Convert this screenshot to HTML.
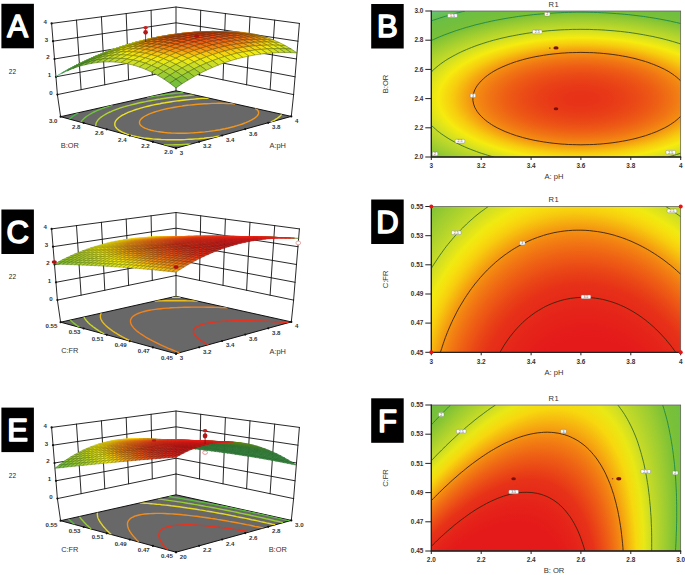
<!DOCTYPE html>
<html><head><meta charset="utf-8"><title>Response surfaces</title>
<style>html,body{margin:0;padding:0;background:#fff;overflow:hidden}svg{display:block}</style></head>
<body>
<svg width="685" height="575" viewBox="0 0 685 575">
<rect width="685" height="575" fill="#fff"/>
<g fill="none" stroke="#111" stroke-width="0.9" stroke-linecap="round">
<path d="M57.4 94.6L176.0 70.0L293.6 94.6M56.0 76.8L176.0 54.2L295.1 76.8M54.5 59.0L176.0 38.5L296.5 59.0M53.0 41.2L176.0 22.8L298.0 41.2M51.6 23.4L176.0 7.0L299.4 23.4M57.4 94.6L51.6 23.4M293.6 94.6L299.4 23.4M81.1 89.7L76.5 20.1M270.1 89.7L274.7 20.1M104.8 84.8L101.4 16.8M246.6 84.8L250.0 16.8M128.6 79.8L126.2 13.6M223.0 79.8L225.4 13.6M152.3 74.9L151.1 10.3M199.5 74.9L200.7 10.3M176.0 70.0L176.0 7.0M57.4 94.6L60.6 116.7M176.0 70.0L176.0 90.8M293.6 94.6L291.3 116.4"/>
</g>
<circle cx="57.4" cy="94.6" r="1.1" fill="#111"/>
<text x="52.6" y="95.0" font-size="6.1" font-weight="bold" fill="#333" text-anchor="end" font-family="Liberation Sans, sans-serif">0</text>
<circle cx="56.0" cy="76.8" r="1.1" fill="#111"/>
<text x="51.2" y="77.2" font-size="6.1" font-weight="bold" fill="#333" text-anchor="end" font-family="Liberation Sans, sans-serif">1</text>
<circle cx="54.5" cy="59.0" r="1.1" fill="#111"/>
<text x="49.7" y="59.4" font-size="6.1" font-weight="bold" fill="#333" text-anchor="end" font-family="Liberation Sans, sans-serif">2</text>
<circle cx="53.0" cy="41.2" r="1.1" fill="#111"/>
<text x="48.2" y="41.6" font-size="6.1" font-weight="bold" fill="#333" text-anchor="end" font-family="Liberation Sans, sans-serif">3</text>
<circle cx="51.6" cy="23.4" r="1.1" fill="#111"/>
<text x="46.8" y="23.8" font-size="6.1" font-weight="bold" fill="#333" text-anchor="end" font-family="Liberation Sans, sans-serif">4</text>
<path d="M60.6 116.7L176.0 90.8L291.3 116.4L176.0 148.2Z" fill="#686868" stroke="#111" stroke-width="1" stroke-linejoin="round"/>
<clipPath id="f1"><path d="M60.6 116.7L176.0 90.8L291.3 116.4L176.0 148.2Z"/></clipPath>
<g clip-path="url(#f1)" fill="none" stroke-width="1.4">
<path d="M78.7 112.6L77.4 113.4L76.5 113.9L74.9 114.9L74.2 115.4L73.3 116.0L72.1 116.9L71.4 117.5L70.8 118.0L69.8 118.9L69.6 119.2" stroke="#46b446"/>
<path d="M183.5 92.5L181.5 92.7L177.5 93.1L175.6 93.3L171.8 93.7L169.9 94.0L166.2 94.4L164.4 94.7L160.8 95.2L157.3 95.7L155.5 95.9L152.1 96.5L148.8 97.0L147.2 97.3" stroke="#6ec33c"/>
<path d="M112.5 105.1L110.1 105.8L107.7 106.6L105.4 107.3L104.2 107.8L102.0 108.6L100.6 109.1L98.8 109.8L96.9 110.6L95.8 111.2L94.0 112.0L92.9 112.5L91.5 113.3L90.3 114.0L89.5 114.5L87.9 115.5L87.1 116.0L86.2 116.6L85.0 117.6L84.4 118.1L83.8 118.7L83.0 119.5L82.2 120.4L81.7 121.0L81.3 121.6L80.9 122.3L80.9 122.3" stroke="#6ec33c"/>
<path d="M163.8 144.9L166.7 144.9L169.6 144.9L172.4 144.9L175.1 144.8L177.8 144.7L180.4 144.7L183.6 144.5L187.1 144.3L190.2 144.2L190.8 144.1" stroke="#afd432"/>
<path d="M194.5 94.9L190.8 95.2L188.2 95.5L186.0 95.7L182.1 96.1L180.2 96.3L176.3 96.7L174.4 97.0L170.7 97.5L168.3 97.8L165.3 98.2L161.8 98.7L160.1 99.0L156.8 99.5L153.5 100.1L150.2 100.7L147.7 101.1L145.6 101.6L142.5 102.2L139.6 102.8L136.7 103.5L133.9 104.2L131.1 104.9L129.3 105.4L127.2 105.9L124.6 106.7L122.1 107.4L119.7 108.2L118.6 108.6L116.3 109.4L114.5 110.1L113.0 110.7L111.0 111.6L110.0 112.0L108.1 112.9L107.1 113.4L105.4 114.3L104.5 114.9L103.5 115.5L102.2 116.4L101.4 116.9L100.5 117.6L99.5 118.5L98.9 119.1L98.3 119.7L97.7 120.4L97.1 121.3L96.6 122.1L96.3 122.8L96.1 123.4L95.9 124.1L95.8 124.8L95.8 125.6L95.9 126.3L95.9 126.3" stroke="#afd432"/>
<path d="M270.6 122.1L272.0 121.4L273.6 120.6L274.8 119.9L275.9 119.2L277.3 118.3L278.0 117.7L279.1 116.9L280.1 116.0L280.7 115.5L281.2 114.9L281.7 114.3" stroke="#ebe128"/>
<path d="M208.6 98.0L206.2 98.2L202.5 98.4L199.4 98.6L197.2 98.8L194.1 99.1L190.8 99.4L188.8 99.6L184.8 100.0L182.8 100.2L179.0 100.7L177.2 100.9L173.5 101.4L171.3 101.7L168.2 102.2L164.9 102.8L161.6 103.3L159.9 103.7L156.8 104.3L153.7 104.9L150.8 105.5L147.9 106.2L145.1 106.9L142.4 107.6L139.8 108.4L138.4 108.8L136.0 109.5L133.6 110.3L131.6 111.1L130.2 111.6L128.1 112.4L127.1 112.9L125.1 113.8L124.2 114.3L122.4 115.2L121.6 115.7L120.4 116.5L119.3 117.3L118.6 117.8L117.8 118.6L116.8 119.5L116.3 120.1L115.9 120.7L115.5 121.3L115.2 122.1L114.9 122.9L114.8 123.6L114.8 124.4L114.9 125.1L115.0 125.8L115.3 126.5L115.8 127.3L116.6 128.2L117.3 129.0L118.0 129.5L119.2 130.4L120.4 131.2L121.7 131.9L123.4 132.7L125.7 133.6L127.0 134.1L129.6 134.9L132.5 135.7L135.6 136.4L137.3 136.8L140.7 137.4L143.8 137.9L146.4 138.2L149.1 138.5L152.6 138.9L154.8 139.1L157.5 139.3L161.2 139.5L164.4 139.6L167.0 139.7L169.7 139.8L172.5 139.8L175.4 139.8L178.4 139.7L181.5 139.7L184.5 139.6L187.0 139.4L189.5 139.3L191.9 139.2L195.6 138.9L198.7 138.7L200.9 138.5L204.0 138.2L207.3 137.8L209.3 137.6L213.3 137.1L215.3 136.8L219.1 136.2L219.7 136.1" stroke="#ebe128"/>
<path d="M235.2 104.0L232.9 103.8L230.7 103.6L226.9 103.5L223.6 103.4L221.0 103.3L218.3 103.3L215.4 103.4L212.3 103.4L209.2 103.6L206.7 103.7L204.3 103.8L201.8 104.0L197.8 104.3L195.4 104.5L193.3 104.7L189.3 105.1L187.3 105.3L183.5 105.8L181.7 106.1L178.2 106.6L174.7 107.2L173.1 107.5L169.9 108.1L166.8 108.7L163.9 109.4L161.1 110.1L158.4 110.9L155.8 111.6L154.6 112.0L152.2 112.8L150.0 113.7L148.9 114.1L146.9 115.1L146.0 115.5L144.3 116.5L143.5 117.0L142.7 117.6L141.5 118.6L140.9 119.3L140.4 119.9L140.0 120.5L139.7 121.2L139.5 122.0L139.5 122.7L139.6 123.4L139.9 124.1L140.4 125.0L141.3 125.9L142.1 126.5L143.0 127.1L144.8 128.1L146.3 128.7L148.2 129.4L150.9 130.2L154.0 130.9L156.6 131.4L159.2 131.8L162.9 132.3L165.1 132.6L167.4 132.8L171.2 133.0L174.5 133.1L177.1 133.2L179.8 133.2L182.7 133.2L185.8 133.2L188.9 133.1L191.4 132.9L193.8 132.8L196.3 132.6L200.3 132.3L202.7 132.1L204.8 131.9L208.8 131.4L210.8 131.1L214.6 130.6L216.4 130.3L219.9 129.7L223.3 129.0L225.0 128.7L228.2 128.0L231.3 127.2L234.2 126.5L237.0 125.7L239.7 124.8L242.3 124.0L243.5 123.5L245.9 122.6L248.1 121.7L249.2 121.2L251.2 120.2L252.1 119.7L253.8 118.7L254.6 118.1L255.4 117.5L256.6 116.5L257.2 115.9L257.7 115.3L258.1 114.7L258.4 113.9L258.6 113.1L258.6 112.4L258.5 111.8L258.2 111.1L257.7 110.3L256.7 109.4L256.0 108.9L255.1 108.4L255.1 108.4" stroke="#f0961e"/>
</g>
<circle cx="60.6" cy="116.7" r="1.1" fill="#111"/>
<text x="57.4" y="122.6" font-size="6.1" font-weight="bold" fill="#333" text-anchor="end" font-family="Liberation Sans, sans-serif">3.0</text>
<circle cx="83.7" cy="123.0" r="1.1" fill="#111"/>
<text x="80.5" y="128.9" font-size="6.1" font-weight="bold" fill="#333" text-anchor="end" font-family="Liberation Sans, sans-serif">2.8</text>
<circle cx="106.8" cy="129.3" r="1.1" fill="#111"/>
<text x="103.6" y="135.2" font-size="6.1" font-weight="bold" fill="#333" text-anchor="end" font-family="Liberation Sans, sans-serif">2.6</text>
<circle cx="129.8" cy="135.6" r="1.1" fill="#111"/>
<text x="126.6" y="141.5" font-size="6.1" font-weight="bold" fill="#333" text-anchor="end" font-family="Liberation Sans, sans-serif">2.4</text>
<circle cx="152.9" cy="141.9" r="1.1" fill="#111"/>
<text x="149.7" y="147.8" font-size="6.1" font-weight="bold" fill="#333" text-anchor="end" font-family="Liberation Sans, sans-serif">2.2</text>
<circle cx="176.0" cy="148.2" r="1.1" fill="#111"/>
<text x="172.8" y="154.1" font-size="6.1" font-weight="bold" fill="#333" text-anchor="end" font-family="Liberation Sans, sans-serif">2.0</text>
<circle cx="176.0" cy="148.2" r="1.1" fill="#111"/>
<text x="179.8" y="154.6" font-size="6.1" font-weight="bold" fill="#333" text-anchor="start" font-family="Liberation Sans, sans-serif">3</text>
<circle cx="199.1" cy="141.8" r="1.1" fill="#111"/>
<text x="202.9" y="148.2" font-size="6.1" font-weight="bold" fill="#333" text-anchor="start" font-family="Liberation Sans, sans-serif">3.2</text>
<circle cx="222.1" cy="135.5" r="1.1" fill="#111"/>
<text x="225.9" y="141.9" font-size="6.1" font-weight="bold" fill="#333" text-anchor="start" font-family="Liberation Sans, sans-serif">3.4</text>
<circle cx="245.2" cy="129.1" r="1.1" fill="#111"/>
<text x="249.0" y="135.5" font-size="6.1" font-weight="bold" fill="#333" text-anchor="start" font-family="Liberation Sans, sans-serif">3.6</text>
<circle cx="268.2" cy="122.8" r="1.1" fill="#111"/>
<text x="272.0" y="129.2" font-size="6.1" font-weight="bold" fill="#333" text-anchor="start" font-family="Liberation Sans, sans-serif">3.8</text>
<circle cx="291.3" cy="116.4" r="1.1" fill="#111"/>
<text x="295.1" y="122.8" font-size="6.1" font-weight="bold" fill="#333" text-anchor="start" font-family="Liberation Sans, sans-serif">4</text>
<text x="69.8" y="147.8" font-size="7.4" fill="#333" text-anchor="middle" font-family="Liberation Sans, sans-serif">B:OR</text>
<text x="277.7" y="148.0" font-size="7.4" fill="#333" text-anchor="middle" font-family="Liberation Sans, sans-serif">A:pH</text>
<text x="12.4" y="73.9" font-size="6.5" fill="#222" text-anchor="middle" font-family="Liberation Sans, sans-serif">22</text>
<g stroke-width="0.6" stroke-linejoin="round">
<path d="M176.0 43.5L182.0 43.8L176.0 46.6L170.0 46.3Z" fill="#398d40" stroke="#2b6a30"/>
<path d="M169.9 43.3L176.0 43.5L170.0 46.3L163.9 46.2Z" fill="#398d40" stroke="#2b6a30"/>
<path d="M182.0 40.9L188.0 41.2L182.0 43.8L176.0 43.5Z" fill="#398d40" stroke="#2b6a30"/>
<path d="M163.8 43.4L169.9 43.3L163.9 46.2L157.8 46.3Z" fill="#398d40" stroke="#2b6a30"/>
<path d="M188.0 38.6L194.1 39.0L188.0 41.2L182.0 40.9Z" fill="#398d40" stroke="#2b6a30"/>
<path d="M175.9 40.8L182.0 40.9L176.0 43.5L169.9 43.3Z" fill="#398d40" stroke="#2b6a30"/>
<path d="M157.7 43.6L163.8 43.4L157.8 46.3L151.8 46.5Z" fill="#398d40" stroke="#2b6a30"/>
<path d="M169.8 40.8L175.9 40.8L169.9 43.3L163.8 43.4Z" fill="#398d40" stroke="#2b6a30"/>
<path d="M182.0 38.5L188.0 38.6L182.0 40.9L175.9 40.8Z" fill="#398d40" stroke="#2b6a30"/>
<path d="M194.1 36.7L200.2 37.0L194.1 39.0L188.0 38.6Z" fill="#398d40" stroke="#2b6a30"/>
<path d="M175.9 38.5L182.0 38.5L175.9 40.8L169.8 40.8Z" fill="#398d40" stroke="#2b6a30"/>
<path d="M151.6 43.9L157.7 43.6L151.8 46.5L145.7 46.9Z" fill="#398d40" stroke="#2b6a30"/>
<path d="M163.7 41.0L169.8 40.8L163.8 43.4L157.7 43.6Z" fill="#398d40" stroke="#2b6a30"/>
<path d="M188.0 36.5L194.1 36.7L188.0 38.6L182.0 38.5Z" fill="#398d40" stroke="#2b6a30"/>
<path d="M200.2 35.0L206.3 35.4L200.2 37.0L194.1 36.7Z" fill="#398d40" stroke="#2b6a30"/>
<path d="M145.6 44.5L151.6 43.9L145.7 46.9L139.6 47.4Z" fill="#398d40" stroke="#2b6a30"/>
<path d="M169.8 38.6L175.9 38.5L169.8 40.8L163.7 41.0Z" fill="#398d40" stroke="#2b6a30"/>
<path d="M181.9 36.5L188.0 36.5L182.0 38.5L175.9 38.5Z" fill="#398d40" stroke="#2b6a30"/>
<path d="M206.4 33.7L212.4 34.1L206.3 35.4L200.2 35.0Z" fill="#398d40" stroke="#2b6a30"/>
<path d="M157.6 41.3L163.7 41.0L157.7 43.6L151.6 43.9Z" fill="#398d40" stroke="#2b6a30"/>
<path d="M194.1 34.8L200.2 35.0L194.1 36.7L188.0 36.5Z" fill="#398d40" stroke="#2b6a30"/>
<path d="M139.5 45.3L145.6 44.5L139.6 47.4L133.6 48.2Z" fill="#398d40" stroke="#2b6a30"/>
<path d="M151.5 41.9L157.6 41.3L151.6 43.9L145.6 44.5Z" fill="#398d40" stroke="#2b6a30"/>
<path d="M163.7 39.0L169.8 38.6L163.7 41.0L157.6 41.3Z" fill="#398d40" stroke="#2b6a30"/>
<path d="M175.8 36.6L181.9 36.5L175.9 38.5L169.8 38.6Z" fill="#398d40" stroke="#2b6a30"/>
<path d="M188.0 34.8L194.1 34.8L188.0 36.5L181.9 36.5Z" fill="#398d40" stroke="#2b6a30"/>
<path d="M200.3 33.5L206.4 33.7L200.2 35.0L194.1 34.8Z" fill="#398d40" stroke="#2b6a30"/>
<path d="M212.5 32.7L218.6 33.1L212.4 34.1L206.4 33.7Z" fill="#398d40" stroke="#2b6a30"/>
<path d="M133.4 46.2L139.5 45.3L133.6 48.2L127.5 49.2Z" fill="#398d40" stroke="#2b6a30"/>
<path d="M157.6 39.5L163.7 39.0L157.6 41.3L151.5 41.9Z" fill="#398d40" stroke="#2b6a30"/>
<path d="M194.2 33.5L200.3 33.5L194.1 34.8L188.0 34.8Z" fill="#398d40" stroke="#2b6a30"/>
<path d="M218.6 32.0L224.7 32.4L218.6 33.1L212.5 32.7Z" fill="#3b8e3d" stroke="#2c6a2e"/>
<path d="M145.4 42.6L151.5 41.9L145.6 44.5L139.5 45.3Z" fill="#398d40" stroke="#2b6a30"/>
<path d="M169.7 37.0L175.8 36.6L169.8 38.6L163.7 39.0Z" fill="#398d40" stroke="#2b6a30"/>
<path d="M181.9 35.0L188.0 34.8L181.9 36.5L175.8 36.6Z" fill="#398d40" stroke="#2b6a30"/>
<path d="M206.4 32.5L212.5 32.7L206.4 33.7L200.3 33.5Z" fill="#3a8e3e" stroke="#2c6a2f"/>
<path d="M127.3 47.3L133.4 46.2L127.5 49.2L121.4 50.3Z" fill="#398d40" stroke="#2b6a30"/>
<path d="M139.3 43.5L145.4 42.6L139.5 45.3L133.4 46.2Z" fill="#398d40" stroke="#2b6a30"/>
<path d="M151.5 40.3L157.6 39.5L151.5 41.9L145.4 42.6Z" fill="#398d40" stroke="#2b6a30"/>
<path d="M163.6 37.5L169.7 37.0L163.7 39.0L157.6 39.5Z" fill="#398d40" stroke="#2b6a30"/>
<path d="M188.0 33.6L194.2 33.5L188.0 34.8L181.9 35.0Z" fill="#3a8e3e" stroke="#2c6a2f"/>
<path d="M200.3 32.4L206.4 32.5L200.3 33.5L194.2 33.5Z" fill="#3b8e3c" stroke="#2c6a2d"/>
<path d="M212.5 31.8L218.6 32.0L212.5 32.7L206.4 32.5Z" fill="#3c8e3b" stroke="#2d6a2c"/>
<path d="M224.8 31.7L230.8 32.1L224.7 32.4L218.6 32.0Z" fill="#3c8e3b" stroke="#2d6a2c"/>
<path d="M175.8 35.3L181.9 35.0L175.8 36.6L169.7 37.0Z" fill="#398d40" stroke="#2b6a30"/>
<path d="M145.3 41.2L151.5 40.3L145.4 42.6L139.3 43.5Z" fill="#398d40" stroke="#2b6a30"/>
<path d="M206.4 31.8L212.5 31.8L206.4 32.5L200.3 32.4Z" fill="#3d8e39" stroke="#2e6b2b"/>
<path d="M121.3 48.6L127.3 47.3L121.4 50.3L115.4 51.6Z" fill="#398d40" stroke="#2b6a30"/>
<path d="M133.3 44.6L139.3 43.5L133.4 46.2L127.3 47.3Z" fill="#398d40" stroke="#2b6a30"/>
<path d="M157.5 38.2L163.6 37.5L157.6 39.5L151.5 40.3Z" fill="#398d40" stroke="#2b6a30"/>
<path d="M169.7 35.8L175.8 35.3L169.7 37.0L163.6 37.5Z" fill="#398d40" stroke="#2b6a30"/>
<path d="M181.9 33.9L188.0 33.6L181.9 35.0L175.8 35.3Z" fill="#3b8e3d" stroke="#2c6a2e"/>
<path d="M194.2 32.6L200.3 32.4L194.2 33.5L188.0 33.6Z" fill="#3c8e3b" stroke="#2d6a2c"/>
<path d="M218.7 31.5L224.8 31.7L218.6 32.0L212.5 31.8Z" fill="#3f8f39" stroke="#2f6b2b"/>
<path d="M230.9 31.8L237.0 32.2L230.8 32.1L224.8 31.7Z" fill="#3d8e39" stroke="#2e6b2b"/>
<path d="M139.2 42.3L145.3 41.2L139.3 43.5L133.3 44.6Z" fill="#398d40" stroke="#2b6a30"/>
<path d="M151.4 39.1L157.5 38.2L151.5 40.3L145.3 41.2Z" fill="#398d40" stroke="#2b6a30"/>
<path d="M175.8 34.4L181.9 33.9L175.8 35.3L169.7 35.8Z" fill="#3b8e3c" stroke="#2d6a2d"/>
<path d="M200.3 31.9L206.4 31.8L200.3 32.4L194.2 32.6Z" fill="#429138" stroke="#316c2a"/>
<path d="M212.6 31.4L218.7 31.5L212.5 31.8L206.4 31.8Z" fill="#449237" stroke="#336d29"/>
<path d="M115.2 50.2L121.3 48.6L115.4 51.6L109.3 53.1Z" fill="#398d40" stroke="#2b6a30"/>
<path d="M237.0 32.1L243.1 32.5L237.0 32.2L230.9 31.8Z" fill="#419038" stroke="#316c2a"/>
<path d="M127.2 46.0L133.3 44.6L127.3 47.3L121.3 48.6Z" fill="#398d40" stroke="#2b6a30"/>
<path d="M163.6 36.5L169.7 35.8L163.6 37.5L157.5 38.2Z" fill="#398d3f" stroke="#2b6a30"/>
<path d="M188.0 32.9L194.2 32.6L188.0 33.6L181.9 33.9Z" fill="#3d8e39" stroke="#2e6b2b"/>
<path d="M224.8 31.5L230.9 31.8L224.8 31.7L218.7 31.5Z" fill="#449237" stroke="#336d29"/>
<path d="M109.1 51.9L115.2 50.2L109.3 53.1L103.3 54.9Z" fill="#398d40" stroke="#2b6a30"/>
<path d="M133.1 43.6L139.2 42.3L133.3 44.6L127.2 46.0Z" fill="#398d40" stroke="#2b6a30"/>
<path d="M145.3 40.2L151.4 39.1L145.3 41.2L139.2 42.3Z" fill="#398d40" stroke="#2b6a30"/>
<path d="M157.4 37.4L163.6 36.5L157.5 38.2L151.4 39.1Z" fill="#398d3f" stroke="#2b6a2f"/>
<path d="M169.7 35.1L175.8 34.4L169.7 35.8L163.6 36.5Z" fill="#3c8e3b" stroke="#2d6a2d"/>
<path d="M181.9 33.4L188.0 32.9L181.9 33.9L175.8 34.4Z" fill="#409039" stroke="#306c2a"/>
<path d="M194.2 32.2L200.3 31.9L194.2 32.6L188.0 32.9Z" fill="#459337" stroke="#346e29"/>
<path d="M206.5 31.6L212.6 31.4L206.4 31.8L200.3 31.9Z" fill="#499436" stroke="#366f28"/>
<path d="M218.7 31.5L224.8 31.5L218.7 31.5L212.6 31.4Z" fill="#499435" stroke="#376f28"/>
<path d="M243.1 32.9L249.2 33.3L243.1 32.5L237.0 32.1Z" fill="#f59c11" stroke="#e99c10"/>
<path d="M121.1 47.5L127.2 46.0L121.3 48.6L115.2 50.2Z" fill="#398d40" stroke="#2b6a30"/>
<path d="M231.0 31.9L237.0 32.1L230.9 31.8L224.8 31.5Z" fill="#f38a12" stroke="#f38a12"/>
<path d="M163.5 36.0L169.7 35.1L163.6 36.5L157.4 37.4Z" fill="#3c8e3b" stroke="#2d6a2c"/>
<path d="M188.0 32.7L194.2 32.2L188.0 32.9L181.9 33.4Z" fill="#489436" stroke="#366f28"/>
<path d="M103.1 53.8L109.1 51.9L103.3 54.9L97.3 56.8Z" fill="#398d40" stroke="#2b6a30"/>
<path d="M127.1 45.1L133.1 43.6L127.2 46.0L121.1 47.5Z" fill="#398d40" stroke="#2b6a30"/>
<path d="M224.9 31.8L231.0 31.9L224.8 31.5L218.7 31.5Z" fill="#f17913" stroke="#e67912"/>
<path d="M249.2 34.0L255.3 34.4L249.2 33.3L243.1 32.9Z" fill="#f59c11" stroke="#b27a0d"/>
<path d="M115.0 49.2L121.1 47.5L115.2 50.2L109.1 51.9Z" fill="#398d40" stroke="#2b6a30"/>
<path d="M139.2 41.5L145.3 40.2L139.2 42.3L133.1 43.6Z" fill="#398d40" stroke="#2b6a30"/>
<path d="M151.3 38.5L157.4 37.4L151.4 39.1L145.3 40.2Z" fill="#398d3f" stroke="#2b6a2f"/>
<path d="M175.8 34.1L181.9 33.4L175.8 34.4L169.7 35.1Z" fill="#429038" stroke="#316c2a"/>
<path d="M200.3 31.9L206.5 31.6L200.3 31.9L194.2 32.2Z" fill="#4c9634" stroke="#397127"/>
<path d="M212.6 31.6L218.7 31.5L212.6 31.4L206.5 31.6Z" fill="#f17513" stroke="#f17513"/>
<path d="M237.1 32.6L243.1 32.9L237.0 32.1L231.0 31.9Z" fill="#f28413" stroke="#cc7610"/>
<path d="M97.1 56.0L103.1 53.8L97.3 56.8L91.3 59.0Z" fill="#398d40" stroke="#2b6a30"/>
<path d="M121.0 46.8L127.1 45.1L121.1 47.5L115.0 49.2Z" fill="#398d40" stroke="#2b6a30"/>
<path d="M157.4 37.1L163.5 36.0L157.4 37.4L151.3 38.5Z" fill="#3c8e3b" stroke="#2d6a2c"/>
<path d="M169.6 35.0L175.8 34.1L169.7 35.1L163.5 36.0Z" fill="#429138" stroke="#326d2a"/>
<path d="M181.9 33.4L188.0 32.7L181.9 33.4L175.8 34.1Z" fill="#f28113" stroke="#f28113"/>
<path d="M194.2 32.4L200.3 31.9L194.2 32.2L188.0 32.7Z" fill="#f07113" stroke="#f07113"/>
<path d="M231.0 32.6L237.1 32.6L231.0 31.9L224.9 31.8Z" fill="#f07313" stroke="#af5a0e"/>
<path d="M255.3 35.5L261.4 35.9L255.3 34.4L249.2 34.0Z" fill="#f5a411" stroke="#7b5a08"/>
<path d="M109.0 51.1L115.0 49.2L109.1 51.9L103.1 53.8Z" fill="#398d40" stroke="#2b6a30"/>
<path d="M133.0 43.0L139.2 41.5L133.1 43.6L127.1 45.1Z" fill="#398d40" stroke="#2b6a30"/>
<path d="M218.7 32.0L224.9 31.8L218.7 31.5L212.6 31.6Z" fill="#ef6a14" stroke="#c95e10"/>
<path d="M243.2 33.8L249.2 34.0L243.1 32.9L237.1 32.6Z" fill="#f28413" stroke="#95580b"/>
<path d="M145.2 39.8L151.3 38.5L145.3 40.2L139.2 41.5Z" fill="#398d3f" stroke="#2b6a30"/>
<path d="M206.5 31.9L212.6 31.6L206.5 31.6L200.3 31.9Z" fill="#ef6914" stroke="#e26913"/>
<path d="M175.8 34.3L181.9 33.4L175.8 34.1L169.6 35.0Z" fill="#f27e13" stroke="#f27e13"/>
<path d="M114.9 48.7L121.0 46.8L115.0 49.2L109.0 51.1Z" fill="#398d40" stroke="#2b6a30"/>
<path d="M237.1 33.7L243.2 33.8L237.1 32.6L231.0 32.6Z" fill="#f07313" stroke="#783f0a"/>
<path d="M91.1 58.3L97.1 56.0L91.3 59.0L85.3 61.3Z" fill="#398d40" stroke="#2b6a30"/>
<path d="M103.0 53.3L109.0 51.1L103.1 53.8L97.1 56.0Z" fill="#398d40" stroke="#2b6a30"/>
<path d="M127.0 44.8L133.0 43.0L127.1 45.1L121.0 46.8Z" fill="#398d40" stroke="#2b6a30"/>
<path d="M151.3 38.4L157.4 37.1L151.3 38.5L145.2 39.8Z" fill="#3c8e3b" stroke="#2d6a2d"/>
<path d="M163.5 36.1L169.6 35.0L163.5 36.0L157.4 37.1Z" fill="#f59c11" stroke="#f59c11"/>
<path d="M188.0 33.1L194.2 32.4L188.0 32.7L181.9 33.4Z" fill="#ef6b14" stroke="#de6912"/>
<path d="M200.3 32.4L206.5 31.9L200.3 31.9L194.2 32.4Z" fill="#ee6114" stroke="#c55510"/>
<path d="M224.9 32.7L231.0 32.6L224.9 31.8L218.7 32.0Z" fill="#ef6514" stroke="#92430c"/>
<path d="M249.3 35.2L255.3 35.5L249.2 34.0L243.2 33.8Z" fill="#f38a12" stroke="#7a4c09"/>
<path d="M261.4 37.3L267.4 37.7L261.4 35.9L255.3 35.5Z" fill="#f6b40f" stroke="#7b6308"/>
<path d="M139.1 41.3L145.2 39.8L139.2 41.5L133.0 43.0Z" fill="#398d40" stroke="#2b6a30"/>
<path d="M212.6 32.3L218.7 32.0L212.6 31.6L206.5 31.9Z" fill="#ee5f14" stroke="#ac490e"/>
<path d="M108.9 50.9L114.9 48.7L109.0 51.1L103.0 53.3Z" fill="#398d40" stroke="#2b6a30"/>
<path d="M169.6 35.4L175.8 34.3L169.6 35.0L163.5 36.1Z" fill="#f27e13" stroke="#da7811"/>
<path d="M181.9 34.0L188.0 33.1L181.9 33.4L175.8 34.3Z" fill="#ef6814" stroke="#c15910"/>
<path d="M243.2 35.2L249.3 35.2L243.2 33.8L237.1 33.7Z" fill="#f17913" stroke="#794209"/>
<path d="M85.2 60.9L91.1 58.3L85.3 61.3L79.4 63.9Z" fill="#398d40" stroke="#2b6a30"/>
<path d="M120.9 46.7L127.0 44.8L121.0 46.8L114.9 48.7Z" fill="#398d40" stroke="#2b6a30"/>
<path d="M145.1 39.9L151.3 38.4L145.2 39.8L139.1 41.3Z" fill="#f7d30e" stroke="#f7d30e"/>
<path d="M206.5 32.8L212.6 32.3L206.5 31.9L200.3 32.4Z" fill="#ed5715" stroke="#8e390c"/>
<path d="M231.0 33.8L237.1 33.7L231.0 32.6L224.9 32.7Z" fill="#ef6514" stroke="#77370a"/>
<path d="M267.4 39.6L273.4 39.9L267.4 37.7L261.4 37.3Z" fill="#f7ca0e" stroke="#7b6f07"/>
<path d="M97.0 55.6L103.0 53.3L97.1 56.0L91.1 58.3Z" fill="#398d40" stroke="#2b6a30"/>
<path d="M133.0 43.0L139.1 41.3L133.0 43.0L127.0 44.8Z" fill="#398d40" stroke="#2b6a30"/>
<path d="M157.4 37.4L163.5 36.1L157.4 37.1L151.3 38.4Z" fill="#f5a011" stroke="#f4a011"/>
<path d="M194.2 33.1L200.3 32.4L194.2 32.4L188.0 33.1Z" fill="#ed5b14" stroke="#a8450e"/>
<path d="M218.8 33.0L224.9 32.7L218.7 32.0L212.6 32.3Z" fill="#ed5a14" stroke="#77310a"/>
<path d="M255.3 37.1L261.4 37.3L255.3 35.5L249.3 35.2Z" fill="#f49612" stroke="#7a5309"/>
<path d="M79.2 63.7L85.2 60.9L79.4 63.9L73.5 66.7Z" fill="#398d40" stroke="#2b6a30"/>
<path d="M102.8 53.2L108.9 50.9L103.0 53.3L97.0 55.6Z" fill="#398d40" stroke="#2b6a30"/>
<path d="M114.8 48.8L120.9 46.7L114.9 48.7L108.9 50.9Z" fill="#b0d32d" stroke="#b0d32d"/>
<path d="M139.0 41.7L145.1 39.9L139.1 41.3L133.0 43.0Z" fill="#f6db0e" stroke="#ebdb0d"/>
<path d="M163.5 36.7L169.6 35.4L163.5 36.1L157.4 37.4Z" fill="#f28113" stroke="#bc6a0e"/>
<path d="M175.8 35.1L181.9 34.0L175.8 34.3L169.6 35.4Z" fill="#ef6814" stroke="#a34c0d"/>
<path d="M188.0 34.0L194.2 33.1L188.0 33.1L181.9 34.0Z" fill="#ed5915" stroke="#8a380c"/>
<path d="M212.6 33.6L218.8 33.0L212.6 32.3L206.5 32.8Z" fill="#ec5215" stroke="#762d0b"/>
<path d="M237.1 35.4L243.2 35.2L237.1 33.7L231.0 33.8Z" fill="#ef6a14" stroke="#783a0a"/>
<path d="M249.3 37.1L255.3 37.1L249.3 35.2L243.2 35.2Z" fill="#f28313" stroke="#794809"/>
<path d="M273.4 42.2L279.4 42.6L273.4 39.9L267.4 39.6Z" fill="#f6df0e" stroke="#7b7b07"/>
<path d="M91.0 58.2L97.0 55.6L91.1 58.3L85.2 60.9Z" fill="#398d40" stroke="#2b6a30"/>
<path d="M126.9 45.0L133.0 43.0L127.0 44.8L120.9 46.7Z" fill="#d9e21e" stroke="#d9e21e"/>
<path d="M151.2 38.9L157.4 37.4L151.3 38.4L145.1 39.9Z" fill="#f5a910" stroke="#d59b0e"/>
<path d="M200.3 33.5L206.5 32.8L200.3 32.4L194.2 33.1Z" fill="#ec5215" stroke="#762d0b"/>
<path d="M224.9 34.2L231.0 33.8L224.9 32.7L218.8 33.0Z" fill="#ed5a14" stroke="#77310a"/>
<path d="M261.4 39.4L267.4 39.6L261.4 37.3L255.3 37.1Z" fill="#f6ae10" stroke="#7b6008"/>
<path d="M96.8 55.8L102.8 53.2L97.0 55.6L91.0 58.2Z" fill="#7ac037" stroke="#7ac037"/>
<path d="M132.9 43.6L139.0 41.7L133.0 43.0L126.9 45.0Z" fill="#f6e60e" stroke="#cbc90c"/>
<path d="M157.3 38.2L163.5 36.7L157.4 37.4L151.2 38.9Z" fill="#f38612" stroke="#9d5e0c"/>
<path d="M194.2 34.4L200.3 33.5L194.2 33.1L188.0 34.0Z" fill="#ec4f15" stroke="#762c0b"/>
<path d="M218.8 34.7L224.9 34.2L218.8 33.0L212.6 33.6Z" fill="#ec5215" stroke="#762d0b"/>
<path d="M255.3 39.4L261.4 39.4L255.3 37.1L249.3 37.1Z" fill="#f49512" stroke="#7a5209"/>
<path d="M73.3 66.7L79.2 63.7L73.5 66.7L67.6 69.7Z" fill="#398d40" stroke="#2b6a30"/>
<path d="M85.0 61.0L91.0 58.2L85.2 60.9L79.2 63.7Z" fill="#70bf40" stroke="#70bf40"/>
<path d="M108.8 51.2L114.8 48.8L108.9 50.9L102.8 53.2Z" fill="#a5cf2f" stroke="#a2cf2e"/>
<path d="M120.8 47.1L126.9 45.0L120.9 46.7L114.8 48.8Z" fill="#ccdd26" stroke="#b9d422"/>
<path d="M145.1 40.6L151.2 38.9L145.1 39.9L139.0 41.7Z" fill="#f6b60f" stroke="#b68f0b"/>
<path d="M169.6 36.4L175.8 35.1L169.6 35.4L163.5 36.7Z" fill="#ef6b14" stroke="#84410b"/>
<path d="M181.9 35.1L188.0 34.0L181.9 34.0L175.8 35.1Z" fill="#ed5915" stroke="#77310a"/>
<path d="M206.5 34.3L212.6 33.6L206.5 32.8L200.3 33.5Z" fill="#eb4d16" stroke="#762a0b"/>
<path d="M231.0 35.7L237.1 35.4L231.0 33.8L224.9 34.2Z" fill="#ee5f14" stroke="#77340a"/>
<path d="M243.2 37.3L249.3 37.1L243.2 35.2L237.1 35.4Z" fill="#f17513" stroke="#78400a"/>
<path d="M267.4 42.0L273.4 42.2L267.4 39.6L261.4 39.4Z" fill="#f7cc0e" stroke="#7b7007"/>
<path d="M279.3 45.3L285.3 45.6L279.4 42.6L273.4 42.2Z" fill="#eae815" stroke="#757f0a"/>
<path d="M90.9 58.6L96.8 55.8L91.0 58.2L85.0 61.0Z" fill="#77c03a" stroke="#6dba35"/>
<path d="M126.8 45.7L132.9 43.6L126.9 45.0L120.8 47.1Z" fill="#efe912" stroke="#a5ad0d"/>
<path d="M151.2 39.9L157.3 38.2L151.2 38.9L145.1 40.6Z" fill="#f48f12" stroke="#7d5109"/>
<path d="M200.3 35.2L206.5 34.3L200.3 33.5L194.2 34.4Z" fill="#eb4a16" stroke="#75290b"/>
<path d="M224.9 36.2L231.0 35.7L224.9 34.2L218.8 34.7Z" fill="#ed5715" stroke="#76300a"/>
<path d="M261.3 42.1L267.4 42.0L261.4 39.4L255.3 39.4Z" fill="#f6b40f" stroke="#7b6308"/>
<path d="M67.4 69.9L73.3 66.7L67.6 69.7L61.7 72.9Z" fill="#66c175" stroke="#66c175"/>
<path d="M102.8 53.8L108.8 51.2L102.8 53.2L96.8 55.8Z" fill="#99cb31" stroke="#81b62a"/>
<path d="M139.0 42.6L145.1 40.6L139.0 41.7L132.9 43.6Z" fill="#f7c60e" stroke="#958209"/>
<path d="M163.5 37.9L169.6 36.4L163.5 36.7L157.3 38.2Z" fill="#f07113" stroke="#783e0a"/>
<path d="M188.0 35.5L194.2 34.4L188.0 34.0L181.9 35.1Z" fill="#ec4f15" stroke="#762c0b"/>
<path d="M212.6 35.4L218.8 34.7L212.6 33.6L206.5 34.3Z" fill="#eb4d16" stroke="#762a0b"/>
<path d="M249.2 39.6L255.3 39.4L249.3 37.1L243.2 37.3Z" fill="#f38512" stroke="#794909"/>
<path d="M285.2 48.7L291.2 49.0L285.3 45.6L279.3 45.3Z" fill="#ccdd26" stroke="#667a13"/>
<path d="M79.1 64.0L85.0 61.0L79.2 63.7L73.3 66.7Z" fill="#6cbe43" stroke="#6bbe42"/>
<path d="M114.8 49.5L120.8 47.1L114.8 48.8L108.8 51.2Z" fill="#c0d92a" stroke="#94b220"/>
<path d="M175.8 36.4L181.9 35.1L175.8 35.1L169.6 36.4Z" fill="#ed5b14" stroke="#77320a"/>
<path d="M237.1 37.6L243.2 37.3L237.1 35.4L231.0 35.7Z" fill="#ef6914" stroke="#783a0a"/>
<path d="M273.3 45.1L279.3 45.3L273.4 42.2L267.4 42.0Z" fill="#f6e50e" stroke="#7b7e07"/>
<path d="M145.1 41.9L151.2 39.9L145.1 40.6L139.0 42.6Z" fill="#f59f11" stroke="#7a5708"/>
<path d="M206.5 36.4L212.6 35.4L206.5 34.3L200.3 35.2Z" fill="#eb4a16" stroke="#75290b"/>
<path d="M61.6 73.4L67.4 69.9L61.7 72.9L55.9 76.4Z" fill="#65c28c" stroke="#5cbb7f"/>
<path d="M84.9 61.7L90.9 58.6L85.0 61.0L79.1 64.0Z" fill="#73bf3d" stroke="#5a9f30"/>
<path d="M96.8 56.6L102.8 53.8L96.8 55.8L90.9 58.6Z" fill="#8ac634" stroke="#629625"/>
<path d="M120.8 48.1L126.8 45.7L120.8 47.1L114.8 49.5Z" fill="#dfe41b" stroke="#7b890f"/>
<path d="M132.9 44.7L139.0 42.6L132.9 43.6L126.8 45.7Z" fill="#f7d50e" stroke="#7b7507"/>
<path d="M157.3 39.6L163.5 37.9L157.3 38.2L151.2 39.9Z" fill="#f17a13" stroke="#794309"/>
<path d="M194.2 36.3L200.3 35.2L194.2 34.4L188.0 35.5Z" fill="#eb4a16" stroke="#75290b"/>
<path d="M218.8 37.0L224.9 36.2L218.8 34.7L212.6 35.4Z" fill="#ec5215" stroke="#762d0b"/>
<path d="M231.0 38.2L237.1 37.6L231.0 35.7L224.9 36.2Z" fill="#ee6114" stroke="#77350a"/>
<path d="M255.3 42.3L261.3 42.1L255.3 39.4L249.2 39.6Z" fill="#f59f11" stroke="#7a5708"/>
<path d="M267.3 45.2L273.3 45.1L267.4 42.0L261.3 42.1Z" fill="#f7d50e" stroke="#7b7507"/>
<path d="M291.1 52.6L297.0 52.9L291.2 49.0L285.2 48.7Z" fill="#b3d52c" stroke="#5a7516"/>
<path d="M73.2 67.3L79.1 64.0L73.3 66.7L67.4 69.9Z" fill="#69be4a" stroke="#59ab3f"/>
<path d="M108.7 52.1L114.8 49.5L108.8 51.2L102.8 53.8Z" fill="#b3d52c" stroke="#72911c"/>
<path d="M169.6 37.9L175.8 36.4L169.6 36.4L163.5 37.9Z" fill="#ee6114" stroke="#77350a"/>
<path d="M181.9 36.8L188.0 35.5L181.9 35.1L175.8 36.4Z" fill="#ec5215" stroke="#762d0b"/>
<path d="M243.2 39.9L249.2 39.6L243.2 37.3L237.1 37.6Z" fill="#f17a13" stroke="#794309"/>
<path d="M279.2 48.6L285.2 48.7L279.3 45.3L273.3 45.1Z" fill="#dfe41b" stroke="#6f7d0e"/>
<path d="M139.0 44.1L145.1 41.9L139.0 42.6L132.9 44.7Z" fill="#f6b40f" stroke="#7b6308"/>
<path d="M212.6 37.9L218.8 37.0L212.6 35.4L206.5 36.4Z" fill="#ec4f15" stroke="#762c0b"/>
<path d="M79.0 64.9L84.9 61.7L79.1 64.0L73.2 67.3Z" fill="#70bf40" stroke="#478429"/>
<path d="M114.7 50.7L120.8 48.1L114.8 49.5L108.7 52.1Z" fill="#ccdd26" stroke="#667a13"/>
<path d="M151.2 41.6L157.3 39.6L151.2 39.9L145.1 41.9Z" fill="#f38512" stroke="#794909"/>
<path d="M200.3 37.5L206.5 36.4L200.3 35.2L194.2 36.3Z" fill="#eb4a16" stroke="#75290b"/>
<path d="M237.1 40.5L243.2 39.9L237.1 37.6L231.0 38.2Z" fill="#f07113" stroke="#783e0a"/>
<path d="M273.2 48.7L279.2 48.6L273.3 45.1L267.3 45.2Z" fill="#efe912" stroke="#778009"/>
<path d="M67.3 70.8L73.2 67.3L67.4 69.9L61.6 73.4Z" fill="#68bf61" stroke="#499145"/>
<path d="M90.8 59.6L96.8 56.6L90.9 58.6L84.9 61.7Z" fill="#7ac037" stroke="#45771f"/>
<path d="M102.7 54.9L108.7 52.1L102.8 53.8L96.8 56.6Z" fill="#a5cf2f" stroke="#537217"/>
<path d="M126.8 47.1L132.9 44.7L126.8 45.7L120.8 48.1Z" fill="#f6e50e" stroke="#7b7e07"/>
<path d="M163.5 39.7L169.6 37.9L163.5 37.9L157.3 39.6Z" fill="#ef6914" stroke="#783a0a"/>
<path d="M175.8 38.4L181.9 36.8L175.8 36.4L169.6 37.9Z" fill="#ed5715" stroke="#76300a"/>
<path d="M188.0 37.6L194.2 36.3L188.0 35.5L181.9 36.8Z" fill="#eb4d16" stroke="#762a0b"/>
<path d="M224.9 38.9L231.0 38.2L224.9 36.2L218.8 37.0Z" fill="#ed5b14" stroke="#77320a"/>
<path d="M249.2 42.7L255.3 42.3L249.2 39.6L243.2 39.9Z" fill="#f48f12" stroke="#7a4f09"/>
<path d="M261.3 45.4L267.3 45.2L261.3 42.1L255.3 42.3Z" fill="#f7c60e" stroke="#7b6d07"/>
<path d="M285.1 52.5L291.1 52.6L285.2 48.7L279.2 48.6Z" fill="#c0d92a" stroke="#607715"/>
<path d="M73.1 68.4L79.0 64.9L73.2 67.3L67.3 70.8Z" fill="#6bbe44" stroke="#366922"/>
<path d="M108.7 53.6L114.7 50.7L108.7 52.1L102.7 54.9Z" fill="#bcd82a" stroke="#5e7715"/>
<path d="M132.9 46.5L139.0 44.1L132.9 44.7L126.8 47.1Z" fill="#f7cc0e" stroke="#7b7007"/>
<path d="M145.1 43.8L151.2 41.6L145.1 41.9L139.0 44.1Z" fill="#f49512" stroke="#7a5209"/>
<path d="M206.5 39.1L212.6 37.9L206.5 36.4L200.3 37.5Z" fill="#ec4f15" stroke="#762c0b"/>
<path d="M218.7 39.9L224.9 38.9L218.8 37.0L212.6 37.9Z" fill="#ed5915" stroke="#77310a"/>
<path d="M243.1 43.3L249.2 42.7L243.2 39.9L237.1 40.5Z" fill="#f38612" stroke="#794a09"/>
<path d="M279.1 52.6L285.1 52.5L279.2 48.6L273.2 48.7Z" fill="#ccdd26" stroke="#667a13"/>
<path d="M84.8 62.9L90.8 59.6L84.9 61.7L79.0 64.9Z" fill="#76c03a" stroke="#3b691d"/>
<path d="M120.8 49.7L126.8 47.1L120.8 48.1L114.7 50.7Z" fill="#eae815" stroke="#757f0a"/>
<path d="M157.3 41.7L163.5 39.7L157.3 39.6L151.2 41.6Z" fill="#f17513" stroke="#78400a"/>
<path d="M169.6 40.1L175.8 38.4L169.6 37.9L163.5 39.7Z" fill="#ee5f14" stroke="#77340a"/>
<path d="M181.9 39.2L188.0 37.6L181.9 36.8L175.8 38.4Z" fill="#ec5215" stroke="#762d0b"/>
<path d="M194.2 38.8L200.3 37.5L194.2 36.3L188.0 37.6Z" fill="#eb4d16" stroke="#762a0b"/>
<path d="M231.0 41.3L237.1 40.5L231.0 38.2L224.9 38.9Z" fill="#ef6b14" stroke="#783b0a"/>
<path d="M267.2 48.9L273.2 48.7L267.3 45.2L261.3 45.4Z" fill="#f6e60e" stroke="#7b7e07"/>
<path d="M96.7 58.0L102.7 54.9L96.8 56.6L90.8 59.6Z" fill="#95ca32" stroke="#4a6f19"/>
<path d="M255.2 45.8L261.3 45.4L255.3 42.3L249.2 42.7Z" fill="#f6b60f" stroke="#7b6408"/>
<path d="M126.8 49.1L132.9 46.5L126.8 47.1L120.8 49.7Z" fill="#f6df0e" stroke="#7b7b07"/>
<path d="M224.8 42.3L231.0 41.3L224.9 38.9L218.7 39.9Z" fill="#ef6814" stroke="#78390a"/>
<path d="M78.9 66.4L84.8 62.9L79.0 64.9L73.1 68.4Z" fill="#72bf3e" stroke="#39691f"/>
<path d="M102.7 56.6L108.7 53.6L102.7 54.9L96.7 58.0Z" fill="#acd22d" stroke="#567417"/>
<path d="M114.7 52.6L120.8 49.7L114.7 50.7L108.7 53.6Z" fill="#d5e021" stroke="#6a7b10"/>
<path d="M139.0 46.2L145.1 43.8L139.0 44.1L132.9 46.5Z" fill="#f6ae10" stroke="#7b6008"/>
<path d="M151.2 43.9L157.3 41.7L151.2 41.6L145.1 43.8Z" fill="#f28313" stroke="#794809"/>
<path d="M163.5 42.1L169.6 40.1L163.5 39.7L157.3 41.7Z" fill="#ef6a14" stroke="#783a0a"/>
<path d="M175.8 41.0L181.9 39.2L175.8 38.4L169.6 40.1Z" fill="#ed5a14" stroke="#77310a"/>
<path d="M188.1 40.4L194.2 38.8L188.0 37.6L181.9 39.2Z" fill="#ec5215" stroke="#762d0b"/>
<path d="M200.3 40.4L206.5 39.1L200.3 37.5L194.2 38.8Z" fill="#ec5215" stroke="#762d0b"/>
<path d="M212.6 41.1L218.7 39.9L212.6 37.9L206.5 39.1Z" fill="#ed5915" stroke="#77310a"/>
<path d="M237.0 44.1L243.1 43.3L237.1 40.5L231.0 41.3Z" fill="#f28113" stroke="#794709"/>
<path d="M249.1 46.4L255.2 45.8L249.2 42.7L243.1 43.3Z" fill="#f5a910" stroke="#7b5d08"/>
<path d="M273.1 52.9L279.1 52.6L273.2 48.7L267.2 48.9Z" fill="#d9e21e" stroke="#6d7c0f"/>
<path d="M90.8 61.3L96.7 58.0L90.8 59.6L84.8 62.9Z" fill="#83c335" stroke="#416b1b"/>
<path d="M261.2 49.4L267.2 48.9L261.3 45.4L255.2 45.8Z" fill="#f6db0e" stroke="#7b7807"/>
<path d="M120.8 51.9L126.8 49.1L120.8 49.7L114.7 52.6Z" fill="#ede913" stroke="#778009"/>
<path d="M230.9 45.1L237.0 44.1L231.0 41.3L224.8 42.3Z" fill="#f27e13" stroke="#794509"/>
<path d="M96.7 59.9L102.7 56.6L96.7 58.0L90.8 61.3Z" fill="#9acc31" stroke="#4d7018"/>
<path d="M132.9 48.8L139.0 46.2L132.9 46.5L126.8 49.1Z" fill="#f7ca0e" stroke="#7b6f07"/>
<path d="M157.4 44.3L163.5 42.1L157.3 41.7L151.2 43.9Z" fill="#f17913" stroke="#794209"/>
<path d="M169.6 43.0L175.8 41.0L169.6 40.1L163.5 42.1Z" fill="#ef6514" stroke="#77370a"/>
<path d="M181.9 42.2L188.1 40.4L181.9 39.2L175.8 41.0Z" fill="#ed5a14" stroke="#77310a"/>
<path d="M194.2 42.0L200.3 40.4L194.2 38.8L188.1 40.4Z" fill="#ed5715" stroke="#76300a"/>
<path d="M218.7 43.5L224.8 42.3L218.7 39.9L212.6 41.1Z" fill="#ef6814" stroke="#78390a"/>
<path d="M255.1 50.0L261.2 49.4L255.2 45.8L249.1 46.4Z" fill="#f7d30e" stroke="#7b7407"/>
<path d="M84.8 64.8L90.8 61.3L84.8 62.9L78.9 66.4Z" fill="#78c039" stroke="#3c691d"/>
<path d="M108.7 55.7L114.7 52.6L108.7 53.6L102.7 56.6Z" fill="#c0d929" stroke="#607815"/>
<path d="M145.1 46.3L151.2 43.9L145.1 43.8L139.0 46.2Z" fill="#f49612" stroke="#7a5309"/>
<path d="M206.5 42.5L212.6 41.1L206.5 39.1L200.3 40.4Z" fill="#ed5b14" stroke="#77320a"/>
<path d="M243.0 47.3L249.1 46.4L243.1 43.3L237.0 44.1Z" fill="#f5a011" stroke="#7a5808"/>
<path d="M267.1 53.4L273.1 52.9L267.2 48.9L261.2 49.4Z" fill="#e4e618" stroke="#727e0c"/>
<path d="M90.8 63.5L96.7 59.9L90.8 61.3L84.8 64.8Z" fill="#87c535" stroke="#436c1a"/>
<path d="M114.7 55.0L120.8 51.9L114.7 52.6L108.7 55.7Z" fill="#d6e120" stroke="#6b7c10"/>
<path d="M126.8 51.7L132.9 48.8L126.8 49.1L120.8 51.9Z" fill="#f6e00e" stroke="#7b7b07"/>
<path d="M163.5 45.2L169.6 43.0L163.5 42.1L157.4 44.3Z" fill="#f07313" stroke="#783f0a"/>
<path d="M175.8 44.2L181.9 42.2L175.8 41.0L169.6 43.0Z" fill="#ef6514" stroke="#77370a"/>
<path d="M188.1 43.8L194.2 42.0L188.1 40.4L181.9 42.2Z" fill="#ee5f14" stroke="#77340a"/>
<path d="M224.8 46.3L230.9 45.1L224.8 42.3L218.7 43.5Z" fill="#f27e13" stroke="#794509"/>
<path d="M236.9 48.3L243.0 47.3L237.0 44.1L230.9 45.1Z" fill="#f59c11" stroke="#7a5609"/>
<path d="M261.0 54.1L267.1 53.4L261.2 49.4L255.1 50.0Z" fill="#ece814" stroke="#76800a"/>
<path d="M102.7 59.0L108.7 55.7L102.7 56.6L96.7 59.9Z" fill="#afd32d" stroke="#577416"/>
<path d="M139.0 48.9L145.1 46.3L139.0 46.2L132.9 48.8Z" fill="#f6b40f" stroke="#7b6308"/>
<path d="M151.2 46.8L157.4 44.3L151.2 43.9L145.1 46.3Z" fill="#f38a12" stroke="#7a4c09"/>
<path d="M200.3 44.1L206.5 42.5L200.3 40.4L194.2 42.0Z" fill="#ee6114" stroke="#77350a"/>
<path d="M212.6 44.9L218.7 43.5L212.6 41.1L206.5 42.5Z" fill="#ef6b14" stroke="#783b0a"/>
<path d="M249.0 50.9L255.1 50.0L249.1 46.4L243.0 47.3Z" fill="#f7cd0e" stroke="#7b7107"/>
<path d="M108.7 58.4L114.7 55.0L108.7 55.7L102.7 59.0Z" fill="#bfd92a" stroke="#607715"/>
<path d="M169.6 46.5L175.8 44.2L169.6 43.0L163.5 45.2Z" fill="#f07313" stroke="#783f0a"/>
<path d="M181.9 45.9L188.1 43.8L181.9 42.2L175.8 44.2Z" fill="#ef6a14" stroke="#783a0a"/>
<path d="M243.0 52.0L249.0 50.9L243.0 47.3L236.9 48.3Z" fill="#f7ca0e" stroke="#7b6f07"/>
<path d="M96.7 62.6L102.7 59.0L96.7 59.9L90.8 63.5Z" fill="#9bcc31" stroke="#4d7018"/>
<path d="M120.8 54.8L126.8 51.7L120.8 51.9L114.7 55.0Z" fill="#e9e815" stroke="#757f0b"/>
<path d="M132.9 51.8L139.0 48.9L132.9 48.8L126.8 51.7Z" fill="#f7d10e" stroke="#7b7307"/>
<path d="M145.1 49.5L151.2 46.8L145.1 46.3L139.0 48.9Z" fill="#f5a411" stroke="#7b5a08"/>
<path d="M157.4 47.7L163.5 45.2L157.4 44.3L151.2 46.8Z" fill="#f28413" stroke="#794909"/>
<path d="M194.2 45.9L200.3 44.1L194.2 42.0L188.1 43.8Z" fill="#ef6914" stroke="#783a0a"/>
<path d="M206.4 46.5L212.6 44.9L206.5 42.5L200.3 44.1Z" fill="#f07113" stroke="#783e0a"/>
<path d="M218.7 47.7L224.8 46.3L218.7 43.5L212.6 44.9Z" fill="#f28113" stroke="#794709"/>
<path d="M230.8 49.5L236.9 48.3L230.9 45.1L224.8 46.3Z" fill="#f59c11" stroke="#7a5609"/>
<path d="M255.0 54.9L261.0 54.1L255.1 50.0L249.0 50.9Z" fill="#f1ea11" stroke="#788108"/>
<path d="M102.8 62.0L108.7 58.4L102.7 59.0L96.7 62.6Z" fill="#acd22d" stroke="#567317"/>
<path d="M175.8 48.2L181.9 45.9L175.8 44.2L169.6 46.5Z" fill="#f17913" stroke="#794209"/>
<path d="M248.9 56.1L255.0 54.9L249.0 50.9L243.0 52.0Z" fill="#f4eb0f" stroke="#7a8108"/>
<path d="M114.8 58.2L120.8 54.8L114.7 55.0L108.7 58.4Z" fill="#cfde24" stroke="#677a12"/>
<path d="M139.1 52.4L145.1 49.5L139.0 48.9L132.9 51.8Z" fill="#f7c60e" stroke="#7b6d07"/>
<path d="M151.3 50.4L157.4 47.7L151.2 46.8L145.1 49.5Z" fill="#f59c11" stroke="#7a5609"/>
<path d="M163.5 49.0L169.6 46.5L163.5 45.2L157.4 47.7Z" fill="#f28413" stroke="#794909"/>
<path d="M188.1 48.0L194.2 45.9L188.1 43.8L181.9 45.9Z" fill="#f17513" stroke="#78400a"/>
<path d="M200.3 48.4L206.4 46.5L200.3 44.1L194.2 45.9Z" fill="#f17a13" stroke="#794309"/>
<path d="M212.5 49.4L218.7 47.7L212.6 44.9L206.4 46.5Z" fill="#f38612" stroke="#794a09"/>
<path d="M236.9 53.2L243.0 52.0L236.9 48.3L230.8 49.5Z" fill="#f7ca0e" stroke="#7b6f07"/>
<path d="M126.9 55.0L132.9 51.8L126.8 51.7L120.8 54.8Z" fill="#f6ea0e" stroke="#7b8107"/>
<path d="M224.7 51.0L230.8 49.5L224.8 46.3L218.7 47.7Z" fill="#f5a011" stroke="#7a5808"/>
<path d="M108.8 61.8L114.8 58.2L108.7 58.4L102.8 62.0Z" fill="#b9d72b" stroke="#5c7615"/>
<path d="M145.2 53.3L151.3 50.4L145.1 49.5L139.1 52.4Z" fill="#f6be0f" stroke="#7b6807"/>
<path d="M157.4 51.7L163.5 49.0L157.4 47.7L151.3 50.4Z" fill="#f59c11" stroke="#7a5609"/>
<path d="M169.7 50.7L175.8 48.2L169.6 46.5L163.5 49.0Z" fill="#f38a12" stroke="#7a4c09"/>
<path d="M181.9 50.3L188.1 48.0L181.9 45.9L175.8 48.2Z" fill="#f28313" stroke="#794809"/>
<path d="M194.2 50.5L200.3 48.4L194.2 45.9L188.1 48.0Z" fill="#f38512" stroke="#794909"/>
<path d="M206.4 51.3L212.5 49.4L206.4 46.5L200.3 48.4Z" fill="#f48f12" stroke="#7a4f09"/>
<path d="M242.8 57.4L248.9 56.1L243.0 52.0L236.9 53.2Z" fill="#f4eb0f" stroke="#7a8108"/>
<path d="M120.9 58.4L126.9 55.0L120.8 54.8L114.8 58.2Z" fill="#dee41c" stroke="#6f7d0e"/>
<path d="M133.0 55.5L139.1 52.4L132.9 51.8L126.9 55.0Z" fill="#f6df0e" stroke="#7b7b07"/>
<path d="M218.6 52.7L224.7 51.0L218.7 47.7L212.5 49.4Z" fill="#f5a910" stroke="#7b5d08"/>
<path d="M230.8 54.8L236.9 53.2L230.8 49.5L224.7 51.0Z" fill="#f7cd0e" stroke="#7b7107"/>
<path d="M151.3 54.7L157.4 51.7L151.3 50.4L145.2 53.3Z" fill="#f6be0f" stroke="#7b6807"/>
<path d="M163.6 53.4L169.7 50.7L163.5 49.0L157.4 51.7Z" fill="#f5a411" stroke="#7b5a08"/>
<path d="M188.1 52.8L194.2 50.5L188.1 48.0L181.9 50.3Z" fill="#f49512" stroke="#7a5209"/>
<path d="M200.3 53.4L206.4 51.3L200.3 48.4L194.2 50.5Z" fill="#f59f11" stroke="#7a5708"/>
<path d="M114.9 62.0L120.9 58.4L114.8 58.2L108.8 61.8Z" fill="#c3da29" stroke="#627814"/>
<path d="M127.0 59.0L133.0 55.5L126.9 55.0L120.9 58.4Z" fill="#e8e716" stroke="#747f0b"/>
<path d="M139.1 56.5L145.2 53.3L139.1 52.4L133.0 55.5Z" fill="#f6da0e" stroke="#7b7807"/>
<path d="M175.8 52.8L181.9 50.3L175.8 48.2L169.7 50.7Z" fill="#f49612" stroke="#7a5309"/>
<path d="M212.5 54.7L218.6 52.7L212.5 49.4L206.4 51.3Z" fill="#f6b60f" stroke="#7b6408"/>
<path d="M224.6 56.5L230.8 54.8L224.7 51.0L218.6 52.7Z" fill="#f7d30e" stroke="#7b7407"/>
<path d="M236.7 58.9L242.8 57.4L236.9 53.2L230.8 54.8Z" fill="#f1ea11" stroke="#788108"/>
<path d="M157.5 56.4L163.6 53.4L157.4 51.7L151.3 54.7Z" fill="#f7c60e" stroke="#7b6d07"/>
<path d="M194.2 55.8L200.3 53.4L194.2 50.5L188.1 52.8Z" fill="#f6b40f" stroke="#7b6308"/>
<path d="M121.0 62.6L127.0 59.0L120.9 58.4L114.9 62.0Z" fill="#cbdd27" stroke="#657913"/>
<path d="M133.1 60.0L139.1 56.5L133.0 55.5L127.0 59.0Z" fill="#ede913" stroke="#76800a"/>
<path d="M145.3 57.9L151.3 54.7L145.2 53.3L139.1 56.5Z" fill="#f6da0e" stroke="#7b7807"/>
<path d="M169.7 55.6L175.8 52.8L169.7 50.7L163.6 53.4Z" fill="#f6b40f" stroke="#7b6308"/>
<path d="M181.9 55.4L188.1 52.8L181.9 50.3L175.8 52.8Z" fill="#f6ae10" stroke="#7b6008"/>
<path d="M206.4 56.8L212.5 54.7L206.4 51.3L200.3 53.4Z" fill="#f7c60e" stroke="#7b6d07"/>
<path d="M218.5 58.5L224.6 56.5L218.6 52.7L212.5 54.7Z" fill="#f6db0e" stroke="#7b7807"/>
<path d="M230.7 60.7L236.7 58.9L230.8 54.8L224.6 56.5Z" fill="#ece814" stroke="#76800a"/>
<path d="M127.1 63.7L133.1 60.0L127.0 59.0L121.0 62.6Z" fill="#d0df24" stroke="#687a12"/>
<path d="M139.2 61.4L145.3 57.9L139.1 56.5L133.1 60.0Z" fill="#ede913" stroke="#76800a"/>
<path d="M151.4 59.7L157.5 56.4L151.3 54.7L145.3 57.9Z" fill="#f6df0e" stroke="#7b7b07"/>
<path d="M163.6 58.7L169.7 55.6L163.6 53.4L157.5 56.4Z" fill="#f7d10e" stroke="#7b7307"/>
<path d="M175.8 58.2L181.9 55.4L175.8 52.8L169.7 55.6Z" fill="#f7ca0e" stroke="#7b6f07"/>
<path d="M188.1 58.4L194.2 55.8L188.1 52.8L181.9 55.4Z" fill="#f7cc0e" stroke="#7b7007"/>
<path d="M200.3 59.2L206.4 56.8L200.3 53.4L194.2 55.8Z" fill="#f7d50e" stroke="#7b7507"/>
<path d="M212.4 60.7L218.5 58.5L212.5 54.7L206.4 56.8Z" fill="#f6e60e" stroke="#7b7e07"/>
<path d="M224.6 62.7L230.7 60.7L224.6 56.5L218.5 58.5Z" fill="#e4e618" stroke="#727e0c"/>
<path d="M133.2 65.1L139.2 61.4L133.1 60.0L127.1 63.7Z" fill="#d0df24" stroke="#687a12"/>
<path d="M145.4 63.2L151.4 59.7L145.3 57.9L139.2 61.4Z" fill="#e8e716" stroke="#747f0b"/>
<path d="M169.7 61.3L175.8 58.2L169.7 55.6L163.6 58.7Z" fill="#f6e00e" stroke="#7b7b07"/>
<path d="M182.0 61.3L188.1 58.4L181.9 55.4L175.8 58.2Z" fill="#f6df0e" stroke="#7b7b07"/>
<path d="M206.3 63.1L212.4 60.7L206.4 56.8L200.3 59.2Z" fill="#efe912" stroke="#778009"/>
<path d="M218.5 65.0L224.6 62.7L218.5 58.5L212.4 60.7Z" fill="#d9e21e" stroke="#6d7c0f"/>
<path d="M157.5 62.0L163.6 58.7L157.5 56.4L151.4 59.7Z" fill="#f6ea0e" stroke="#7b8107"/>
<path d="M194.2 61.9L200.3 59.2L194.2 55.8L188.1 58.4Z" fill="#f6e50e" stroke="#7b7e07"/>
<path d="M139.3 67.0L145.4 63.2L139.2 61.4L133.2 65.1Z" fill="#cbdd27" stroke="#657913"/>
<path d="M151.5 65.5L157.5 62.0L151.4 59.7L145.4 63.2Z" fill="#dee41c" stroke="#6f7d0e"/>
<path d="M163.7 64.6L169.7 61.3L163.6 58.7L157.5 62.0Z" fill="#e9e815" stroke="#757f0b"/>
<path d="M175.9 64.4L182.0 61.3L175.8 58.2L169.7 61.3Z" fill="#ede913" stroke="#778009"/>
<path d="M188.1 64.8L194.2 61.9L188.1 58.4L182.0 61.3Z" fill="#eae815" stroke="#757f0a"/>
<path d="M200.2 65.8L206.3 63.1L200.3 59.2L194.2 61.9Z" fill="#dfe41b" stroke="#6f7d0e"/>
<path d="M212.4 67.5L218.5 65.0L212.4 60.7L206.3 63.1Z" fill="#ccdd26" stroke="#667a13"/>
<path d="M145.5 69.3L151.5 65.5L145.4 63.2L139.3 67.0Z" fill="#c3da29" stroke="#627814"/>
<path d="M157.6 68.2L163.7 64.6L157.5 62.0L151.5 65.5Z" fill="#cfde24" stroke="#677a12"/>
<path d="M169.8 67.8L175.9 64.4L169.7 61.3L163.7 64.6Z" fill="#d6e120" stroke="#6b7c10"/>
<path d="M182.0 68.0L188.1 64.8L182.0 61.3L175.9 64.4Z" fill="#d5e021" stroke="#6a7b10"/>
<path d="M194.1 68.8L200.2 65.8L194.2 61.9L188.1 64.8Z" fill="#ccdd26" stroke="#667a13"/>
<path d="M206.3 70.2L212.4 67.5L206.3 63.1L200.2 65.8Z" fill="#c0d92a" stroke="#607715"/>
<path d="M151.6 72.1L157.6 68.2L151.5 65.5L145.5 69.3Z" fill="#b9d72b" stroke="#5c7615"/>
<path d="M163.7 71.4L169.8 67.8L163.7 64.6L157.6 68.2Z" fill="#bfd92a" stroke="#607715"/>
<path d="M175.9 71.4L182.0 68.0L175.9 64.4L169.8 67.8Z" fill="#c0d929" stroke="#607815"/>
<path d="M188.1 72.0L194.1 68.8L188.1 64.8L182.0 68.0Z" fill="#bcd82a" stroke="#5e7715"/>
<path d="M200.2 73.2L206.3 70.2L200.2 65.8L194.1 68.8Z" fill="#b3d52c" stroke="#5a7516"/>
<path d="M157.7 75.3L163.7 71.4L157.6 68.2L151.6 72.1Z" fill="#acd22d" stroke="#567317"/>
<path d="M194.1 76.5L200.2 73.2L194.1 68.8L188.1 72.0Z" fill="#a5cf2f" stroke="#537217"/>
<path d="M169.9 75.1L175.9 71.4L169.8 67.8L163.7 71.4Z" fill="#afd32d" stroke="#577416"/>
<path d="M182.0 75.5L188.1 72.0L182.0 68.0L175.9 71.4Z" fill="#acd22d" stroke="#567417"/>
<path d="M163.8 79.0L169.9 75.1L163.7 71.4L157.7 75.3Z" fill="#9bcc31" stroke="#4d7018"/>
<path d="M176.0 79.2L182.0 75.5L175.9 71.4L169.9 75.1Z" fill="#9acc31" stroke="#4d7018"/>
<path d="M188.1 80.0L194.1 76.5L188.1 72.0L182.0 75.5Z" fill="#95ca32" stroke="#4a6f19"/>
<path d="M169.9 83.2L176.0 79.2L169.9 75.1L163.8 79.0Z" fill="#87c535" stroke="#436c1a"/>
<path d="M182.0 83.8L188.1 80.0L182.0 75.5L176.0 79.2Z" fill="#83c335" stroke="#416b1b"/>
<path d="M176.0 87.9L182.0 83.8L176.0 79.2L169.9 83.2Z" fill="#78c039" stroke="#3c691d"/>
</g>
<path d="M145.6 27.5V42" stroke="#7a1010" stroke-width="0.8"/><ellipse cx="145.6" cy="27.6" rx="2.3" ry="1.6" fill="#c81e1e"/><ellipse cx="145.6" cy="32.3" rx="2.3" ry="2.4" fill="#b01818"/>
<ellipse cx="196.5" cy="36.3" rx="2.4" ry="1.7" fill="#b01010"/>
<g fill="none" stroke="#111" stroke-width="0.9" stroke-linecap="round">
<path d="M57.4 300.1L176.0 275.5L293.6 300.1M56.0 282.3L176.0 259.8L295.1 282.3M54.5 264.5L176.0 244.0L296.5 264.5M53.0 246.7L176.0 228.2L298.0 246.7M51.6 228.9L176.0 212.5L299.4 228.9M57.4 300.1L51.6 228.9M293.6 300.1L299.4 228.9M81.1 295.2L76.5 225.6M270.1 295.2L274.7 225.6M104.8 290.3L101.4 222.3M246.6 290.3L250.0 222.3M128.6 285.3L126.2 219.1M223.0 285.3L225.4 219.1M152.3 280.4L151.1 215.8M199.5 280.4L200.7 215.8M176.0 275.5L176.0 212.5M57.4 300.1L60.6 322.2M176.0 275.5L176.0 296.3M293.6 300.1L291.3 321.9"/>
</g>
<circle cx="57.4" cy="300.1" r="1.1" fill="#111"/>
<text x="52.6" y="300.5" font-size="6.1" font-weight="bold" fill="#333" text-anchor="end" font-family="Liberation Sans, sans-serif">0</text>
<circle cx="56.0" cy="282.3" r="1.1" fill="#111"/>
<text x="51.2" y="282.7" font-size="6.1" font-weight="bold" fill="#333" text-anchor="end" font-family="Liberation Sans, sans-serif">1</text>
<circle cx="54.5" cy="264.5" r="1.1" fill="#111"/>
<text x="49.7" y="264.9" font-size="6.1" font-weight="bold" fill="#333" text-anchor="end" font-family="Liberation Sans, sans-serif">2</text>
<circle cx="53.0" cy="246.7" r="1.1" fill="#111"/>
<text x="48.2" y="247.1" font-size="6.1" font-weight="bold" fill="#333" text-anchor="end" font-family="Liberation Sans, sans-serif">3</text>
<circle cx="51.6" cy="228.9" r="1.1" fill="#111"/>
<text x="46.8" y="229.3" font-size="6.1" font-weight="bold" fill="#333" text-anchor="end" font-family="Liberation Sans, sans-serif">4</text>
<path d="M60.6 322.2L176.0 296.3L291.3 321.9L176.0 353.7Z" fill="#686868" stroke="#111" stroke-width="1" stroke-linejoin="round"/>
<clipPath id="f2"><path d="M60.6 322.2L176.0 296.3L291.3 321.9L176.0 353.7Z"/></clipPath>
<g clip-path="url(#f2)" fill="none" stroke-width="1.4">
<path d="M70.3 320.0L71.1 320.7L72.2 321.7L72.8 322.3L73.5 322.9L74.8 323.9L75.6 324.6L76.4 325.1L77.8 326.2L78.7 326.8L79.6 327.4L79.6 327.4" stroke="#82c832"/>
<path d="M180.7 297.3L177.4 297.3L174.8 297.2L172.1 297.2L172.1 297.2" stroke="#c8d728"/>
<path d="M83.9 317.0L84.3 317.6L84.6 318.2L85.0 318.8L85.6 319.6L86.3 320.5L86.9 321.2L87.5 321.8L88.0 322.4L89.1 323.4L89.9 324.2L90.5 324.7L91.5 325.5L92.6 326.4L93.3 327.0L94.4 327.7L95.6 328.6L96.4 329.2L97.9 330.2L98.8 330.8L99.9 331.4L101.4 332.4L102.3 332.9L104.1 334.0L104.5 334.2" stroke="#c8d728"/>
<path d="M197.6 301.1L194.2 301.0L190.9 300.9L187.7 300.9L184.7 300.8L182.0 300.8L179.3 300.8L176.5 300.7L173.6 300.7L170.7 300.8L167.7 300.8L164.6 300.8L161.7 300.9L159.1 300.9L156.6 301.0L154.7 301.1" stroke="#ebbe1e"/>
<path d="M101.3 313.1L100.9 313.8L100.7 314.4L100.5 315.1L100.4 315.8L100.4 316.5L100.4 317.2L100.6 317.9L100.8 318.7L101.1 319.4L101.4 320.0L101.8 320.7L102.1 321.3L102.6 322.0L103.3 322.9L104.0 323.7L104.6 324.3L105.1 324.9L106.0 325.8L107.0 326.6L107.7 327.2L108.5 327.9L109.8 328.9L110.5 329.4L111.5 330.2L112.8 331.1L113.6 331.6L115.1 332.6L116.1 333.2L117.2 333.9L118.8 334.8L119.7 335.4L121.5 336.4L122.4 336.9L124.3 337.9L125.3 338.5L127.3 339.5L128.3 340.0L130.3 341.0L131.3 341.5L131.3 341.5" stroke="#ebbe1e"/>
<path d="M227.6 307.8L224.0 307.6L220.9 307.5L218.4 307.4L215.9 307.4L213.4 307.3L210.2 307.2L207.0 307.2L203.8 307.1L200.7 307.1L197.7 307.1L194.8 307.1L191.9 307.1L189.1 307.2L186.4 307.2L183.8 307.3L181.2 307.4L178.7 307.5L175.6 307.6L171.9 307.8L169.3 308.0L167.1 308.1L163.3 308.4L160.8 308.7L158.0 309.0L155.2 309.4L151.7 309.9L149.5 310.3L147.0 310.8L144.1 311.5L142.6 311.9L140.3 312.6L138.1 313.5L137.1 313.9L135.3 314.8L134.5 315.3L133.3 316.1L132.4 316.9L131.9 317.5L131.5 318.1L131.1 318.8L130.7 319.6L130.5 320.3L130.5 321.1L130.5 321.8L130.6 322.5L130.7 323.1L131.0 323.8L131.2 324.4L131.7 325.3L132.3 326.1L132.9 326.9L133.4 327.6L133.9 328.2L134.7 328.9L135.7 329.9L136.3 330.5L137.0 331.1L138.3 332.1L139.1 332.7L139.9 333.3L141.5 334.4L142.3 334.9L143.5 335.7L144.8 336.5L145.7 337.1L147.5 338.1L148.4 338.6L150.2 339.7L151.2 340.2L153.1 341.2L154.1 341.7L156.1 342.7L157.1 343.2L159.2 344.2L160.6 344.9L162.4 345.7L164.6 346.6L165.7 347.1L167.9 348.1L169.8 348.9L171.3 349.5L173.6 350.4L175.4 351.2L177.1 351.8L179.4 352.8L179.4 352.8" stroke="#f0821e"/>
<path d="M288.5 322.7L286.4 322.5L283.5 322.3L280.2 322.1L278.1 321.9L274.5 321.7L271.6 321.6L269.3 321.4L266.3 321.3L262.5 321.1L260.2 321.0L257.8 321.0L255.0 320.9L251.6 320.8L248.2 320.8L245.3 320.7L242.6 320.7L239.9 320.7L237.1 320.8L234.1 320.8L231.0 320.9L227.9 321.0L225.4 321.2L223.0 321.3L220.5 321.5L216.4 321.9L214.4 322.1L210.6 322.6L208.8 322.9L205.6 323.6L202.7 324.3L200.1 325.1L199.0 325.6L197.1 326.6L196.2 327.1L195.0 328.1L194.3 328.8L193.9 329.4L193.6 330.1L193.5 330.8L193.4 331.5L193.5 332.3L193.7 333.1L194.1 333.9L194.6 334.8L195.1 335.4L195.6 336.1L196.2 336.7L197.3 337.7L198.1 338.4L198.8 339.0L200.1 339.9L201.1 340.6L201.9 341.2L203.6 342.2L204.5 342.8L206.4 343.8L207.3 344.3L208.3 344.8" stroke="#e6321e"/>
</g>
<circle cx="60.6" cy="322.2" r="1.1" fill="#111"/>
<text x="57.4" y="328.1" font-size="6.1" font-weight="bold" fill="#333" text-anchor="end" font-family="Liberation Sans, sans-serif">0.55</text>
<circle cx="83.7" cy="328.5" r="1.1" fill="#111"/>
<text x="80.5" y="334.4" font-size="6.1" font-weight="bold" fill="#333" text-anchor="end" font-family="Liberation Sans, sans-serif">0.53</text>
<circle cx="106.8" cy="334.8" r="1.1" fill="#111"/>
<text x="103.6" y="340.7" font-size="6.1" font-weight="bold" fill="#333" text-anchor="end" font-family="Liberation Sans, sans-serif">0.51</text>
<circle cx="129.8" cy="341.1" r="1.1" fill="#111"/>
<text x="126.6" y="347.0" font-size="6.1" font-weight="bold" fill="#333" text-anchor="end" font-family="Liberation Sans, sans-serif">0.49</text>
<circle cx="152.9" cy="347.4" r="1.1" fill="#111"/>
<text x="149.7" y="353.3" font-size="6.1" font-weight="bold" fill="#333" text-anchor="end" font-family="Liberation Sans, sans-serif">0.47</text>
<circle cx="176.0" cy="353.7" r="1.1" fill="#111"/>
<text x="172.8" y="359.6" font-size="6.1" font-weight="bold" fill="#333" text-anchor="end" font-family="Liberation Sans, sans-serif">0.45</text>
<circle cx="176.0" cy="353.7" r="1.1" fill="#111"/>
<text x="179.8" y="360.1" font-size="6.1" font-weight="bold" fill="#333" text-anchor="start" font-family="Liberation Sans, sans-serif">3</text>
<circle cx="199.1" cy="347.3" r="1.1" fill="#111"/>
<text x="202.9" y="353.7" font-size="6.1" font-weight="bold" fill="#333" text-anchor="start" font-family="Liberation Sans, sans-serif">3.2</text>
<circle cx="222.1" cy="341.0" r="1.1" fill="#111"/>
<text x="225.9" y="347.4" font-size="6.1" font-weight="bold" fill="#333" text-anchor="start" font-family="Liberation Sans, sans-serif">3.4</text>
<circle cx="245.2" cy="334.6" r="1.1" fill="#111"/>
<text x="249.0" y="341.0" font-size="6.1" font-weight="bold" fill="#333" text-anchor="start" font-family="Liberation Sans, sans-serif">3.6</text>
<circle cx="268.2" cy="328.3" r="1.1" fill="#111"/>
<text x="272.0" y="334.7" font-size="6.1" font-weight="bold" fill="#333" text-anchor="start" font-family="Liberation Sans, sans-serif">3.8</text>
<circle cx="291.3" cy="321.9" r="1.1" fill="#111"/>
<text x="295.1" y="328.3" font-size="6.1" font-weight="bold" fill="#333" text-anchor="start" font-family="Liberation Sans, sans-serif">4</text>
<text x="69.8" y="353.3" font-size="7.4" fill="#333" text-anchor="middle" font-family="Liberation Sans, sans-serif">C:FR</text>
<text x="277.7" y="353.5" font-size="7.4" fill="#333" text-anchor="middle" font-family="Liberation Sans, sans-serif">A:pH</text>
<text x="12.4" y="279.4" font-size="6.5" fill="#222" text-anchor="middle" font-family="Liberation Sans, sans-serif">22</text>
<g stroke-width="0.5" stroke-linejoin="round">
<path d="M176.0 237.3L180.0 237.6L176.0 237.7L171.9 237.5Z" fill="#398d40" stroke="#2b6a30"/>
<path d="M171.9 237.1L176.0 237.3L171.9 237.5L167.9 237.3Z" fill="#398d40" stroke="#2b6a30"/>
<path d="M180.0 237.2L184.1 237.5L180.0 237.6L176.0 237.3Z" fill="#398d40" stroke="#2b6a30"/>
<path d="M167.8 237.0L171.9 237.1L167.9 237.3L163.8 237.1Z" fill="#398d40" stroke="#2b6a30"/>
<path d="M175.9 237.0L180.0 237.2L176.0 237.3L171.9 237.1Z" fill="#398d40" stroke="#2b6a30"/>
<path d="M184.1 237.1L188.1 237.4L184.1 237.5L180.0 237.2Z" fill="#398d40" stroke="#2b6a30"/>
<path d="M163.7 236.9L167.8 237.0L163.8 237.1L159.7 237.1Z" fill="#398d40" stroke="#2b6a30"/>
<path d="M171.9 236.9L175.9 237.0L171.9 237.1L167.8 237.0Z" fill="#398d40" stroke="#2b6a30"/>
<path d="M180.0 236.9L184.1 237.1L180.0 237.2L175.9 237.0Z" fill="#398d40" stroke="#2b6a30"/>
<path d="M188.1 237.0L192.2 237.3L188.1 237.4L184.1 237.1Z" fill="#398d40" stroke="#2b6a30"/>
<path d="M159.6 237.0L163.7 236.9L159.7 237.1L155.6 237.1Z" fill="#398d40" stroke="#2b6a30"/>
<path d="M167.8 236.8L171.9 236.9L167.8 237.0L163.7 236.9Z" fill="#398d40" stroke="#2b6a30"/>
<path d="M175.9 236.8L180.0 236.9L175.9 237.0L171.9 236.9Z" fill="#398d40" stroke="#2b6a30"/>
<path d="M184.0 236.8L188.1 237.0L184.1 237.1L180.0 236.9Z" fill="#398d40" stroke="#2b6a30"/>
<path d="M192.2 236.9L196.2 237.2L192.2 237.3L188.1 237.0Z" fill="#398d40" stroke="#2b6a30"/>
<path d="M155.5 237.0L159.6 237.0L155.6 237.1L151.5 237.1Z" fill="#398d40" stroke="#2b6a30"/>
<path d="M163.7 236.8L167.8 236.8L163.7 236.9L159.6 237.0Z" fill="#398d40" stroke="#2b6a30"/>
<path d="M171.8 236.7L175.9 236.8L171.9 236.9L167.8 236.8Z" fill="#398d40" stroke="#2b6a30"/>
<path d="M180.0 236.7L184.0 236.8L180.0 236.9L175.9 236.8Z" fill="#398d40" stroke="#2b6a30"/>
<path d="M188.1 236.7L192.2 236.9L188.1 237.0L184.0 236.8Z" fill="#398d40" stroke="#2b6a30"/>
<path d="M196.2 236.9L200.3 237.1L196.2 237.2L192.2 236.9Z" fill="#398d40" stroke="#2b6a30"/>
<path d="M159.6 236.9L163.7 236.8L159.6 237.0L155.5 237.0Z" fill="#398d40" stroke="#2b6a30"/>
<path d="M167.7 236.8L171.8 236.7L167.8 236.8L163.7 236.8Z" fill="#398d40" stroke="#2b6a30"/>
<path d="M175.9 236.6L180.0 236.7L175.9 236.8L171.8 236.7Z" fill="#398d40" stroke="#2b6a30"/>
<path d="M184.0 236.6L188.1 236.7L184.0 236.8L180.0 236.7Z" fill="#398d40" stroke="#2b6a30"/>
<path d="M192.2 236.7L196.2 236.9L192.2 236.9L188.1 236.7Z" fill="#398d40" stroke="#2b6a30"/>
<path d="M151.5 237.2L155.5 237.0L151.5 237.1L147.4 237.3Z" fill="#f6e80e" stroke="#f6e80e"/>
<path d="M200.3 236.8L204.4 237.0L200.3 237.1L196.2 236.9Z" fill="#398d40" stroke="#2b6a30"/>
<path d="M163.7 236.8L167.7 236.8L163.7 236.8L159.6 236.9Z" fill="#398d3f" stroke="#2b6a30"/>
<path d="M171.8 236.7L175.9 236.6L171.8 236.7L167.7 236.8Z" fill="#398d3f" stroke="#2b6a2f"/>
<path d="M179.9 236.6L184.0 236.6L180.0 236.7L175.9 236.6Z" fill="#398d3f" stroke="#2b6a2f"/>
<path d="M188.1 236.5L192.2 236.7L188.1 236.7L184.0 236.6Z" fill="#398d3f" stroke="#2b6a2f"/>
<path d="M147.4 237.4L151.5 237.2L147.4 237.3L143.3 237.5Z" fill="#f6e20e" stroke="#f6e20e"/>
<path d="M155.5 237.1L159.6 236.9L155.5 237.0L151.5 237.2Z" fill="#f6dd0e" stroke="#f6dd0e"/>
<path d="M196.2 236.6L200.3 236.8L196.2 236.9L192.2 236.7Z" fill="#398d3f" stroke="#2b6a2f"/>
<path d="M204.4 236.7L208.4 237.0L204.4 237.0L200.3 236.8Z" fill="#398d40" stroke="#2b6a30"/>
<path d="M167.7 236.8L171.8 236.7L167.7 236.8L163.7 236.8Z" fill="#f7ce0e" stroke="#f7ce0e"/>
<path d="M175.9 236.6L179.9 236.6L175.9 236.6L171.8 236.7Z" fill="#3a8e3e" stroke="#2c6a2e"/>
<path d="M184.0 236.5L188.1 236.5L184.0 236.6L179.9 236.6Z" fill="#3a8e3e" stroke="#2c6a2e"/>
<path d="M143.3 237.8L147.4 237.4L143.3 237.5L139.2 237.9Z" fill="#f6dc0e" stroke="#f6dc0e"/>
<path d="M151.4 237.3L155.5 237.1L151.5 237.2L147.4 237.4Z" fill="#f7d60e" stroke="#f7d60e"/>
<path d="M159.6 237.0L163.7 236.8L159.6 236.9L155.5 237.1Z" fill="#f7d10e" stroke="#f7d10e"/>
<path d="M192.2 236.5L196.2 236.6L192.2 236.7L188.1 236.5Z" fill="#3a8e3e" stroke="#2c6a2e"/>
<path d="M200.3 236.5L204.4 236.7L200.3 236.8L196.2 236.6Z" fill="#3a8e3e" stroke="#2c6a2f"/>
<path d="M208.4 236.7L212.5 236.9L208.4 237.0L204.4 236.7Z" fill="#3a8e3e" stroke="#2b6a2f"/>
<path d="M171.8 236.7L175.9 236.6L171.8 236.7L167.7 236.8Z" fill="#f7c10f" stroke="#f7c10f"/>
<path d="M179.9 236.5L184.0 236.5L179.9 236.6L175.9 236.6Z" fill="#3b8e3d" stroke="#2c6a2e"/>
<path d="M139.2 238.2L143.3 237.8L139.2 237.9L135.1 238.2Z" fill="#f7d80e" stroke="#f7d80e"/>
<path d="M147.3 237.7L151.4 237.3L147.4 237.4L143.3 237.8Z" fill="#f7d10e" stroke="#f7d10e"/>
<path d="M155.5 237.3L159.6 237.0L155.5 237.1L151.4 237.3Z" fill="#f7cb0e" stroke="#f7cb0e"/>
<path d="M163.6 236.9L167.7 236.8L163.7 236.8L159.6 237.0Z" fill="#f7c60e" stroke="#f7c60e"/>
<path d="M188.1 236.4L192.2 236.5L188.1 236.5L184.0 236.5Z" fill="#3b8e3d" stroke="#2c6a2e"/>
<path d="M196.2 236.4L200.3 236.5L196.2 236.6L192.2 236.5Z" fill="#3b8e3d" stroke="#2c6a2e"/>
<path d="M204.4 236.5L208.4 236.7L204.4 236.7L200.3 236.5Z" fill="#3b8e3d" stroke="#2c6a2e"/>
<path d="M212.5 236.6L216.6 236.9L212.5 236.9L208.4 236.7Z" fill="#3b8e3d" stroke="#2c6a2e"/>
<path d="M175.8 236.6L179.9 236.5L175.9 236.6L171.8 236.7Z" fill="#f6b110" stroke="#f6b110"/>
<path d="M135.1 238.6L139.2 238.2L135.1 238.2L131.0 238.7Z" fill="#f7d50e" stroke="#f6d50e"/>
<path d="M143.2 238.1L147.3 237.7L143.3 237.8L139.2 238.2Z" fill="#f7cd0e" stroke="#f7cd0e"/>
<path d="M151.4 237.6L155.5 237.3L151.4 237.3L147.3 237.7Z" fill="#f7c50e" stroke="#f7c50e"/>
<path d="M159.5 237.2L163.6 236.9L159.6 237.0L155.5 237.3Z" fill="#f6bc0f" stroke="#f6bc0f"/>
<path d="M167.7 236.9L171.8 236.7L167.7 236.8L163.6 236.9Z" fill="#f6b50f" stroke="#f6b50f"/>
<path d="M184.0 236.5L188.1 236.4L184.0 236.5L179.9 236.5Z" fill="#3c8e3c" stroke="#2d6a2d"/>
<path d="M192.2 236.4L196.2 236.4L192.2 236.5L188.1 236.4Z" fill="#3c8e3c" stroke="#2d6a2d"/>
<path d="M200.3 236.4L204.4 236.5L200.3 236.5L196.2 236.4Z" fill="#3c8e3c" stroke="#2d6a2d"/>
<path d="M208.5 236.4L212.5 236.6L208.4 236.7L204.4 236.5Z" fill="#3b8e3c" stroke="#2d6a2d"/>
<path d="M216.6 236.6L220.7 236.9L216.6 236.9L212.5 236.6Z" fill="#3b8e3c" stroke="#2c6a2d"/>
<path d="M131.0 239.2L135.1 238.6L131.0 238.7L126.9 239.3Z" fill="#f7d40e" stroke="#eed40d"/>
<path d="M139.1 238.6L143.2 238.1L139.2 238.2L135.1 238.6Z" fill="#f7ca0e" stroke="#f5ca0e"/>
<path d="M147.3 238.0L151.4 237.6L147.3 237.7L143.2 238.1Z" fill="#f6bf0f" stroke="#f6bf0f"/>
<path d="M155.4 237.5L159.5 237.2L155.5 237.3L151.4 237.6Z" fill="#f6b40f" stroke="#f6b40f"/>
<path d="M163.6 237.1L167.7 236.9L163.6 236.9L159.5 237.2Z" fill="#f5ac10" stroke="#f5ac10"/>
<path d="M171.7 236.8L175.8 236.6L171.8 236.7L167.7 236.9Z" fill="#f5a511" stroke="#f5a511"/>
<path d="M179.9 236.6L184.0 236.5L179.9 236.5L175.8 236.6Z" fill="#f5a111" stroke="#f5a111"/>
<path d="M188.1 236.4L192.2 236.4L188.1 236.4L184.0 236.5Z" fill="#3c8e3a" stroke="#2d6a2c"/>
<path d="M196.2 236.3L200.3 236.4L196.2 236.4L192.2 236.4Z" fill="#3c8e3a" stroke="#2d6a2c"/>
<path d="M204.4 236.3L208.5 236.4L204.4 236.5L200.3 236.4Z" fill="#3c8e3b" stroke="#2d6a2c"/>
<path d="M212.5 236.4L216.6 236.6L212.5 236.6L208.5 236.4Z" fill="#3c8e3b" stroke="#2d6a2c"/>
<path d="M220.7 236.6L224.7 236.8L220.7 236.9L216.6 236.6Z" fill="#3c8e3b" stroke="#2d6a2c"/>
<path d="M126.9 239.8L131.0 239.2L126.9 239.3L122.9 239.9Z" fill="#f7d30e" stroke="#e6cf0d"/>
<path d="M135.0 239.1L139.1 238.6L135.1 238.6L131.0 239.2Z" fill="#f7c80e" stroke="#edc80d"/>
<path d="M143.2 238.5L147.3 238.0L143.2 238.1L139.1 238.6Z" fill="#f6ba0f" stroke="#f3ba0f"/>
<path d="M151.3 237.9L155.4 237.5L151.4 237.6L147.3 238.0Z" fill="#f6ae10" stroke="#f6ae10"/>
<path d="M159.5 237.5L163.6 237.1L159.5 237.2L155.4 237.5Z" fill="#f5a411" stroke="#f5a411"/>
<path d="M167.7 237.1L171.7 236.8L167.7 236.9L163.6 237.1Z" fill="#f59c11" stroke="#f59c11"/>
<path d="M184.0 236.5L188.1 236.4L184.0 236.5L179.9 236.6Z" fill="#f49112" stroke="#f49112"/>
<path d="M192.2 236.4L196.2 236.3L192.2 236.4L188.1 236.4Z" fill="#3d8e39" stroke="#2e6b2b"/>
<path d="M200.3 236.3L204.4 236.3L200.3 236.4L196.2 236.3Z" fill="#3d8e39" stroke="#2e6b2b"/>
<path d="M208.5 236.3L212.5 236.4L208.5 236.4L204.4 236.3Z" fill="#3d8e39" stroke="#2e6b2b"/>
<path d="M216.6 236.4L220.7 236.6L216.6 236.6L212.5 236.4Z" fill="#3d8e3a" stroke="#2e6b2b"/>
<path d="M224.8 236.6L228.8 236.8L224.7 236.8L220.7 236.6Z" fill="#3d8e3a" stroke="#2d6b2c"/>
<path d="M175.8 236.8L179.9 236.6L175.8 236.6L171.7 236.8Z" fill="#f49612" stroke="#f49612"/>
<path d="M122.8 240.5L126.9 239.8L122.9 239.9L118.8 240.6Z" fill="#f7d40e" stroke="#dec90d"/>
<path d="M130.9 239.8L135.0 239.1L131.0 239.2L126.9 239.8Z" fill="#f7c80e" stroke="#e5c30d"/>
<path d="M139.1 239.1L143.2 238.5L139.1 238.6L135.0 239.1Z" fill="#f6b80f" stroke="#ebb80e"/>
<path d="M147.2 238.4L151.3 237.9L147.3 238.0L143.2 238.5Z" fill="#f5aa10" stroke="#f0aa10"/>
<path d="M155.4 237.9L159.5 237.5L155.4 237.5L151.3 237.9Z" fill="#f59e11" stroke="#f59e11"/>
<path d="M163.6 237.4L167.7 237.1L163.6 237.1L159.5 237.5Z" fill="#f49412" stroke="#f49412"/>
<path d="M188.1 236.5L192.2 236.4L188.1 236.4L184.0 236.5Z" fill="#f38712" stroke="#f38712"/>
<path d="M196.2 236.3L200.3 236.3L196.2 236.3L192.2 236.4Z" fill="#f38612" stroke="#f38612"/>
<path d="M204.4 236.3L208.5 236.3L204.4 236.3L200.3 236.3Z" fill="#419038" stroke="#306c2a"/>
<path d="M212.6 236.3L216.6 236.4L212.5 236.4L208.5 236.3Z" fill="#409038" stroke="#306c2a"/>
<path d="M220.7 236.4L224.8 236.6L220.7 236.6L216.6 236.4Z" fill="#3f8f39" stroke="#2f6b2b"/>
<path d="M228.9 236.6L232.9 236.8L228.8 236.8L224.8 236.6Z" fill="#3e8f39" stroke="#2e6b2b"/>
<path d="M171.7 237.0L175.8 236.8L171.7 236.8L167.7 237.1Z" fill="#f48e12" stroke="#f48e12"/>
<path d="M179.9 236.7L184.0 236.5L179.9 236.6L175.8 236.8Z" fill="#f38a12" stroke="#f38a12"/>
<path d="M118.7 241.4L122.8 240.5L118.8 240.6L114.7 241.4Z" fill="#f7d60e" stroke="#d6c40c"/>
<path d="M126.9 240.5L130.9 239.8L126.9 239.8L122.8 240.5Z" fill="#f7c90e" stroke="#ddbe0d"/>
<path d="M135.0 239.7L139.1 239.1L135.0 239.1L130.9 239.8Z" fill="#f6b70f" stroke="#e3b20e"/>
<path d="M143.1 239.0L147.2 238.4L143.2 238.5L139.1 239.1Z" fill="#f5a810" stroke="#e8a70f"/>
<path d="M151.3 238.4L155.4 237.9L151.3 237.9L147.2 238.4Z" fill="#f49a11" stroke="#ee9a11"/>
<path d="M159.5 237.8L163.6 237.4L159.5 237.5L155.4 237.9Z" fill="#f48f12" stroke="#f48f12"/>
<path d="M192.1 236.5L196.2 236.3L192.2 236.4L188.1 236.5Z" fill="#f27d13" stroke="#f27d13"/>
<path d="M200.3 236.3L204.4 236.3L200.3 236.3L196.2 236.3Z" fill="#f17c13" stroke="#f17c13"/>
<path d="M208.5 236.3L212.6 236.3L208.5 236.3L204.4 236.3Z" fill="#449237" stroke="#336d29"/>
<path d="M216.7 236.3L220.7 236.4L216.6 236.4L212.6 236.3Z" fill="#439137" stroke="#326d2a"/>
<path d="M224.8 236.4L228.9 236.6L224.8 236.6L220.7 236.4Z" fill="#429138" stroke="#326d2a"/>
<path d="M233.0 236.6L237.0 236.8L232.9 236.8L228.9 236.6Z" fill="#419038" stroke="#316c2a"/>
<path d="M167.6 237.4L171.7 237.0L167.7 237.1L163.6 237.4Z" fill="#f38912" stroke="#f38912"/>
<path d="M175.8 237.0L179.9 236.7L175.8 236.8L171.7 237.0Z" fill="#f28313" stroke="#f28313"/>
<path d="M184.0 236.7L188.1 236.5L184.0 236.5L179.9 236.7Z" fill="#f27f13" stroke="#f27f13"/>
<path d="M114.7 242.2L118.7 241.4L114.7 241.4L110.6 242.3Z" fill="#f7d90e" stroke="#cebf0c"/>
<path d="M122.8 241.3L126.9 240.5L122.8 240.5L118.7 241.4Z" fill="#f7cb0e" stroke="#d5b90c"/>
<path d="M130.9 240.4L135.0 239.7L130.9 239.8L126.9 240.5Z" fill="#f6b90f" stroke="#dbad0d"/>
<path d="M139.1 239.7L143.1 239.0L139.1 239.1L135.0 239.7Z" fill="#f5a710" stroke="#e0a10f"/>
<path d="M147.2 238.9L151.3 238.4L147.2 238.4L143.1 239.0Z" fill="#f49812" stroke="#e69711"/>
<path d="M155.4 238.3L159.5 237.8L155.4 237.9L151.3 238.4Z" fill="#f38c12" stroke="#ec8c12"/>
<path d="M196.2 236.4L200.3 236.3L196.2 236.3L192.1 236.5Z" fill="#f07313" stroke="#f07313"/>
<path d="M204.4 236.3L208.5 236.3L204.4 236.3L200.3 236.3Z" fill="#f07213" stroke="#f07213"/>
<path d="M212.6 236.3L216.7 236.3L212.6 236.3L208.5 236.3Z" fill="#479336" stroke="#356e29"/>
<path d="M220.7 236.3L224.8 236.4L220.7 236.4L216.7 236.3Z" fill="#469336" stroke="#346e29"/>
<path d="M228.9 236.4L233.0 236.6L228.9 236.6L224.8 236.4Z" fill="#459237" stroke="#346e29"/>
<path d="M237.1 236.6L241.1 236.8L237.0 236.8L233.0 236.6Z" fill="#449237" stroke="#336d29"/>
<path d="M163.5 237.8L167.6 237.4L163.6 237.4L159.5 237.8Z" fill="#f38512" stroke="#f18512"/>
<path d="M171.7 237.3L175.8 237.0L171.7 237.0L167.6 237.4Z" fill="#f27e13" stroke="#f27e13"/>
<path d="M179.9 236.9L184.0 236.7L179.9 236.7L175.8 237.0Z" fill="#f17913" stroke="#f17913"/>
<path d="M188.1 236.7L192.1 236.5L188.1 236.5L184.0 236.7Z" fill="#f17513" stroke="#f17513"/>
<path d="M110.6 243.2L114.7 242.2L110.6 242.3L106.5 243.3Z" fill="#f6dd0e" stroke="#c5bc0b"/>
<path d="M118.7 242.2L122.8 241.3L118.7 241.4L114.7 242.2Z" fill="#f7ce0e" stroke="#ccb40c"/>
<path d="M126.8 241.3L130.9 240.4L126.9 240.5L122.8 241.3Z" fill="#f6bb0f" stroke="#d3aa0d"/>
<path d="M135.0 240.4L139.1 239.7L135.0 239.7L130.9 240.4Z" fill="#f5a810" stroke="#d89d0e"/>
<path d="M143.1 239.6L147.2 238.9L143.1 239.0L139.1 239.7Z" fill="#f49712" stroke="#de9110"/>
<path d="M151.3 238.9L155.4 238.3L151.3 238.4L147.2 238.9Z" fill="#f38b12" stroke="#e48911"/>
<path d="M200.3 236.4L204.4 236.3L200.3 236.3L196.2 236.4Z" fill="#ef6a14" stroke="#ef6a14"/>
<path d="M208.5 236.3L212.6 236.3L208.5 236.3L204.4 236.3Z" fill="#ef6914" stroke="#ef6914"/>
<path d="M216.7 236.3L220.7 236.3L216.7 236.3L212.6 236.3Z" fill="#499535" stroke="#376f28"/>
<path d="M224.8 236.3L228.9 236.4L224.8 236.4L220.7 236.3Z" fill="#499435" stroke="#376f28"/>
<path d="M233.0 236.4L237.1 236.6L233.0 236.6L228.9 236.4Z" fill="#489436" stroke="#366f28"/>
<path d="M241.2 236.6L245.2 236.9L241.1 236.8L237.1 236.6Z" fill="#469336" stroke="#356e29"/>
<path d="M159.4 238.3L163.5 237.8L159.5 237.8L155.4 238.3Z" fill="#f28213" stroke="#e98212"/>
<path d="M167.6 237.8L171.7 237.3L167.6 237.4L163.5 237.8Z" fill="#f17a13" stroke="#ef7a13"/>
<path d="M175.8 237.3L179.9 236.9L175.8 237.0L171.7 237.3Z" fill="#f17413" stroke="#f17413"/>
<path d="M184.0 236.9L188.1 236.7L184.0 236.7L179.9 236.9Z" fill="#f06f13" stroke="#f06f13"/>
<path d="M192.1 236.6L196.2 236.4L192.1 236.5L188.1 236.7Z" fill="#f06c13" stroke="#f06c13"/>
<path d="M106.5 244.3L110.6 243.2L106.5 243.3L102.5 244.3Z" fill="#f6e20e" stroke="#bdb80b"/>
<path d="M114.6 243.2L118.7 242.2L114.7 242.2L110.6 243.2Z" fill="#f7d20e" stroke="#c4b10b"/>
<path d="M122.7 242.2L126.8 241.3L122.8 241.3L118.7 242.2Z" fill="#f7c00f" stroke="#cba80c"/>
<path d="M130.9 241.2L135.0 240.4L130.9 240.4L126.8 241.3Z" fill="#f5ab10" stroke="#d09a0e"/>
<path d="M139.0 240.4L143.1 239.6L139.1 239.7L135.0 240.4Z" fill="#f49811" stroke="#d68d0f"/>
<path d="M147.2 239.6L151.3 238.9L147.2 238.9L143.1 239.6Z" fill="#f38b12" stroke="#dc8411"/>
<path d="M204.4 236.4L208.5 236.3L204.4 236.3L200.3 236.4Z" fill="#ee6014" stroke="#ee6014"/>
<path d="M212.6 236.3L216.7 236.3L212.6 236.3L208.5 236.3Z" fill="#ee6014" stroke="#ee6014"/>
<path d="M220.8 236.3L224.8 236.3L220.7 236.3L216.7 236.3Z" fill="#4c9634" stroke="#397127"/>
<path d="M228.9 236.3L233.0 236.4L228.9 236.4L224.8 236.3Z" fill="#4c9634" stroke="#397027"/>
<path d="M237.1 236.5L241.2 236.6L237.1 236.6L233.0 236.4Z" fill="#4a9535" stroke="#387028"/>
<path d="M245.3 236.7L249.3 236.9L245.2 236.9L241.2 236.6Z" fill="#499435" stroke="#376f28"/>
<path d="M155.3 238.9L159.4 238.3L155.4 238.3L151.3 238.9Z" fill="#f28013" stroke="#e17e11"/>
<path d="M163.5 238.3L167.6 237.8L163.5 237.8L159.4 238.3Z" fill="#f17813" stroke="#e77812"/>
<path d="M171.7 237.7L175.8 237.3L171.7 237.3L167.6 237.8Z" fill="#f07013" stroke="#ec7013"/>
<path d="M179.9 237.3L184.0 236.9L179.9 236.9L175.8 237.3Z" fill="#ef6a14" stroke="#ef6a14"/>
<path d="M188.1 236.9L192.1 236.6L188.1 236.7L184.0 236.9Z" fill="#ef6514" stroke="#ef6514"/>
<path d="M196.2 236.6L200.3 236.4L196.2 236.4L192.1 236.6Z" fill="#ee6214" stroke="#ee6214"/>
<path d="M110.6 244.3L114.6 243.2L110.6 243.2L106.5 244.3Z" fill="#f7d70e" stroke="#bbae0b"/>
<path d="M118.7 243.2L122.7 242.2L118.7 242.2L114.6 243.2Z" fill="#f7c70e" stroke="#c2a60b"/>
<path d="M126.8 242.1L130.9 241.2L126.8 241.3L122.7 242.2Z" fill="#f6b010" stroke="#c8980d"/>
<path d="M134.9 241.2L139.0 240.4L135.0 240.4L130.9 241.2Z" fill="#f59c11" stroke="#ce8b0f"/>
<path d="M143.1 240.3L147.2 239.6L143.1 239.6L139.0 240.4Z" fill="#f38c12" stroke="#d48010"/>
<path d="M208.5 236.5L212.6 236.3L208.5 236.3L204.4 236.4Z" fill="#ed5815" stroke="#ed5815"/>
<path d="M216.7 236.3L220.8 236.3L216.7 236.3L212.6 236.3Z" fill="#ed5815" stroke="#ed5815"/>
<path d="M224.9 236.3L228.9 236.3L224.8 236.3L220.8 236.3Z" fill="#ed5815" stroke="#ed5815"/>
<path d="M233.0 236.4L237.1 236.5L233.0 236.4L228.9 236.3Z" fill="#4e9734" stroke="#3b7127"/>
<path d="M241.2 236.5L245.3 236.7L241.2 236.6L237.1 236.5Z" fill="#4d9734" stroke="#3a7127"/>
<path d="M102.5 245.4L106.5 244.3L102.5 244.3L98.4 245.5Z" fill="#f6e90e" stroke="#b4b60a"/>
<path d="M249.4 236.7L253.4 237.0L249.3 236.9L245.3 236.7Z" fill="#4b9634" stroke="#397027"/>
<path d="M151.3 239.6L155.3 238.9L151.3 238.9L147.2 239.6Z" fill="#f28013" stroke="#d97a11"/>
<path d="M159.4 238.9L163.5 238.3L159.4 238.3L155.3 238.9Z" fill="#f17613" stroke="#df7312"/>
<path d="M167.6 238.3L171.7 237.7L167.6 237.8L163.5 238.3Z" fill="#f06e13" stroke="#e46e12"/>
<path d="M175.8 237.7L179.9 237.3L175.8 237.3L171.7 237.7Z" fill="#ef6614" stroke="#ea6613"/>
<path d="M184.0 237.3L188.1 236.9L184.0 236.9L179.9 237.3Z" fill="#ee6114" stroke="#ee6114"/>
<path d="M192.1 236.9L196.2 236.6L192.1 236.6L188.1 236.9Z" fill="#ee5c14" stroke="#ee5c14"/>
<path d="M200.3 236.6L204.4 236.4L200.3 236.4L196.2 236.6Z" fill="#ed5914" stroke="#ed5914"/>
<path d="M114.6 244.2L118.7 243.2L114.6 243.2L110.6 244.3Z" fill="#f7cd0e" stroke="#baa40b"/>
<path d="M122.7 243.1L126.8 242.1L122.7 242.2L118.7 243.2Z" fill="#f6b70f" stroke="#c0980c"/>
<path d="M130.9 242.1L134.9 241.2L130.9 241.2L126.8 242.1Z" fill="#f5a111" stroke="#c68a0e"/>
<path d="M139.0 241.2L143.1 240.3L139.0 240.4L134.9 241.2Z" fill="#f48e12" stroke="#cc7e0f"/>
<path d="M212.6 236.5L216.7 236.3L212.6 236.3L208.5 236.5Z" fill="#ec5015" stroke="#ec5015"/>
<path d="M220.8 236.4L224.9 236.3L220.8 236.3L216.7 236.3Z" fill="#ec5015" stroke="#ec5015"/>
<path d="M229.0 236.4L233.0 236.4L228.9 236.3L224.9 236.3Z" fill="#ec5115" stroke="#ec5115"/>
<path d="M237.1 236.4L241.2 236.5L237.1 236.5L233.0 236.4Z" fill="#519933" stroke="#3d7226"/>
<path d="M98.4 246.7L102.5 245.4L98.4 245.5L94.4 246.7Z" fill="#f2ea10" stroke="#a8af0b"/>
<path d="M106.5 245.4L110.6 244.3L106.5 244.3L102.5 245.4Z" fill="#f6de0e" stroke="#b2ac0a"/>
<path d="M245.3 236.6L249.4 236.7L245.3 236.7L241.2 236.5Z" fill="#509833" stroke="#3c7226"/>
<path d="M253.5 236.8L257.5 237.0L253.4 237.0L249.4 236.7Z" fill="#4e9734" stroke="#3a7127"/>
<path d="M147.2 240.3L151.3 239.6L147.2 239.6L143.1 240.3Z" fill="#f28113" stroke="#d17610"/>
<path d="M155.3 239.5L159.4 238.9L155.3 238.9L151.3 239.6Z" fill="#f17613" stroke="#d76f11"/>
<path d="M163.5 238.9L167.6 238.3L163.5 238.3L159.4 238.9Z" fill="#f06c13" stroke="#dc6912"/>
<path d="M171.7 238.3L175.8 237.7L171.7 237.7L167.6 238.3Z" fill="#ef6414" stroke="#e26313"/>
<path d="M179.9 237.7L184.0 237.3L179.9 237.3L175.8 237.7Z" fill="#ee5d14" stroke="#e75d14"/>
<path d="M188.1 237.3L192.1 236.9L188.1 236.9L184.0 237.3Z" fill="#ed5815" stroke="#ed5815"/>
<path d="M196.2 236.9L200.3 236.6L196.2 236.6L192.1 236.9Z" fill="#ec5415" stroke="#ec5415"/>
<path d="M204.4 236.7L208.5 236.5L204.4 236.4L200.3 236.6Z" fill="#ec5115" stroke="#ec5115"/>
<path d="M118.6 244.2L122.7 243.1L118.7 243.2L114.6 244.2Z" fill="#f7bf0f" stroke="#b8980b"/>
<path d="M126.8 243.1L130.9 242.1L126.8 242.1L122.7 243.1Z" fill="#f5a710" stroke="#be8a0d"/>
<path d="M134.9 242.1L139.0 241.2L134.9 241.2L130.9 242.1Z" fill="#f49112" stroke="#c47c0e"/>
<path d="M216.7 236.5L220.8 236.4L216.7 236.3L212.6 236.5Z" fill="#ea4816" stroke="#ea4816"/>
<path d="M224.9 236.4L229.0 236.4L224.9 236.3L220.8 236.4Z" fill="#ea4816" stroke="#ea4816"/>
<path d="M233.1 236.4L237.1 236.4L233.0 236.4L229.0 236.4Z" fill="#eb4916" stroke="#eb4916"/>
<path d="M94.4 248.0L98.4 246.7L94.4 246.7L90.3 248.0Z" fill="#e9e815" stroke="#9aa40e"/>
<path d="M102.4 246.7L106.5 245.4L102.5 245.4L98.4 246.7Z" fill="#f6e60e" stroke="#a9aa0a"/>
<path d="M110.5 245.4L114.6 244.2L110.6 244.3L106.5 245.4Z" fill="#f7d30e" stroke="#b1a20a"/>
<path d="M241.3 236.5L245.3 236.6L241.2 236.5L237.1 236.4Z" fill="#539a32" stroke="#3e7325"/>
<path d="M249.4 236.6L253.5 236.8L249.4 236.7L245.3 236.6Z" fill="#529932" stroke="#3e7326"/>
<path d="M257.6 236.9L261.6 237.1L257.5 237.0L253.5 236.8Z" fill="#509833" stroke="#3c7226"/>
<path d="M143.1 241.2L147.2 240.3L143.1 240.3L139.0 241.2Z" fill="#f28313" stroke="#c9740f"/>
<path d="M151.2 240.3L155.3 239.5L151.3 239.6L147.2 240.3Z" fill="#f17713" stroke="#cf6c10"/>
<path d="M159.4 239.5L163.5 238.9L159.4 238.9L155.3 239.5Z" fill="#f06c13" stroke="#d46511"/>
<path d="M167.6 238.9L171.7 238.3L167.6 238.3L163.5 238.9Z" fill="#ee6314" stroke="#da5f12"/>
<path d="M175.8 238.3L179.9 237.7L175.8 237.7L171.7 238.3Z" fill="#ed5b14" stroke="#df5a13"/>
<path d="M184.0 237.7L188.1 237.3L184.0 237.3L179.9 237.7Z" fill="#ec5515" stroke="#e55514"/>
<path d="M192.1 237.3L196.2 236.9L192.1 236.9L188.1 237.3Z" fill="#ec5015" stroke="#ea5015"/>
<path d="M200.3 237.0L204.4 236.7L200.3 236.6L196.2 236.9Z" fill="#eb4c16" stroke="#eb4c16"/>
<path d="M208.5 236.7L212.6 236.5L208.5 236.5L204.4 236.7Z" fill="#eb4916" stroke="#eb4916"/>
<path d="M122.7 244.2L126.8 243.1L122.7 243.1L118.6 244.2Z" fill="#f6b010" stroke="#b58b0c"/>
<path d="M130.8 243.1L134.9 242.1L130.9 242.1L126.8 243.1Z" fill="#f49811" stroke="#bb7c0d"/>
<path d="M220.8 236.6L224.9 236.4L220.8 236.4L216.7 236.5Z" fill="#e94117" stroke="#e94117"/>
<path d="M229.0 236.5L233.1 236.4L229.0 236.4L224.9 236.4Z" fill="#e94117" stroke="#e94117"/>
<path d="M90.3 249.4L94.4 248.0L90.3 248.0L86.3 249.4Z" fill="#dfe41b" stroke="#8b9a11"/>
<path d="M98.4 248.0L102.4 246.7L98.4 246.7L94.4 248.0Z" fill="#f3eb0f" stroke="#9fa50a"/>
<path d="M106.5 246.7L110.5 245.4L106.5 245.4L102.4 246.7Z" fill="#f6db0e" stroke="#a8a00a"/>
<path d="M114.6 245.4L118.6 244.2L114.6 244.2L110.5 245.4Z" fill="#f7c90e" stroke="#af990a"/>
<path d="M237.2 236.5L241.3 236.5L237.1 236.4L233.1 236.4Z" fill="#e94217" stroke="#e94217"/>
<path d="M245.4 236.6L249.4 236.6L245.3 236.6L241.3 236.5Z" fill="#569b31" stroke="#407425"/>
<path d="M253.5 236.7L257.6 236.9L253.5 236.8L249.4 236.6Z" fill="#549b31" stroke="#3f7425"/>
<path d="M261.7 237.0L265.7 237.2L261.6 237.1L257.6 236.9Z" fill="#539a32" stroke="#3e7325"/>
<path d="M139.0 242.1L143.1 241.2L139.0 241.2L134.9 242.1Z" fill="#f38712" stroke="#c1720f"/>
<path d="M147.1 241.2L151.2 240.3L147.2 240.3L143.1 241.2Z" fill="#f17913" stroke="#c76a10"/>
<path d="M155.3 240.3L159.4 239.5L155.3 239.5L151.2 240.3Z" fill="#f06d13" stroke="#cc6311"/>
<path d="M163.5 239.6L167.6 238.9L163.5 238.9L159.4 239.5Z" fill="#ee6214" stroke="#d25c11"/>
<path d="M171.7 238.9L175.8 238.3L171.7 238.3L167.6 238.9Z" fill="#ed5a14" stroke="#d75613"/>
<path d="M179.9 238.3L184.0 237.7L179.9 237.7L175.8 238.3Z" fill="#ec5215" stroke="#dd5114"/>
<path d="M188.1 237.8L192.1 237.3L188.1 237.3L184.0 237.7Z" fill="#eb4c16" stroke="#e24c15"/>
<path d="M196.2 237.3L200.3 237.0L196.2 236.9L192.1 237.3Z" fill="#ea4816" stroke="#e74816"/>
<path d="M204.4 237.0L208.5 236.7L204.4 236.7L200.3 237.0Z" fill="#ea4416" stroke="#ea4416"/>
<path d="M212.6 236.7L216.7 236.5L212.6 236.5L208.5 236.7Z" fill="#e94217" stroke="#e94217"/>
<path d="M126.8 244.2L130.8 243.1L126.8 243.1L122.7 244.2Z" fill="#f5a111" stroke="#b37e0c"/>
<path d="M224.9 236.6L229.0 236.5L224.9 236.4L220.8 236.6Z" fill="#e83917" stroke="#e83917"/>
<path d="M86.3 250.9L90.3 249.4L86.3 249.4L82.3 250.9Z" fill="#d5e021" stroke="#7d8f13"/>
<path d="M94.4 249.4L98.4 248.0L94.4 248.0L90.3 249.4Z" fill="#eae815" stroke="#909a0d"/>
<path d="M102.4 248.0L106.5 246.7L102.4 246.7L98.4 248.0Z" fill="#f6e40e" stroke="#9f9f09"/>
<path d="M110.5 246.7L114.6 245.4L110.5 245.4L106.5 246.7Z" fill="#f7d10e" stroke="#a69709"/>
<path d="M118.6 245.4L122.7 244.2L118.6 244.2L114.6 245.4Z" fill="#f6ba0f" stroke="#ad8c0b"/>
<path d="M233.1 236.5L237.2 236.5L233.1 236.4L229.0 236.5Z" fill="#e83a17" stroke="#e83a17"/>
<path d="M241.3 236.5L245.4 236.6L241.3 236.5L237.2 236.5Z" fill="#e83b17" stroke="#e83b17"/>
<path d="M249.5 236.6L253.5 236.7L249.4 236.6L245.4 236.6Z" fill="#e93e17" stroke="#e93e17"/>
<path d="M257.6 236.8L261.7 237.0L257.6 236.9L253.5 236.7Z" fill="#579c31" stroke="#417524"/>
<path d="M265.8 237.1L269.8 237.3L265.7 237.2L261.7 237.0Z" fill="#559b31" stroke="#407425"/>
<path d="M134.9 243.1L139.0 242.1L134.9 242.1L130.8 243.1Z" fill="#f38c12" stroke="#b9710e"/>
<path d="M143.1 242.1L147.1 241.2L143.1 241.2L139.0 242.1Z" fill="#f27d13" stroke="#bf690f"/>
<path d="M151.2 241.2L155.3 240.3L151.2 240.3L147.1 241.2Z" fill="#f07013" stroke="#c46110"/>
<path d="M159.4 240.3L163.5 239.6L159.4 239.5L155.3 240.3Z" fill="#ef6414" stroke="#ca5911"/>
<path d="M167.6 239.6L171.7 238.9L167.6 238.9L163.5 239.6Z" fill="#ed5a14" stroke="#cf5312"/>
<path d="M175.8 238.9L179.9 238.3L175.8 238.3L171.7 238.9Z" fill="#ec5115" stroke="#d44d13"/>
<path d="M184.0 238.3L188.1 237.8L184.0 237.7L179.9 238.3Z" fill="#eb4a16" stroke="#da4914"/>
<path d="M192.1 237.8L196.2 237.3L192.1 237.3L188.1 237.8Z" fill="#ea4416" stroke="#df4415"/>
<path d="M200.3 237.4L204.4 237.0L200.3 237.0L196.2 237.3Z" fill="#e94017" stroke="#e54016"/>
<path d="M208.5 237.0L212.6 236.7L208.5 236.7L204.4 237.0Z" fill="#e93c17" stroke="#e93c17"/>
<path d="M216.7 236.8L220.8 236.6L216.7 236.5L212.6 236.7Z" fill="#e83a17" stroke="#e83a17"/>
<path d="M82.3 252.5L86.3 250.9L82.3 250.9L78.3 252.5Z" fill="#c9dc28" stroke="#6e8416"/>
<path d="M90.3 251.0L94.4 249.4L90.3 249.4L86.3 250.9Z" fill="#dfe41b" stroke="#818f10"/>
<path d="M98.4 249.5L102.4 248.0L98.4 248.0L94.4 249.4Z" fill="#f4eb0f" stroke="#949b09"/>
<path d="M106.5 248.0L110.5 246.7L106.5 246.7L102.4 248.0Z" fill="#f6da0e" stroke="#9d9609"/>
<path d="M114.6 246.7L118.6 245.4L114.6 245.4L110.5 246.7Z" fill="#f7c60e" stroke="#a58e09"/>
<path d="M122.7 245.4L126.8 244.2L122.7 244.2L118.6 245.4Z" fill="#f5ab10" stroke="#ab800b"/>
<path d="M229.0 236.7L233.1 236.5L229.0 236.5L224.9 236.6Z" fill="#e73218" stroke="#e73218"/>
<path d="M237.2 236.6L241.3 236.5L237.2 236.5L233.1 236.5Z" fill="#e73318" stroke="#e73318"/>
<path d="M245.4 236.6L249.5 236.6L245.4 236.6L241.3 236.5Z" fill="#e73418" stroke="#e73418"/>
<path d="M253.6 236.7L257.6 236.8L253.5 236.7L249.5 236.6Z" fill="#e83718" stroke="#e83718"/>
<path d="M261.8 236.9L265.8 237.1L261.7 237.0L257.6 236.8Z" fill="#599d30" stroke="#437624"/>
<path d="M269.9 237.2L273.9 237.4L269.8 237.3L265.8 237.1Z" fill="#579c30" stroke="#417524"/>
<path d="M130.8 244.2L134.9 243.1L130.8 243.1L126.8 244.2Z" fill="#f49212" stroke="#b1710d"/>
<path d="M139.0 243.1L143.1 242.1L139.0 242.1L134.9 243.1Z" fill="#f28213" stroke="#b6680e"/>
<path d="M147.1 242.1L151.2 241.2L147.1 241.2L143.1 242.1Z" fill="#f07313" stroke="#bc600f"/>
<path d="M155.3 241.2L159.4 240.3L155.3 240.3L151.2 241.2Z" fill="#ef6614" stroke="#c25810"/>
<path d="M163.5 240.4L167.6 239.6L163.5 239.6L159.4 240.3Z" fill="#ed5b14" stroke="#c75111"/>
<path d="M171.7 239.6L175.8 238.9L171.7 238.9L167.6 239.6Z" fill="#ec5115" stroke="#cc4b12"/>
<path d="M179.9 238.9L184.0 238.3L179.9 238.3L175.8 238.9Z" fill="#eb4916" stroke="#d24514"/>
<path d="M188.0 238.3L192.1 237.8L188.1 237.8L184.0 238.3Z" fill="#ea4217" stroke="#d74015"/>
<path d="M196.2 237.8L200.3 237.4L196.2 237.3L192.1 237.8Z" fill="#e93d17" stroke="#dd3d16"/>
<path d="M204.4 237.4L208.5 237.0L204.4 237.0L200.3 237.4Z" fill="#e83817" stroke="#e23817"/>
<path d="M212.6 237.1L216.7 236.8L212.6 236.7L208.5 237.0Z" fill="#e73518" stroke="#e73518"/>
<path d="M220.8 236.8L224.9 236.6L220.8 236.6L216.7 236.8Z" fill="#e73318" stroke="#e73318"/>
<path d="M86.3 252.6L90.3 251.0L86.3 250.9L82.3 252.5Z" fill="#d3e022" stroke="#748613"/>
<path d="M94.4 251.0L98.4 249.5L94.4 249.4L90.3 251.0Z" fill="#e9e716" stroke="#85900c"/>
<path d="M102.4 249.5L106.5 248.0L102.4 248.0L98.4 249.5Z" fill="#f6e40e" stroke="#949408"/>
<path d="M110.5 248.1L114.6 246.7L110.5 246.7L106.5 248.0Z" fill="#f7d00e" stroke="#9b8d09"/>
<path d="M118.6 246.7L122.7 245.4L118.6 245.4L114.6 246.7Z" fill="#f6b70f" stroke="#a2820a"/>
<path d="M233.2 236.8L237.2 236.6L233.1 236.5L229.0 236.7Z" fill="#e73018" stroke="#e73018"/>
<path d="M241.3 236.7L245.4 236.6L241.3 236.5L237.2 236.6Z" fill="#e73018" stroke="#e73018"/>
<path d="M249.5 236.7L253.6 236.7L249.5 236.6L245.4 236.6Z" fill="#e73018" stroke="#e73018"/>
<path d="M257.7 236.8L261.8 236.9L257.6 236.8L253.6 236.7Z" fill="#e73218" stroke="#e73218"/>
<path d="M265.9 237.0L269.9 237.2L265.8 237.1L261.8 236.9Z" fill="#5b9e2f" stroke="#447723"/>
<path d="M78.3 254.2L82.3 252.5L78.3 252.5L74.3 254.2Z" fill="#c0d92a" stroke="#698217"/>
<path d="M134.9 244.3L139.0 243.1L134.9 243.1L130.8 244.2Z" fill="#f38812" stroke="#ae680d"/>
<path d="M143.0 243.2L147.1 242.1L143.1 242.1L139.0 243.1Z" fill="#f17813" stroke="#b4600e"/>
<path d="M151.2 242.2L155.3 241.2L151.2 241.2L147.1 242.1Z" fill="#ef6a14" stroke="#b9570f"/>
<path d="M159.4 241.2L163.5 240.4L159.4 240.3L155.3 241.2Z" fill="#ee5d14" stroke="#bf4f10"/>
<path d="M167.6 240.4L171.7 239.6L167.6 239.6L163.5 240.4Z" fill="#ec5215" stroke="#c44912"/>
<path d="M175.8 239.6L179.9 238.9L175.8 238.9L171.7 239.6Z" fill="#eb4916" stroke="#ca4313"/>
<path d="M184.0 239.0L188.0 238.3L184.0 238.3L179.9 238.9Z" fill="#e94117" stroke="#cf3d14"/>
<path d="M192.2 238.4L196.2 237.8L192.1 237.8L188.0 238.3Z" fill="#e83b17" stroke="#d53915"/>
<path d="M200.4 237.9L204.4 237.4L200.3 237.4L196.2 237.8Z" fill="#e73518" stroke="#da3516"/>
<path d="M208.6 237.5L212.6 237.1L208.5 237.0L204.4 237.4Z" fill="#e73218" stroke="#e03217"/>
<path d="M216.8 237.2L220.8 236.8L216.7 236.8L212.6 237.1Z" fill="#e73018" stroke="#e63018"/>
<path d="M274.0 237.3L278.0 237.5L273.9 237.4L269.9 237.2Z" fill="#599d30" stroke="#437624"/>
<path d="M126.7 245.4L130.8 244.2L126.8 244.2L122.7 245.4Z" fill="#f59c11" stroke="#a8730c"/>
<path d="M225.0 236.9L229.0 236.7L224.9 236.6L220.8 236.8Z" fill="#e73018" stroke="#e73018"/>
<path d="M90.3 252.6L94.4 251.0L90.3 251.0L86.3 252.6Z" fill="#dde31c" stroke="#798810"/>
<path d="M98.4 251.0L102.4 249.5L98.4 249.5L94.4 251.0Z" fill="#f2eb10" stroke="#889009"/>
<path d="M106.5 249.5L110.5 248.1L106.5 248.0L102.4 249.5Z" fill="#f6da0e" stroke="#928c08"/>
<path d="M114.6 248.1L118.6 246.7L114.6 246.7L110.5 248.1Z" fill="#f7c50e" stroke="#9a8509"/>
<path d="M237.3 236.9L241.3 236.7L237.2 236.6L233.2 236.8Z" fill="#e62d18" stroke="#e62d18"/>
<path d="M245.5 236.8L249.5 236.7L245.4 236.6L241.3 236.7Z" fill="#e62d18" stroke="#e62d18"/>
<path d="M253.6 236.8L257.7 236.8L253.6 236.7L249.5 236.7Z" fill="#e72e18" stroke="#e72e18"/>
<path d="M261.8 237.0L265.9 237.0L261.8 236.9L257.7 236.8Z" fill="#e72f18" stroke="#e72f18"/>
<path d="M74.3 256.0L78.3 254.2L74.3 254.2L70.3 256.0Z" fill="#b6d52b" stroke="#648018"/>
<path d="M82.3 254.3L86.3 252.6L82.3 252.5L78.3 254.2Z" fill="#c6db28" stroke="#6d8416"/>
<path d="M139.0 244.3L143.0 243.2L139.0 243.1L134.9 244.3Z" fill="#f27e13" stroke="#ac600d"/>
<path d="M147.1 243.2L151.2 242.2L147.1 242.1L143.0 243.2Z" fill="#f06f13" stroke="#b1570e"/>
<path d="M155.3 242.2L159.4 241.2L155.3 241.2L151.2 242.2Z" fill="#ee6014" stroke="#b74f0f"/>
<path d="M163.5 241.3L167.6 240.4L163.5 240.4L159.4 241.2Z" fill="#ec5515" stroke="#bc4811"/>
<path d="M171.7 240.4L175.8 239.6L171.7 239.6L167.6 240.4Z" fill="#eb4a16" stroke="#c24112"/>
<path d="M179.9 239.7L184.0 239.0L179.9 238.9L175.8 239.6Z" fill="#e94117" stroke="#c73b13"/>
<path d="M188.1 239.0L192.2 238.4L188.0 238.3L184.0 239.0Z" fill="#e83a17" stroke="#cd3615"/>
<path d="M196.3 238.4L200.4 237.9L196.2 237.8L192.2 238.4Z" fill="#e73318" stroke="#d23116"/>
<path d="M204.5 238.0L208.6 237.5L204.4 237.4L200.4 237.9Z" fill="#e73018" stroke="#d83017"/>
<path d="M212.7 237.6L216.8 237.2L212.6 237.1L208.6 237.5Z" fill="#e72f18" stroke="#de2f17"/>
<path d="M270.0 237.2L274.0 237.3L269.9 237.2L265.9 237.0Z" fill="#5d9f2e" stroke="#467723"/>
<path d="M278.1 237.5L282.2 237.7L278.0 237.5L274.0 237.3Z" fill="#5b9e2f" stroke="#447723"/>
<path d="M122.7 246.7L126.7 245.4L122.7 245.4L118.6 246.7Z" fill="#f5a910" stroke="#a0760b"/>
<path d="M130.8 245.5L134.9 244.3L130.8 244.2L126.7 245.4Z" fill="#f48f12" stroke="#a6680c"/>
<path d="M220.9 237.2L225.0 236.9L220.8 236.8L216.8 237.2Z" fill="#e62e18" stroke="#e42e18"/>
<path d="M229.1 237.0L233.2 236.8L229.0 236.7L225.0 236.9Z" fill="#e62d18" stroke="#e62d18"/>
<path d="M94.4 252.7L98.4 251.0L94.4 251.0L90.3 252.6Z" fill="#e6e717" stroke="#7f8a0d"/>
<path d="M102.4 251.1L106.5 249.5L102.4 249.5L98.4 251.0Z" fill="#f6e60e" stroke="#888b08"/>
<path d="M110.5 249.6L114.6 248.1L110.5 248.1L106.5 249.5Z" fill="#f7d10e" stroke="#908408"/>
<path d="M241.4 237.0L245.5 236.8L241.3 236.7L237.3 236.9Z" fill="#e62b19" stroke="#e62b19"/>
<path d="M249.6 236.9L253.6 236.8L249.5 236.7L245.5 236.8Z" fill="#e62b19" stroke="#e62b19"/>
<path d="M257.8 237.0L261.8 237.0L257.7 236.8L253.6 236.8Z" fill="#e62c19" stroke="#e62c19"/>
<path d="M70.3 257.9L74.3 256.0L70.3 256.0L66.3 257.9Z" fill="#abd22d" stroke="#5e7e19"/>
<path d="M78.3 256.1L82.3 254.3L78.3 254.2L74.3 256.0Z" fill="#bdd82a" stroke="#688217"/>
<path d="M86.3 254.3L90.3 252.6L86.3 252.6L82.3 254.3Z" fill="#cfdf24" stroke="#728614"/>
<path d="M143.0 244.4L147.1 243.2L143.0 243.2L139.0 244.3Z" fill="#f17513" stroke="#a9580d"/>
<path d="M151.2 243.3L155.3 242.2L151.2 242.2L147.1 243.2Z" fill="#ef6514" stroke="#af4f0e"/>
<path d="M159.4 242.3L163.5 241.3L159.4 241.2L155.3 242.2Z" fill="#ed5815" stroke="#b44710"/>
<path d="M167.6 241.3L171.7 240.4L167.6 240.4L163.5 241.3Z" fill="#eb4d16" stroke="#ba4011"/>
<path d="M175.8 240.5L179.9 239.7L175.8 239.6L171.7 240.4Z" fill="#ea4317" stroke="#bf3a12"/>
<path d="M184.0 239.8L188.1 239.0L184.0 239.0L179.9 239.7Z" fill="#e83a17" stroke="#c53414"/>
<path d="M192.2 239.1L196.3 238.4L192.2 238.4L188.1 239.0Z" fill="#e73218" stroke="#ca2e15"/>
<path d="M200.4 238.5L204.5 238.0L200.4 237.9L196.3 238.4Z" fill="#e73018" stroke="#d02e16"/>
<path d="M208.6 238.0L212.7 237.6L208.6 237.5L204.5 238.0Z" fill="#e62e18" stroke="#d62d17"/>
<path d="M265.9 237.1L270.0 237.2L265.9 237.0L261.8 237.0Z" fill="#e62d18" stroke="#e62d18"/>
<path d="M274.1 237.3L278.1 237.5L274.0 237.3L270.0 237.2Z" fill="#5fa02e" stroke="#477822"/>
<path d="M282.3 237.6L286.3 237.8L282.2 237.7L278.1 237.5Z" fill="#5d9f2e" stroke="#467723"/>
<path d="M118.6 248.1L122.7 246.7L118.6 246.7L114.6 248.1Z" fill="#f6b70f" stroke="#977909"/>
<path d="M126.7 246.8L130.8 245.5L126.7 245.4L122.7 246.7Z" fill="#f59a11" stroke="#9d6b0b"/>
<path d="M134.9 245.5L139.0 244.3L134.9 244.3L130.8 245.5Z" fill="#f38512" stroke="#a3600c"/>
<path d="M216.8 237.6L220.9 237.2L216.8 237.2L212.7 237.6Z" fill="#e62d18" stroke="#dc2d17"/>
<path d="M225.0 237.3L229.1 237.0L225.0 236.9L220.9 237.2Z" fill="#e62c19" stroke="#e22c18"/>
<path d="M233.2 237.1L237.3 236.9L233.2 236.8L229.1 237.0Z" fill="#e62b19" stroke="#e62b19"/>
<path d="M98.4 252.7L102.4 251.1L98.4 251.0L94.4 252.7Z" fill="#f0ea12" stroke="#848c0a"/>
<path d="M106.5 251.1L110.5 249.6L106.5 249.5L102.4 251.1Z" fill="#f6dc0e" stroke="#888408"/>
<path d="M245.5 237.1L249.6 236.9L245.5 236.8L241.4 237.0Z" fill="#e62919" stroke="#e62919"/>
<path d="M253.7 237.1L257.8 237.0L253.6 236.8L249.6 236.9Z" fill="#e62919" stroke="#e62919"/>
<path d="M66.3 259.9L70.3 257.9L66.3 257.9L62.3 259.8Z" fill="#a0ce30" stroke="#587b1a"/>
<path d="M74.3 258.0L78.3 256.1L74.3 256.0L70.3 257.9Z" fill="#b2d42c" stroke="#627f18"/>
<path d="M82.3 256.2L86.3 254.3L82.3 254.3L78.3 256.1Z" fill="#c3da29" stroke="#6b8316"/>
<path d="M90.4 254.4L94.4 252.7L90.3 252.6L86.3 254.3Z" fill="#d9e21e" stroke="#778811"/>
<path d="M147.1 244.4L151.2 243.3L147.1 243.2L143.0 244.4Z" fill="#ef6b14" stroke="#a7500e"/>
<path d="M155.3 243.3L159.4 242.3L155.3 242.2L151.2 243.3Z" fill="#ee5d14" stroke="#ac480f"/>
<path d="M163.5 242.3L167.6 241.3L163.5 241.3L159.4 242.3Z" fill="#ec5015" stroke="#b24010"/>
<path d="M171.7 241.4L175.8 240.5L171.7 240.4L167.6 241.3Z" fill="#ea4516" stroke="#b73911"/>
<path d="M179.8 240.6L184.0 239.8L179.9 239.7L175.8 240.5Z" fill="#e83b17" stroke="#bd3313"/>
<path d="M188.1 239.8L192.2 239.1L188.1 239.0L184.0 239.8Z" fill="#e73218" stroke="#c22d14"/>
<path d="M196.3 239.2L200.4 238.5L196.3 238.4L192.2 239.1Z" fill="#e72f18" stroke="#c82c15"/>
<path d="M204.5 238.6L208.6 238.0L204.5 238.0L200.4 238.5Z" fill="#e62d18" stroke="#ce2b16"/>
<path d="M261.9 237.1L265.9 237.1L261.8 237.0L257.8 237.0Z" fill="#e62a19" stroke="#e62a19"/>
<path d="M270.1 237.3L274.1 237.3L270.0 237.2L265.9 237.1Z" fill="#e62b19" stroke="#e62b19"/>
<path d="M278.2 237.5L282.3 237.6L278.1 237.5L274.1 237.3Z" fill="#e62d18" stroke="#e62d18"/>
<path d="M286.4 237.8L290.4 238.0L286.3 237.8L282.3 237.6Z" fill="#5fa02e" stroke="#477822"/>
<path d="M114.6 249.6L118.6 248.1L114.6 248.1L110.5 249.6Z" fill="#f7c70e" stroke="#8e7c08"/>
<path d="M122.7 248.2L126.7 246.8L122.7 246.7L118.6 248.1Z" fill="#f5a810" stroke="#956f0a"/>
<path d="M130.8 246.8L134.9 245.5L130.8 245.5L126.7 246.8Z" fill="#f48e12" stroke="#9b610c"/>
<path d="M139.0 245.6L143.0 244.4L139.0 244.3L134.9 245.5Z" fill="#f17c13" stroke="#a1590d"/>
<path d="M212.7 238.1L216.8 237.6L212.7 237.6L208.6 238.0Z" fill="#e62b19" stroke="#d52a17"/>
<path d="M220.9 237.7L225.0 237.3L220.9 237.2L216.8 237.6Z" fill="#e62a19" stroke="#db2a17"/>
<path d="M229.1 237.4L233.2 237.1L229.1 237.0L225.0 237.3Z" fill="#e62919" stroke="#e12918"/>
<path d="M237.3 237.2L241.4 237.0L237.3 236.9L233.2 237.1Z" fill="#e62919" stroke="#e62919"/>
<path d="M102.4 252.8L106.5 251.1L102.4 251.1L98.4 252.7Z" fill="#f6e90e" stroke="#878c08"/>
<path d="M249.6 237.2L253.7 237.1L249.6 236.9L245.5 237.1Z" fill="#e62719" stroke="#e62719"/>
<path d="M62.4 262.0L66.3 259.9L62.3 259.8L58.4 261.9Z" fill="#94c932" stroke="#52791b"/>
<path d="M70.4 260.0L74.3 258.0L70.3 257.9L66.3 259.9Z" fill="#a7d02e" stroke="#5c7d19"/>
<path d="M78.3 258.1L82.3 256.2L78.3 256.1L74.3 258.0Z" fill="#b9d72b" stroke="#668118"/>
<path d="M86.4 256.2L90.4 254.4L86.3 254.3L82.3 256.2Z" fill="#cbdd27" stroke="#6f8515"/>
<path d="M94.4 254.5L98.4 252.7L94.4 252.7L90.4 254.4Z" fill="#e2e519" stroke="#7d8a0e"/>
<path d="M151.2 244.5L155.3 243.3L151.2 243.3L147.1 244.4Z" fill="#ee6314" stroke="#a4490e"/>
<path d="M159.4 243.4L163.5 242.3L159.4 242.3L155.3 243.3Z" fill="#ec5515" stroke="#aa410f"/>
<path d="M167.6 242.4L171.7 241.4L167.6 241.3L163.5 242.3Z" fill="#ea4816" stroke="#af3a10"/>
<path d="M175.8 241.5L179.8 240.6L175.8 240.5L171.7 241.4Z" fill="#e93d17" stroke="#b53312"/>
<path d="M184.0 240.6L188.1 239.8L184.0 239.8L179.8 240.6Z" fill="#e73418" stroke="#ba2c13"/>
<path d="M192.2 239.9L196.3 239.2L192.2 239.1L188.1 239.8Z" fill="#e73018" stroke="#c02a14"/>
<path d="M200.4 239.3L204.5 238.6L200.4 238.5L196.3 239.2Z" fill="#e62d18" stroke="#c62915"/>
<path d="M257.8 237.2L261.9 237.1L257.8 237.0L253.7 237.1Z" fill="#e62719" stroke="#e62719"/>
<path d="M266.0 237.3L270.1 237.3L265.9 237.1L261.9 237.1Z" fill="#e62819" stroke="#e62819"/>
<path d="M274.2 237.4L278.2 237.5L274.1 237.3L270.1 237.3Z" fill="#e62919" stroke="#e62919"/>
<path d="M282.3 237.6L286.4 237.8L282.3 237.6L278.2 237.5Z" fill="#e62b19" stroke="#e62b19"/>
<path d="M290.5 238.0L294.5 238.2L290.4 238.0L286.4 237.8Z" fill="#61a12d" stroke="#497922"/>
<path d="M110.5 251.2L114.6 249.6L110.5 249.6L106.5 251.1Z" fill="#f7d30e" stroke="#887e08"/>
<path d="M118.6 249.7L122.7 248.2L118.6 248.1L114.6 249.6Z" fill="#f6b90f" stroke="#8c7209"/>
<path d="M126.7 248.3L130.8 246.8L126.7 246.8L122.7 248.2Z" fill="#f59b11" stroke="#92640a"/>
<path d="M134.9 246.9L139.0 245.6L134.9 245.5L130.8 246.8Z" fill="#f28413" stroke="#985a0c"/>
<path d="M143.0 245.6L147.1 244.4L143.0 244.4L139.0 245.6Z" fill="#f07313" stroke="#9e510d"/>
<path d="M208.6 238.7L212.7 238.1L208.6 238.0L204.5 238.6Z" fill="#e62b19" stroke="#cd2816"/>
<path d="M216.8 238.2L220.9 237.7L216.8 237.6L212.7 238.1Z" fill="#e62919" stroke="#d32817"/>
<path d="M225.0 237.8L229.1 237.4L225.0 237.3L220.9 237.7Z" fill="#e62819" stroke="#d92817"/>
<path d="M233.2 237.6L237.3 237.2L233.2 237.1L229.1 237.4Z" fill="#e62719" stroke="#df2718"/>
<path d="M241.4 237.4L245.5 237.1L241.4 237.0L237.3 237.2Z" fill="#e62619" stroke="#e52619"/>
<path d="M58.5 264.2L62.4 262.0L58.4 261.9L54.5 264.1Z" fill="#88c534" stroke="#4b761d"/>
<path d="M66.4 262.1L70.4 260.0L66.3 259.9L62.4 262.0Z" fill="#9bcc31" stroke="#557a1b"/>
<path d="M74.4 260.1L78.3 258.1L74.3 258.0L70.4 260.0Z" fill="#aed22d" stroke="#5f7e19"/>
<path d="M82.4 258.2L86.4 256.2L82.3 256.2L78.3 258.1Z" fill="#bfd92a" stroke="#698217"/>
<path d="M90.4 256.3L94.4 254.5L90.4 254.4L86.4 256.2Z" fill="#d4e021" stroke="#758612"/>
<path d="M98.4 254.6L102.4 252.8L98.4 252.7L94.4 254.5Z" fill="#ece814" stroke="#828b0b"/>
<path d="M155.3 244.6L159.4 243.4L155.3 243.3L151.2 244.5Z" fill="#ed5a14" stroke="#a1420e"/>
<path d="M163.5 243.5L167.6 242.4L163.5 242.3L159.4 243.4Z" fill="#eb4d16" stroke="#a73b0f"/>
<path d="M171.7 242.5L175.8 241.5L171.7 241.4L167.6 242.4Z" fill="#e94117" stroke="#ad3311"/>
<path d="M179.9 241.6L184.0 240.6L179.8 240.6L175.8 241.5Z" fill="#e83618" stroke="#b22c12"/>
<path d="M188.1 240.7L192.2 239.9L188.1 239.8L184.0 240.6Z" fill="#e73018" stroke="#b82913"/>
<path d="M196.3 240.0L200.4 239.3L196.3 239.2L192.2 239.9Z" fill="#e62d18" stroke="#be2714"/>
<path d="M253.7 237.4L257.8 237.2L253.7 237.1L249.6 237.2Z" fill="#e52419" stroke="#e52419"/>
<path d="M261.9 237.4L266.0 237.3L261.9 237.1L257.8 237.2Z" fill="#e52519" stroke="#e52519"/>
<path d="M270.1 237.4L274.2 237.4L270.1 237.3L266.0 237.3Z" fill="#e52619" stroke="#e52619"/>
<path d="M278.3 237.6L282.3 237.6L278.2 237.5L274.2 237.4Z" fill="#e62719" stroke="#e62719"/>
<path d="M286.5 237.8L290.5 238.0L286.4 237.8L282.3 237.6Z" fill="#e62919" stroke="#e62919"/>
<path d="M294.6 238.2L298.6 238.4L294.5 238.2L290.5 238.0Z" fill="#63a22c" stroke="#4a7a21"/>
<path d="M106.5 252.9L110.5 251.2L106.5 251.1L102.4 252.8Z" fill="#f6e00e" stroke="#878608"/>
<path d="M114.6 251.3L118.6 249.7L114.6 249.6L110.5 251.2Z" fill="#f7ca0e" stroke="#887908"/>
<path d="M122.7 249.8L126.7 248.3L122.7 248.2L118.6 249.7Z" fill="#f5ab10" stroke="#896809"/>
<path d="M130.8 248.3L134.9 246.9L130.8 246.8L126.7 248.3Z" fill="#f48e12" stroke="#905b0b"/>
<path d="M139.0 247.0L143.0 245.6L139.0 245.6L134.9 246.9Z" fill="#f17b13" stroke="#96530c"/>
<path d="M147.1 245.7L151.2 244.5L147.1 244.4L143.0 245.6Z" fill="#ef6a14" stroke="#9c4a0d"/>
<path d="M204.5 239.4L208.6 238.7L204.5 238.6L200.4 239.3Z" fill="#e62b19" stroke="#c52615"/>
<path d="M212.7 238.8L216.8 238.2L212.7 238.1L208.6 238.7Z" fill="#e62819" stroke="#cb2616"/>
<path d="M220.9 238.3L225.0 237.8L220.9 237.7L216.8 238.2Z" fill="#e62719" stroke="#d12517"/>
<path d="M229.1 238.0L233.2 237.6L229.1 237.4L225.0 237.8Z" fill="#e52619" stroke="#d72517"/>
<path d="M237.3 237.7L241.4 237.4L237.3 237.2L233.2 237.6Z" fill="#e52519" stroke="#dd2518"/>
<path d="M245.5 237.5L249.6 237.2L245.5 237.1L241.4 237.4Z" fill="#e52419" stroke="#e32419"/>
<path d="M62.5 264.3L66.4 262.1L62.4 262.0L58.5 264.2Z" fill="#8ec733" stroke="#4e781c"/>
<path d="M70.4 262.2L74.4 260.1L70.4 260.0L66.4 262.1Z" fill="#a1ce2f" stroke="#597c1a"/>
<path d="M78.4 260.2L82.4 258.2L78.3 258.1L74.4 260.1Z" fill="#b4d52c" stroke="#638018"/>
<path d="M86.4 258.3L90.4 256.3L86.4 256.2L82.4 258.2Z" fill="#c6db28" stroke="#6d8316"/>
<path d="M94.4 256.4L98.4 254.6L94.4 254.5L90.4 256.3Z" fill="#dde31c" stroke="#7a880f"/>
<path d="M159.4 244.6L163.5 243.5L159.4 243.4L155.3 244.6Z" fill="#ec5315" stroke="#9f3c0e"/>
<path d="M167.6 243.6L171.7 242.5L167.6 242.4L163.5 243.5Z" fill="#ea4616" stroke="#a43410"/>
<path d="M175.8 242.6L179.9 241.6L175.8 241.5L171.7 242.5Z" fill="#e83a17" stroke="#aa2d11"/>
<path d="M184.0 241.7L188.1 240.7L184.0 240.6L179.9 241.6Z" fill="#e73118" stroke="#b02812"/>
<path d="M192.2 240.8L196.3 240.0L192.2 239.9L188.1 240.7Z" fill="#e62e18" stroke="#b62613"/>
<path d="M257.9 237.5L261.9 237.4L257.8 237.2L253.7 237.4Z" fill="#e52219" stroke="#e52219"/>
<path d="M266.1 237.5L270.1 237.4L266.0 237.3L261.9 237.4Z" fill="#e52319" stroke="#e52319"/>
<path d="M274.3 237.6L278.3 237.6L274.2 237.4L270.1 237.4Z" fill="#e52419" stroke="#e52419"/>
<path d="M282.4 237.8L286.5 237.8L282.3 237.6L278.3 237.6Z" fill="#e52519" stroke="#e52519"/>
<path d="M290.6 238.0L294.6 238.2L290.5 238.0L286.5 237.8Z" fill="#e62719" stroke="#e62719"/>
<path d="M110.5 253.0L114.6 251.3L110.5 251.2L106.5 252.9Z" fill="#f7d60e" stroke="#888108"/>
<path d="M118.6 251.4L122.7 249.8L118.6 249.7L114.6 251.3Z" fill="#f6bd0f" stroke="#887108"/>
<path d="M126.8 249.9L130.8 248.3L126.7 248.3L122.7 249.8Z" fill="#f59d11" stroke="#875f09"/>
<path d="M134.9 248.4L139.0 247.0L134.9 246.9L130.8 248.3Z" fill="#f38512" stroke="#8d540b"/>
<path d="M143.0 247.1L147.1 245.7L143.0 245.6L139.0 247.0Z" fill="#f07313" stroke="#934c0c"/>
<path d="M151.2 245.8L155.3 244.6L151.2 244.5L147.1 245.7Z" fill="#ee6114" stroke="#99430d"/>
<path d="M200.4 240.1L204.5 239.4L200.4 239.3L196.3 240.0Z" fill="#e62b19" stroke="#bc2514"/>
<path d="M208.6 239.5L212.7 238.8L208.6 238.7L204.5 239.4Z" fill="#e62819" stroke="#c32415"/>
<path d="M216.8 238.9L220.9 238.3L216.8 238.2L212.7 238.8Z" fill="#e62619" stroke="#c92316"/>
<path d="M225.0 238.5L229.1 238.0L225.0 237.8L220.9 238.3Z" fill="#e52519" stroke="#cf2317"/>
<path d="M233.2 238.1L237.3 237.7L233.2 237.6L229.1 238.0Z" fill="#e52319" stroke="#d52317"/>
<path d="M241.5 237.8L245.5 237.5L241.4 237.4L237.3 237.7Z" fill="#e52319" stroke="#db2318"/>
<path d="M102.5 254.7L106.5 252.9L102.4 252.8L98.4 254.6Z" fill="#f5eb0f" stroke="#868d08"/>
<path d="M249.7 237.6L253.7 237.4L249.6 237.2L245.5 237.5Z" fill="#e52219" stroke="#e22219"/>
<path d="M66.5 264.4L70.4 262.2L66.4 262.1L62.5 264.3Z" fill="#95ca32" stroke="#52791b"/>
<path d="M74.4 262.3L78.4 260.2L74.4 260.1L70.4 262.2Z" fill="#a8d02e" stroke="#5c7d19"/>
<path d="M82.4 260.3L86.4 258.3L82.4 258.2L78.4 260.2Z" fill="#bad72b" stroke="#668117"/>
<path d="M90.4 258.4L94.4 256.4L90.4 256.3L86.4 258.3Z" fill="#cdde25" stroke="#718514"/>
<path d="M163.5 244.7L167.6 243.6L163.5 243.5L159.4 244.6Z" fill="#eb4b16" stroke="#9c360e"/>
<path d="M171.7 243.7L175.8 242.6L171.7 242.5L167.6 243.6Z" fill="#e93e17" stroke="#a22e10"/>
<path d="M179.9 242.7L184.0 241.7L179.9 241.6L175.8 242.6Z" fill="#e73318" stroke="#a72711"/>
<path d="M188.1 241.8L192.2 240.8L188.1 240.7L184.0 241.7Z" fill="#e72e18" stroke="#ae2512"/>
<path d="M262.0 237.7L266.1 237.5L261.9 237.4L257.9 237.5Z" fill="#e52019" stroke="#e52019"/>
<path d="M270.2 237.7L274.3 237.6L270.1 237.4L266.1 237.5Z" fill="#e52119" stroke="#e52119"/>
<path d="M278.4 237.8L282.4 237.8L278.3 237.6L274.3 237.6Z" fill="#e52219" stroke="#e52219"/>
<path d="M286.6 238.0L290.6 238.0L286.5 237.8L282.4 237.8Z" fill="#e52419" stroke="#e52419"/>
<path d="M114.6 253.1L118.6 251.4L114.6 251.3L110.5 253.0Z" fill="#f7cd0e" stroke="#887b08"/>
<path d="M122.7 251.5L126.8 249.9L122.7 249.8L118.6 251.4Z" fill="#f6af10" stroke="#876909"/>
<path d="M130.8 249.9L134.9 248.4L130.8 248.3L126.8 249.9Z" fill="#f49012" stroke="#86570a"/>
<path d="M139.0 248.5L143.0 247.1L139.0 247.0L134.9 248.4Z" fill="#f27d13" stroke="#8b4e0b"/>
<path d="M147.1 247.2L151.2 245.8L147.1 245.7L143.0 247.1Z" fill="#ef6a14" stroke="#91450c"/>
<path d="M155.3 245.9L159.4 244.6L155.3 244.6L151.2 245.8Z" fill="#ed5a14" stroke="#973d0d"/>
<path d="M196.3 241.0L200.4 240.1L196.3 240.0L192.2 240.8Z" fill="#e62b19" stroke="#b42413"/>
<path d="M204.5 240.2L208.6 239.5L204.5 239.4L200.4 240.1Z" fill="#e62819" stroke="#bb2314"/>
<path d="M212.7 239.6L216.8 238.9L212.7 238.8L208.6 239.5Z" fill="#e52619" stroke="#c12215"/>
<path d="M220.9 239.1L225.0 238.5L220.9 238.3L216.8 238.9Z" fill="#e52419" stroke="#c72116"/>
<path d="M229.2 238.6L233.2 238.1L229.1 238.0L225.0 238.5Z" fill="#e52219" stroke="#cd2117"/>
<path d="M237.4 238.3L241.5 237.8L237.3 237.7L233.2 238.1Z" fill="#e52119" stroke="#d42017"/>
<path d="M98.5 256.5L102.5 254.7L98.4 254.6L94.4 256.4Z" fill="#e6e617" stroke="#7e8a0d"/>
<path d="M106.5 254.8L110.5 253.0L106.5 252.9L102.5 254.7Z" fill="#f6e40e" stroke="#878908"/>
<path d="M245.6 238.0L249.7 237.6L245.5 237.5L241.5 237.8Z" fill="#e52119" stroke="#da2118"/>
<path d="M253.8 237.8L257.9 237.5L253.7 237.4L249.7 237.6Z" fill="#e52019" stroke="#e02019"/>
<path d="M70.5 264.6L74.4 262.3L70.4 262.2L66.5 264.4Z" fill="#9bcc31" stroke="#557a1b"/>
<path d="M78.4 262.5L82.4 260.3L78.4 260.2L74.4 262.3Z" fill="#aed32d" stroke="#607e19"/>
<path d="M86.4 260.5L90.4 258.4L86.4 258.3L82.4 260.3Z" fill="#c0d929" stroke="#6a8217"/>
<path d="M167.6 244.9L171.7 243.7L167.6 243.6L163.5 244.7Z" fill="#ea4416" stroke="#9a300f"/>
<path d="M175.8 243.8L179.9 242.7L175.8 242.6L171.7 243.7Z" fill="#e83718" stroke="#9f2910"/>
<path d="M184.0 242.8L188.1 241.8L184.0 241.7L179.9 242.7Z" fill="#e73018" stroke="#a52511"/>
<path d="M266.1 237.9L270.2 237.7L266.1 237.5L262.0 237.7Z" fill="#e51f1a" stroke="#e41f1a"/>
<path d="M274.3 237.9L278.4 237.8L274.3 237.6L270.2 237.7Z" fill="#e51f1a" stroke="#e51f1a"/>
<path d="M282.5 238.0L286.6 238.0L282.4 237.8L278.4 237.8Z" fill="#e52019" stroke="#e52019"/>
<path d="M118.7 253.2L122.7 251.5L118.6 251.4L114.6 253.1Z" fill="#f7c30e" stroke="#887508"/>
<path d="M126.8 251.6L130.8 249.9L126.8 249.9L122.7 251.5Z" fill="#f5a211" stroke="#876109"/>
<path d="M134.9 250.1L139.0 248.5L134.9 248.4L130.8 249.9Z" fill="#f38812" stroke="#86510a"/>
<path d="M143.0 248.6L147.1 247.2L143.0 247.1L139.0 248.5Z" fill="#f17413" stroke="#88470b"/>
<path d="M151.2 247.3L155.3 245.9L151.2 245.8L147.1 247.2Z" fill="#ee6214" stroke="#8e3f0c"/>
<path d="M159.4 246.0L163.5 244.7L159.4 244.6L155.3 245.9Z" fill="#ec5215" stroke="#94380d"/>
<path d="M192.2 241.9L196.3 241.0L192.2 240.8L188.1 241.8Z" fill="#e62c18" stroke="#ac2312"/>
<path d="M200.4 241.1L204.5 240.2L200.4 240.1L196.3 241.0Z" fill="#e62919" stroke="#b22213"/>
<path d="M208.6 240.4L212.7 239.6L208.6 239.5L204.5 240.2Z" fill="#e62619" stroke="#b92114"/>
<path d="M216.8 239.7L220.9 239.1L216.8 238.9L212.7 239.6Z" fill="#e52419" stroke="#bf2015"/>
<path d="M225.1 239.2L229.2 238.6L225.0 238.5L220.9 239.1Z" fill="#e52219" stroke="#c51f16"/>
<path d="M233.3 238.8L237.4 238.3L233.2 238.1L229.2 238.6Z" fill="#e52019" stroke="#cc1e17"/>
<path d="M94.4 258.5L98.5 256.5L94.4 256.4L90.4 258.4Z" fill="#d6e120" stroke="#768712"/>
<path d="M102.5 256.7L106.5 254.8L102.5 254.7L98.5 256.5Z" fill="#efe912" stroke="#838c0a"/>
<path d="M110.6 254.9L114.6 253.1L110.5 253.0L106.5 254.8Z" fill="#f6dc0e" stroke="#888408"/>
<path d="M241.5 238.4L245.6 238.0L241.5 237.8L237.4 238.3Z" fill="#e51f1a" stroke="#d21e17"/>
<path d="M249.7 238.2L253.8 237.8L249.7 237.6L245.6 238.0Z" fill="#e51f1a" stroke="#d81e18"/>
<path d="M257.9 238.0L262.0 237.7L257.9 237.5L253.8 237.8Z" fill="#e51e1a" stroke="#de1e19"/>
<path d="M74.5 264.7L78.4 262.5L74.4 262.3L70.5 264.6Z" fill="#a1ce2f" stroke="#597c1a"/>
<path d="M82.5 262.6L86.4 260.5L82.4 260.3L78.4 262.5Z" fill="#b4d52c" stroke="#638018"/>
<path d="M171.7 245.0L175.8 243.8L171.7 243.7L167.6 244.9Z" fill="#e93d17" stroke="#972b0f"/>
<path d="M179.9 243.9L184.0 242.8L179.9 242.7L175.8 243.8Z" fill="#e73118" stroke="#9d2410"/>
<path d="M270.3 238.1L274.3 237.9L270.2 237.7L266.1 237.9Z" fill="#e41d1a" stroke="#e21d1a"/>
<path d="M278.4 238.1L282.5 238.0L278.4 237.8L274.3 237.9Z" fill="#e41e1a" stroke="#e41e1a"/>
<path d="M122.7 253.3L126.8 251.6L122.7 251.5L118.7 253.2Z" fill="#f6b60f" stroke="#876d08"/>
<path d="M130.8 251.7L134.9 250.1L130.8 249.9L126.8 251.6Z" fill="#f49512" stroke="#865a0a"/>
<path d="M139.0 250.2L143.0 248.6L139.0 248.5L134.9 250.1Z" fill="#f27f13" stroke="#854c0a"/>
<path d="M147.1 248.7L151.2 247.3L147.1 247.2L143.0 248.6Z" fill="#f06c13" stroke="#85410b"/>
<path d="M155.3 247.4L159.4 246.0L155.3 245.9L151.2 247.3Z" fill="#ed5a14" stroke="#8b390c"/>
<path d="M163.5 246.1L167.6 244.9L163.5 244.7L159.4 246.0Z" fill="#eb4b16" stroke="#91320d"/>
<path d="M188.1 242.9L192.2 241.9L188.1 241.8L184.0 242.8Z" fill="#e62d18" stroke="#a32211"/>
<path d="M196.3 242.0L200.4 241.1L196.3 241.0L192.2 241.9Z" fill="#e62a19" stroke="#aa2112"/>
<path d="M204.5 241.2L208.6 240.4L204.5 240.2L200.4 241.1Z" fill="#e62719" stroke="#b02013"/>
<path d="M212.7 240.5L216.8 239.7L212.7 239.6L208.6 240.4Z" fill="#e52419" stroke="#b71e14"/>
<path d="M221.0 239.9L225.1 239.2L220.9 239.1L216.8 239.7Z" fill="#e52219" stroke="#bd1d15"/>
<path d="M229.2 239.4L233.3 238.8L229.2 238.6L225.1 239.2Z" fill="#e5201a" stroke="#c31d16"/>
<path d="M90.5 260.6L94.4 258.5L90.4 258.4L86.4 260.5Z" fill="#c6db28" stroke="#6d8416"/>
<path d="M98.5 258.6L102.5 256.7L98.5 256.5L94.4 258.5Z" fill="#dfe41b" stroke="#7b890f"/>
<path d="M106.5 256.8L110.6 254.9L106.5 254.8L102.5 256.7Z" fill="#f6eb0e" stroke="#878d08"/>
<path d="M114.6 255.0L118.7 253.2L114.6 253.1L110.6 254.9Z" fill="#f7d30e" stroke="#887f08"/>
<path d="M237.4 238.9L241.5 238.4L237.4 238.3L233.3 238.8Z" fill="#e51e1a" stroke="#ca1c17"/>
<path d="M245.6 238.6L249.7 238.2L245.6 238.0L241.5 238.4Z" fill="#e41d1a" stroke="#d01c17"/>
<path d="M253.8 238.3L257.9 238.0L253.8 237.8L249.7 238.2Z" fill="#e41d1a" stroke="#d61c18"/>
<path d="M262.1 238.2L266.1 237.9L262.0 237.7L257.9 238.0Z" fill="#e41d1a" stroke="#dc1d19"/>
<path d="M78.5 264.9L82.5 262.6L78.4 262.5L74.5 264.7Z" fill="#a7d02e" stroke="#5c7d19"/>
<path d="M175.8 245.1L179.9 243.9L175.8 243.8L171.7 245.0Z" fill="#e83618" stroke="#94260f"/>
<path d="M274.4 238.3L278.4 238.1L274.3 237.9L270.3 238.1Z" fill="#e41b1a" stroke="#e11b19"/>
<path d="M126.8 253.4L130.8 251.7L126.8 251.6L122.7 253.3Z" fill="#f5a910" stroke="#876609"/>
<path d="M134.9 251.8L139.0 250.2L134.9 250.1L130.8 251.7Z" fill="#f38c12" stroke="#86540a"/>
<path d="M143.1 250.3L147.1 248.7L143.0 248.6L139.0 250.2Z" fill="#f17713" stroke="#84470a"/>
<path d="M151.2 248.9L155.3 247.4L151.2 247.3L147.1 248.7Z" fill="#ef6414" stroke="#833c0b"/>
<path d="M159.4 247.5L163.5 246.1L159.4 246.0L155.3 247.4Z" fill="#ec5315" stroke="#89340c"/>
<path d="M167.6 246.3L171.7 245.0L167.6 244.9L163.5 246.1Z" fill="#ea4416" stroke="#8f2d0e"/>
<path d="M184.0 244.0L188.1 242.9L184.0 242.8L179.9 243.9Z" fill="#e72f18" stroke="#9b2210"/>
<path d="M192.2 243.1L196.3 242.0L192.2 241.9L188.1 242.9Z" fill="#e62b19" stroke="#a12011"/>
<path d="M200.4 242.2L204.5 241.2L200.4 241.1L196.3 242.0Z" fill="#e62819" stroke="#a81f12"/>
<path d="M208.6 241.4L212.7 240.5L208.6 240.4L204.5 241.2Z" fill="#e52419" stroke="#ae1e13"/>
<path d="M216.8 240.7L221.0 239.9L216.8 239.7L212.7 240.5Z" fill="#e52219" stroke="#b51c14"/>
<path d="M225.1 240.1L229.2 239.4L225.1 239.2L221.0 239.9Z" fill="#e5201a" stroke="#bb1b15"/>
<path d="M86.5 262.8L90.5 260.6L86.4 260.5L82.5 262.6Z" fill="#bad72b" stroke="#668117"/>
<path d="M94.5 260.7L98.5 258.6L94.4 258.5L90.5 260.6Z" fill="#cede25" stroke="#718514"/>
<path d="M102.5 258.8L106.5 256.8L102.5 256.7L98.5 258.6Z" fill="#e7e716" stroke="#7f8b0c"/>
<path d="M110.6 256.9L114.6 255.0L110.6 254.9L106.5 256.8Z" fill="#f6e20e" stroke="#878808"/>
<path d="M118.7 255.1L122.7 253.3L118.7 253.2L114.6 255.0Z" fill="#f7ca0e" stroke="#887908"/>
<path d="M233.3 239.5L237.4 238.9L233.3 238.8L229.2 239.4Z" fill="#e41e1a" stroke="#c21b16"/>
<path d="M241.5 239.1L245.6 238.6L241.5 238.4L237.4 238.9Z" fill="#e41c1a" stroke="#c81a17"/>
<path d="M249.7 238.8L253.8 238.3L249.7 238.2L245.6 238.6Z" fill="#e41b1a" stroke="#ce1a17"/>
<path d="M258.0 238.5L262.1 238.2L257.9 238.0L253.8 238.3Z" fill="#e41b1a" stroke="#d41a18"/>
<path d="M266.2 238.4L270.3 238.1L266.1 237.9L262.1 238.2Z" fill="#e41b1a" stroke="#da1b19"/>
<path d="M130.9 253.6L134.9 251.8L130.8 251.7L126.8 253.4Z" fill="#f59d11" stroke="#875e09"/>
<path d="M139.0 252.0L143.1 250.3L139.0 250.2L134.9 251.8Z" fill="#f28313" stroke="#854f0a"/>
<path d="M147.1 250.4L151.2 248.9L147.1 248.7L143.1 250.3Z" fill="#f06f13" stroke="#84430b"/>
<path d="M155.3 249.0L159.4 247.5L155.3 247.4L151.2 248.9Z" fill="#ee5c14" stroke="#83370b"/>
<path d="M163.5 247.7L167.6 246.3L163.5 246.1L159.4 247.5Z" fill="#eb4c16" stroke="#862f0c"/>
<path d="M171.7 246.4L175.8 245.1L171.7 245.0L167.6 246.3Z" fill="#e93d17" stroke="#8c280e"/>
<path d="M179.9 245.3L184.0 244.0L179.9 243.9L175.8 245.1Z" fill="#e73118" stroke="#92220f"/>
<path d="M188.1 244.2L192.2 243.1L188.1 242.9L184.0 244.0Z" fill="#e62d18" stroke="#992010"/>
<path d="M196.3 243.2L200.4 242.2L196.3 242.0L192.2 243.1Z" fill="#e62919" stroke="#9f1e11"/>
<path d="M204.5 242.3L208.6 241.4L204.5 241.2L200.4 242.2Z" fill="#e52519" stroke="#a61d12"/>
<path d="M212.7 241.6L216.8 240.7L212.7 240.5L208.6 241.4Z" fill="#e52219" stroke="#ac1c13"/>
<path d="M221.0 240.9L225.1 240.1L221.0 239.9L216.8 240.7Z" fill="#e5201a" stroke="#b31a14"/>
<path d="M82.5 265.1L86.5 262.8L82.5 262.6L78.5 264.9Z" fill="#add22d" stroke="#5f7e19"/>
<path d="M90.5 262.9L94.5 260.7L90.5 260.6L86.5 262.8Z" fill="#c0d92a" stroke="#6a8217"/>
<path d="M98.5 260.9L102.5 258.8L98.5 258.6L94.5 260.7Z" fill="#d6e120" stroke="#768711"/>
<path d="M106.6 258.9L110.6 256.9L106.5 256.8L102.5 258.8Z" fill="#f0ea12" stroke="#848c0a"/>
<path d="M114.7 257.1L118.7 255.1L114.6 255.0L110.6 256.9Z" fill="#f7da0e" stroke="#888308"/>
<path d="M122.7 255.3L126.8 253.4L122.7 253.3L118.7 255.1Z" fill="#f7bf0f" stroke="#887308"/>
<path d="M229.2 240.2L233.3 239.5L229.2 239.4L225.1 240.1Z" fill="#e41e1a" stroke="#b91915"/>
<path d="M237.4 239.7L241.5 239.1L237.4 238.9L233.3 239.5Z" fill="#e41c1a" stroke="#c01916"/>
<path d="M245.7 239.3L249.7 238.8L245.6 238.6L241.5 239.1Z" fill="#e41a1a" stroke="#c61817"/>
<path d="M253.9 239.0L258.0 238.5L253.8 238.3L249.7 238.8Z" fill="#e41a1a" stroke="#cc1917"/>
<path d="M262.1 238.8L266.2 238.4L262.1 238.2L258.0 238.5Z" fill="#e41a1a" stroke="#d31918"/>
<path d="M270.3 238.6L274.4 238.3L270.3 238.1L266.2 238.4Z" fill="#e41a1a" stroke="#d91a19"/>
<path d="M134.9 253.7L139.0 252.0L134.9 251.8L130.9 253.6Z" fill="#f49112" stroke="#86570a"/>
<path d="M143.1 252.1L147.1 250.4L143.1 250.3L139.0 252.0Z" fill="#f17b13" stroke="#854a0a"/>
<path d="M151.2 250.6L155.3 249.0L151.2 248.9L147.1 250.4Z" fill="#ef6714" stroke="#833e0b"/>
<path d="M159.4 249.2L163.5 247.7L159.4 247.5L155.3 249.0Z" fill="#ec5515" stroke="#82330b"/>
<path d="M167.6 247.8L171.7 246.4L167.6 246.3L163.5 247.7Z" fill="#ea4516" stroke="#842b0d"/>
<path d="M184.0 245.4L188.1 244.2L184.0 244.0L179.9 245.3Z" fill="#e72f18" stroke="#90200f"/>
<path d="M192.2 244.4L196.3 243.2L192.2 243.1L188.1 244.2Z" fill="#e62b19" stroke="#971e10"/>
<path d="M200.4 243.4L204.5 242.3L200.4 242.2L196.3 243.2Z" fill="#e62719" stroke="#9d1d11"/>
<path d="M208.6 242.5L212.7 241.6L208.6 241.4L204.5 242.3Z" fill="#e52319" stroke="#a41b12"/>
<path d="M216.9 241.7L221.0 240.9L216.8 240.7L212.7 241.6Z" fill="#e52019" stroke="#aa1a13"/>
<path d="M86.5 265.2L90.5 262.9L86.5 262.8L82.5 265.1Z" fill="#b3d42c" stroke="#627f18"/>
<path d="M94.5 263.1L98.5 260.9L94.5 260.7L90.5 262.9Z" fill="#c6db28" stroke="#6d8316"/>
<path d="M102.6 261.1L106.6 258.9L102.5 258.8L98.5 260.9Z" fill="#dfe41b" stroke="#7a890f"/>
<path d="M110.6 259.1L114.7 257.1L110.6 256.9L106.6 258.9Z" fill="#f6ea0e" stroke="#878d08"/>
<path d="M118.7 257.2L122.7 255.3L118.7 255.1L114.7 257.1Z" fill="#f7d20e" stroke="#887e08"/>
<path d="M126.8 255.4L130.9 253.6L126.8 253.4L122.7 255.3Z" fill="#f6b310" stroke="#876b09"/>
<path d="M175.8 246.6L179.9 245.3L175.8 245.1L171.7 246.4Z" fill="#e83718" stroke="#89230e"/>
<path d="M225.1 241.0L229.2 240.2L225.1 240.1L221.0 240.9Z" fill="#e41e1a" stroke="#b11914"/>
<path d="M233.3 240.4L237.4 239.7L233.3 239.5L229.2 240.2Z" fill="#e41c1a" stroke="#b71815"/>
<path d="M241.6 239.9L245.7 239.3L241.5 239.1L237.4 239.7Z" fill="#e41a1a" stroke="#be1716"/>
<path d="M249.8 239.5L253.9 239.0L249.7 238.8L245.7 239.3Z" fill="#e41a1a" stroke="#c41816"/>
<path d="M258.0 239.2L262.1 238.8L258.0 238.5L253.9 239.0Z" fill="#e41a1a" stroke="#cb1817"/>
<path d="M266.2 239.0L270.3 238.6L266.2 238.4L262.1 238.8Z" fill="#e41a1a" stroke="#d11918"/>
<path d="M139.0 253.9L143.1 252.1L139.0 252.0L134.9 253.7Z" fill="#f38912" stroke="#86520a"/>
<path d="M147.2 252.3L151.2 250.6L147.1 250.4L143.1 252.1Z" fill="#f07413" stroke="#84450b"/>
<path d="M155.3 250.8L159.4 249.2L155.3 249.0L151.2 250.6Z" fill="#ee6014" stroke="#83390b"/>
<path d="M163.5 249.3L167.6 247.8L163.5 247.7L159.4 249.2Z" fill="#eb4f15" stroke="#822f0c"/>
<path d="M188.1 245.6L192.2 244.4L188.1 244.2L184.0 245.4Z" fill="#e62d18" stroke="#8e1e0f"/>
<path d="M196.3 244.5L200.4 243.4L196.3 243.2L192.2 244.4Z" fill="#e62919" stroke="#951c10"/>
<path d="M204.5 243.6L208.6 242.5L204.5 242.3L200.4 243.4Z" fill="#e52519" stroke="#9b1b11"/>
<path d="M212.8 242.7L216.9 241.7L212.7 241.6L208.6 242.5Z" fill="#e52119" stroke="#a21912"/>
<path d="M90.6 265.4L94.5 263.1L90.5 262.9L86.5 265.2Z" fill="#b9d62b" stroke="#668118"/>
<path d="M98.6 263.3L102.6 261.1L98.5 260.9L94.5 263.1Z" fill="#cdde25" stroke="#708515"/>
<path d="M106.6 261.2L110.6 259.1L106.6 258.9L102.6 261.1Z" fill="#e7e717" stroke="#7f8a0c"/>
<path d="M114.7 259.3L118.7 257.2L114.7 257.1L110.6 259.1Z" fill="#f6e20e" stroke="#878808"/>
<path d="M122.8 257.4L126.8 255.4L122.7 255.3L118.7 257.2Z" fill="#f7ca0e" stroke="#887908"/>
<path d="M130.9 255.6L134.9 253.7L130.9 253.6L126.8 255.4Z" fill="#f5a710" stroke="#876409"/>
<path d="M171.7 248.0L175.8 246.6L171.7 246.4L167.6 247.8Z" fill="#e93f17" stroke="#81260d"/>
<path d="M179.9 246.8L184.0 245.4L179.9 245.3L175.8 246.6Z" fill="#e73218" stroke="#871f0e"/>
<path d="M221.0 241.9L225.1 241.0L221.0 240.9L216.9 241.7Z" fill="#e51e1a" stroke="#a81813"/>
<path d="M229.2 241.2L233.3 240.4L229.2 240.2L225.1 241.0Z" fill="#e41c1a" stroke="#af1714"/>
<path d="M237.5 240.6L241.6 239.9L237.4 239.7L233.3 240.4Z" fill="#e41a1a" stroke="#b51615"/>
<path d="M245.7 240.2L249.8 239.5L245.7 239.3L241.6 239.9Z" fill="#e41a1a" stroke="#bc1715"/>
<path d="M253.9 239.7L258.0 239.2L253.9 239.0L249.8 239.5Z" fill="#e41a1a" stroke="#c21716"/>
<path d="M262.1 239.4L266.2 239.0L262.1 238.8L258.0 239.2Z" fill="#e41a1a" stroke="#c91817"/>
<path d="M143.1 254.1L147.2 252.3L143.1 252.1L139.0 253.9Z" fill="#f28213" stroke="#854e0a"/>
<path d="M151.2 252.5L155.3 250.8L151.2 250.6L147.2 252.3Z" fill="#f06c13" stroke="#84410b"/>
<path d="M159.4 250.9L163.5 249.3L159.4 249.2L155.3 250.8Z" fill="#ed5915" stroke="#82350b"/>
<path d="M192.2 245.8L196.3 244.5L192.2 244.4L188.1 245.6Z" fill="#e62b19" stroke="#8c1c0f"/>
<path d="M200.4 244.7L204.5 243.6L200.4 243.4L196.3 244.5Z" fill="#e62719" stroke="#921a10"/>
<path d="M208.6 243.8L212.8 242.7L208.6 242.5L204.5 243.6Z" fill="#e52319" stroke="#991911"/>
<path d="M94.6 265.6L98.6 263.3L94.5 263.1L90.6 265.4Z" fill="#bed82a" stroke="#698217"/>
<path d="M102.6 263.5L106.6 261.2L102.6 261.1L98.6 263.3Z" fill="#d4e021" stroke="#758712"/>
<path d="M110.7 261.4L114.7 259.3L110.6 259.1L106.6 261.2Z" fill="#eee912" stroke="#838c0a"/>
<path d="M118.7 259.4L122.8 257.4L118.7 257.2L114.7 259.3Z" fill="#f6da0e" stroke="#888308"/>
<path d="M126.8 257.6L130.9 255.6L126.8 255.4L122.8 257.4Z" fill="#f6bf0f" stroke="#887208"/>
<path d="M135.0 255.8L139.0 253.9L134.9 253.7L130.9 255.6Z" fill="#f59c11" stroke="#875d09"/>
<path d="M167.6 249.5L171.7 248.0L167.6 247.8L163.5 249.3Z" fill="#ea4816" stroke="#812b0c"/>
<path d="M175.8 248.2L179.9 246.8L175.8 246.6L171.7 248.0Z" fill="#e83917" stroke="#80220d"/>
<path d="M184.0 246.9L188.1 245.6L184.0 245.4L179.9 246.8Z" fill="#e72f18" stroke="#851e0e"/>
<path d="M216.9 242.9L221.0 241.9L216.9 241.7L212.8 242.7Z" fill="#e51f1a" stroke="#a01812"/>
<path d="M225.1 242.1L229.2 241.2L225.1 241.0L221.0 241.9Z" fill="#e41d1a" stroke="#a61613"/>
<path d="M233.3 241.5L237.5 240.6L233.3 240.4L229.2 241.2Z" fill="#e41a1a" stroke="#ad1514"/>
<path d="M241.6 240.9L245.7 240.2L241.6 239.9L237.5 240.6Z" fill="#e41a1a" stroke="#b41614"/>
<path d="M249.8 240.4L253.9 239.7L249.8 239.5L245.7 240.2Z" fill="#e41a1a" stroke="#ba1615"/>
<path d="M258.0 240.0L262.1 239.4L258.0 239.2L253.9 239.7Z" fill="#e41a1a" stroke="#c11716"/>
<path d="M147.2 254.3L151.2 252.5L147.2 252.3L143.1 254.1Z" fill="#f17a13" stroke="#85490a"/>
<path d="M155.3 252.7L159.4 250.9L155.3 250.8L151.2 252.5Z" fill="#ef6514" stroke="#833d0b"/>
<path d="M196.3 246.0L200.4 244.7L196.3 244.5L192.2 245.8Z" fill="#e62919" stroke="#8a1a0f"/>
<path d="M204.5 244.9L208.6 243.8L204.5 243.6L200.4 244.7Z" fill="#e52519" stroke="#901910"/>
<path d="M98.6 265.8L102.6 263.5L98.6 263.3L94.6 265.6Z" fill="#c3da29" stroke="#6b8316"/>
<path d="M106.7 263.7L110.7 261.4L106.6 261.2L102.6 263.5Z" fill="#dce31d" stroke="#798810"/>
<path d="M114.7 261.6L118.7 259.4L114.7 259.3L110.7 261.4Z" fill="#f6ec0e" stroke="#878e08"/>
<path d="M122.8 259.6L126.8 257.6L122.8 257.4L118.7 259.4Z" fill="#f7d30e" stroke="#887e08"/>
<path d="M130.9 257.8L135.0 255.8L130.9 255.6L126.8 257.6Z" fill="#f6b30f" stroke="#876c09"/>
<path d="M139.0 256.0L143.1 254.1L139.0 253.9L135.0 255.8Z" fill="#f49112" stroke="#86570a"/>
<path d="M163.5 251.1L167.6 249.5L163.5 249.3L159.4 250.9Z" fill="#ec5315" stroke="#82320c"/>
<path d="M171.7 249.7L175.8 248.2L171.7 248.0L167.6 249.5Z" fill="#ea4217" stroke="#80280c"/>
<path d="M179.9 248.4L184.0 246.9L179.9 246.8L175.8 248.2Z" fill="#e73318" stroke="#7f1e0d"/>
<path d="M188.1 247.1L192.2 245.8L188.1 245.6L184.0 246.9Z" fill="#e62d18" stroke="#831c0e"/>
<path d="M212.8 244.0L216.9 242.9L212.8 242.7L208.6 243.8Z" fill="#e52119" stroke="#971711"/>
<path d="M221.0 243.1L225.1 242.1L221.0 241.9L216.9 242.9Z" fill="#e41e1a" stroke="#9e1612"/>
<path d="M229.2 242.4L233.3 241.5L229.2 241.2L225.1 242.1Z" fill="#e41b1a" stroke="#a41513"/>
<path d="M237.5 241.7L241.6 240.9L237.5 240.6L233.3 241.5Z" fill="#e41a1a" stroke="#ab1513"/>
<path d="M245.7 241.1L249.8 240.4L245.7 240.2L241.6 240.9Z" fill="#e41a1a" stroke="#b21514"/>
<path d="M253.9 240.6L258.0 240.0L253.9 239.7L249.8 240.4Z" fill="#e41a1a" stroke="#b81615"/>
<path d="M151.3 254.5L155.3 252.7L151.2 252.5L147.2 254.3Z" fill="#f07313" stroke="#84450b"/>
<path d="M200.4 246.2L204.5 244.9L200.4 244.7L196.3 246.0Z" fill="#e62719" stroke="#87190f"/>
<path d="M102.7 266.0L106.7 263.7L102.6 263.5L98.6 265.8Z" fill="#c9dc28" stroke="#6e8416"/>
<path d="M110.7 263.9L114.7 261.6L110.7 261.4L106.7 263.7Z" fill="#e4e618" stroke="#7d8a0d"/>
<path d="M118.8 261.8L122.8 259.6L118.7 259.4L114.7 261.6Z" fill="#f6e50e" stroke="#878908"/>
<path d="M126.9 259.9L130.9 257.8L126.8 257.6L122.8 259.6Z" fill="#f7cb0e" stroke="#887a08"/>
<path d="M135.0 258.0L139.0 256.0L135.0 255.8L130.9 257.8Z" fill="#f5a810" stroke="#876509"/>
<path d="M143.1 256.2L147.2 254.3L143.1 254.1L139.0 256.0Z" fill="#f38912" stroke="#86520a"/>
<path d="M159.4 252.9L163.5 251.1L159.4 250.9L155.3 252.7Z" fill="#ee5e14" stroke="#83380b"/>
<path d="M167.6 251.3L171.7 249.7L167.6 249.5L163.5 251.1Z" fill="#eb4c16" stroke="#812e0c"/>
<path d="M175.8 249.9L179.9 248.4L175.8 248.2L171.7 249.7Z" fill="#e93c17" stroke="#80240d"/>
<path d="M184.0 248.6L188.1 247.1L184.0 246.9L179.9 248.4Z" fill="#e73018" stroke="#7f1d0d"/>
<path d="M192.2 247.4L196.3 246.0L192.2 245.8L188.1 247.1Z" fill="#e62b19" stroke="#801a0e"/>
<path d="M208.7 245.2L212.8 244.0L208.6 243.8L204.5 244.9Z" fill="#e52319" stroke="#8e1710"/>
<path d="M216.9 244.2L221.0 243.1L216.9 242.9L212.8 244.0Z" fill="#e51f1a" stroke="#951611"/>
<path d="M225.1 243.4L229.2 242.4L225.1 242.1L221.0 243.1Z" fill="#e41c1a" stroke="#9c1412"/>
<path d="M233.4 242.6L237.5 241.7L233.3 241.5L229.2 242.4Z" fill="#e41a1a" stroke="#a21413"/>
<path d="M241.6 241.9L245.7 241.1L241.6 240.9L237.5 241.7Z" fill="#e41a1a" stroke="#a91413"/>
<path d="M249.8 241.4L253.9 240.6L249.8 240.4L245.7 241.1Z" fill="#e41a1a" stroke="#b01514"/>
<path d="M106.7 266.3L110.7 263.9L106.7 263.7L102.7 266.0Z" fill="#d0df23" stroke="#738613"/>
<path d="M114.8 264.1L118.8 261.8L114.7 261.6L110.7 263.9Z" fill="#ebe814" stroke="#818b0b"/>
<path d="M122.9 262.0L126.9 259.9L122.8 259.6L118.8 261.8Z" fill="#f6dd0e" stroke="#888508"/>
<path d="M130.9 260.1L135.0 258.0L130.9 257.8L126.9 259.9Z" fill="#f7c20e" stroke="#887408"/>
<path d="M139.1 258.2L143.1 256.2L139.0 256.0L135.0 258.0Z" fill="#f59e11" stroke="#875f09"/>
<path d="M147.2 256.4L151.3 254.5L147.2 254.3L143.1 256.2Z" fill="#f28213" stroke="#854e0a"/>
<path d="M155.3 254.7L159.4 252.9L155.3 252.7L151.3 254.5Z" fill="#f06c13" stroke="#84410b"/>
<path d="M163.5 253.1L167.6 251.3L163.5 251.1L159.4 252.9Z" fill="#ed5815" stroke="#82350b"/>
<path d="M171.7 251.6L175.8 249.9L171.7 249.7L167.6 251.3Z" fill="#ea4716" stroke="#812a0c"/>
<path d="M179.9 250.1L184.0 248.6L179.9 248.4L175.8 249.9Z" fill="#e83618" stroke="#7f210d"/>
<path d="M188.1 248.8L192.2 247.4L188.1 247.1L184.0 248.6Z" fill="#e72e18" stroke="#7f1c0d"/>
<path d="M196.3 247.6L200.4 246.2L196.3 246.0L192.2 247.4Z" fill="#e62919" stroke="#7e190e"/>
<path d="M204.5 246.4L208.7 245.2L204.5 244.9L200.4 246.2Z" fill="#e52519" stroke="#85170f"/>
<path d="M212.8 245.4L216.9 244.2L212.8 244.0L208.7 245.2Z" fill="#e52119" stroke="#8c1610"/>
<path d="M221.0 244.4L225.1 243.4L221.0 243.1L216.9 244.2Z" fill="#e41d1a" stroke="#931411"/>
<path d="M229.3 243.6L233.4 242.6L229.2 242.4L225.1 243.4Z" fill="#e41a1a" stroke="#9a1312"/>
<path d="M237.5 242.8L241.6 241.9L237.5 241.7L233.4 242.6Z" fill="#e41a1a" stroke="#a01312"/>
<path d="M245.7 242.2L249.8 241.4L245.7 241.1L241.6 241.9Z" fill="#e41a1a" stroke="#a71413"/>
<path d="M110.8 266.5L114.8 264.1L110.7 263.9L106.7 266.3Z" fill="#d7e11f" stroke="#768711"/>
<path d="M118.8 264.4L122.9 262.0L118.8 261.8L114.8 264.1Z" fill="#f2eb10" stroke="#858d09"/>
<path d="M126.9 262.3L130.9 260.1L126.9 259.9L122.9 262.0Z" fill="#f7d60e" stroke="#888008"/>
<path d="M135.0 260.3L139.1 258.2L135.0 258.0L130.9 260.1Z" fill="#f6b70f" stroke="#876e08"/>
<path d="M143.1 258.4L147.2 256.4L143.1 256.2L139.1 258.2Z" fill="#f49312" stroke="#86580a"/>
<path d="M159.4 254.9L163.5 253.1L159.4 252.9L155.3 254.7Z" fill="#ef6514" stroke="#833d0b"/>
<path d="M167.6 253.3L171.7 251.6L167.6 251.3L163.5 253.1Z" fill="#ec5215" stroke="#82310c"/>
<path d="M175.8 251.8L179.9 250.1L175.8 249.9L171.7 251.6Z" fill="#e94117" stroke="#80270c"/>
<path d="M184.0 250.4L188.1 248.8L184.0 248.6L179.9 250.1Z" fill="#e73218" stroke="#7f1e0d"/>
<path d="M192.2 249.0L196.3 247.6L192.2 247.4L188.1 248.8Z" fill="#e62c18" stroke="#7f1b0d"/>
<path d="M208.7 246.7L212.8 245.4L208.7 245.2L204.5 246.4Z" fill="#e52319" stroke="#83160e"/>
<path d="M216.9 245.6L221.0 244.4L216.9 244.2L212.8 245.4Z" fill="#e51f1a" stroke="#8a140f"/>
<path d="M225.1 244.7L229.3 243.6L225.1 243.4L221.0 244.4Z" fill="#e41c1a" stroke="#911310"/>
<path d="M233.4 243.9L237.5 242.8L233.4 242.6L229.3 243.6Z" fill="#e41a1a" stroke="#981311"/>
<path d="M241.6 243.1L245.7 242.2L241.6 241.9L237.5 242.8Z" fill="#e41a1a" stroke="#9e1312"/>
<path d="M151.3 256.6L155.3 254.7L151.3 254.5L147.2 256.4Z" fill="#f17b13" stroke="#854a0a"/>
<path d="M200.4 247.8L204.5 246.4L200.4 246.2L196.3 247.6Z" fill="#e62719" stroke="#7e180e"/>
<path d="M114.8 266.8L118.8 264.4L114.8 264.1L110.8 266.5Z" fill="#dee41b" stroke="#7a890f"/>
<path d="M122.9 264.6L126.9 262.3L122.9 262.0L118.8 264.4Z" fill="#f6e90e" stroke="#878c08"/>
<path d="M131.0 262.5L135.0 260.3L130.9 260.1L126.9 262.3Z" fill="#f7cf0e" stroke="#887c08"/>
<path d="M139.1 260.5L143.1 258.4L139.1 258.2L135.0 260.3Z" fill="#f6ad10" stroke="#876809"/>
<path d="M147.2 258.7L151.3 256.6L147.2 256.4L143.1 258.4Z" fill="#f38c12" stroke="#86540a"/>
<path d="M155.4 256.9L159.4 254.9L155.3 254.7L151.3 256.6Z" fill="#f17513" stroke="#84460b"/>
<path d="M163.5 255.2L167.6 253.3L163.5 253.1L159.4 254.9Z" fill="#ee5f14" stroke="#83390b"/>
<path d="M171.7 253.5L175.8 251.8L171.7 251.6L167.6 253.3Z" fill="#eb4c16" stroke="#812e0c"/>
<path d="M179.9 252.0L184.0 250.4L179.9 250.1L175.8 251.8Z" fill="#e83b17" stroke="#80240d"/>
<path d="M188.1 250.6L192.2 249.0L188.1 248.8L184.0 250.4Z" fill="#e73018" stroke="#7f1d0d"/>
<path d="M196.3 249.3L200.4 247.8L196.3 247.6L192.2 249.0Z" fill="#e62a19" stroke="#7f190e"/>
<path d="M204.6 248.1L208.7 246.7L204.5 246.4L200.4 247.8Z" fill="#e52619" stroke="#7e170e"/>
<path d="M212.8 246.9L216.9 245.6L212.8 245.4L208.7 246.7Z" fill="#e52119" stroke="#81140e"/>
<path d="M221.0 245.9L225.1 244.7L221.0 244.4L216.9 245.6Z" fill="#e41d1a" stroke="#88130f"/>
<path d="M229.3 245.0L233.4 243.9L229.3 243.6L225.1 244.7Z" fill="#e41a1a" stroke="#8f1210"/>
<path d="M237.5 244.1L241.6 243.1L237.5 242.8L233.4 243.9Z" fill="#e41a1a" stroke="#961211"/>
<path d="M118.9 267.0L122.9 264.6L118.8 264.4L114.8 266.8Z" fill="#e5e618" stroke="#7e8a0d"/>
<path d="M127.0 264.9L131.0 262.5L126.9 262.3L122.9 264.6Z" fill="#f6e20e" stroke="#878808"/>
<path d="M135.1 262.8L139.1 260.5L135.0 260.3L131.0 262.5Z" fill="#f7c80e" stroke="#887808"/>
<path d="M167.6 255.4L171.7 253.5L167.6 253.3L163.5 255.2Z" fill="#ed5915" stroke="#82360b"/>
<path d="M175.8 253.8L179.9 252.0L175.8 251.8L171.7 253.5Z" fill="#ea4716" stroke="#812b0c"/>
<path d="M184.0 252.3L188.1 250.6L184.0 250.4L179.9 252.0Z" fill="#e83618" stroke="#7f200d"/>
<path d="M216.9 247.2L221.0 245.9L216.9 245.6L212.8 246.9Z" fill="#e5201a" stroke="#7f130e"/>
<path d="M225.2 246.2L229.3 245.0L225.1 244.7L221.0 245.9Z" fill="#e41c1a" stroke="#86120f"/>
<path d="M233.4 245.3L237.5 244.1L233.4 243.9L229.3 245.0Z" fill="#e41a1a" stroke="#8c1110"/>
<path d="M143.2 260.8L147.2 258.7L143.1 258.4L139.1 260.5Z" fill="#f5a311" stroke="#876209"/>
<path d="M151.3 258.9L155.4 256.9L151.3 256.6L147.2 258.7Z" fill="#f38512" stroke="#85500a"/>
<path d="M159.5 257.1L163.5 255.2L159.4 254.9L155.4 256.9Z" fill="#f06e13" stroke="#84420b"/>
<path d="M192.2 250.9L196.3 249.3L192.2 249.0L188.1 250.6Z" fill="#e62e18" stroke="#7f1c0d"/>
<path d="M200.4 249.6L204.6 248.1L200.4 247.8L196.3 249.3Z" fill="#e62919" stroke="#7e180e"/>
<path d="M208.7 248.3L212.8 246.9L208.7 246.7L204.6 248.1Z" fill="#e52419" stroke="#7e160e"/>
<path d="M123.0 267.3L127.0 264.9L122.9 264.6L118.9 267.0Z" fill="#ece814" stroke="#828b0b"/>
<path d="M131.0 265.1L135.1 262.8L131.0 262.5L127.0 264.9Z" fill="#f6dc0e" stroke="#888408"/>
<path d="M139.1 263.1L143.2 260.8L139.1 260.5L135.1 262.8Z" fill="#f6bf0f" stroke="#887208"/>
<path d="M147.3 261.1L151.3 258.9L147.2 258.7L143.2 260.8Z" fill="#f49911" stroke="#865c0a"/>
<path d="M155.4 259.2L159.5 257.1L155.4 256.9L151.3 258.9Z" fill="#f27f13" stroke="#854c0a"/>
<path d="M163.6 257.4L167.6 255.4L163.5 255.2L159.5 257.1Z" fill="#ef6814" stroke="#833e0b"/>
<path d="M171.7 255.7L175.8 253.8L171.7 253.5L167.6 255.4Z" fill="#ec5415" stroke="#82320c"/>
<path d="M179.9 254.1L184.0 252.3L179.9 252.0L175.8 253.8Z" fill="#e94217" stroke="#80270c"/>
<path d="M188.1 252.6L192.2 250.9L188.1 250.6L184.0 252.3Z" fill="#e73218" stroke="#7f1e0d"/>
<path d="M196.3 251.2L200.4 249.6L196.3 249.3L192.2 250.9Z" fill="#e62c18" stroke="#7f1a0d"/>
<path d="M204.6 249.8L208.7 248.3L204.6 248.1L200.4 249.6Z" fill="#e62719" stroke="#7e170e"/>
<path d="M212.8 248.6L216.9 247.2L212.8 246.9L208.7 248.3Z" fill="#e52219" stroke="#7e150e"/>
<path d="M221.0 247.5L225.2 246.2L221.0 245.9L216.9 247.2Z" fill="#e51e1a" stroke="#7e120e"/>
<path d="M229.3 246.5L233.4 245.3L229.3 245.0L225.2 246.2Z" fill="#e41a1a" stroke="#83100f"/>
<path d="M127.0 267.6L131.0 265.1L127.0 264.9L123.0 267.3Z" fill="#f2eb10" stroke="#858d09"/>
<path d="M175.8 256.0L179.9 254.1L175.8 253.8L171.7 255.7Z" fill="#eb4f15" stroke="#812f0c"/>
<path d="M225.2 247.8L229.3 246.5L225.2 246.2L221.0 247.5Z" fill="#e41d1a" stroke="#7e110e"/>
<path d="M135.1 265.4L139.1 263.1L135.1 262.8L131.0 265.1Z" fill="#f7d50e" stroke="#888008"/>
<path d="M143.2 263.3L147.3 261.1L143.2 260.8L139.1 263.1Z" fill="#f6b50f" stroke="#876d08"/>
<path d="M151.3 261.4L155.4 259.2L151.3 258.9L147.3 261.1Z" fill="#f49012" stroke="#86570a"/>
<path d="M159.5 259.5L163.6 257.4L159.5 257.1L155.4 259.2Z" fill="#f17913" stroke="#85480a"/>
<path d="M167.7 257.7L171.7 255.7L167.6 255.4L163.6 257.4Z" fill="#ee6214" stroke="#833b0b"/>
<path d="M184.0 254.4L188.1 252.6L184.0 252.3L179.9 254.1Z" fill="#e93d17" stroke="#80240d"/>
<path d="M192.2 252.9L196.3 251.2L192.2 250.9L188.1 252.6Z" fill="#e73018" stroke="#7f1d0d"/>
<path d="M200.5 251.4L204.6 249.8L200.4 249.6L196.3 251.2Z" fill="#e62a19" stroke="#7f190e"/>
<path d="M208.7 250.1L212.8 248.6L208.7 248.3L204.6 249.8Z" fill="#e52519" stroke="#7e160e"/>
<path d="M216.9 248.9L221.0 247.5L216.9 247.2L212.8 248.6Z" fill="#e52119" stroke="#7e140e"/>
<path d="M131.1 267.9L135.1 265.4L131.0 265.1L127.0 267.6Z" fill="#f6ea0e" stroke="#878c08"/>
<path d="M139.2 265.7L143.2 263.3L139.1 263.1L135.1 265.4Z" fill="#f7cf0e" stroke="#887c08"/>
<path d="M147.3 263.6L151.3 261.4L147.3 261.1L143.2 263.3Z" fill="#f5ac10" stroke="#876709"/>
<path d="M155.4 261.7L159.5 259.5L155.4 259.2L151.3 261.4Z" fill="#f38a12" stroke="#86530a"/>
<path d="M163.6 259.8L167.7 257.7L163.6 257.4L159.5 259.5Z" fill="#f07313" stroke="#84450b"/>
<path d="M171.8 258.0L175.8 256.0L171.7 255.7L167.7 257.7Z" fill="#ee5d14" stroke="#83380b"/>
<path d="M179.9 256.3L184.0 254.4L179.9 254.1L175.8 256.0Z" fill="#eb4a16" stroke="#812c0c"/>
<path d="M188.1 254.7L192.2 252.9L188.1 252.6L184.0 254.4Z" fill="#e83817" stroke="#80220d"/>
<path d="M196.4 253.2L200.5 251.4L196.3 251.2L192.2 252.9Z" fill="#e72e18" stroke="#7f1c0d"/>
<path d="M204.6 251.7L208.7 250.1L204.6 249.8L200.5 251.4Z" fill="#e62919" stroke="#7e190e"/>
<path d="M212.8 250.4L216.9 248.9L212.8 248.6L208.7 250.1Z" fill="#e52419" stroke="#7e160e"/>
<path d="M221.0 249.2L225.2 247.8L221.0 247.5L216.9 248.9Z" fill="#e51f1a" stroke="#7e130e"/>
<path d="M135.2 268.2L139.2 265.7L135.1 265.4L131.1 267.9Z" fill="#f6e40e" stroke="#878908"/>
<path d="M143.3 266.0L147.3 263.6L143.2 263.3L139.2 265.7Z" fill="#f7c90e" stroke="#887908"/>
<path d="M151.4 264.0L155.4 261.7L151.3 261.4L147.3 263.6Z" fill="#f5a311" stroke="#876209"/>
<path d="M159.5 262.0L163.6 259.8L159.5 259.5L155.4 261.7Z" fill="#f38512" stroke="#85500a"/>
<path d="M167.7 260.1L171.8 258.0L167.7 257.7L163.6 259.8Z" fill="#f06d13" stroke="#84410b"/>
<path d="M175.9 258.3L179.9 256.3L175.8 256.0L171.8 258.0Z" fill="#ed5815" stroke="#82350b"/>
<path d="M184.1 256.6L188.1 254.7L184.0 254.4L179.9 256.3Z" fill="#ea4516" stroke="#81290c"/>
<path d="M192.3 255.0L196.4 253.2L192.2 252.9L188.1 254.7Z" fill="#e73318" stroke="#7f1f0d"/>
<path d="M200.5 253.5L204.6 251.7L200.5 251.4L196.4 253.2Z" fill="#e62d18" stroke="#7f1b0d"/>
<path d="M208.7 252.1L212.8 250.4L208.7 250.1L204.6 251.7Z" fill="#e62719" stroke="#7e180e"/>
<path d="M216.9 250.8L221.0 249.2L216.9 248.9L212.8 250.4Z" fill="#e52219" stroke="#7e150e"/>
<path d="M139.2 268.6L143.3 266.0L139.2 265.7L135.2 268.2Z" fill="#f6de0e" stroke="#888508"/>
<path d="M147.3 266.4L151.4 264.0L147.3 263.6L143.3 266.0Z" fill="#f7c10f" stroke="#887408"/>
<path d="M155.5 264.3L159.5 262.0L155.4 261.7L151.4 264.0Z" fill="#f59b11" stroke="#865d0a"/>
<path d="M163.6 262.3L167.7 260.1L163.6 259.8L159.5 262.0Z" fill="#f27f13" stroke="#854c0a"/>
<path d="M188.2 256.9L192.3 255.0L188.1 254.7L184.1 256.6Z" fill="#e94017" stroke="#80270d"/>
<path d="M196.4 255.3L200.5 253.5L196.4 253.2L192.3 255.0Z" fill="#e73118" stroke="#7f1d0d"/>
<path d="M204.6 253.8L208.7 252.1L204.6 251.7L200.5 253.5Z" fill="#e62b19" stroke="#7f1a0e"/>
<path d="M212.8 252.4L216.9 250.8L212.8 250.4L208.7 252.1Z" fill="#e52619" stroke="#7e170e"/>
<path d="M171.8 260.4L175.9 258.3L171.8 258.0L167.7 260.1Z" fill="#ef6814" stroke="#833e0b"/>
<path d="M180.0 258.6L184.1 256.6L179.9 256.3L175.9 258.3Z" fill="#ec5315" stroke="#82320c"/>
<path d="M143.3 268.9L147.3 266.4L143.3 266.0L139.2 268.6Z" fill="#f7d80e" stroke="#888208"/>
<path d="M151.4 266.7L155.5 264.3L151.4 264.0L147.3 266.4Z" fill="#f6b90f" stroke="#876f08"/>
<path d="M159.6 264.6L163.6 262.3L159.5 262.0L155.5 264.3Z" fill="#f49312" stroke="#86580a"/>
<path d="M167.7 262.6L171.8 260.4L167.7 260.1L163.6 262.3Z" fill="#f17a13" stroke="#85490a"/>
<path d="M175.9 260.7L180.0 258.6L175.9 258.3L171.8 260.4Z" fill="#ee6214" stroke="#833b0b"/>
<path d="M184.1 258.9L188.2 256.9L184.1 256.6L180.0 258.6Z" fill="#eb4e15" stroke="#812f0c"/>
<path d="M192.3 257.2L196.4 255.3L192.3 255.0L188.2 256.9Z" fill="#e93c17" stroke="#80240d"/>
<path d="M200.5 255.7L204.6 253.8L200.5 253.5L196.4 255.3Z" fill="#e72f18" stroke="#7f1c0d"/>
<path d="M208.7 254.2L212.8 252.4L208.7 252.1L204.6 253.8Z" fill="#e62a19" stroke="#7e190e"/>
<path d="M147.4 269.3L151.4 266.7L147.3 266.4L143.3 268.9Z" fill="#f7d30e" stroke="#887e08"/>
<path d="M155.5 267.1L159.6 264.6L155.5 264.3L151.4 266.7Z" fill="#f6b110" stroke="#876a09"/>
<path d="M196.4 257.6L200.5 255.7L196.4 255.3L192.3 257.2Z" fill="#e83817" stroke="#80210d"/>
<path d="M204.6 256.0L208.7 254.2L204.6 253.8L200.5 255.7Z" fill="#e72e18" stroke="#7f1c0d"/>
<path d="M163.7 265.0L167.7 262.6L163.6 262.3L159.6 264.6Z" fill="#f38d12" stroke="#86540a"/>
<path d="M171.8 263.0L175.9 260.7L171.8 260.4L167.7 262.6Z" fill="#f17413" stroke="#84460b"/>
<path d="M180.0 261.1L184.1 258.9L180.0 258.6L175.9 260.7Z" fill="#ee5e14" stroke="#83380b"/>
<path d="M188.2 259.3L192.3 257.2L188.2 256.9L184.1 258.9Z" fill="#eb4a16" stroke="#812c0c"/>
<path d="M151.5 269.6L155.5 267.1L151.4 266.7L147.4 269.3Z" fill="#f7cd0e" stroke="#887b08"/>
<path d="M159.6 267.5L163.7 265.0L159.6 264.6L155.5 267.1Z" fill="#f5a910" stroke="#876509"/>
<path d="M167.7 265.4L171.8 263.0L167.7 262.6L163.7 265.0Z" fill="#f38812" stroke="#86510a"/>
<path d="M175.9 263.4L180.0 261.1L175.9 260.7L171.8 263.0Z" fill="#f07013" stroke="#84430b"/>
<path d="M184.1 261.5L188.2 259.3L184.1 258.9L180.0 261.1Z" fill="#ed5915" stroke="#82360b"/>
<path d="M192.3 259.7L196.4 257.6L192.3 257.2L188.2 259.3Z" fill="#ea4616" stroke="#812a0c"/>
<path d="M200.5 258.0L204.6 256.0L200.5 255.7L196.4 257.6Z" fill="#e73418" stroke="#7f1f0d"/>
<path d="M155.6 270.0L159.6 267.5L155.5 267.1L151.5 269.6Z" fill="#f7c80e" stroke="#887808"/>
<path d="M163.7 267.8L167.7 265.4L163.7 265.0L159.6 267.5Z" fill="#f5a111" stroke="#876109"/>
<path d="M171.8 265.7L175.9 263.4L171.8 263.0L167.7 265.4Z" fill="#f28313" stroke="#854f0a"/>
<path d="M180.0 263.8L184.1 261.5L180.0 261.1L175.9 263.4Z" fill="#ef6b14" stroke="#84400b"/>
<path d="M188.2 261.9L192.3 259.7L188.2 259.3L184.1 261.5Z" fill="#ec5515" stroke="#82330b"/>
<path d="M196.4 260.1L200.5 258.0L196.4 257.6L192.3 259.7Z" fill="#ea4217" stroke="#80280c"/>
<path d="M159.6 270.4L163.7 267.8L159.6 267.5L155.6 270.0Z" fill="#f7c10e" stroke="#887408"/>
<path d="M167.8 268.2L171.8 265.7L167.7 265.4L163.7 267.8Z" fill="#f59a11" stroke="#865d0a"/>
<path d="M175.9 266.1L180.0 263.8L175.9 263.4L171.8 265.7Z" fill="#f27e13" stroke="#854c0a"/>
<path d="M184.1 264.2L188.2 261.9L184.1 261.5L180.0 263.8Z" fill="#ef6614" stroke="#833d0b"/>
<path d="M192.3 262.3L196.4 260.1L192.3 259.7L188.2 261.9Z" fill="#ec5115" stroke="#82310c"/>
<path d="M163.7 270.9L167.8 268.2L163.7 267.8L159.6 270.4Z" fill="#f6ba0f" stroke="#877008"/>
<path d="M171.9 268.7L175.9 266.1L171.8 265.7L167.8 268.2Z" fill="#f49412" stroke="#86590a"/>
<path d="M180.0 266.6L184.1 264.2L180.0 263.8L175.9 266.1Z" fill="#f17a13" stroke="#85490a"/>
<path d="M188.2 264.6L192.3 262.3L188.2 261.9L184.1 264.2Z" fill="#ee6214" stroke="#833b0b"/>
<path d="M167.8 271.3L171.9 268.7L167.8 268.2L163.7 270.9Z" fill="#f6b40f" stroke="#876c09"/>
<path d="M176.0 269.1L180.0 266.6L175.9 266.1L171.9 268.7Z" fill="#f48f12" stroke="#86560a"/>
<path d="M184.1 267.0L188.2 264.6L184.1 264.2L180.0 266.6Z" fill="#f17613" stroke="#84470a"/>
<path d="M171.9 271.7L176.0 269.1L171.9 268.7L167.8 271.3Z" fill="#f6ae10" stroke="#876809"/>
<path d="M180.1 269.5L184.1 267.0L180.0 266.6L176.0 269.1Z" fill="#f38a12" stroke="#86530a"/>
<path d="M176.0 272.2L180.1 269.5L176.0 269.1L171.9 271.7Z" fill="#f5a810" stroke="#876509"/>
</g>
<ellipse cx="54.3" cy="262.1" rx="2.6" ry="1.8" fill="#b01010"/>
<ellipse cx="176" cy="267.1" rx="2.6" ry="1.8" fill="#b01010"/>
<ellipse cx="298.3" cy="242.9" rx="2.4" ry="1.9" fill="#fff" stroke="#e9a0a0" stroke-width="0.9"/>
<g fill="none" stroke="#111" stroke-width="0.9" stroke-linecap="round">
<path d="M57.4 498.6L176.0 474.0L293.6 498.6M56.0 480.8L176.0 458.2L295.1 480.8M54.5 463.0L176.0 442.5L296.5 463.0M53.0 445.2L176.0 426.8L298.0 445.2M51.6 427.4L176.0 411.0L299.4 427.4M57.4 498.6L51.6 427.4M293.6 498.6L299.4 427.4M81.1 493.7L76.5 424.1M270.1 493.7L274.7 424.1M104.8 488.8L101.4 420.8M246.6 488.8L250.0 420.8M128.6 483.8L126.2 417.6M223.0 483.8L225.4 417.6M152.3 478.9L151.1 414.3M199.5 478.9L200.7 414.3M176.0 474.0L176.0 411.0M57.4 498.6L60.6 520.7M176.0 474.0L176.0 494.8M293.6 498.6L291.3 520.4"/>
</g>
<circle cx="57.4" cy="498.6" r="1.1" fill="#111"/>
<text x="52.6" y="499.0" font-size="6.1" font-weight="bold" fill="#333" text-anchor="end" font-family="Liberation Sans, sans-serif">0</text>
<circle cx="56.0" cy="480.8" r="1.1" fill="#111"/>
<text x="51.2" y="481.2" font-size="6.1" font-weight="bold" fill="#333" text-anchor="end" font-family="Liberation Sans, sans-serif">1</text>
<circle cx="54.5" cy="463.0" r="1.1" fill="#111"/>
<text x="49.7" y="463.4" font-size="6.1" font-weight="bold" fill="#333" text-anchor="end" font-family="Liberation Sans, sans-serif">2</text>
<circle cx="53.0" cy="445.2" r="1.1" fill="#111"/>
<text x="48.2" y="445.6" font-size="6.1" font-weight="bold" fill="#333" text-anchor="end" font-family="Liberation Sans, sans-serif">3</text>
<circle cx="51.6" cy="427.4" r="1.1" fill="#111"/>
<text x="46.8" y="427.8" font-size="6.1" font-weight="bold" fill="#333" text-anchor="end" font-family="Liberation Sans, sans-serif">4</text>
<path d="M60.6 520.7L176.0 494.8L291.3 520.4L176.0 552.2Z" fill="#686868" stroke="#111" stroke-width="1" stroke-linejoin="round"/>
<clipPath id="f3"><path d="M60.6 520.7L176.0 494.8L291.3 520.4L176.0 552.2Z"/></clipPath>
<g clip-path="url(#f3)" fill="none" stroke-width="1.4">
<path d="M289.5 520.9L286.7 520.2L283.9 519.6L281.1 518.9L278.3 518.2L276.9 517.9L274.1 517.2L271.3 516.6L268.4 515.9L265.6 515.3L262.7 514.6L259.8 514.0L257.0 513.4L254.1 512.7L251.2 512.1L248.3 511.4L245.3 510.8L242.4 510.2L239.4 509.6L238.0 509.2L235.0 508.6L232.0 508.0L229.0 507.4L226.0 506.8L223.0 506.2L219.9 505.6L216.9 505.0L213.8 504.4L210.7 503.8L208.9 503.4L206.0 502.9L202.9 502.3L199.8 501.7L196.6 501.2L193.4 500.6L191.8 500.3L188.6 499.7L185.3 499.2L182.0 498.6L179.9 498.3L177.1 497.8L173.7 497.3L170.3 496.7L168.6 496.5L168.6 496.5" stroke="#5ab93c"/>
<path d="M68.6 518.9L69.1 519.5L70.1 520.4L71.0 521.2L71.6 521.8L72.3 522.5L73.5 523.5L74.2 524.1L74.7 524.5" stroke="#5ab93c"/>
<path d="M283.1 522.6L280.3 522.0L277.5 521.3L274.6 520.7L271.8 520.0L268.9 519.3L266.1 518.7L263.2 518.0L260.3 517.4L257.4 516.8L254.4 516.1L251.5 515.5L248.5 514.8L245.6 514.2L242.6 513.6L239.6 513.0L236.6 512.3L234.6 511.9L232.1 511.4L229.0 510.8L226.0 510.2L222.9 509.6L219.8 509.0L216.7 508.4L213.6 507.8L212.0 507.5L208.8 506.9L205.6 506.4L202.4 505.8L199.2 505.2L197.6 504.9L194.3 504.4L191.0 503.8L187.7 503.3L186.0 503.0L182.6 502.4L179.2 501.9L177.2 501.6L174.0 501.1L170.5 500.6L168.7 500.4L165.1 499.9L161.8 499.4L159.7 499.1L157.8 498.9" stroke="#96cd32"/>
<path d="M79.4 516.5L79.8 517.1L80.3 517.7L80.7 518.3L81.4 519.2L82.2 520.1L82.8 520.7L83.3 521.3L83.9 522.0L84.9 523.0L85.5 523.7L86.1 524.2L86.8 524.9L87.9 525.9L88.6 526.6L89.2 527.2L90.1 528.0L91.1 528.9L91.3 529.1" stroke="#96cd32"/>
<path d="M275.2 524.8L272.3 524.2L269.4 523.5L266.5 522.9L263.6 522.2L260.6 521.6L257.7 520.9L254.7 520.3L251.7 519.7L248.7 519.0L245.7 518.4L242.7 517.8L239.6 517.2L236.6 516.6L235.0 516.2L231.9 515.6L228.8 515.0L225.7 514.4L222.5 513.8L219.3 513.3L217.7 513.0L214.5 512.4L211.3 511.8L208.0 511.2L205.7 510.9L203.0 510.4L199.7 509.9L196.3 509.3L194.6 509.0L191.1 508.5L187.6 508.0L185.9 507.7L182.3 507.2L179.5 506.8L176.9 506.5L173.2 506.0L171.3 505.8L167.5 505.3L165.5 505.1L161.6 504.7L159.6 504.4L156.6 504.2L153.3 503.9L151.2 503.7L147.8 503.4L144.5 503.2L142.1 503.1L139.7 502.9L139.7 502.9" stroke="#e6d728"/>
<path d="M97.5 512.4L97.3 513.1L97.3 513.9L97.3 514.6L97.4 515.2L97.5 515.9L97.6 516.6L97.8 517.3L98.0 517.9L98.3 518.7L98.7 519.5L99.1 520.3L99.6 521.1L99.9 521.7L100.3 522.4L100.8 523.0L101.3 523.7L102.0 524.6L102.6 525.5L103.1 526.1L103.6 526.7L104.3 527.4L105.1 528.4L105.8 529.1L106.3 529.7L107.0 530.4L108.0 531.4L108.7 532.1L109.3 532.7L110.2 533.5L111.2 534.5L111.3 534.5" stroke="#e6d728"/>
<path d="M263.5 528.1L260.5 527.4L257.4 526.8L254.4 526.2L251.3 525.5L248.2 524.9L246.5 524.6L243.5 524.0L240.3 523.4L237.1 522.8L233.9 522.2L231.3 521.7L229.1 521.4L225.8 520.8L222.4 520.2L220.1 519.8L217.4 519.4L214.0 518.8L210.9 518.4L208.7 518.0L205.2 517.5L203.2 517.2L199.8 516.8L196.4 516.3L194.2 516.1L190.4 515.6L188.4 515.4L185.0 515.0L182.4 514.8L180.1 514.5L176.1 514.2L173.9 514.0L171.5 513.9L167.8 513.7L164.6 513.5L162.0 513.4L159.3 513.4L156.3 513.4L153.2 513.5L150.3 513.6L148.1 513.7L144.9 514.0L142.2 514.4L139.0 515.0L136.3 515.7L134.0 516.5L133.0 517.0L131.3 517.9L130.5 518.5L129.9 519.0L129.1 519.9L128.4 520.8L128.1 521.4L127.8 522.0L127.6 522.7L127.5 523.4L127.5 524.1L127.5 524.8L127.6 525.6L127.7 526.4L127.9 527.1L128.2 527.9L128.5 528.7L128.8 529.4L129.1 530.0L129.5 530.7L129.8 531.3L130.4 532.2L131.0 533.1L131.5 533.9L132.0 534.5L132.5 535.1L133.2 536.0L134.0 536.9L134.6 537.6L135.2 538.2L135.8 538.9L136.8 540.0L137.5 540.7L138.1 541.3L138.9 542.1L138.9 542.1" stroke="#f08c1e"/>
<path d="M249.6 531.9L247.9 531.6L244.6 531.0L241.3 530.5L238.5 530.0L236.2 529.6L232.7 529.1L229.9 528.7L227.4 528.3L223.8 527.8L222.0 527.6L218.2 527.1L216.3 526.9L212.5 526.4L210.5 526.2L206.4 525.8L204.3 525.6L201.4 525.4L197.8 525.2L195.4 525.0L193.0 524.9L190.2 524.8L187.1 524.8L184.3 524.8L181.6 524.9L178.2 525.1L174.9 525.4L173.0 525.6L169.7 526.2L166.9 527.0L164.9 527.7L163.6 528.3L162.3 529.1L161.2 529.9L160.6 530.5L160.1 531.1L159.6 532.0L159.2 532.9L159.0 533.7L158.8 534.4L158.8 535.2L158.9 535.9L159.0 536.7L159.1 537.4L159.3 538.1L159.6 538.8L159.9 539.5L160.2 540.2L160.7 541.1L161.2 542.0L161.7 542.8L162.2 543.4L162.6 544.1L163.2 544.8L164.0 545.8L164.7 546.6L165.2 547.3L165.8 547.9L166.6 548.9L167.5 549.8L167.7 549.9" stroke="#e6321e"/>
</g>
<circle cx="60.6" cy="520.7" r="1.1" fill="#111"/>
<text x="57.4" y="526.6" font-size="6.1" font-weight="bold" fill="#333" text-anchor="end" font-family="Liberation Sans, sans-serif">0.55</text>
<circle cx="83.7" cy="527.0" r="1.1" fill="#111"/>
<text x="80.5" y="532.9" font-size="6.1" font-weight="bold" fill="#333" text-anchor="end" font-family="Liberation Sans, sans-serif">0.53</text>
<circle cx="106.8" cy="533.3" r="1.1" fill="#111"/>
<text x="103.6" y="539.2" font-size="6.1" font-weight="bold" fill="#333" text-anchor="end" font-family="Liberation Sans, sans-serif">0.51</text>
<circle cx="129.8" cy="539.6" r="1.1" fill="#111"/>
<text x="126.6" y="545.5" font-size="6.1" font-weight="bold" fill="#333" text-anchor="end" font-family="Liberation Sans, sans-serif">0.49</text>
<circle cx="152.9" cy="545.9" r="1.1" fill="#111"/>
<text x="149.7" y="551.8" font-size="6.1" font-weight="bold" fill="#333" text-anchor="end" font-family="Liberation Sans, sans-serif">0.47</text>
<circle cx="176.0" cy="552.2" r="1.1" fill="#111"/>
<text x="172.8" y="558.1" font-size="6.1" font-weight="bold" fill="#333" text-anchor="end" font-family="Liberation Sans, sans-serif">0.45</text>
<circle cx="176.0" cy="552.2" r="1.1" fill="#111"/>
<text x="179.8" y="558.6" font-size="6.1" font-weight="bold" fill="#333" text-anchor="start" font-family="Liberation Sans, sans-serif">20</text>
<circle cx="199.1" cy="545.8" r="1.1" fill="#111"/>
<text x="202.9" y="552.2" font-size="6.1" font-weight="bold" fill="#333" text-anchor="start" font-family="Liberation Sans, sans-serif">2.2</text>
<circle cx="222.1" cy="539.5" r="1.1" fill="#111"/>
<text x="225.9" y="545.9" font-size="6.1" font-weight="bold" fill="#333" text-anchor="start" font-family="Liberation Sans, sans-serif">2.4</text>
<circle cx="245.2" cy="533.1" r="1.1" fill="#111"/>
<text x="249.0" y="539.5" font-size="6.1" font-weight="bold" fill="#333" text-anchor="start" font-family="Liberation Sans, sans-serif">2.6</text>
<circle cx="268.2" cy="526.8" r="1.1" fill="#111"/>
<text x="272.0" y="533.2" font-size="6.1" font-weight="bold" fill="#333" text-anchor="start" font-family="Liberation Sans, sans-serif">2.8</text>
<circle cx="291.3" cy="520.4" r="1.1" fill="#111"/>
<text x="295.1" y="526.8" font-size="6.1" font-weight="bold" fill="#333" text-anchor="start" font-family="Liberation Sans, sans-serif">3.0</text>
<text x="69.8" y="551.8" font-size="7.4" fill="#333" text-anchor="middle" font-family="Liberation Sans, sans-serif">C:FR</text>
<text x="277.7" y="552.0" font-size="7.4" fill="#333" text-anchor="middle" font-family="Liberation Sans, sans-serif">B:OR</text>
<text x="12.4" y="477.9" font-size="6.5" fill="#222" text-anchor="middle" font-family="Liberation Sans, sans-serif">22</text>
<path d="M205.1 440V452" stroke="#7a1010" stroke-width="0.8"/><ellipse cx="205.1" cy="452.6" rx="2.4" ry="1.8" fill="#fff" stroke="#e58a8a" stroke-width="0.9"/>
<g stroke-width="0.5" stroke-linejoin="round">
<path d="M176.0 445.8L180.0 447.3L176.0 446.8L172.0 445.4Z" fill="#398d40" stroke="#2b6a30"/>
<path d="M171.9 444.5L176.0 445.8L172.0 445.4L167.9 444.2Z" fill="#398d40" stroke="#2b6a30"/>
<path d="M180.0 446.2L184.0 447.7L180.0 447.3L176.0 445.8Z" fill="#398d40" stroke="#2b6a30"/>
<path d="M167.9 443.4L171.9 444.5L167.9 444.2L163.8 443.0Z" fill="#398d40" stroke="#2b6a30"/>
<path d="M175.9 444.9L180.0 446.2L176.0 445.8L171.9 444.5Z" fill="#398d40" stroke="#2b6a30"/>
<path d="M184.0 446.6L188.0 448.1L184.0 447.7L180.0 446.2Z" fill="#398d40" stroke="#2b6a30"/>
<path d="M163.8 442.3L167.9 443.4L163.8 443.0L159.8 442.0Z" fill="#398d40" stroke="#2b6a30"/>
<path d="M171.9 443.7L175.9 444.9L171.9 444.5L167.9 443.4Z" fill="#398d40" stroke="#2b6a30"/>
<path d="M180.0 445.3L184.0 446.6L180.0 446.2L175.9 444.9Z" fill="#398d40" stroke="#2b6a30"/>
<path d="M188.0 447.1L192.0 448.6L188.0 448.1L184.0 446.6Z" fill="#398d40" stroke="#2b6a30"/>
<path d="M159.7 441.4L163.8 442.3L159.8 442.0L155.7 441.2Z" fill="#398d40" stroke="#2b6a30"/>
<path d="M167.8 442.6L171.9 443.7L167.9 443.4L163.8 442.3Z" fill="#398d40" stroke="#2b6a30"/>
<path d="M175.9 444.0L180.0 445.3L175.9 444.9L171.9 443.7Z" fill="#398d40" stroke="#2b6a30"/>
<path d="M184.0 445.7L188.0 447.1L184.0 446.6L180.0 445.3Z" fill="#398d40" stroke="#2b6a30"/>
<path d="M192.0 447.5L196.0 449.1L192.0 448.6L188.0 447.1Z" fill="#398d40" stroke="#2b6a30"/>
<path d="M155.6 440.6L159.7 441.4L155.7 441.2L151.6 440.4Z" fill="#398d40" stroke="#2b6a30"/>
<path d="M163.7 441.7L167.8 442.6L163.8 442.3L159.7 441.4Z" fill="#398d40" stroke="#2b6a30"/>
<path d="M171.9 442.9L175.9 444.0L171.9 443.7L167.8 442.6Z" fill="#398d40" stroke="#2b6a30"/>
<path d="M179.9 444.4L184.0 445.7L180.0 445.3L175.9 444.0Z" fill="#398d40" stroke="#2b6a30"/>
<path d="M188.0 446.1L192.0 447.5L188.0 447.1L184.0 445.7Z" fill="#398d40" stroke="#2b6a30"/>
<path d="M196.0 447.9L200.0 449.5L196.0 449.1L192.0 447.5Z" fill="#398d40" stroke="#2b6a30"/>
<path d="M159.7 440.9L163.7 441.7L159.7 441.4L155.6 440.6Z" fill="#398d40" stroke="#2b6a30"/>
<path d="M167.8 442.0L171.9 442.9L167.8 442.6L163.7 441.7Z" fill="#398d40" stroke="#2b6a30"/>
<path d="M175.9 443.2L179.9 444.4L175.9 444.0L171.9 442.9Z" fill="#398d40" stroke="#2b6a30"/>
<path d="M184.0 444.8L188.0 446.1L184.0 445.7L179.9 444.4Z" fill="#398d40" stroke="#2b6a30"/>
<path d="M192.0 446.5L196.0 447.9L192.0 447.5L188.0 446.1Z" fill="#398d40" stroke="#2b6a30"/>
<path d="M151.5 440.0L155.6 440.6L151.6 440.4L147.5 439.8Z" fill="#398d40" stroke="#2b6a30"/>
<path d="M200.1 448.4L204.1 450.0L200.0 449.5L196.0 447.9Z" fill="#398d40" stroke="#2b6a30"/>
<path d="M163.7 441.1L167.8 442.0L163.7 441.7L159.7 440.9Z" fill="#398d40" stroke="#2b6a30"/>
<path d="M171.8 442.2L175.9 443.2L171.9 442.9L167.8 442.0Z" fill="#398d40" stroke="#2b6a30"/>
<path d="M179.9 443.6L184.0 444.8L179.9 444.4L175.9 443.2Z" fill="#398d40" stroke="#2b6a30"/>
<path d="M188.0 445.1L192.0 446.5L188.0 446.1L184.0 444.8Z" fill="#398d40" stroke="#2b6a30"/>
<path d="M147.4 439.5L151.5 440.0L147.5 439.8L143.4 439.4Z" fill="#398d40" stroke="#2b6a30"/>
<path d="M155.6 440.2L159.7 440.9L155.6 440.6L151.5 440.0Z" fill="#398d40" stroke="#2b6a30"/>
<path d="M196.1 446.9L200.1 448.4L196.0 447.9L192.0 446.5Z" fill="#398d40" stroke="#2b6a30"/>
<path d="M204.1 448.9L208.1 450.5L204.1 450.0L200.1 448.4Z" fill="#398d40" stroke="#2b6a30"/>
<path d="M167.7 441.4L171.8 442.2L167.8 442.0L163.7 441.1Z" fill="#398d40" stroke="#2b6a30"/>
<path d="M175.9 442.5L179.9 443.6L175.9 443.2L171.8 442.2Z" fill="#398d40" stroke="#2b6a30"/>
<path d="M184.0 443.9L188.0 445.1L184.0 444.8L179.9 443.6Z" fill="#398d40" stroke="#2b6a30"/>
<path d="M143.3 439.2L147.4 439.5L143.4 439.4L139.3 439.0Z" fill="#398d40" stroke="#2b6a30"/>
<path d="M151.5 439.7L155.6 440.2L151.5 440.0L147.4 439.5Z" fill="#398d40" stroke="#2b6a30"/>
<path d="M159.6 440.4L163.7 441.1L159.7 440.9L155.6 440.2Z" fill="#398d40" stroke="#2b6a30"/>
<path d="M192.0 445.5L196.1 446.9L192.0 446.5L188.0 445.1Z" fill="#398d40" stroke="#2b6a30"/>
<path d="M200.1 447.3L204.1 448.9L200.1 448.4L196.1 446.9Z" fill="#398d40" stroke="#2b6a30"/>
<path d="M208.1 449.3L212.1 451.1L208.1 450.5L204.1 448.9Z" fill="#398d40" stroke="#2b6a30"/>
<path d="M171.8 441.6L175.9 442.5L171.8 442.2L167.7 441.4Z" fill="#398d40" stroke="#2b6a30"/>
<path d="M179.9 442.8L184.0 443.9L179.9 443.6L175.9 442.5Z" fill="#398d40" stroke="#2b6a30"/>
<path d="M139.2 439.0L143.3 439.2L139.3 439.0L135.2 438.9Z" fill="#398d40" stroke="#2b6a30"/>
<path d="M147.4 439.3L151.5 439.7L147.4 439.5L143.3 439.2Z" fill="#398d40" stroke="#2b6a30"/>
<path d="M155.5 439.9L159.6 440.4L155.6 440.2L151.5 439.7Z" fill="#398d40" stroke="#2b6a30"/>
<path d="M163.7 440.6L167.7 441.4L163.7 441.1L159.6 440.4Z" fill="#398d40" stroke="#2b6a30"/>
<path d="M188.0 444.3L192.0 445.5L188.0 445.1L184.0 443.9Z" fill="#398d40" stroke="#2b6a30"/>
<path d="M196.1 445.9L200.1 447.3L196.1 446.9L192.0 445.5Z" fill="#398d40" stroke="#2b6a30"/>
<path d="M204.1 447.8L208.1 449.3L204.1 448.9L200.1 447.3Z" fill="#398d40" stroke="#2b6a30"/>
<path d="M212.1 449.8L216.1 451.6L212.1 451.1L208.1 449.3Z" fill="#398d40" stroke="#2b6a30"/>
<path d="M175.8 441.9L179.9 442.8L175.9 442.5L171.8 441.6Z" fill="#398d40" stroke="#2b6a30"/>
<path d="M135.1 438.9L139.2 439.0L135.2 438.9L131.1 438.8Z" fill="#f6e60e" stroke="#f6e60e"/>
<path d="M143.3 439.1L147.4 439.3L143.3 439.2L139.2 439.0Z" fill="#398d40" stroke="#2b6a30"/>
<path d="M151.4 439.4L155.5 439.9L151.5 439.7L147.4 439.3Z" fill="#398d40" stroke="#2b6a30"/>
<path d="M159.6 440.0L163.7 440.6L159.6 440.4L155.5 439.9Z" fill="#398d40" stroke="#2b6a30"/>
<path d="M167.7 440.9L171.8 441.6L167.7 441.4L163.7 440.6Z" fill="#398d40" stroke="#2b6a30"/>
<path d="M184.0 443.2L188.0 444.3L184.0 443.9L179.9 442.8Z" fill="#398d40" stroke="#2b6a30"/>
<path d="M192.0 444.6L196.1 445.9L192.0 445.5L188.0 444.3Z" fill="#398d40" stroke="#2b6a30"/>
<path d="M200.1 446.3L204.1 447.8L200.1 447.3L196.1 445.9Z" fill="#398d40" stroke="#2b6a30"/>
<path d="M208.1 448.2L212.1 449.8L208.1 449.3L204.1 447.8Z" fill="#398d40" stroke="#2b6a30"/>
<path d="M216.2 450.3L220.1 452.1L216.1 451.6L212.1 449.8Z" fill="#398d40" stroke="#2b6a30"/>
<path d="M131.0 439.0L135.1 438.9L131.1 438.8L127.0 438.9Z" fill="#f6dd0e" stroke="#f6dd0e"/>
<path d="M139.2 439.0L143.3 439.1L139.2 439.0L135.1 438.9Z" fill="#f6dd0e" stroke="#f6dd0e"/>
<path d="M147.3 439.2L151.4 439.4L147.4 439.3L143.3 439.1Z" fill="#398d40" stroke="#2b6a30"/>
<path d="M155.5 439.6L159.6 440.0L155.5 439.9L151.4 439.4Z" fill="#398d40" stroke="#2b6a30"/>
<path d="M163.6 440.2L167.7 440.9L163.7 440.6L159.6 440.0Z" fill="#398d40" stroke="#2b6a30"/>
<path d="M171.8 441.1L175.8 441.9L171.8 441.6L167.7 440.9Z" fill="#398d40" stroke="#2b6a30"/>
<path d="M179.9 442.2L184.0 443.2L179.9 442.8L175.8 441.9Z" fill="#398d40" stroke="#2b6a30"/>
<path d="M188.0 443.5L192.0 444.6L188.0 444.3L184.0 443.2Z" fill="#398d40" stroke="#2b6a30"/>
<path d="M196.1 445.0L200.1 446.3L196.1 445.9L192.0 444.6Z" fill="#398d40" stroke="#2b6a30"/>
<path d="M204.1 446.7L208.1 448.2L204.1 447.8L200.1 446.3Z" fill="#398d40" stroke="#2b6a30"/>
<path d="M212.2 448.7L216.2 450.3L212.1 449.8L208.1 448.2Z" fill="#398d40" stroke="#2b6a30"/>
<path d="M220.2 450.9L224.1 452.7L220.1 452.1L216.2 450.3Z" fill="#398d40" stroke="#2b6a30"/>
<path d="M126.9 439.2L131.0 439.0L127.0 438.9L122.9 439.2Z" fill="#f7d60e" stroke="#f7d60e"/>
<path d="M135.1 439.0L139.2 439.0L135.1 438.9L131.0 439.0Z" fill="#f7d30e" stroke="#f7d30e"/>
<path d="M143.2 439.0L147.3 439.2L143.3 439.1L139.2 439.0Z" fill="#398d40" stroke="#2b6a30"/>
<path d="M151.4 439.3L155.5 439.6L151.4 439.4L147.3 439.2Z" fill="#398d40" stroke="#2b6a30"/>
<path d="M159.5 439.8L163.6 440.2L159.6 440.0L155.5 439.6Z" fill="#398d40" stroke="#2b6a30"/>
<path d="M167.7 440.4L171.8 441.1L167.7 440.9L163.6 440.2Z" fill="#398d40" stroke="#2b6a30"/>
<path d="M183.9 442.5L188.0 443.5L184.0 443.2L179.9 442.2Z" fill="#398d40" stroke="#2b6a30"/>
<path d="M192.0 443.8L196.1 445.0L192.0 444.6L188.0 443.5Z" fill="#398d40" stroke="#2b6a30"/>
<path d="M200.1 445.4L204.1 446.7L200.1 446.3L196.1 445.0Z" fill="#398d40" stroke="#2b6a30"/>
<path d="M208.2 447.2L212.2 448.7L208.1 448.2L204.1 446.7Z" fill="#398d40" stroke="#2b6a30"/>
<path d="M216.2 449.2L220.2 450.9L216.2 450.3L212.2 448.7Z" fill="#398d40" stroke="#2b6a30"/>
<path d="M224.2 451.4L228.1 453.2L224.1 452.7L220.2 450.9Z" fill="#398d40" stroke="#2b6a30"/>
<path d="M175.8 441.4L179.9 442.2L175.8 441.9L171.8 441.1Z" fill="#398d40" stroke="#2b6a30"/>
<path d="M122.8 439.6L126.9 439.2L122.9 439.2L118.8 439.6Z" fill="#f7d20e" stroke="#f5d20e"/>
<path d="M131.0 439.2L135.1 439.0L131.0 439.0L126.9 439.2Z" fill="#f7cc0e" stroke="#f7cc0e"/>
<path d="M139.1 439.1L143.2 439.0L139.2 439.0L135.1 439.0Z" fill="#f7ca0e" stroke="#f7ca0e"/>
<path d="M147.3 439.1L151.4 439.3L147.3 439.2L143.2 439.0Z" fill="#398d3f" stroke="#2b6a2f"/>
<path d="M155.4 439.4L159.5 439.8L155.5 439.6L151.4 439.3Z" fill="#398d40" stroke="#2b6a30"/>
<path d="M163.6 439.9L167.7 440.4L163.6 440.2L159.5 439.8Z" fill="#398d40" stroke="#2b6a30"/>
<path d="M188.0 442.8L192.0 443.8L188.0 443.5L183.9 442.5Z" fill="#398d40" stroke="#2b6a30"/>
<path d="M196.1 444.2L200.1 445.4L196.1 445.0L192.0 443.8Z" fill="#398d40" stroke="#2b6a30"/>
<path d="M204.2 445.8L208.2 447.2L204.1 446.7L200.1 445.4Z" fill="#398d40" stroke="#2b6a30"/>
<path d="M212.2 447.6L216.2 449.2L212.2 448.7L208.2 447.2Z" fill="#398d40" stroke="#2b6a30"/>
<path d="M220.2 449.7L224.2 451.4L220.2 450.9L216.2 449.2Z" fill="#398d40" stroke="#2b6a30"/>
<path d="M228.2 451.9L232.2 453.8L228.1 453.2L224.2 451.4Z" fill="#398d40" stroke="#2b6a30"/>
<path d="M171.7 440.7L175.8 441.4L171.8 441.1L167.7 440.4Z" fill="#398d40" stroke="#2b6a30"/>
<path d="M179.9 441.6L183.9 442.5L179.9 442.2L175.8 441.4Z" fill="#398d40" stroke="#2b6a30"/>
<path d="M118.7 440.1L122.8 439.6L118.8 439.6L114.7 440.2Z" fill="#f7cf0e" stroke="#eacf0d"/>
<path d="M126.9 439.6L131.0 439.2L126.9 439.2L122.8 439.6Z" fill="#f7c70e" stroke="#f7c70e"/>
<path d="M135.0 439.2L139.1 439.1L135.1 439.0L131.0 439.2Z" fill="#f7c00f" stroke="#f7c00f"/>
<path d="M143.2 439.1L147.3 439.1L143.2 439.0L139.1 439.1Z" fill="#f6be0f" stroke="#f6be0f"/>
<path d="M151.3 439.2L155.4 439.4L151.4 439.3L147.3 439.1Z" fill="#3a8e3e" stroke="#2b6a2f"/>
<path d="M159.5 439.6L163.6 439.9L159.5 439.8L155.4 439.4Z" fill="#3a8d3f" stroke="#2b6a2f"/>
<path d="M192.1 443.1L196.1 444.2L192.0 443.8L188.0 442.8Z" fill="#398d40" stroke="#2b6a30"/>
<path d="M200.2 444.5L204.2 445.8L200.1 445.4L196.1 444.2Z" fill="#398d40" stroke="#2b6a30"/>
<path d="M208.2 446.2L212.2 447.6L208.2 447.2L204.2 445.8Z" fill="#398d40" stroke="#2b6a30"/>
<path d="M216.3 448.1L220.2 449.7L216.2 449.2L212.2 447.6Z" fill="#398d40" stroke="#2b6a30"/>
<path d="M224.3 450.2L228.2 451.9L224.2 451.4L220.2 449.7Z" fill="#398d40" stroke="#2b6a30"/>
<path d="M232.3 452.5L236.2 454.4L232.2 453.8L228.2 451.9Z" fill="#398d40" stroke="#2b6a30"/>
<path d="M167.7 440.1L171.7 440.7L167.7 440.4L163.6 439.9Z" fill="#398d40" stroke="#2b6a30"/>
<path d="M175.8 440.9L179.9 441.6L175.8 441.4L171.7 440.7Z" fill="#398d40" stroke="#2b6a30"/>
<path d="M183.9 441.9L188.0 442.8L183.9 442.5L179.9 441.6Z" fill="#398d40" stroke="#2b6a30"/>
<path d="M114.7 440.8L118.7 440.1L114.7 440.2L110.6 440.9Z" fill="#f7cf0e" stroke="#dfc60d"/>
<path d="M122.8 440.1L126.9 439.6L122.8 439.6L118.7 440.1Z" fill="#f7c30e" stroke="#ecc30e"/>
<path d="M130.9 439.6L135.0 439.2L131.0 439.2L126.9 439.6Z" fill="#f6b80f" stroke="#f6b80f"/>
<path d="M139.1 439.3L143.2 439.1L139.1 439.1L135.0 439.2Z" fill="#f6b210" stroke="#f6b210"/>
<path d="M147.2 439.2L151.3 439.2L147.3 439.1L143.2 439.1Z" fill="#f6b010" stroke="#f6b010"/>
<path d="M155.4 439.3L159.5 439.6L155.4 439.4L151.3 439.2Z" fill="#3b8e3d" stroke="#2c6a2e"/>
<path d="M196.1 443.4L200.2 444.5L196.1 444.2L192.1 443.1Z" fill="#398d40" stroke="#2b6a30"/>
<path d="M204.2 444.9L208.2 446.2L204.2 445.8L200.2 444.5Z" fill="#398d40" stroke="#2b6a30"/>
<path d="M212.3 446.6L216.3 448.1L212.2 447.6L208.2 446.2Z" fill="#398d40" stroke="#2b6a30"/>
<path d="M220.3 448.6L224.3 450.2L220.2 449.7L216.3 448.1Z" fill="#398d40" stroke="#2b6a30"/>
<path d="M228.3 450.7L232.3 452.5L228.2 451.9L224.3 450.2Z" fill="#398d40" stroke="#2b6a30"/>
<path d="M236.3 453.1L240.2 455.0L236.2 454.4L232.3 452.5Z" fill="#398d40" stroke="#2b6a30"/>
<path d="M163.6 439.7L167.7 440.1L163.6 439.9L159.5 439.6Z" fill="#3a8e3e" stroke="#2c6a2f"/>
<path d="M171.7 440.3L175.8 440.9L171.7 440.7L167.7 440.1Z" fill="#398d3f" stroke="#2b6a2f"/>
<path d="M179.9 441.1L183.9 441.9L179.9 441.6L175.8 440.9Z" fill="#398d40" stroke="#2b6a30"/>
<path d="M188.0 442.2L192.1 443.1L188.0 442.8L183.9 441.9Z" fill="#398d40" stroke="#2b6a30"/>
<path d="M110.6 441.7L114.7 440.8L110.6 440.9L106.6 441.8Z" fill="#f7d10e" stroke="#d4be0c"/>
<path d="M118.7 440.7L122.8 440.1L118.7 440.1L114.7 440.8Z" fill="#f7c20e" stroke="#e1bb0d"/>
<path d="M126.8 440.0L130.9 439.6L126.9 439.6L122.8 440.1Z" fill="#f6b310" stroke="#edb30f"/>
<path d="M135.0 439.6L139.1 439.3L135.0 439.2L130.9 439.6Z" fill="#f5a910" stroke="#f5a910"/>
<path d="M143.1 439.3L147.2 439.2L143.2 439.1L139.1 439.3Z" fill="#f5a411" stroke="#f5a411"/>
<path d="M151.3 439.3L155.4 439.3L151.3 439.2L147.2 439.2Z" fill="#f5a311" stroke="#f5a311"/>
<path d="M200.2 443.8L204.2 444.9L200.2 444.5L196.1 443.4Z" fill="#398d40" stroke="#2b6a30"/>
<path d="M208.3 445.3L212.3 446.6L208.2 446.2L204.2 444.9Z" fill="#398d40" stroke="#2b6a30"/>
<path d="M216.3 447.1L220.3 448.6L216.3 448.1L212.3 446.6Z" fill="#398d40" stroke="#2b6a30"/>
<path d="M224.4 449.1L228.3 450.7L224.3 450.2L220.3 448.6Z" fill="#398d40" stroke="#2b6a30"/>
<path d="M232.4 451.2L236.3 453.1L232.3 452.5L228.3 450.7Z" fill="#398d40" stroke="#2b6a30"/>
<path d="M240.3 453.7L244.2 455.7L240.2 455.0L236.3 453.1Z" fill="#398d40" stroke="#2b6a30"/>
<path d="M159.5 439.5L163.6 439.7L159.5 439.6L155.4 439.3Z" fill="#3b8e3d" stroke="#2c6a2d"/>
<path d="M167.6 439.9L171.7 440.3L167.7 440.1L163.6 439.7Z" fill="#3b8e3d" stroke="#2c6a2e"/>
<path d="M175.8 440.5L179.9 441.1L175.8 440.9L171.7 440.3Z" fill="#3a8e3e" stroke="#2b6a2f"/>
<path d="M183.9 441.4L188.0 442.2L183.9 441.9L179.9 441.1Z" fill="#398d40" stroke="#2b6a30"/>
<path d="M192.1 442.5L196.1 443.4L192.1 443.1L188.0 442.2Z" fill="#398d40" stroke="#2b6a30"/>
<path d="M106.5 442.7L110.6 441.7L106.6 441.8L102.5 442.8Z" fill="#f7d60e" stroke="#c8b80b"/>
<path d="M114.6 441.6L118.7 440.7L114.7 440.8L110.6 441.7Z" fill="#f7c50e" stroke="#d6b40c"/>
<path d="M122.7 440.7L126.8 440.0L122.8 440.1L118.7 440.7Z" fill="#f6b110" stroke="#e2ac0e"/>
<path d="M130.9 440.0L135.0 439.6L130.9 439.6L126.8 440.0Z" fill="#f5a311" stroke="#eea310"/>
<path d="M139.0 439.6L143.1 439.3L139.1 439.3L135.0 439.6Z" fill="#f49a11" stroke="#f49a11"/>
<path d="M147.2 439.3L151.3 439.3L147.2 439.2L143.1 439.3Z" fill="#f49612" stroke="#f49612"/>
<path d="M204.2 444.1L208.3 445.3L204.2 444.9L200.2 443.8Z" fill="#398d40" stroke="#2b6a30"/>
<path d="M212.3 445.7L216.3 447.1L212.3 446.6L208.3 445.3Z" fill="#398d40" stroke="#2b6a30"/>
<path d="M220.4 447.5L224.4 449.1L220.3 448.6L216.3 447.1Z" fill="#398d40" stroke="#2b6a30"/>
<path d="M228.4 449.6L232.4 451.2L228.3 450.7L224.4 449.1Z" fill="#398d40" stroke="#2b6a30"/>
<path d="M236.4 451.8L240.3 453.7L236.3 453.1L232.4 451.2Z" fill="#398d40" stroke="#2b6a30"/>
<path d="M244.3 454.3L248.2 456.3L244.2 455.7L240.3 453.7Z" fill="#398d40" stroke="#2b6a30"/>
<path d="M155.4 439.4L159.5 439.5L155.4 439.3L151.3 439.3Z" fill="#f49712" stroke="#f49712"/>
<path d="M163.5 439.6L167.6 439.9L163.6 439.7L159.5 439.5Z" fill="#3c8e3c" stroke="#2d6a2d"/>
<path d="M171.7 440.0L175.8 440.5L171.7 440.3L167.6 439.9Z" fill="#3b8e3d" stroke="#2c6a2d"/>
<path d="M179.9 440.7L183.9 441.4L179.9 441.1L175.8 440.5Z" fill="#3a8e3e" stroke="#2c6a2e"/>
<path d="M188.0 441.6L192.1 442.5L188.0 442.2L183.9 441.4Z" fill="#398d3f" stroke="#2b6a2f"/>
<path d="M196.1 442.8L200.2 443.8L196.1 443.4L192.1 442.5Z" fill="#398d40" stroke="#2b6a30"/>
<path d="M110.5 442.6L114.6 441.6L110.6 441.7L106.5 442.7Z" fill="#f7ca0e" stroke="#caaf0b"/>
<path d="M118.7 441.5L122.7 440.7L118.7 440.7L114.6 441.6Z" fill="#f6b310" stroke="#d7a50e"/>
<path d="M126.8 440.6L130.9 440.0L126.8 440.0L122.7 440.7Z" fill="#f5a111" stroke="#e39d10"/>
<path d="M134.9 440.0L139.0 439.6L135.0 439.6L130.9 440.0Z" fill="#f49412" stroke="#f09411"/>
<path d="M143.1 439.6L147.2 439.3L143.1 439.3L139.0 439.6Z" fill="#f48d12" stroke="#f48d12"/>
<path d="M208.3 444.5L212.3 445.7L208.3 445.3L204.2 444.1Z" fill="#398d40" stroke="#2b6a30"/>
<path d="M216.4 446.1L220.4 447.5L216.3 447.1L212.3 445.7Z" fill="#398d40" stroke="#2b6a30"/>
<path d="M224.4 448.0L228.4 449.6L224.4 449.1L220.4 447.5Z" fill="#398d40" stroke="#2b6a30"/>
<path d="M232.4 450.1L236.4 451.8L232.4 451.2L228.4 449.6Z" fill="#398d40" stroke="#2b6a30"/>
<path d="M240.4 452.4L244.3 454.3L240.3 453.7L236.4 451.8Z" fill="#398d40" stroke="#2b6a30"/>
<path d="M102.5 443.9L106.5 442.7L102.5 442.8L98.4 444.0Z" fill="#f6dc0e" stroke="#bcb30b"/>
<path d="M248.4 454.9L252.2 456.9L248.2 456.3L244.3 454.3Z" fill="#398d40" stroke="#2b6a30"/>
<path d="M151.3 439.4L155.4 439.4L151.3 439.3L147.2 439.3Z" fill="#f38b12" stroke="#f38b12"/>
<path d="M159.4 439.4L163.5 439.6L159.5 439.5L155.4 439.4Z" fill="#3c8e3a" stroke="#2d6a2c"/>
<path d="M167.6 439.7L171.7 440.0L167.6 439.9L163.5 439.6Z" fill="#3c8e3b" stroke="#2d6a2c"/>
<path d="M175.8 440.2L179.9 440.7L175.8 440.5L171.7 440.0Z" fill="#3c8e3c" stroke="#2d6a2d"/>
<path d="M183.9 441.0L188.0 441.6L183.9 441.4L179.9 440.7Z" fill="#3b8e3d" stroke="#2c6a2e"/>
<path d="M192.1 441.9L196.1 442.8L192.1 442.5L188.0 441.6Z" fill="#3a8e3f" stroke="#2b6a2f"/>
<path d="M200.2 443.1L204.2 444.1L200.2 443.8L196.1 442.8Z" fill="#398d40" stroke="#2b6a30"/>
<path d="M114.6 442.4L118.7 441.5L114.6 441.6L110.5 442.6Z" fill="#f6b90f" stroke="#cba20c"/>
<path d="M122.7 441.4L126.8 440.6L122.7 440.7L118.7 441.5Z" fill="#f5a211" stroke="#d8970f"/>
<path d="M130.9 440.6L134.9 440.0L130.9 440.0L126.8 440.6Z" fill="#f49112" stroke="#e48f11"/>
<path d="M139.0 440.0L143.1 439.6L139.0 439.6L134.9 440.0Z" fill="#f38912" stroke="#f08912"/>
<path d="M212.4 444.9L216.4 446.1L212.3 445.7L208.3 444.5Z" fill="#398d40" stroke="#2b6a30"/>
<path d="M220.4 446.6L224.4 448.0L220.4 447.5L216.4 446.1Z" fill="#398d40" stroke="#2b6a30"/>
<path d="M228.5 448.5L232.4 450.1L228.4 449.6L224.4 448.0Z" fill="#398d40" stroke="#2b6a30"/>
<path d="M236.5 450.6L240.4 452.4L236.4 451.8L232.4 450.1Z" fill="#398d40" stroke="#2b6a30"/>
<path d="M98.4 445.2L102.5 443.9L98.4 444.0L94.4 445.4Z" fill="#f6e50e" stroke="#b0af0a"/>
<path d="M106.5 443.7L110.5 442.6L106.5 442.7L102.5 443.9Z" fill="#f7d00e" stroke="#beaa0b"/>
<path d="M244.5 452.9L248.4 454.9L244.3 454.3L240.4 452.4Z" fill="#398d40" stroke="#2b6a30"/>
<path d="M252.4 455.5L256.3 457.6L252.2 456.9L248.4 454.9Z" fill="#398d40" stroke="#2b6a30"/>
<path d="M147.2 439.6L151.3 439.4L147.2 439.3L143.1 439.6Z" fill="#f28413" stroke="#f28413"/>
<path d="M155.3 439.5L159.4 439.4L155.4 439.4L151.3 439.4Z" fill="#f28213" stroke="#f28213"/>
<path d="M163.5 439.5L167.6 439.7L163.5 439.6L159.4 439.4Z" fill="#3d8e39" stroke="#2e6b2b"/>
<path d="M171.7 439.9L175.8 440.2L171.7 440.0L167.6 439.7Z" fill="#3d8e3a" stroke="#2d6b2c"/>
<path d="M179.9 440.4L183.9 441.0L179.9 440.7L175.8 440.2Z" fill="#3c8e3b" stroke="#2d6a2c"/>
<path d="M188.0 441.2L192.1 441.9L188.0 441.6L183.9 441.0Z" fill="#3b8e3c" stroke="#2c6a2d"/>
<path d="M196.1 442.2L200.2 443.1L196.1 442.8L192.1 441.9Z" fill="#3a8e3e" stroke="#2c6a2f"/>
<path d="M204.3 443.4L208.3 444.5L204.2 444.1L200.2 443.1Z" fill="#398d40" stroke="#2b6a30"/>
<path d="M118.6 442.3L122.7 441.4L118.7 441.5L114.6 442.4Z" fill="#f5a710" stroke="#cc930e"/>
<path d="M126.8 441.3L130.9 440.6L126.8 440.6L122.7 441.4Z" fill="#f49112" stroke="#d98810"/>
<path d="M134.9 440.5L139.0 440.0L134.9 440.0L130.9 440.6Z" fill="#f38612" stroke="#e58511"/>
<path d="M216.4 445.3L220.4 446.6L216.4 446.1L212.4 444.9Z" fill="#398d40" stroke="#2b6a30"/>
<path d="M224.5 447.0L228.5 448.5L224.4 448.0L220.4 446.6Z" fill="#398d40" stroke="#2b6a30"/>
<path d="M232.5 449.0L236.5 450.6L232.4 450.1L228.5 448.5Z" fill="#398d40" stroke="#2b6a30"/>
<path d="M94.4 446.7L98.4 445.2L94.4 445.4L90.4 446.9Z" fill="#f2eb10" stroke="#a1a80b"/>
<path d="M102.4 445.0L106.5 443.7L102.5 443.9L98.4 445.2Z" fill="#f7d80e" stroke="#b2a70a"/>
<path d="M110.5 443.5L114.6 442.4L110.5 442.6L106.5 443.7Z" fill="#f7c10e" stroke="#c0a00b"/>
<path d="M240.5 451.1L244.5 452.9L240.4 452.4L236.5 450.6Z" fill="#398d40" stroke="#2b6a30"/>
<path d="M248.5 453.5L252.4 455.5L248.4 454.9L244.5 452.9Z" fill="#398d40" stroke="#2b6a30"/>
<path d="M256.4 456.2L260.3 458.3L256.3 457.6L252.4 455.5Z" fill="#398d40" stroke="#2b6a30"/>
<path d="M143.1 440.0L147.2 439.6L143.1 439.6L139.0 440.0Z" fill="#f27f13" stroke="#f17f13"/>
<path d="M151.2 439.6L155.3 439.5L151.3 439.4L147.2 439.6Z" fill="#f17a13" stroke="#f17a13"/>
<path d="M159.4 439.5L163.5 439.5L159.4 439.4L155.3 439.5Z" fill="#f17a13" stroke="#f17a13"/>
<path d="M167.6 439.7L171.7 439.9L167.6 439.7L163.5 439.5Z" fill="#408f39" stroke="#306c2a"/>
<path d="M175.8 440.0L179.9 440.4L175.8 440.2L171.7 439.9Z" fill="#3e8e39" stroke="#2e6b2b"/>
<path d="M183.9 440.6L188.0 441.2L183.9 441.0L179.9 440.4Z" fill="#3c8e3a" stroke="#2d6a2c"/>
<path d="M192.1 441.4L196.1 442.2L192.1 441.9L188.0 441.2Z" fill="#3c8e3c" stroke="#2d6a2d"/>
<path d="M200.2 442.5L204.3 443.4L200.2 443.1L196.1 442.2Z" fill="#3a8e3e" stroke="#2c6a2e"/>
<path d="M208.3 443.8L212.4 444.9L208.3 444.5L204.3 443.4Z" fill="#398d40" stroke="#2b6a30"/>
<path d="M122.7 442.2L126.8 441.3L122.7 441.4L118.6 442.3Z" fill="#f49512" stroke="#cd850f"/>
<path d="M130.8 441.2L134.9 440.5L130.9 440.6L126.8 441.3Z" fill="#f38612" stroke="#d97f11"/>
<path d="M220.5 445.7L224.5 447.0L220.4 446.6L216.4 445.3Z" fill="#398d40" stroke="#2b6a30"/>
<path d="M228.6 447.5L232.5 449.0L228.5 448.5L224.5 447.0Z" fill="#398d40" stroke="#2b6a30"/>
<path d="M90.4 448.3L94.4 446.7L90.4 446.9L86.3 448.6Z" fill="#e5e617" stroke="#8d990e"/>
<path d="M98.4 446.5L102.4 445.0L98.4 445.2L94.4 446.7Z" fill="#f6e30e" stroke="#a5a409"/>
<path d="M106.5 444.8L110.5 443.5L106.5 443.7L102.4 445.0Z" fill="#f7cb0e" stroke="#b49e0a"/>
<path d="M114.6 443.4L118.6 442.3L114.6 442.4L110.5 443.5Z" fill="#f6af10" stroke="#c1920c"/>
<path d="M236.6 449.5L240.5 451.1L236.5 450.6L232.5 449.0Z" fill="#398d40" stroke="#2b6a30"/>
<path d="M244.6 451.7L248.5 453.5L244.5 452.9L240.5 451.1Z" fill="#398d40" stroke="#2b6a30"/>
<path d="M252.5 454.1L256.4 456.2L252.4 455.5L248.5 453.5Z" fill="#398d40" stroke="#2b6a30"/>
<path d="M260.4 456.8L264.3 459.0L260.3 458.3L256.4 456.2Z" fill="#398d40" stroke="#2b6a30"/>
<path d="M139.0 440.5L143.1 440.0L139.0 440.0L134.9 440.5Z" fill="#f17c13" stroke="#e67c12"/>
<path d="M147.1 440.0L151.2 439.6L147.2 439.6L143.1 440.0Z" fill="#f17513" stroke="#f17513"/>
<path d="M155.3 439.7L159.4 439.5L155.3 439.5L151.2 439.6Z" fill="#f07113" stroke="#f07113"/>
<path d="M163.5 439.6L167.6 439.7L163.5 439.5L159.4 439.5Z" fill="#f07113" stroke="#f07113"/>
<path d="M171.7 439.8L175.8 440.0L171.7 439.9L167.6 439.7Z" fill="#429138" stroke="#316d2a"/>
<path d="M179.8 440.2L183.9 440.6L179.9 440.4L175.8 440.0Z" fill="#409039" stroke="#306c2a"/>
<path d="M188.0 440.8L192.1 441.4L188.0 441.2L183.9 440.6Z" fill="#3d8e3a" stroke="#2e6b2b"/>
<path d="M196.2 441.7L200.2 442.5L196.1 442.2L192.1 441.4Z" fill="#3c8e3b" stroke="#2d6a2c"/>
<path d="M204.3 442.8L208.3 443.8L204.3 443.4L200.2 442.5Z" fill="#3b8e3d" stroke="#2c6a2e"/>
<path d="M212.4 444.1L216.4 445.3L212.4 444.9L208.3 443.8Z" fill="#398d3f" stroke="#2b6a2f"/>
<path d="M126.7 442.1L130.8 441.2L126.8 441.3L122.7 442.2Z" fill="#f38812" stroke="#ce7a10"/>
<path d="M224.6 446.1L228.6 447.5L224.5 447.0L220.5 445.7Z" fill="#398d40" stroke="#2b6a30"/>
<path d="M86.4 450.2L90.4 448.3L86.3 448.6L82.4 450.4Z" fill="#d7e120" stroke="#798a12"/>
<path d="M94.4 448.1L98.4 446.5L94.4 446.7L90.4 448.3Z" fill="#f3eb10" stroke="#979d0a"/>
<path d="M102.4 446.3L106.5 444.8L102.4 445.0L98.4 446.5Z" fill="#f7d60e" stroke="#a79b09"/>
<path d="M110.5 444.6L114.6 443.4L110.5 443.5L106.5 444.8Z" fill="#f6ba0f" stroke="#b5920b"/>
<path d="M118.6 443.2L122.7 442.2L118.6 442.3L114.6 443.4Z" fill="#f59d11" stroke="#c2840e"/>
<path d="M232.6 447.9L236.6 449.5L232.5 449.0L228.6 447.5Z" fill="#398d40" stroke="#2b6a30"/>
<path d="M240.6 450.0L244.6 451.7L240.5 451.1L236.6 449.5Z" fill="#398d40" stroke="#2b6a30"/>
<path d="M248.6 452.3L252.5 454.1L248.5 453.5L244.6 451.7Z" fill="#398d40" stroke="#2b6a30"/>
<path d="M256.6 454.8L260.4 456.8L256.4 456.2L252.5 454.1Z" fill="#398d40" stroke="#2b6a30"/>
<path d="M264.5 457.5L268.3 459.7L264.3 459.0L260.4 456.8Z" fill="#398d40" stroke="#2b6a30"/>
<path d="M134.9 441.1L139.0 440.5L134.9 440.5L130.8 441.2Z" fill="#f17b13" stroke="#da7511"/>
<path d="M143.0 440.4L147.1 440.0L143.1 440.0L139.0 440.5Z" fill="#f07113" stroke="#e67112"/>
<path d="M151.2 440.0L155.3 439.7L151.2 439.6L147.1 440.0Z" fill="#ef6b14" stroke="#ef6b14"/>
<path d="M159.4 439.7L163.5 439.6L159.4 439.5L155.3 439.7Z" fill="#ef6814" stroke="#ef6814"/>
<path d="M167.6 439.7L171.7 439.8L167.6 439.7L163.5 439.6Z" fill="#ef6914" stroke="#ef6914"/>
<path d="M175.8 439.9L179.8 440.2L175.8 440.0L171.7 439.8Z" fill="#449237" stroke="#336d29"/>
<path d="M183.9 440.4L188.0 440.8L183.9 440.6L179.8 440.2Z" fill="#429138" stroke="#326d2a"/>
<path d="M192.1 441.1L196.2 441.7L192.1 441.4L188.0 440.8Z" fill="#3f8f39" stroke="#2f6b2b"/>
<path d="M200.2 442.0L204.3 442.8L200.2 442.5L196.2 441.7Z" fill="#3c8e3b" stroke="#2d6a2c"/>
<path d="M208.4 443.1L212.4 444.1L208.3 443.8L204.3 442.8Z" fill="#3b8e3c" stroke="#2c6a2d"/>
<path d="M216.5 444.5L220.5 445.7L216.4 445.3L212.4 444.1Z" fill="#3a8e3f" stroke="#2b6a2f"/>
<path d="M82.4 452.2L86.4 450.2L82.4 450.4L78.4 452.5Z" fill="#c6db28" stroke="#6d8416"/>
<path d="M90.4 449.9L94.4 448.1L90.4 448.3L86.4 450.2Z" fill="#e4e618" stroke="#828e0e"/>
<path d="M98.4 447.9L102.4 446.3L98.4 446.5L94.4 448.1Z" fill="#f6e20e" stroke="#9b9909"/>
<path d="M106.5 446.1L110.5 444.6L106.5 444.8L102.4 446.3Z" fill="#f7c90e" stroke="#a9930a"/>
<path d="M114.5 444.5L118.6 443.2L114.6 443.4L110.5 444.6Z" fill="#f5a710" stroke="#b6850c"/>
<path d="M122.7 443.1L126.7 442.1L122.7 442.2L118.6 443.2Z" fill="#f38d12" stroke="#c3780f"/>
<path d="M228.6 446.5L232.6 447.9L228.6 447.5L224.6 446.1Z" fill="#398d40" stroke="#2b6a30"/>
<path d="M236.7 448.4L240.6 450.0L236.6 449.5L232.6 447.9Z" fill="#398d40" stroke="#2b6a30"/>
<path d="M244.7 450.5L248.6 452.3L244.6 451.7L240.6 450.0Z" fill="#398d40" stroke="#2b6a30"/>
<path d="M252.7 452.8L256.6 454.8L252.5 454.1L248.6 452.3Z" fill="#398d40" stroke="#2b6a30"/>
<path d="M260.6 455.4L264.5 457.5L260.4 456.8L256.6 454.8Z" fill="#398d40" stroke="#2b6a30"/>
<path d="M268.5 458.2L272.3 460.4L268.3 459.7L264.5 457.5Z" fill="#398d40" stroke="#2b6a30"/>
<path d="M130.8 442.0L134.9 441.1L130.8 441.2L126.7 442.1Z" fill="#f27d13" stroke="#cf7110"/>
<path d="M139.0 441.1L143.0 440.4L139.0 440.5L134.9 441.1Z" fill="#f07013" stroke="#db6c12"/>
<path d="M147.1 440.4L151.2 440.0L147.1 440.0L143.0 440.4Z" fill="#ef6714" stroke="#e76713"/>
<path d="M155.3 440.0L159.4 439.7L155.3 439.7L151.2 440.0Z" fill="#ee6214" stroke="#ee6214"/>
<path d="M163.5 439.8L167.6 439.7L163.5 439.6L159.4 439.7Z" fill="#ee5f14" stroke="#ee5f14"/>
<path d="M171.7 439.8L175.8 439.9L171.7 439.8L167.6 439.7Z" fill="#ee6114" stroke="#ee6114"/>
<path d="M179.8 440.1L183.9 440.4L179.8 440.2L175.8 439.9Z" fill="#479336" stroke="#356e29"/>
<path d="M188.0 440.6L192.1 441.1L188.0 440.8L183.9 440.4Z" fill="#449237" stroke="#336d29"/>
<path d="M196.2 441.3L200.2 442.0L196.2 441.7L192.1 441.1Z" fill="#409038" stroke="#306c2a"/>
<path d="M204.3 442.2L208.4 443.1L204.3 442.8L200.2 442.0Z" fill="#3d8e3a" stroke="#2e6b2b"/>
<path d="M212.5 443.4L216.5 444.5L212.4 444.1L208.4 443.1Z" fill="#3b8e3c" stroke="#2d6a2d"/>
<path d="M220.6 444.9L224.6 446.1L220.5 445.7L216.5 444.5Z" fill="#3a8e3e" stroke="#2b6a2f"/>
<path d="M86.4 451.9L90.4 449.9L86.4 450.2L82.4 452.2Z" fill="#d4e021" stroke="#758612"/>
<path d="M94.4 449.7L98.4 447.9L94.4 448.1L90.4 449.9Z" fill="#f2eb10" stroke="#8b9309"/>
<path d="M102.4 447.6L106.5 446.1L102.4 446.3L98.4 447.9Z" fill="#f7d40e" stroke="#9c9109"/>
<path d="M110.5 445.9L114.5 444.5L110.5 444.6L106.5 446.1Z" fill="#f6b50f" stroke="#aa870b"/>
<path d="M118.6 444.3L122.7 443.1L118.6 443.2L114.5 444.5Z" fill="#f49512" stroke="#b7770d"/>
<path d="M232.7 447.0L236.7 448.4L232.6 447.9L228.6 446.5Z" fill="#398d40" stroke="#2b6a30"/>
<path d="M240.7 448.9L244.7 450.5L240.6 450.0L236.7 448.4Z" fill="#398d40" stroke="#2b6a30"/>
<path d="M248.7 451.1L252.7 452.8L248.6 452.3L244.7 450.5Z" fill="#398d40" stroke="#2b6a30"/>
<path d="M256.7 453.4L260.6 455.4L256.6 454.8L252.7 452.8Z" fill="#398d40" stroke="#2b6a30"/>
<path d="M264.6 456.1L268.5 458.2L264.5 457.5L260.6 455.4Z" fill="#398d40" stroke="#2b6a30"/>
<path d="M78.4 454.4L82.4 452.2L78.4 452.5L74.4 454.7Z" fill="#bad72b" stroke="#668118"/>
<path d="M134.9 441.9L139.0 441.1L134.9 441.1L130.8 442.0Z" fill="#f07213" stroke="#d06811"/>
<path d="M143.0 441.0L147.1 440.4L143.0 440.4L139.0 441.1Z" fill="#ef6614" stroke="#dc6312"/>
<path d="M151.2 440.4L155.3 440.0L151.2 440.0L147.1 440.4Z" fill="#ee5e14" stroke="#e85e14"/>
<path d="M159.4 440.0L163.5 439.8L159.4 439.7L155.3 440.0Z" fill="#ed5915" stroke="#ed5915"/>
<path d="M167.6 439.8L171.7 439.8L167.6 439.7L163.5 439.8Z" fill="#ed5815" stroke="#ed5815"/>
<path d="M175.8 439.9L179.8 440.1L175.8 439.9L171.7 439.8Z" fill="#4b9535" stroke="#387028"/>
<path d="M183.9 440.2L188.0 440.6L183.9 440.4L179.8 440.1Z" fill="#499435" stroke="#376f28"/>
<path d="M192.1 440.8L196.2 441.3L192.1 441.1L188.0 440.6Z" fill="#469336" stroke="#356e29"/>
<path d="M200.3 441.5L204.3 442.2L200.2 442.0L196.2 441.3Z" fill="#429138" stroke="#326d2a"/>
<path d="M208.4 442.5L212.5 443.4L208.4 443.1L204.3 442.2Z" fill="#3d8e39" stroke="#2e6b2b"/>
<path d="M216.5 443.8L220.6 444.9L216.5 444.5L212.5 443.4Z" fill="#3c8e3b" stroke="#2d6a2d"/>
<path d="M272.5 458.9L276.3 461.2L272.3 460.4L268.5 458.2Z" fill="#398d40" stroke="#2b6a30"/>
<path d="M126.7 443.0L130.8 442.0L126.7 442.1L122.7 443.1Z" fill="#f28113" stroke="#c36e0f"/>
<path d="M224.6 445.3L228.6 446.5L224.6 446.1L220.6 444.9Z" fill="#3a8e3e" stroke="#2c6a2e"/>
<path d="M90.4 451.6L94.4 449.7L90.4 449.9L86.4 451.9Z" fill="#e2e519" stroke="#7c890e"/>
<path d="M98.4 449.4L102.4 447.6L98.4 447.9L94.4 449.7Z" fill="#f6e20e" stroke="#8f8f08"/>
<path d="M106.4 447.4L110.5 445.9L106.5 446.1L102.4 447.6Z" fill="#f7c70e" stroke="#9e8909"/>
<path d="M114.5 445.7L118.6 444.3L114.5 444.5L110.5 445.9Z" fill="#f5a211" stroke="#ab790c"/>
<path d="M236.8 447.4L240.7 448.9L236.7 448.4L232.7 447.0Z" fill="#398d40" stroke="#2b6a30"/>
<path d="M244.8 449.4L248.7 451.1L244.7 450.5L240.7 448.9Z" fill="#398d40" stroke="#2b6a30"/>
<path d="M252.8 451.6L256.7 453.4L252.7 452.8L248.7 451.1Z" fill="#398d40" stroke="#2b6a30"/>
<path d="M260.8 454.1L264.6 456.1L260.6 455.4L256.7 453.4Z" fill="#398d40" stroke="#2b6a30"/>
<path d="M74.4 456.7L78.4 454.4L74.4 454.7L70.5 457.0Z" fill="#abd22e" stroke="#5e7e19"/>
<path d="M82.4 454.0L86.4 451.9L82.4 452.2L78.4 454.4Z" fill="#c3da29" stroke="#6c8316"/>
<path d="M138.9 441.8L143.0 441.0L139.0 441.1L134.9 441.9Z" fill="#ef6714" stroke="#d05e11"/>
<path d="M147.1 441.0L151.2 440.4L147.1 440.4L143.0 441.0Z" fill="#ed5c14" stroke="#dc5a13"/>
<path d="M155.3 440.4L159.4 440.0L155.3 440.0L151.2 440.4Z" fill="#ec5515" stroke="#e95515"/>
<path d="M163.5 440.0L167.6 439.8L163.5 439.8L159.4 440.0Z" fill="#ec5115" stroke="#ec5115"/>
<path d="M171.7 439.9L175.8 439.9L171.7 439.8L167.6 439.8Z" fill="#ec5015" stroke="#ec5015"/>
<path d="M179.8 440.0L183.9 440.2L179.8 440.1L175.8 439.9Z" fill="#4d9734" stroke="#3a7127"/>
<path d="M188.0 440.4L192.1 440.8L188.0 440.6L183.9 440.2Z" fill="#4b9635" stroke="#387027"/>
<path d="M196.2 441.0L200.3 441.5L196.2 441.3L192.1 440.8Z" fill="#489436" stroke="#366f28"/>
<path d="M204.4 441.8L208.4 442.5L204.3 442.2L200.3 441.5Z" fill="#449237" stroke="#336d29"/>
<path d="M212.5 442.8L216.5 443.8L212.5 443.4L208.4 442.5Z" fill="#3f8f39" stroke="#2f6b2b"/>
<path d="M268.7 456.7L272.5 458.9L268.5 458.2L264.6 456.1Z" fill="#398d40" stroke="#2b6a30"/>
<path d="M276.5 459.6L280.3 461.9L276.3 461.2L272.5 458.9Z" fill="#398d40" stroke="#2b6a30"/>
<path d="M122.6 444.1L126.7 443.0L122.7 443.1L118.6 444.3Z" fill="#f38712" stroke="#b86d0e"/>
<path d="M130.8 442.9L134.9 441.9L130.8 442.0L126.7 443.0Z" fill="#f17513" stroke="#c46510"/>
<path d="M220.6 444.1L224.6 445.3L220.6 444.9L216.5 443.8Z" fill="#3c8e3b" stroke="#2d6a2c"/>
<path d="M228.7 445.7L232.7 447.0L228.6 446.5L224.6 445.3Z" fill="#3a8e3e" stroke="#2c6a2e"/>
<path d="M94.4 451.3L98.4 449.4L94.4 449.7L90.4 451.6Z" fill="#f0ea12" stroke="#848c0a"/>
<path d="M102.4 449.1L106.4 447.4L102.4 447.6L98.4 449.4Z" fill="#f7d50e" stroke="#918808"/>
<path d="M110.5 447.2L114.5 445.7L110.5 445.9L106.4 447.4Z" fill="#f6b310" stroke="#9f7d0a"/>
<path d="M240.8 447.9L244.8 449.4L240.7 448.9L236.8 447.4Z" fill="#398d40" stroke="#2b6a30"/>
<path d="M248.9 449.9L252.8 451.6L248.7 451.1L244.8 449.4Z" fill="#398d40" stroke="#2b6a30"/>
<path d="M256.9 452.2L260.8 454.1L256.7 453.4L252.8 451.6Z" fill="#398d40" stroke="#2b6a30"/>
<path d="M70.5 459.2L74.4 456.7L70.5 457.0L66.5 459.6Z" fill="#9ccc31" stroke="#567a1b"/>
<path d="M78.4 456.4L82.4 454.0L78.4 454.4L74.4 456.7Z" fill="#b5d52c" stroke="#648018"/>
<path d="M86.4 453.7L90.4 451.6L86.4 451.9L82.4 454.0Z" fill="#d0df24" stroke="#728614"/>
<path d="M143.0 441.7L147.1 441.0L143.0 441.0L138.9 441.8Z" fill="#ee5c14" stroke="#d15612"/>
<path d="M151.2 440.9L155.3 440.4L151.2 440.4L147.1 441.0Z" fill="#ec5315" stroke="#dd5114"/>
<path d="M159.4 440.4L163.5 440.0L159.4 440.0L155.3 440.4Z" fill="#eb4c16" stroke="#e94c15"/>
<path d="M167.6 440.1L171.7 439.9L167.6 439.8L163.5 440.0Z" fill="#eb4916" stroke="#eb4916"/>
<path d="M175.8 440.0L179.8 440.0L175.8 439.9L171.7 439.9Z" fill="#eb4916" stroke="#eb4916"/>
<path d="M183.9 440.2L188.0 440.4L183.9 440.2L179.8 440.0Z" fill="#4f9833" stroke="#3b7226"/>
<path d="M192.1 440.6L196.2 441.0L192.1 440.8L188.0 440.4Z" fill="#4d9734" stroke="#3a7127"/>
<path d="M200.3 441.2L204.4 441.8L200.3 441.5L196.2 441.0Z" fill="#4a9535" stroke="#377028"/>
<path d="M208.4 442.1L212.5 442.8L208.4 442.5L204.4 441.8Z" fill="#469337" stroke="#346e29"/>
<path d="M264.8 454.7L268.7 456.7L264.6 456.1L260.8 454.1Z" fill="#398d40" stroke="#2b6a30"/>
<path d="M272.7 457.4L276.5 459.6L272.5 458.9L268.7 456.7Z" fill="#398d40" stroke="#2b6a30"/>
<path d="M280.5 460.3L284.3 462.7L280.3 461.9L276.5 459.6Z" fill="#398d40" stroke="#2b6a30"/>
<path d="M118.6 445.5L122.6 444.1L118.6 444.3L114.5 445.7Z" fill="#f49012" stroke="#ac6d0d"/>
<path d="M126.7 444.0L130.8 442.9L126.7 443.0L122.6 444.1Z" fill="#f17b13" stroke="#b9640e"/>
<path d="M134.8 442.7L138.9 441.8L134.9 441.9L130.8 442.9Z" fill="#ef6a14" stroke="#c55c10"/>
<path d="M216.6 443.2L220.6 444.1L216.5 443.8L212.5 442.8Z" fill="#409038" stroke="#306c2a"/>
<path d="M224.7 444.5L228.7 445.7L224.6 445.3L220.6 444.1Z" fill="#3c8e3b" stroke="#2d6a2c"/>
<path d="M232.8 446.1L236.8 447.4L232.7 447.0L228.7 445.7Z" fill="#3b8e3d" stroke="#2c6a2e"/>
<path d="M98.4 451.1L102.4 449.1L98.4 449.4L94.4 451.3Z" fill="#f6e50e" stroke="#878908"/>
<path d="M106.4 448.9L110.5 447.2L106.4 447.4L102.4 449.1Z" fill="#f7c70e" stroke="#938008"/>
<path d="M244.9 448.4L248.9 449.9L244.8 449.4L240.8 447.9Z" fill="#398d40" stroke="#2b6a30"/>
<path d="M252.9 450.5L256.9 452.2L252.8 451.6L248.9 449.9Z" fill="#398d40" stroke="#2b6a30"/>
<path d="M66.6 461.9L70.5 459.2L66.5 459.6L62.7 462.3Z" fill="#8ac634" stroke="#4c771d"/>
<path d="M74.5 458.9L78.4 456.4L74.4 456.7L70.5 459.2Z" fill="#a6d02f" stroke="#5b7d1a"/>
<path d="M82.4 456.0L86.4 453.7L82.4 454.0L78.4 456.4Z" fill="#bfd92a" stroke="#698217"/>
<path d="M90.4 453.4L94.4 451.3L90.4 451.6L86.4 453.7Z" fill="#dee41c" stroke="#7a890f"/>
<path d="M147.1 441.6L151.2 440.9L147.1 441.0L143.0 441.7Z" fill="#ec5215" stroke="#d24d13"/>
<path d="M155.3 440.9L159.4 440.4L155.3 440.4L151.2 440.9Z" fill="#eb4a16" stroke="#de4915"/>
<path d="M163.5 440.4L167.6 440.1L163.5 440.0L159.4 440.4Z" fill="#ea4416" stroke="#ea4416"/>
<path d="M171.7 440.1L175.8 440.0L171.7 439.9L167.6 440.1Z" fill="#e94117" stroke="#e94117"/>
<path d="M179.8 440.1L183.9 440.2L179.8 440.0L175.8 440.0Z" fill="#e94217" stroke="#e94217"/>
<path d="M188.0 440.3L192.1 440.6L188.0 440.4L183.9 440.2Z" fill="#519932" stroke="#3d7326"/>
<path d="M196.2 440.7L200.3 441.2L196.2 441.0L192.1 440.6Z" fill="#4f9833" stroke="#3b7226"/>
<path d="M204.4 441.4L208.4 442.1L204.4 441.8L200.3 441.2Z" fill="#4c9634" stroke="#397027"/>
<path d="M260.9 452.8L264.8 454.7L260.8 454.1L256.9 452.2Z" fill="#398d40" stroke="#2b6a30"/>
<path d="M268.8 455.3L272.7 457.4L268.7 456.7L264.8 454.7Z" fill="#398d40" stroke="#2b6a30"/>
<path d="M276.7 458.1L280.5 460.3L276.5 459.6L272.7 457.4Z" fill="#398d40" stroke="#2b6a30"/>
<path d="M284.6 461.1L288.3 463.5L284.3 462.7L280.5 460.3Z" fill="#398d40" stroke="#2b6a30"/>
<path d="M114.5 447.0L118.6 445.5L114.5 445.7L110.5 447.2Z" fill="#f59f11" stroke="#a0700b"/>
<path d="M122.6 445.3L126.7 444.0L122.6 444.1L118.6 445.5Z" fill="#f28313" stroke="#ad640d"/>
<path d="M130.8 443.8L134.8 442.7L130.8 442.9L126.7 444.0Z" fill="#f06f13" stroke="#b95b0f"/>
<path d="M138.9 442.6L143.0 441.7L138.9 441.8L134.8 442.7Z" fill="#ee5e14" stroke="#c65311"/>
<path d="M212.5 442.3L216.6 443.2L212.5 442.8L208.4 442.1Z" fill="#479436" stroke="#356f28"/>
<path d="M220.7 443.5L224.7 444.5L220.6 444.1L216.6 443.2Z" fill="#429138" stroke="#316c2a"/>
<path d="M228.8 444.9L232.8 446.1L228.7 445.7L224.7 444.5Z" fill="#3d8e3a" stroke="#2d6b2c"/>
<path d="M236.9 446.5L240.8 447.9L236.8 447.4L232.8 446.1Z" fill="#3b8e3d" stroke="#2c6a2e"/>
<path d="M102.4 450.8L106.4 448.9L102.4 449.1L98.4 451.1Z" fill="#f7d70e" stroke="#888108"/>
<path d="M249.0 448.9L252.9 450.5L248.9 449.9L244.9 448.4Z" fill="#398d40" stroke="#2b6a30"/>
<path d="M62.7 464.8L66.6 461.9L62.7 462.3L58.8 465.2Z" fill="#79c037" stroke="#43731e"/>
<path d="M70.6 461.6L74.5 458.9L70.5 459.2L66.6 461.9Z" fill="#95ca32" stroke="#52791b"/>
<path d="M78.5 458.5L82.4 456.0L78.4 456.4L74.5 458.9Z" fill="#b0d42d" stroke="#617f19"/>
<path d="M86.4 455.7L90.4 453.4L86.4 453.7L82.4 456.0Z" fill="#cadd27" stroke="#6f8415"/>
<path d="M94.4 453.1L98.4 451.1L94.4 451.3L90.4 453.4Z" fill="#ece814" stroke="#828b0b"/>
<path d="M151.2 441.6L155.3 440.9L151.2 440.9L147.1 441.6Z" fill="#eb4916" stroke="#d24514"/>
<path d="M159.4 440.9L163.5 440.4L159.4 440.4L155.3 440.9Z" fill="#e94117" stroke="#de4116"/>
<path d="M167.6 440.4L171.7 440.1L167.6 440.1L163.5 440.4Z" fill="#e93c17" stroke="#e93c17"/>
<path d="M175.8 440.2L179.8 440.1L175.8 440.0L171.7 440.1Z" fill="#e83a17" stroke="#e83a17"/>
<path d="M183.9 440.2L188.0 440.3L183.9 440.2L179.8 440.1Z" fill="#e83b17" stroke="#e83b17"/>
<path d="M192.1 440.5L196.2 440.7L192.1 440.6L188.0 440.3Z" fill="#549a32" stroke="#3f7425"/>
<path d="M200.3 440.9L204.4 441.4L200.3 441.2L196.2 440.7Z" fill="#519933" stroke="#3d7326"/>
<path d="M257.0 451.0L260.9 452.8L256.9 452.2L252.9 450.5Z" fill="#398d40" stroke="#2b6a30"/>
<path d="M265.0 453.4L268.8 455.3L264.8 454.7L260.9 452.8Z" fill="#398d40" stroke="#2b6a30"/>
<path d="M272.9 456.0L276.7 458.1L272.7 457.4L268.8 455.3Z" fill="#398d40" stroke="#2b6a30"/>
<path d="M280.7 458.8L284.6 461.1L280.5 460.3L276.7 458.1Z" fill="#398d40" stroke="#2b6a30"/>
<path d="M288.6 461.9L292.3 464.3L288.3 463.5L284.6 461.1Z" fill="#398d40" stroke="#2b6a30"/>
<path d="M110.5 448.7L114.5 447.0L110.5 447.2L106.4 448.9Z" fill="#f6b310" stroke="#947509"/>
<path d="M118.6 446.8L122.6 445.3L118.6 445.5L114.5 447.0Z" fill="#f48e12" stroke="#a1650c"/>
<path d="M126.7 445.1L130.8 443.8L126.7 444.0L122.6 445.3Z" fill="#f17713" stroke="#ae5c0e"/>
<path d="M134.8 443.7L138.9 442.6L134.8 442.7L130.8 443.8Z" fill="#ef6314" stroke="#ba520f"/>
<path d="M143.0 442.5L147.1 441.6L143.0 441.7L138.9 442.6Z" fill="#ec5415" stroke="#c64b12"/>
<path d="M208.5 441.7L212.5 442.3L208.4 442.1L204.4 441.4Z" fill="#4d9734" stroke="#3a7127"/>
<path d="M216.6 442.6L220.7 443.5L216.6 443.2L212.5 442.3Z" fill="#499435" stroke="#376f28"/>
<path d="M224.8 443.8L228.8 444.9L224.7 444.5L220.7 443.5Z" fill="#439137" stroke="#326d2a"/>
<path d="M232.9 445.3L236.9 446.5L232.8 446.1L228.8 444.9Z" fill="#3d8e3a" stroke="#2e6b2b"/>
<path d="M240.9 447.0L244.9 448.4L240.8 447.9L236.9 446.5Z" fill="#3b8e3d" stroke="#2c6a2d"/>
<path d="M58.9 467.9L62.7 464.8L58.8 465.2L54.9 468.3Z" fill="#75bf3b" stroke="#407321"/>
<path d="M66.7 464.4L70.6 461.6L66.6 461.9L62.7 464.8Z" fill="#83c335" stroke="#48751d"/>
<path d="M74.5 461.2L78.5 458.5L74.5 458.9L70.6 461.6Z" fill="#a0ce30" stroke="#587b1a"/>
<path d="M82.5 458.2L86.4 455.7L82.4 456.0L78.5 458.5Z" fill="#bbd72b" stroke="#678117"/>
<path d="M90.4 455.4L94.4 453.1L90.4 453.4L86.4 455.7Z" fill="#d8e21f" stroke="#778711"/>
<path d="M98.4 452.8L102.4 450.8L98.4 451.1L94.4 453.1Z" fill="#f6e80e" stroke="#878b08"/>
<path d="M155.3 441.5L159.4 440.9L155.3 440.9L151.2 441.6Z" fill="#e94017" stroke="#d33d15"/>
<path d="M163.5 440.9L167.6 440.4L163.5 440.4L159.4 440.9Z" fill="#e83817" stroke="#df3817"/>
<path d="M171.7 440.4L175.8 440.2L171.7 440.1L167.6 440.4Z" fill="#e73418" stroke="#e73418"/>
<path d="M179.9 440.3L183.9 440.2L179.8 440.1L175.8 440.2Z" fill="#e73318" stroke="#e73318"/>
<path d="M188.0 440.3L192.1 440.5L188.0 440.3L183.9 440.2Z" fill="#e73418" stroke="#e73418"/>
<path d="M196.2 440.6L200.3 440.9L196.2 440.7L192.1 440.5Z" fill="#569b31" stroke="#407425"/>
<path d="M253.1 449.4L257.0 451.0L252.9 450.5L249.0 448.9Z" fill="#398d3f" stroke="#2b6a30"/>
<path d="M261.1 451.6L265.0 453.4L260.9 452.8L257.0 451.0Z" fill="#398d40" stroke="#2b6a30"/>
<path d="M269.0 454.0L272.9 456.0L268.8 455.3L265.0 453.4Z" fill="#398d40" stroke="#2b6a30"/>
<path d="M276.9 456.7L280.7 458.8L276.7 458.1L272.9 456.0Z" fill="#398d40" stroke="#2b6a30"/>
<path d="M284.8 459.5L288.6 461.9L284.6 461.1L280.7 458.8Z" fill="#398d40" stroke="#2b6a30"/>
<path d="M292.6 462.6L296.3 465.1L292.3 464.3L288.6 461.9Z" fill="#398d40" stroke="#2b6a30"/>
<path d="M106.5 450.5L110.5 448.7L106.4 448.9L102.4 450.8Z" fill="#f7c90e" stroke="#887908"/>
<path d="M114.5 448.4L118.6 446.8L114.5 447.0L110.5 448.7Z" fill="#f59f11" stroke="#95690a"/>
<path d="M122.6 446.6L126.7 445.1L122.6 445.3L118.6 446.8Z" fill="#f28113" stroke="#a25d0c"/>
<path d="M130.8 445.0L134.8 443.7L130.8 443.8L126.7 445.1Z" fill="#ef6a14" stroke="#af530e"/>
<path d="M138.9 443.6L143.0 442.5L138.9 442.6L134.8 443.7Z" fill="#ed5815" stroke="#bb4a10"/>
<path d="M147.1 442.4L151.2 441.6L147.1 441.6L143.0 442.5Z" fill="#eb4b16" stroke="#c74312"/>
<path d="M204.4 441.2L208.5 441.7L204.4 441.4L200.3 440.9Z" fill="#539a32" stroke="#3e7325"/>
<path d="M212.6 441.9L216.6 442.6L212.5 442.3L208.5 441.7Z" fill="#4f9833" stroke="#3b7226"/>
<path d="M220.7 442.9L224.8 443.8L220.7 443.5L216.6 442.6Z" fill="#4a9535" stroke="#387028"/>
<path d="M228.9 444.2L232.9 445.3L228.8 444.9L224.8 443.8Z" fill="#449237" stroke="#336d29"/>
<path d="M237.0 445.7L240.9 447.0L236.9 446.5L232.9 445.3Z" fill="#3d8e39" stroke="#2e6b2b"/>
<path d="M245.0 447.4L249.0 448.9L244.9 448.4L240.9 447.0Z" fill="#3b8e3c" stroke="#2c6a2d"/>
<path d="M62.8 467.5L66.7 464.4L62.7 464.8L58.9 467.9Z" fill="#78c039" stroke="#42731f"/>
<path d="M70.6 464.0L74.5 461.2L70.6 461.6L66.7 464.4Z" fill="#8ec733" stroke="#4e771c"/>
<path d="M78.5 460.8L82.5 458.2L78.5 458.5L74.5 461.2Z" fill="#aad12e" stroke="#5e7e19"/>
<path d="M86.4 457.8L90.4 455.4L86.4 455.7L82.5 458.2Z" fill="#c5db29" stroke="#6c8316"/>
<path d="M94.4 455.1L98.4 452.8L94.4 453.1L90.4 455.4Z" fill="#e7e717" stroke="#7f8a0c"/>
<path d="M159.4 441.5L163.5 440.9L159.4 440.9L155.3 441.5Z" fill="#e83718" stroke="#d43515"/>
<path d="M167.5 440.9L171.7 440.4L167.6 440.4L163.5 440.9Z" fill="#e73118" stroke="#e03117"/>
<path d="M175.8 440.5L179.9 440.3L175.8 440.2L171.7 440.4Z" fill="#e73018" stroke="#e73018"/>
<path d="M184.0 440.3L188.0 440.3L183.9 440.2L179.9 440.3Z" fill="#e73018" stroke="#e73018"/>
<path d="M192.2 440.4L196.2 440.6L192.1 440.5L188.0 440.3Z" fill="#5a9d30" stroke="#437624"/>
<path d="M257.1 449.9L261.1 451.6L257.0 451.0L253.1 449.4Z" fill="#398d3f" stroke="#2b6a2f"/>
<path d="M265.1 452.2L269.0 454.0L265.0 453.4L261.1 451.6Z" fill="#398d40" stroke="#2b6a30"/>
<path d="M273.1 454.6L276.9 456.7L272.9 456.0L269.0 454.0Z" fill="#398d40" stroke="#2b6a30"/>
<path d="M281.0 457.4L284.8 459.5L280.7 458.8L276.9 456.7Z" fill="#398d40" stroke="#2b6a30"/>
<path d="M288.8 460.3L292.6 462.6L288.6 461.9L284.8 459.5Z" fill="#398d40" stroke="#2b6a30"/>
<path d="M110.5 450.2L114.5 448.4L110.5 448.7L106.5 450.5Z" fill="#f6b50f" stroke="#896e09"/>
<path d="M118.6 448.2L122.6 446.6L118.6 446.8L114.5 448.4Z" fill="#f48d12" stroke="#965e0b"/>
<path d="M126.7 446.4L130.8 445.0L126.7 445.1L122.6 446.6Z" fill="#f17413" stroke="#a3540d"/>
<path d="M134.8 444.8L138.9 443.6L134.8 443.7L130.8 445.0Z" fill="#ee5f14" stroke="#af4a0f"/>
<path d="M143.0 443.4L147.1 442.4L143.0 442.5L138.9 443.6Z" fill="#eb4e15" stroke="#bb4211"/>
<path d="M151.2 442.3L155.3 441.5L151.2 441.6L147.1 442.4Z" fill="#e94117" stroke="#c73b13"/>
<path d="M200.3 440.8L204.4 441.2L200.3 440.9L196.2 440.6Z" fill="#589c30" stroke="#427524"/>
<path d="M208.5 441.4L212.6 441.9L208.5 441.7L204.4 441.2Z" fill="#559b31" stroke="#407425"/>
<path d="M216.7 442.2L220.7 442.9L216.6 442.6L212.6 441.9Z" fill="#519933" stroke="#3d7226"/>
<path d="M224.8 443.3L228.9 444.2L224.8 443.8L220.7 442.9Z" fill="#4c9634" stroke="#397027"/>
<path d="M233.0 444.6L237.0 445.7L232.9 445.3L228.9 444.2Z" fill="#459337" stroke="#346e29"/>
<path d="M241.0 446.1L245.0 447.4L240.9 447.0L237.0 445.7Z" fill="#3e8f39" stroke="#2f6b2b"/>
<path d="M102.4 452.5L106.5 450.5L102.4 450.8L98.4 452.8Z" fill="#f6da0e" stroke="#888308"/>
<path d="M249.1 447.9L253.1 449.4L249.0 448.9L245.0 447.4Z" fill="#3b8e3c" stroke="#2d6a2d"/>
<path d="M66.8 467.0L70.6 464.0L66.7 464.4L62.8 467.5Z" fill="#7ac037" stroke="#43731e"/>
<path d="M74.6 463.6L78.5 460.8L74.5 461.2L70.6 464.0Z" fill="#98cb31" stroke="#547a1b"/>
<path d="M82.5 460.4L86.4 457.8L82.5 458.2L78.5 460.8Z" fill="#b5d52c" stroke="#638018"/>
<path d="M90.4 457.5L94.4 455.1L90.4 455.4L86.4 457.8Z" fill="#d2df23" stroke="#738613"/>
<path d="M163.4 441.4L167.5 440.9L163.5 440.9L159.4 441.5Z" fill="#e73118" stroke="#d52f16"/>
<path d="M171.7 440.9L175.8 440.5L171.7 440.4L167.5 440.9Z" fill="#e72e18" stroke="#e22e18"/>
<path d="M179.9 440.5L184.0 440.3L179.9 440.3L175.8 440.5Z" fill="#e62d18" stroke="#e62d18"/>
<path d="M188.1 440.4L192.2 440.4L188.0 440.3L184.0 440.3Z" fill="#e62d18" stroke="#e62d18"/>
<path d="M261.2 450.5L265.1 452.2L261.1 451.6L257.1 449.9Z" fill="#398d3f" stroke="#2b6a2f"/>
<path d="M269.2 452.8L273.1 454.6L269.0 454.0L265.1 452.2Z" fill="#398d40" stroke="#2b6a30"/>
<path d="M277.1 455.3L281.0 457.4L276.9 456.7L273.1 454.6Z" fill="#398d40" stroke="#2b6a30"/>
<path d="M285.0 458.1L288.8 460.3L284.8 459.5L281.0 457.4Z" fill="#398d40" stroke="#2b6a30"/>
<path d="M114.5 450.0L118.6 448.2L114.5 448.4L110.5 450.2Z" fill="#f5a011" stroke="#8a620a"/>
<path d="M122.6 448.0L126.7 446.4L122.6 446.6L118.6 448.2Z" fill="#f28013" stroke="#97560c"/>
<path d="M130.8 446.2L134.8 444.8L130.8 445.0L126.7 446.4Z" fill="#ef6814" stroke="#a44c0d"/>
<path d="M138.9 444.6L143.0 443.4L138.9 443.6L134.8 444.8Z" fill="#ec5415" stroke="#b04310"/>
<path d="M147.1 443.3L151.2 442.3L147.1 442.4L143.0 443.4Z" fill="#ea4416" stroke="#bc3a12"/>
<path d="M155.3 442.3L159.4 441.5L155.3 441.5L151.2 442.3Z" fill="#e83817" stroke="#c83314"/>
<path d="M196.3 440.6L200.3 440.8L196.2 440.6L192.2 440.4Z" fill="#5c9e2f" stroke="#457723"/>
<path d="M204.4 441.0L208.5 441.4L204.4 441.2L200.3 440.8Z" fill="#5a9d30" stroke="#437624"/>
<path d="M212.6 441.6L216.7 442.2L212.6 441.9L208.5 441.4Z" fill="#579c31" stroke="#417524"/>
<path d="M220.8 442.5L224.8 443.3L220.7 442.9L216.7 442.2Z" fill="#529932" stroke="#3e7326"/>
<path d="M228.9 443.6L233.0 444.6L228.9 444.2L224.8 443.3Z" fill="#4d9734" stroke="#3a7127"/>
<path d="M237.0 445.0L241.0 446.1L237.0 445.7L233.0 444.6Z" fill="#469336" stroke="#356e29"/>
<path d="M98.4 454.7L102.4 452.5L98.4 452.8L94.4 455.1Z" fill="#f5ec0f" stroke="#878d08"/>
<path d="M106.5 452.3L110.5 450.2L106.5 450.5L102.4 452.5Z" fill="#f7cc0e" stroke="#887a08"/>
<path d="M245.1 446.6L249.1 447.9L245.0 447.4L241.0 446.1Z" fill="#3f8f39" stroke="#2f6b2b"/>
<path d="M253.2 448.4L257.1 449.9L253.1 449.4L249.1 447.9Z" fill="#3c8e3c" stroke="#2d6a2d"/>
<path d="M70.7 466.6L74.6 463.6L70.6 464.0L66.8 467.0Z" fill="#85c435" stroke="#49761d"/>
<path d="M78.6 463.2L82.5 460.4L78.5 460.8L74.6 463.6Z" fill="#a3cf2f" stroke="#5a7c1a"/>
<path d="M86.5 460.1L90.4 457.5L86.4 457.8L82.5 460.4Z" fill="#bfd92a" stroke="#698217"/>
<path d="M167.5 441.4L171.7 440.9L167.5 440.9L163.4 441.4Z" fill="#e62e18" stroke="#d62d17"/>
<path d="M175.8 440.9L179.9 440.5L175.8 440.5L171.7 440.9Z" fill="#e62c19" stroke="#e32c18"/>
<path d="M184.0 440.6L188.1 440.4L184.0 440.3L179.9 440.5Z" fill="#e62b19" stroke="#e62b19"/>
<path d="M265.3 451.0L269.2 452.8L265.1 452.2L261.2 450.5Z" fill="#3a8d3f" stroke="#2b6a2f"/>
<path d="M273.2 453.4L277.1 455.3L273.1 454.6L269.2 452.8Z" fill="#398d40" stroke="#2b6a30"/>
<path d="M281.2 456.0L285.0 458.1L281.0 457.4L277.1 455.3Z" fill="#398d40" stroke="#2b6a30"/>
<path d="M118.6 449.7L122.6 448.0L118.6 448.2L114.5 450.0Z" fill="#f48e12" stroke="#8b580a"/>
<path d="M126.7 447.8L130.8 446.2L126.7 446.4L122.6 448.0Z" fill="#f07313" stroke="#984e0c"/>
<path d="M134.8 446.0L138.9 444.6L134.8 444.8L130.8 446.2Z" fill="#ed5c14" stroke="#a4440e"/>
<path d="M143.0 444.5L147.1 443.3L143.0 443.4L138.9 444.6Z" fill="#eb4916" stroke="#b13b10"/>
<path d="M151.2 443.2L155.3 442.3L151.2 442.3L147.1 443.3Z" fill="#e83a17" stroke="#bd3213"/>
<path d="M159.3 442.2L163.4 441.4L159.4 441.5L155.3 442.3Z" fill="#e73118" stroke="#c92d15"/>
<path d="M192.2 440.5L196.3 440.6L192.2 440.4L188.1 440.4Z" fill="#e62b19" stroke="#e62b19"/>
<path d="M200.4 440.7L204.4 441.0L200.3 440.8L196.3 440.6Z" fill="#5ea02e" stroke="#467823"/>
<path d="M208.6 441.2L212.6 441.6L208.5 441.4L204.4 441.0Z" fill="#5c9e2f" stroke="#457723"/>
<path d="M216.7 441.9L220.8 442.5L216.7 442.2L212.6 441.6Z" fill="#589d30" stroke="#427524"/>
<path d="M224.9 442.8L228.9 443.6L224.8 443.3L220.8 442.5Z" fill="#549a32" stroke="#3f7425"/>
<path d="M233.0 443.9L237.0 445.0L233.0 444.6L228.9 443.6Z" fill="#4e9734" stroke="#3b7127"/>
<path d="M94.5 457.1L98.4 454.7L94.4 455.1L90.4 457.5Z" fill="#e0e41a" stroke="#7b890f"/>
<path d="M102.5 454.4L106.5 452.3L102.4 452.5L98.4 454.7Z" fill="#f6df0e" stroke="#878608"/>
<path d="M110.5 452.0L114.5 450.0L110.5 450.2L106.5 452.3Z" fill="#f6b90f" stroke="#876f08"/>
<path d="M241.1 445.4L245.1 446.6L241.0 446.1L237.0 445.0Z" fill="#479436" stroke="#366f28"/>
<path d="M249.2 447.0L253.2 448.4L249.1 447.9L245.1 446.6Z" fill="#409039" stroke="#306c2a"/>
<path d="M257.3 448.9L261.2 450.5L257.1 449.9L253.2 448.4Z" fill="#3c8e3c" stroke="#2d6a2d"/>
<path d="M74.7 466.2L78.6 463.2L74.6 463.6L70.7 466.6Z" fill="#90c833" stroke="#4f781c"/>
<path d="M82.6 462.9L86.5 460.1L82.5 460.4L78.6 463.2Z" fill="#aed32d" stroke="#5f7e19"/>
<path d="M171.7 441.4L175.8 440.9L171.7 440.9L167.5 441.4Z" fill="#e62b19" stroke="#d82a17"/>
<path d="M179.9 440.9L184.0 440.6L179.9 440.5L175.8 440.9Z" fill="#e62919" stroke="#e52919"/>
<path d="M269.3 451.6L273.2 453.4L269.2 452.8L265.3 451.0Z" fill="#3a8d3f" stroke="#2b6a2f"/>
<path d="M277.3 454.0L281.2 456.0L277.1 455.3L273.2 453.4Z" fill="#398d40" stroke="#2b6a30"/>
<path d="M122.6 449.5L126.7 447.8L122.6 448.0L118.6 449.7Z" fill="#f28113" stroke="#8c510b"/>
<path d="M130.8 447.5L134.8 446.0L130.8 446.2L126.7 447.8Z" fill="#ef6614" stroke="#99460d"/>
<path d="M138.9 445.8L143.0 444.5L138.9 444.6L134.8 446.0Z" fill="#ec5115" stroke="#a53d0f"/>
<path d="M147.1 444.4L151.2 443.2L147.1 443.3L143.0 444.5Z" fill="#e93f17" stroke="#b13311"/>
<path d="M155.3 443.1L159.3 442.2L155.3 442.3L151.2 443.2Z" fill="#e73218" stroke="#bd2b14"/>
<path d="M163.4 442.1L167.5 441.4L163.4 441.4L159.3 442.2Z" fill="#e62e18" stroke="#cb2a15"/>
<path d="M188.1 440.7L192.2 440.5L188.1 440.4L184.0 440.6Z" fill="#e62819" stroke="#e62819"/>
<path d="M196.3 440.7L200.4 440.7L196.3 440.6L192.2 440.5Z" fill="#e62919" stroke="#e62919"/>
<path d="M204.5 440.9L208.6 441.2L204.4 441.0L200.4 440.7Z" fill="#60a12d" stroke="#487922"/>
<path d="M212.7 441.4L216.7 441.9L212.6 441.6L208.6 441.2Z" fill="#5d9f2e" stroke="#467723"/>
<path d="M220.8 442.1L224.9 442.8L220.8 442.5L216.7 441.9Z" fill="#5a9d30" stroke="#437624"/>
<path d="M229.0 443.1L233.0 443.9L228.9 443.6L224.9 442.8Z" fill="#559b31" stroke="#407425"/>
<path d="M90.5 459.7L94.5 457.1L90.4 457.5L86.5 460.1Z" fill="#c9dc27" stroke="#6f8416"/>
<path d="M98.5 456.8L102.5 454.4L98.4 454.7L94.5 457.1Z" fill="#eee912" stroke="#838c0a"/>
<path d="M106.5 454.1L110.5 452.0L106.5 452.3L102.5 454.4Z" fill="#f7d10e" stroke="#887d08"/>
<path d="M114.5 451.7L118.6 449.7L114.5 450.0L110.5 452.0Z" fill="#f5a511" stroke="#876309"/>
<path d="M237.1 444.3L241.1 445.4L237.0 445.0L233.0 443.9Z" fill="#4f9833" stroke="#3b7226"/>
<path d="M245.2 445.8L249.2 447.0L245.1 446.6L241.1 445.4Z" fill="#489436" stroke="#366f28"/>
<path d="M253.3 447.5L257.3 448.9L253.2 448.4L249.2 447.0Z" fill="#419038" stroke="#306c2a"/>
<path d="M261.3 449.4L265.3 451.0L261.2 450.5L257.3 448.9Z" fill="#3c8e3b" stroke="#2d6a2d"/>
<path d="M78.6 465.8L82.6 462.9L78.6 463.2L74.7 466.2Z" fill="#9bcc31" stroke="#557a1b"/>
<path d="M175.8 441.4L179.9 440.9L175.8 440.9L171.7 441.4Z" fill="#e62819" stroke="#d92818"/>
<path d="M273.4 452.2L277.3 454.0L273.2 453.4L269.3 451.6Z" fill="#3a8d3f" stroke="#2b6a2f"/>
<path d="M126.7 449.3L130.8 447.5L126.7 447.8L122.6 449.5Z" fill="#f07313" stroke="#8d490b"/>
<path d="M134.8 447.3L138.9 445.8L134.8 446.0L130.8 447.5Z" fill="#ed5a14" stroke="#993f0d"/>
<path d="M143.0 445.7L147.1 444.4L143.0 444.5L138.9 445.8Z" fill="#ea4616" stroke="#a63510"/>
<path d="M151.2 444.2L155.3 443.1L151.2 443.2L147.1 444.4Z" fill="#e83518" stroke="#b22c12"/>
<path d="M159.3 443.0L163.4 442.1L159.3 442.2L155.3 443.1Z" fill="#e72e18" stroke="#bf2914"/>
<path d="M167.6 442.1L171.7 441.4L167.5 441.4L163.4 442.1Z" fill="#e62a19" stroke="#cc2816"/>
<path d="M184.0 440.9L188.1 440.7L184.0 440.6L179.9 440.9Z" fill="#e62619" stroke="#e62619"/>
<path d="M192.2 440.7L196.3 440.7L192.2 440.5L188.1 440.7Z" fill="#e52619" stroke="#e52619"/>
<path d="M200.4 440.8L204.5 440.9L200.4 440.7L196.3 440.7Z" fill="#e62619" stroke="#e62619"/>
<path d="M208.6 441.1L212.7 441.4L208.6 441.2L204.5 440.9Z" fill="#62a22d" stroke="#497922"/>
<path d="M216.8 441.6L220.8 442.1L216.7 441.9L212.7 441.4Z" fill="#5fa02e" stroke="#477822"/>
<path d="M225.0 442.4L229.0 443.1L224.9 442.8L220.8 442.1Z" fill="#5b9e2f" stroke="#457723"/>
<path d="M86.5 462.5L90.5 459.7L86.5 460.1L82.6 462.9Z" fill="#b8d62b" stroke="#658118"/>
<path d="M94.5 459.4L98.5 456.8L94.5 457.1L90.5 459.7Z" fill="#d8e21f" stroke="#778711"/>
<path d="M102.5 456.5L106.5 454.1L102.5 454.4L98.5 456.8Z" fill="#f6e50e" stroke="#878a08"/>
<path d="M110.5 453.8L114.5 451.7L110.5 452.0L106.5 454.1Z" fill="#f7c00f" stroke="#887308"/>
<path d="M118.6 451.4L122.6 449.5L118.6 449.7L114.5 451.7Z" fill="#f49012" stroke="#86570a"/>
<path d="M233.1 443.4L237.1 444.3L233.0 443.9L229.0 443.1Z" fill="#569c31" stroke="#417525"/>
<path d="M241.2 444.7L245.2 445.8L241.1 445.4L237.1 444.3Z" fill="#509833" stroke="#3c7226"/>
<path d="M249.3 446.2L253.3 447.5L249.2 447.0L245.2 445.8Z" fill="#499535" stroke="#376f28"/>
<path d="M257.4 447.9L261.3 449.4L257.3 448.9L253.3 447.5Z" fill="#419038" stroke="#316c2a"/>
<path d="M265.4 449.9L269.3 451.6L265.3 451.0L261.3 449.4Z" fill="#3c8e3b" stroke="#2d6a2c"/>
<path d="M130.8 449.0L134.8 447.3L130.8 447.5L126.7 449.3Z" fill="#ef6614" stroke="#8d420c"/>
<path d="M138.9 447.1L143.0 445.7L138.9 445.8L134.8 447.3Z" fill="#ec4f15" stroke="#9a380e"/>
<path d="M147.1 445.5L151.2 444.2L147.1 444.4L143.0 445.7Z" fill="#e93c17" stroke="#a62e11"/>
<path d="M155.3 444.1L159.3 443.0L155.3 443.1L151.2 444.2Z" fill="#e73018" stroke="#b32713"/>
<path d="M163.5 442.9L167.6 442.1L163.4 442.1L159.3 443.0Z" fill="#e62b19" stroke="#c02615"/>
<path d="M171.7 442.0L175.8 441.4L171.7 441.4L167.6 442.1Z" fill="#e62719" stroke="#ce2516"/>
<path d="M179.9 441.4L184.0 440.9L179.9 440.9L175.8 441.4Z" fill="#e52519" stroke="#db2518"/>
<path d="M188.1 441.0L192.2 440.7L188.1 440.7L184.0 440.9Z" fill="#e52419" stroke="#e52419"/>
<path d="M196.3 440.8L200.4 440.8L196.3 440.7L192.2 440.7Z" fill="#e52319" stroke="#e52319"/>
<path d="M204.5 440.9L208.6 441.1L204.5 440.9L200.4 440.8Z" fill="#e52419" stroke="#e52419"/>
<path d="M212.7 441.3L216.8 441.6L212.7 441.4L208.6 441.1Z" fill="#64a32c" stroke="#4b7a21"/>
<path d="M220.9 441.8L225.0 442.4L220.8 442.1L216.8 441.6Z" fill="#61a12d" stroke="#497922"/>
<path d="M82.6 465.4L86.5 462.5L82.6 462.9L78.6 465.8Z" fill="#a6d02f" stroke="#5b7d1a"/>
<path d="M90.5 462.1L94.5 459.4L90.5 459.7L86.5 462.5Z" fill="#c2da29" stroke="#6b8317"/>
<path d="M98.5 459.0L102.5 456.5L98.5 456.8L94.5 459.4Z" fill="#e6e717" stroke="#7f8a0d"/>
<path d="M106.5 456.1L110.5 453.8L106.5 454.1L102.5 456.5Z" fill="#f7d70e" stroke="#888108"/>
<path d="M114.6 453.5L118.6 451.4L114.5 451.7L110.5 453.8Z" fill="#f5ab10" stroke="#876709"/>
<path d="M122.7 451.2L126.7 449.3L122.6 449.5L118.6 451.4Z" fill="#f28313" stroke="#854e0a"/>
<path d="M229.1 442.7L233.1 443.4L229.0 443.1L225.0 442.4Z" fill="#5d9f2e" stroke="#467723"/>
<path d="M237.2 443.7L241.2 444.7L237.1 444.3L233.1 443.4Z" fill="#589c30" stroke="#427524"/>
<path d="M245.3 445.1L249.3 446.2L245.2 445.8L241.2 444.7Z" fill="#519932" stroke="#3d7326"/>
<path d="M253.4 446.6L257.4 447.9L253.3 447.5L249.3 446.2Z" fill="#4a9535" stroke="#387028"/>
<path d="M261.5 448.4L265.4 449.9L261.3 449.4L257.4 447.9Z" fill="#429138" stroke="#316c2a"/>
<path d="M269.5 450.5L273.4 452.2L269.3 451.6L265.4 449.9Z" fill="#3c8e3b" stroke="#2d6a2c"/>
<path d="M134.8 448.8L138.9 447.1L134.8 447.3L130.8 449.0Z" fill="#ed5a14" stroke="#8e3a0c"/>
<path d="M143.0 446.9L147.1 445.5L143.0 445.7L138.9 447.1Z" fill="#ea4416" stroke="#9b310f"/>
<path d="M151.2 445.3L155.3 444.1L151.2 444.2L147.1 445.5Z" fill="#e73218" stroke="#a72711"/>
<path d="M159.4 444.0L163.5 442.9L159.3 443.0L155.3 444.1Z" fill="#e62c18" stroke="#b52513"/>
<path d="M167.6 442.9L171.7 442.0L167.6 442.1L163.5 442.9Z" fill="#e62819" stroke="#c22415"/>
<path d="M184.0 441.4L188.1 441.0L184.0 440.9L179.9 441.4Z" fill="#e52219" stroke="#dd2218"/>
<path d="M192.2 441.0L196.3 440.8L192.2 440.7L188.1 441.0Z" fill="#e52119" stroke="#e52119"/>
<path d="M200.4 440.9L204.5 440.9L200.4 440.8L196.3 440.8Z" fill="#e52119" stroke="#e52119"/>
<path d="M208.6 441.1L212.7 441.3L208.6 441.1L204.5 440.9Z" fill="#6aa626" stroke="#4f7c1d"/>
<path d="M216.8 441.5L220.9 441.8L216.8 441.6L212.7 441.3Z" fill="#67a429" stroke="#4d7b1f"/>
<path d="M86.6 465.0L90.5 462.1L86.5 462.5L82.6 465.4Z" fill="#b0d32d" stroke="#617f19"/>
<path d="M94.5 461.7L98.5 459.0L94.5 459.4L90.5 462.1Z" fill="#cede24" stroke="#728514"/>
<path d="M102.5 458.6L106.5 456.1L102.5 456.5L98.5 459.0Z" fill="#f5ec0f" stroke="#878d08"/>
<path d="M110.6 455.8L114.6 453.5L110.5 453.8L106.5 456.1Z" fill="#f7c90e" stroke="#887808"/>
<path d="M118.6 453.2L122.7 451.2L118.6 451.4L114.6 453.5Z" fill="#f49612" stroke="#865a0a"/>
<path d="M126.7 450.9L130.8 449.0L126.7 449.3L122.7 451.2Z" fill="#f17513" stroke="#84460b"/>
<path d="M175.8 442.0L179.9 441.4L175.8 441.4L171.7 442.0Z" fill="#e52419" stroke="#cf2317"/>
<path d="M225.0 442.1L229.1 442.7L225.0 442.4L220.9 441.8Z" fill="#63a22d" stroke="#4a7a21"/>
<path d="M233.2 443.0L237.2 443.7L233.1 443.4L229.1 442.7Z" fill="#5ea02e" stroke="#477822"/>
<path d="M241.3 444.1L245.3 445.1L241.2 444.7L237.2 443.7Z" fill="#599d30" stroke="#437624"/>
<path d="M249.4 445.5L253.4 446.6L249.3 446.2L245.3 445.1Z" fill="#529932" stroke="#3e7326"/>
<path d="M257.5 447.1L261.5 448.4L257.4 447.9L253.4 446.6Z" fill="#4b9535" stroke="#387028"/>
<path d="M265.6 449.0L269.5 450.5L265.4 449.9L261.5 448.4Z" fill="#429138" stroke="#326d2a"/>
<path d="M138.9 448.6L143.0 446.9L138.9 447.1L134.8 448.8Z" fill="#eb4f15" stroke="#8f340d"/>
<path d="M147.1 446.8L151.2 445.3L147.1 445.5L143.0 446.9Z" fill="#e83a17" stroke="#9b2910"/>
<path d="M155.3 445.2L159.4 444.0L155.3 444.1L151.2 445.3Z" fill="#e72e18" stroke="#a92412"/>
<path d="M163.5 443.9L167.6 442.9L163.5 442.9L159.4 444.0Z" fill="#e62919" stroke="#b62214"/>
<path d="M188.1 441.4L192.2 441.0L188.1 441.0L184.0 441.4Z" fill="#e51f1a" stroke="#de1f19"/>
<path d="M196.3 441.1L200.4 440.9L196.3 440.8L192.2 441.0Z" fill="#e51f1a" stroke="#e51f1a"/>
<path d="M204.5 441.0L208.6 441.1L204.5 440.9L200.4 440.9Z" fill="#e51f1a" stroke="#e51f1a"/>
<path d="M212.8 441.2L216.8 441.5L212.7 441.3L208.6 441.1Z" fill="#6da723" stroke="#517d1a"/>
<path d="M90.6 464.6L94.5 461.7L90.5 462.1L86.6 465.0Z" fill="#bbd72b" stroke="#678117"/>
<path d="M98.6 461.3L102.5 458.6L98.5 459.0L94.5 461.7Z" fill="#dde31c" stroke="#7a880f"/>
<path d="M106.6 458.3L110.6 455.8L106.5 456.1L102.5 458.6Z" fill="#f6df0e" stroke="#888608"/>
<path d="M114.6 455.5L118.6 453.2L114.6 453.5L110.6 455.8Z" fill="#f6b40f" stroke="#876c09"/>
<path d="M122.7 452.9L126.7 450.9L122.7 451.2L118.6 453.2Z" fill="#f38712" stroke="#86510a"/>
<path d="M130.8 450.6L134.8 448.8L130.8 449.0L126.7 450.9Z" fill="#ef6814" stroke="#843e0b"/>
<path d="M171.7 442.8L175.8 442.0L171.7 442.0L167.6 442.9Z" fill="#e52519" stroke="#c42115"/>
<path d="M179.9 442.0L184.0 441.4L179.9 441.4L175.8 442.0Z" fill="#e52219" stroke="#d12017"/>
<path d="M220.9 441.7L225.0 442.1L220.9 441.8L216.8 441.5Z" fill="#69a527" stroke="#4f7c1d"/>
<path d="M229.1 442.3L233.2 443.0L229.1 442.7L225.0 442.1Z" fill="#64a32c" stroke="#4b7a21"/>
<path d="M237.3 443.3L241.3 444.1L237.2 443.7L233.2 443.0Z" fill="#60a02e" stroke="#487822"/>
<path d="M245.4 444.5L249.4 445.5L245.3 445.1L241.3 444.1Z" fill="#5a9d2f" stroke="#447624"/>
<path d="M253.5 445.9L257.5 447.1L253.4 446.6L249.4 445.5Z" fill="#539a32" stroke="#3f7325"/>
<path d="M261.6 447.6L265.6 449.0L261.5 448.4L257.5 447.1Z" fill="#4c9634" stroke="#397027"/>
<path d="M143.0 448.4L147.1 446.8L143.0 446.9L138.9 448.6Z" fill="#ea4416" stroke="#902d0e"/>
<path d="M151.2 446.6L155.3 445.2L151.2 445.3L147.1 446.8Z" fill="#e73118" stroke="#9c2410"/>
<path d="M159.4 445.1L163.5 443.9L159.4 444.0L155.3 445.2Z" fill="#e62b19" stroke="#aa2212"/>
<path d="M192.2 441.5L196.3 441.1L192.2 441.0L188.1 441.4Z" fill="#e41d1a" stroke="#e01d19"/>
<path d="M200.4 441.2L204.5 441.0L200.4 440.9L196.3 441.1Z" fill="#e41c1a" stroke="#e41c1a"/>
<path d="M208.7 441.2L212.8 441.2L208.6 441.1L204.5 441.0Z" fill="#e41d1a" stroke="#e41d1a"/>
<path d="M94.6 464.2L98.6 461.3L94.5 461.7L90.6 464.6Z" fill="#c5db29" stroke="#6c8316"/>
<path d="M102.6 461.0L106.6 458.3L102.5 458.6L98.6 461.3Z" fill="#ece814" stroke="#828b0b"/>
<path d="M110.6 458.0L114.6 455.5L110.6 455.8L106.6 458.3Z" fill="#f7d00e" stroke="#887d08"/>
<path d="M118.6 455.2L122.7 452.9L118.6 453.2L114.6 455.5Z" fill="#f59f11" stroke="#875f09"/>
<path d="M126.7 452.7L130.8 450.6L126.7 450.9L122.7 452.9Z" fill="#f17913" stroke="#85490a"/>
<path d="M134.9 450.4L138.9 448.6L134.8 448.8L130.8 450.6Z" fill="#ed5c14" stroke="#83370b"/>
<path d="M167.6 443.8L171.7 442.8L167.6 442.9L163.5 443.9Z" fill="#e52619" stroke="#b82014"/>
<path d="M175.8 442.7L179.9 442.0L175.8 442.0L171.7 442.8Z" fill="#e52219" stroke="#c51f16"/>
<path d="M184.0 442.0L188.1 441.4L184.0 441.4L179.9 442.0Z" fill="#e51f1a" stroke="#d31e18"/>
<path d="M216.9 441.4L220.9 441.7L216.8 441.5L212.8 441.2Z" fill="#6fa920" stroke="#547f18"/>
<path d="M225.1 441.9L229.1 442.3L225.0 442.1L220.9 441.7Z" fill="#6ca724" stroke="#517d1b"/>
<path d="M233.2 442.6L237.3 443.3L233.2 443.0L229.1 442.3Z" fill="#66a42a" stroke="#4d7b1f"/>
<path d="M241.4 443.6L245.4 444.5L241.3 444.1L237.3 443.3Z" fill="#61a12d" stroke="#497922"/>
<path d="M249.5 444.8L253.5 445.9L249.4 445.5L245.4 444.5Z" fill="#5b9e2f" stroke="#447723"/>
<path d="M257.6 446.3L261.6 447.6L257.5 447.1L253.5 445.9Z" fill="#549a31" stroke="#3f7425"/>
<path d="M147.1 448.2L151.2 446.6L147.1 446.8L143.0 448.4Z" fill="#e83917" stroke="#90260f"/>
<path d="M155.3 446.4L159.4 445.1L155.3 445.2L151.2 446.6Z" fill="#e62d18" stroke="#9e2111"/>
<path d="M196.3 441.5L200.4 441.2L196.3 441.1L192.2 441.5Z" fill="#e41a1a" stroke="#e21a1a"/>
<path d="M204.6 441.3L208.7 441.2L204.5 441.0L200.4 441.2Z" fill="#e41a1a" stroke="#e41a1a"/>
<path d="M98.6 463.8L102.6 461.0L98.6 461.3L94.6 464.2Z" fill="#d2e022" stroke="#748613"/>
<path d="M106.6 460.6L110.6 458.0L106.6 458.3L102.6 461.0Z" fill="#f6e80e" stroke="#878b08"/>
<path d="M114.6 457.6L118.6 455.2L114.6 455.5L110.6 458.0Z" fill="#f6bf0f" stroke="#887208"/>
<path d="M122.7 454.9L126.7 452.7L122.7 452.9L118.6 455.2Z" fill="#f38c12" stroke="#86540a"/>
<path d="M130.8 452.4L134.9 450.4L130.8 450.6L126.7 452.7Z" fill="#f06c13" stroke="#84410b"/>
<path d="M138.9 450.1L143.0 448.4L138.9 448.6L134.9 450.4Z" fill="#ec5015" stroke="#83310c"/>
<path d="M163.5 444.9L167.6 443.8L163.5 443.9L159.4 445.1Z" fill="#e62719" stroke="#ac1f13"/>
<path d="M171.7 443.7L175.8 442.7L171.7 442.8L167.6 443.8Z" fill="#e52219" stroke="#b91e14"/>
<path d="M179.9 442.7L184.0 442.0L179.9 442.0L175.8 442.7Z" fill="#e51f1a" stroke="#c71c16"/>
<path d="M188.1 442.0L192.2 441.5L188.1 441.4L184.0 442.0Z" fill="#e41c1a" stroke="#d41b18"/>
<path d="M212.8 441.3L216.9 441.4L212.8 441.2L208.7 441.2Z" fill="#e41a1a" stroke="#e41a1a"/>
<path d="M221.0 441.6L225.1 441.9L220.9 441.7L216.9 441.4Z" fill="#72aa1e" stroke="#568016"/>
<path d="M229.2 442.1L233.2 442.6L229.1 442.3L225.1 441.9Z" fill="#6ea822" stroke="#537e19"/>
<path d="M237.4 442.9L241.4 443.6L237.3 443.3L233.2 442.6Z" fill="#68a528" stroke="#4e7c1e"/>
<path d="M245.5 443.9L249.5 444.8L245.4 444.5L241.4 443.6Z" fill="#62a22d" stroke="#4a7922"/>
<path d="M253.7 445.2L257.6 446.3L253.5 445.9L249.5 444.8Z" fill="#5c9f2f" stroke="#457723"/>
<path d="M151.2 448.0L155.3 446.4L151.2 446.6L147.1 448.2Z" fill="#e73118" stroke="#91210f"/>
<path d="M200.5 441.5L204.6 441.3L200.4 441.2L196.3 441.5Z" fill="#e41a1a" stroke="#e41a1a"/>
<path d="M102.6 463.4L106.6 460.6L102.6 461.0L98.6 463.8Z" fill="#e1e51a" stroke="#7c890e"/>
<path d="M110.6 460.2L114.6 457.6L110.6 458.0L106.6 460.6Z" fill="#f7d90e" stroke="#888208"/>
<path d="M118.7 457.3L122.7 454.9L118.6 455.2L114.6 457.6Z" fill="#f5a910" stroke="#876609"/>
<path d="M126.8 454.6L130.8 452.4L126.7 452.7L122.7 454.9Z" fill="#f27e13" stroke="#854c0a"/>
<path d="M134.9 452.1L138.9 450.1L134.9 450.4L130.8 452.4Z" fill="#ee5e14" stroke="#83390b"/>
<path d="M143.0 449.9L147.1 448.2L143.0 448.4L138.9 450.1Z" fill="#ea4516" stroke="#842a0d"/>
<path d="M159.4 446.3L163.5 444.9L159.4 445.1L155.3 446.4Z" fill="#e62a19" stroke="#9f1f11"/>
<path d="M167.6 444.8L171.7 443.7L167.6 443.8L163.5 444.9Z" fill="#e52419" stroke="#ad1d13"/>
<path d="M175.8 443.6L179.9 442.7L175.8 442.7L171.7 443.7Z" fill="#e51f1a" stroke="#bb1b15"/>
<path d="M184.0 442.7L188.1 442.0L184.0 442.0L179.9 442.7Z" fill="#e41c1a" stroke="#c91a17"/>
<path d="M192.2 442.0L196.3 441.5L192.2 441.5L188.1 442.0Z" fill="#e41a1a" stroke="#d61a18"/>
<path d="M208.7 441.4L212.8 441.3L208.7 441.2L204.6 441.3Z" fill="#e41a1a" stroke="#e41a1a"/>
<path d="M216.9 441.5L221.0 441.6L216.9 441.4L212.8 441.3Z" fill="#e41a1a" stroke="#e41a1a"/>
<path d="M225.1 441.8L229.2 442.1L225.1 441.9L221.0 441.6Z" fill="#75ab1b" stroke="#588114"/>
<path d="M233.3 442.4L237.4 442.9L233.2 442.6L229.2 442.1Z" fill="#70a91f" stroke="#547f18"/>
<path d="M241.5 443.2L245.5 443.9L241.4 443.6L237.4 442.9Z" fill="#6aa626" stroke="#507d1c"/>
<path d="M249.6 444.3L253.7 445.2L249.5 444.8L245.5 443.9Z" fill="#63a22c" stroke="#4a7a21"/>
<path d="M106.7 463.0L110.6 460.2L106.6 460.6L102.6 463.4Z" fill="#f0ea12" stroke="#848c0a"/>
<path d="M114.7 459.9L118.7 457.3L114.6 457.6L110.6 460.2Z" fill="#f7cb0e" stroke="#887a08"/>
<path d="M122.7 456.9L126.8 454.6L122.7 454.9L118.7 457.3Z" fill="#f49412" stroke="#86590a"/>
<path d="M130.8 454.3L134.9 452.1L130.8 452.4L126.8 454.6Z" fill="#f07013" stroke="#84430b"/>
<path d="M139.0 451.8L143.0 449.9L138.9 450.1L134.9 452.1Z" fill="#ec5315" stroke="#82320c"/>
<path d="M147.1 449.7L151.2 448.0L147.1 448.2L143.0 449.9Z" fill="#e83a17" stroke="#85240d"/>
<path d="M155.3 447.8L159.4 446.3L155.3 446.4L151.2 448.0Z" fill="#e62d18" stroke="#931f10"/>
<path d="M163.5 446.1L167.6 444.8L163.5 444.9L159.4 446.3Z" fill="#e62619" stroke="#a11d12"/>
<path d="M171.7 444.7L175.8 443.6L171.7 443.7L167.6 444.8Z" fill="#e52119" stroke="#af1b13"/>
<path d="M179.9 443.5L184.0 442.7L179.9 442.7L175.8 443.6Z" fill="#e41c1a" stroke="#bd1915"/>
<path d="M188.1 442.6L192.2 442.0L188.1 442.0L184.0 442.7Z" fill="#e41a1a" stroke="#ca1817"/>
<path d="M196.4 442.0L200.5 441.5L196.3 441.5L192.2 442.0Z" fill="#e41a1a" stroke="#d81a19"/>
<path d="M204.6 441.6L208.7 441.4L204.6 441.3L200.5 441.5Z" fill="#e41a1a" stroke="#e41a1a"/>
<path d="M212.8 441.5L216.9 441.5L212.8 441.3L208.7 441.4Z" fill="#e41a1a" stroke="#e41a1a"/>
<path d="M221.0 441.6L225.1 441.8L221.0 441.6L216.9 441.5Z" fill="#e41a1a" stroke="#e41a1a"/>
<path d="M229.3 442.0L233.3 442.4L229.2 442.1L225.1 441.8Z" fill="#77ad18" stroke="#598212"/>
<path d="M237.4 442.6L241.5 443.2L237.4 442.9L233.3 442.4Z" fill="#73aa1d" stroke="#568016"/>
<path d="M245.6 443.5L249.6 444.3L245.5 443.9L241.5 443.2Z" fill="#6ca724" stroke="#517d1b"/>
<path d="M110.7 462.7L114.7 459.9L110.6 460.2L106.7 463.0Z" fill="#f6e40e" stroke="#878908"/>
<path d="M118.7 459.5L122.7 456.9L118.7 457.3L114.7 459.9Z" fill="#f6b60f" stroke="#876d08"/>
<path d="M126.8 456.6L130.8 454.3L126.8 454.6L122.7 456.9Z" fill="#f38512" stroke="#85500a"/>
<path d="M134.9 454.0L139.0 451.8L134.9 452.1L130.8 454.3Z" fill="#ee6314" stroke="#833b0b"/>
<path d="M143.0 451.6L147.1 449.7L143.0 449.9L139.0 451.8Z" fill="#ea4716" stroke="#812b0c"/>
<path d="M159.4 447.6L163.5 446.1L159.4 446.3L155.3 447.8Z" fill="#e62919" stroke="#941d10"/>
<path d="M167.6 446.0L171.7 444.7L167.6 444.8L163.5 446.1Z" fill="#e52319" stroke="#a21a12"/>
<path d="M175.8 444.6L179.9 443.5L175.8 443.6L171.7 444.7Z" fill="#e41d1a" stroke="#b01814"/>
<path d="M184.0 443.5L188.1 442.6L184.0 442.7L179.9 443.5Z" fill="#e41a1a" stroke="#be1716"/>
<path d="M192.3 442.6L196.4 442.0L192.2 442.0L188.1 442.6Z" fill="#e41a1a" stroke="#cc1817"/>
<path d="M208.7 441.7L212.8 441.5L208.7 441.4L204.6 441.6Z" fill="#e41a1a" stroke="#e41a1a"/>
<path d="M217.0 441.6L221.0 441.6L216.9 441.5L212.8 441.5Z" fill="#e41a1a" stroke="#e41a1a"/>
<path d="M225.2 441.8L229.3 442.0L225.1 441.8L221.0 441.6Z" fill="#7bab15" stroke="#5c810f"/>
<path d="M233.4 442.2L237.4 442.6L233.3 442.4L229.3 442.0Z" fill="#7aae16" stroke="#5b8210"/>
<path d="M241.6 442.9L245.6 443.5L241.5 443.2L237.4 442.6Z" fill="#75ab1b" stroke="#588114"/>
<path d="M151.2 449.5L155.3 447.8L151.2 448.0L147.1 449.7Z" fill="#e73118" stroke="#861f0e"/>
<path d="M200.5 442.0L204.6 441.6L200.5 441.5L196.4 442.0Z" fill="#e41a1a" stroke="#da1a19"/>
<path d="M114.7 462.3L118.7 459.5L114.7 459.9L110.7 462.7Z" fill="#f7d50e" stroke="#888008"/>
<path d="M122.8 459.2L126.8 456.6L122.7 456.9L118.7 459.5Z" fill="#f5a111" stroke="#876109"/>
<path d="M130.9 456.3L134.9 454.0L130.8 454.3L126.8 456.6Z" fill="#f17713" stroke="#84470a"/>
<path d="M139.0 453.7L143.0 451.6L139.0 451.8L134.9 454.0Z" fill="#ed5715" stroke="#82340b"/>
<path d="M147.1 451.3L151.2 449.5L147.1 449.7L143.0 451.6Z" fill="#e93c17" stroke="#80240d"/>
<path d="M155.3 449.2L159.4 447.6L155.3 447.8L151.2 449.5Z" fill="#e62d18" stroke="#871d0e"/>
<path d="M163.5 447.4L167.6 446.0L163.5 446.1L159.4 447.6Z" fill="#e52619" stroke="#961a10"/>
<path d="M171.7 445.8L175.8 444.6L171.7 444.7L167.6 446.0Z" fill="#e51f1a" stroke="#a41812"/>
<path d="M179.9 444.5L184.0 443.5L179.9 443.5L175.8 444.6Z" fill="#e41a1a" stroke="#b21614"/>
<path d="M188.2 443.4L192.3 442.6L188.1 442.6L184.0 443.5Z" fill="#e41a1a" stroke="#c01716"/>
<path d="M196.4 442.6L200.5 442.0L196.4 442.0L192.3 442.6Z" fill="#e41a1a" stroke="#ce1817"/>
<path d="M204.6 442.1L208.7 441.7L204.6 441.6L200.5 442.0Z" fill="#e41a1a" stroke="#dc1a19"/>
<path d="M212.9 441.8L217.0 441.6L212.8 441.5L208.7 441.7Z" fill="#e4191a" stroke="#e4191a"/>
<path d="M221.1 441.7L225.2 441.8L221.0 441.6L217.0 441.6Z" fill="#e4191a" stroke="#e4191a"/>
<path d="M229.3 442.0L233.4 442.2L229.3 442.0L225.2 441.8Z" fill="#7ba715" stroke="#5c7d0f"/>
<path d="M237.5 442.5L241.6 442.9L237.4 442.6L233.4 442.2Z" fill="#7bad15" stroke="#5c820f"/>
<path d="M118.8 461.9L122.8 459.2L118.7 459.5L114.7 462.3Z" fill="#f7c60e" stroke="#887708"/>
<path d="M126.8 458.8L130.9 456.3L126.8 456.6L122.8 459.2Z" fill="#f48d12" stroke="#86550a"/>
<path d="M134.9 456.0L139.0 453.7L134.9 454.0L130.9 456.3Z" fill="#ef6914" stroke="#843f0b"/>
<path d="M167.6 447.2L171.7 445.8L167.6 446.0L163.5 447.4Z" fill="#e52219" stroke="#971811"/>
<path d="M175.8 445.7L179.9 444.5L175.8 444.6L171.7 445.8Z" fill="#e41c1a" stroke="#a61613"/>
<path d="M184.1 444.4L188.2 443.4L184.0 443.5L179.9 444.5Z" fill="#e41a1a" stroke="#b41614"/>
<path d="M217.0 441.9L221.1 441.7L217.0 441.6L212.9 441.8Z" fill="#e4191a" stroke="#e4191a"/>
<path d="M225.2 441.9L229.3 442.0L225.2 441.8L221.1 441.7Z" fill="#e4191a" stroke="#e4191a"/>
<path d="M233.5 442.2L237.5 442.5L233.4 442.2L229.3 442.0Z" fill="#7ba315" stroke="#5c7b0f"/>
<path d="M143.1 453.4L147.1 451.3L143.0 451.6L139.0 453.7Z" fill="#eb4b16" stroke="#812d0c"/>
<path d="M151.2 451.1L155.3 449.2L151.2 449.5L147.1 451.3Z" fill="#e73118" stroke="#7f1e0d"/>
<path d="M159.4 449.0L163.5 447.4L159.4 447.6L155.3 449.2Z" fill="#e62919" stroke="#891b0f"/>
<path d="M192.3 443.4L196.4 442.6L192.3 442.6L188.2 443.4Z" fill="#e41a1a" stroke="#c21716"/>
<path d="M200.5 442.6L204.6 442.1L200.5 442.0L196.4 442.6Z" fill="#e4191a" stroke="#d01918"/>
<path d="M208.8 442.1L212.9 441.8L208.7 441.7L204.6 442.1Z" fill="#e4191a" stroke="#de1919"/>
<path d="M122.8 461.5L126.8 458.8L122.8 459.2L118.8 461.9Z" fill="#f6b010" stroke="#876909"/>
<path d="M130.9 458.5L134.9 456.0L130.9 456.3L126.8 458.8Z" fill="#f27f13" stroke="#854c0a"/>
<path d="M139.0 455.7L143.1 453.4L139.0 453.7L134.9 456.0Z" fill="#ee5c14" stroke="#83370b"/>
<path d="M147.1 453.1L151.2 451.1L147.1 451.3L143.1 453.4Z" fill="#e93f17" stroke="#80260d"/>
<path d="M155.3 450.9L159.4 449.0L155.3 449.2L151.2 451.1Z" fill="#e62e18" stroke="#7f1b0d"/>
<path d="M163.5 448.8L167.6 447.2L163.5 447.4L159.4 449.0Z" fill="#e52619" stroke="#8a190f"/>
<path d="M171.7 447.1L175.8 445.7L171.7 445.8L167.6 447.2Z" fill="#e51f1a" stroke="#991611"/>
<path d="M179.9 445.6L184.1 444.4L179.9 444.5L175.8 445.7Z" fill="#e41a1a" stroke="#a71413"/>
<path d="M188.2 444.3L192.3 443.4L188.2 443.4L184.1 444.4Z" fill="#e41a1a" stroke="#b61615"/>
<path d="M196.4 443.4L200.5 442.6L196.4 442.6L192.3 443.4Z" fill="#e4191a" stroke="#c41716"/>
<path d="M204.7 442.6L208.8 442.1L204.6 442.1L200.5 442.6Z" fill="#e4191a" stroke="#d21918"/>
<path d="M212.9 442.2L217.0 441.9L212.9 441.8L208.8 442.1Z" fill="#e3191a" stroke="#e01919"/>
<path d="M221.1 442.0L225.2 441.9L221.1 441.7L217.0 441.9Z" fill="#e3191a" stroke="#e3191a"/>
<path d="M229.4 442.1L233.5 442.2L229.3 442.0L225.2 441.9Z" fill="#e4191a" stroke="#e4191a"/>
<path d="M126.9 461.2L130.9 458.5L126.8 458.8L122.8 461.5Z" fill="#f59a11" stroke="#865d0a"/>
<path d="M175.8 446.9L179.9 445.6L175.8 445.7L171.7 447.1Z" fill="#e41b1a" stroke="#9a1412"/>
<path d="M225.3 442.1L229.4 442.1L225.2 441.9L221.1 442.0Z" fill="#e3191a" stroke="#e3191a"/>
<path d="M135.0 458.1L139.0 455.7L134.9 456.0L130.9 458.5Z" fill="#f07113" stroke="#84440b"/>
<path d="M143.1 455.4L147.1 453.1L143.1 453.4L139.0 455.7Z" fill="#ec5015" stroke="#82300c"/>
<path d="M151.2 452.9L155.3 450.9L151.2 451.1L147.1 453.1Z" fill="#e73418" stroke="#7f1f0d"/>
<path d="M159.4 450.6L163.5 448.8L159.4 449.0L155.3 450.9Z" fill="#e62a19" stroke="#7e190e"/>
<path d="M167.6 448.6L171.7 447.1L167.6 447.2L163.5 448.8Z" fill="#e52219" stroke="#8c160f"/>
<path d="M184.1 445.5L188.2 444.3L184.1 444.4L179.9 445.6Z" fill="#e41a1a" stroke="#a91413"/>
<path d="M192.3 444.3L196.4 443.4L192.3 443.4L188.2 444.3Z" fill="#e4191a" stroke="#b71615"/>
<path d="M200.6 443.3L204.7 442.6L200.5 442.6L196.4 443.4Z" fill="#e4191a" stroke="#c61716"/>
<path d="M208.8 442.7L212.9 442.2L208.8 442.1L204.7 442.6Z" fill="#e3191a" stroke="#d41918"/>
<path d="M217.0 442.3L221.1 442.0L217.0 441.9L212.9 442.2Z" fill="#e3191a" stroke="#e2191a"/>
<path d="M130.9 460.8L135.0 458.1L130.9 458.5L126.9 461.2Z" fill="#f38912" stroke="#86520a"/>
<path d="M139.0 457.8L143.1 455.4L139.0 455.7L135.0 458.1Z" fill="#ef6314" stroke="#833c0b"/>
<path d="M147.2 455.1L151.2 452.9L147.1 453.1L143.1 455.4Z" fill="#ea4416" stroke="#81290c"/>
<path d="M155.3 452.6L159.4 450.6L155.3 450.9L151.2 452.9Z" fill="#e72f18" stroke="#7f1c0d"/>
<path d="M163.5 450.4L167.6 448.6L163.5 448.8L159.4 450.6Z" fill="#e62619" stroke="#7f170e"/>
<path d="M171.7 448.5L175.8 446.9L171.7 447.1L167.6 448.6Z" fill="#e51e1a" stroke="#8e1410"/>
<path d="M180.0 446.8L184.1 445.5L179.9 445.6L175.8 446.9Z" fill="#e41a1a" stroke="#9c1312"/>
<path d="M188.2 445.4L192.3 444.3L188.2 444.3L184.1 445.5Z" fill="#e41a1a" stroke="#ab1413"/>
<path d="M196.4 444.2L200.6 443.3L196.4 443.4L192.3 444.3Z" fill="#e4191a" stroke="#b91615"/>
<path d="M204.7 443.3L208.8 442.7L204.7 442.6L200.6 443.3Z" fill="#e3191a" stroke="#c81717"/>
<path d="M212.9 442.7L217.0 442.3L212.9 442.2L208.8 442.7Z" fill="#e3191a" stroke="#d61918"/>
<path d="M221.2 442.3L225.3 442.1L221.1 442.0L217.0 442.3Z" fill="#e3191a" stroke="#e3191a"/>
<path d="M135.0 460.4L139.0 457.8L135.0 458.1L130.9 460.8Z" fill="#f17b13" stroke="#854a0a"/>
<path d="M143.1 457.5L147.2 455.1L143.1 455.4L139.0 457.8Z" fill="#ed5715" stroke="#82340b"/>
<path d="M151.3 454.8L155.3 452.6L151.2 452.9L147.2 455.1Z" fill="#e83917" stroke="#80220d"/>
<path d="M159.4 452.4L163.5 450.4L159.4 450.6L155.3 452.6Z" fill="#e62b19" stroke="#7f1a0e"/>
<path d="M167.6 450.2L171.7 448.5L167.6 448.6L163.5 450.4Z" fill="#e52219" stroke="#80150e"/>
<path d="M175.9 448.3L180.0 446.8L175.8 446.9L171.7 448.5Z" fill="#e41b1a" stroke="#8f1210"/>
<path d="M184.1 446.7L188.2 445.4L184.1 445.5L180.0 446.8Z" fill="#e41a1a" stroke="#9e1312"/>
<path d="M192.3 445.3L196.4 444.2L192.3 444.3L188.2 445.4Z" fill="#e4191a" stroke="#ad1514"/>
<path d="M200.6 444.2L204.7 443.3L200.6 443.3L196.4 444.2Z" fill="#e3191a" stroke="#bb1615"/>
<path d="M208.8 443.3L212.9 442.7L208.8 442.7L204.7 443.3Z" fill="#e3191a" stroke="#ca1717"/>
<path d="M217.1 442.8L221.2 442.3L217.0 442.3L212.9 442.7Z" fill="#e3191a" stroke="#d81918"/>
<path d="M139.1 460.1L143.1 457.5L139.0 457.8L135.0 460.4Z" fill="#f06d13" stroke="#84410b"/>
<path d="M147.2 457.2L151.3 454.8L147.2 455.1L143.1 457.5Z" fill="#eb4b16" stroke="#812d0c"/>
<path d="M155.4 454.5L159.4 452.4L155.3 452.6L151.3 454.8Z" fill="#e73018" stroke="#7f1d0d"/>
<path d="M163.6 452.1L167.6 450.2L163.5 450.4L159.4 452.4Z" fill="#e62719" stroke="#7e170e"/>
<path d="M188.2 446.5L192.3 445.3L188.2 445.4L184.1 446.7Z" fill="#e41a1a" stroke="#a01312"/>
<path d="M196.5 445.2L200.6 444.2L196.4 444.2L192.3 445.3Z" fill="#e3191a" stroke="#af1514"/>
<path d="M204.7 444.1L208.8 443.3L204.7 443.3L200.6 444.2Z" fill="#e3191a" stroke="#bd1615"/>
<path d="M213.0 443.3L217.1 442.8L212.9 442.7L208.8 443.3Z" fill="#e3191a" stroke="#cc1817"/>
<path d="M171.8 450.0L175.9 448.3L171.7 448.5L167.6 450.2Z" fill="#e51f1a" stroke="#82130f"/>
<path d="M180.0 448.1L184.1 446.7L180.0 446.8L175.9 448.3Z" fill="#e41a1a" stroke="#911210"/>
<path d="M143.2 459.7L147.2 457.2L143.1 457.5L139.1 460.1Z" fill="#ee5f14" stroke="#83390b"/>
<path d="M151.3 456.9L155.4 454.5L151.3 454.8L147.2 457.2Z" fill="#e93f17" stroke="#80260d"/>
<path d="M159.5 454.2L163.6 452.1L159.4 452.4L155.4 454.5Z" fill="#e62c18" stroke="#7f1b0d"/>
<path d="M167.7 451.9L171.8 450.0L167.6 450.2L163.6 452.1Z" fill="#e52319" stroke="#7e150e"/>
<path d="M175.9 449.8L180.0 448.1L175.9 448.3L171.8 450.0Z" fill="#e41b1a" stroke="#84110f"/>
<path d="M184.1 448.0L188.2 446.5L184.1 446.7L180.0 448.1Z" fill="#e41a1a" stroke="#931211"/>
<path d="M192.4 446.4L196.5 445.2L192.3 445.3L188.2 446.5Z" fill="#e4191a" stroke="#a21312"/>
<path d="M200.6 445.1L204.7 444.1L200.6 444.2L196.5 445.2Z" fill="#e3191a" stroke="#b01514"/>
<path d="M208.9 444.1L213.0 443.3L208.8 443.3L204.7 444.1Z" fill="#e3191a" stroke="#bf1616"/>
<path d="M147.2 459.4L151.3 456.9L147.2 457.2L143.2 459.7Z" fill="#ec5315" stroke="#82320c"/>
<path d="M155.4 456.6L159.5 454.2L155.4 454.5L151.3 456.9Z" fill="#e73318" stroke="#7f1f0d"/>
<path d="M196.5 446.3L200.6 445.1L196.5 445.2L192.4 446.4Z" fill="#e3191a" stroke="#a41312"/>
<path d="M204.8 445.1L208.9 444.1L204.7 444.1L200.6 445.1Z" fill="#e3191a" stroke="#b21514"/>
<path d="M163.6 454.0L167.7 451.9L163.6 452.1L159.5 454.2Z" fill="#e62819" stroke="#7e180e"/>
<path d="M171.8 451.7L175.9 449.8L171.8 450.0L167.7 451.9Z" fill="#e5201a" stroke="#7e130e"/>
<path d="M180.0 449.6L184.1 448.0L180.0 448.1L175.9 449.8Z" fill="#e41a1a" stroke="#85100f"/>
<path d="M188.3 447.8L192.4 446.4L188.2 446.5L184.1 448.0Z" fill="#e4191a" stroke="#941211"/>
<path d="M151.3 459.1L155.4 456.6L151.3 456.9L147.2 459.4Z" fill="#ea4616" stroke="#812a0c"/>
<path d="M159.5 456.3L163.6 454.0L159.5 454.2L155.4 456.6Z" fill="#e72e18" stroke="#7f1c0d"/>
<path d="M167.7 453.7L171.8 451.7L167.7 451.9L163.6 454.0Z" fill="#e52519" stroke="#7e160e"/>
<path d="M175.9 451.4L180.0 449.6L175.9 449.8L171.8 451.7Z" fill="#e41c1a" stroke="#7e110e"/>
<path d="M184.1 449.4L188.3 447.8L184.1 448.0L180.0 449.6Z" fill="#e41a1a" stroke="#87110f"/>
<path d="M192.4 447.7L196.5 446.3L192.4 446.4L188.3 447.8Z" fill="#e4191a" stroke="#961211"/>
<path d="M200.6 446.2L204.8 445.1L200.6 445.1L196.5 446.3Z" fill="#e3191a" stroke="#a51313"/>
<path d="M155.4 458.8L159.5 456.3L155.4 456.6L151.3 459.1Z" fill="#e83b17" stroke="#80230d"/>
<path d="M163.6 456.0L167.7 453.7L163.6 454.0L159.5 456.3Z" fill="#e62a19" stroke="#7f190e"/>
<path d="M171.8 453.5L175.9 451.4L171.8 451.7L167.7 453.7Z" fill="#e52119" stroke="#7e140e"/>
<path d="M180.0 451.2L184.1 449.4L180.0 449.6L175.9 451.4Z" fill="#e41a1a" stroke="#7d100e"/>
<path d="M188.3 449.3L192.4 447.7L188.3 447.8L184.1 449.4Z" fill="#e4191a" stroke="#891110"/>
<path d="M196.5 447.6L200.6 446.2L196.5 446.3L192.4 447.7Z" fill="#e3191a" stroke="#981211"/>
<path d="M159.5 458.4L163.6 456.0L159.5 456.3L155.4 458.8Z" fill="#e73118" stroke="#7f1d0d"/>
<path d="M167.7 455.7L171.8 453.5L167.7 453.7L163.6 456.0Z" fill="#e62619" stroke="#7e170e"/>
<path d="M175.9 453.2L180.0 451.2L175.9 451.4L171.8 453.5Z" fill="#e41d1a" stroke="#7e110e"/>
<path d="M184.2 451.0L188.3 449.3L184.1 449.4L180.0 451.2Z" fill="#e41a1a" stroke="#7d0f0e"/>
<path d="M192.4 449.1L196.5 447.6L192.4 447.7L188.3 449.3Z" fill="#e4191a" stroke="#8b1110"/>
<path d="M163.6 458.1L167.7 455.7L163.6 456.0L159.5 458.4Z" fill="#e62d18" stroke="#7f1b0d"/>
<path d="M171.8 455.4L175.9 453.2L171.8 453.5L167.7 455.7Z" fill="#e52319" stroke="#7e150e"/>
<path d="M180.1 453.0L184.2 451.0L180.0 451.2L175.9 453.2Z" fill="#e41a1a" stroke="#7d100e"/>
<path d="M188.3 450.8L192.4 449.1L188.3 449.3L184.2 451.0Z" fill="#e41a1a" stroke="#7d0f0e"/>
<path d="M167.8 457.8L171.8 455.4L167.7 455.7L163.6 458.1Z" fill="#e62919" stroke="#7e190e"/>
<path d="M176.0 455.2L180.1 453.0L175.9 453.2L171.8 455.4Z" fill="#e51f1a" stroke="#7e120e"/>
<path d="M184.2 452.8L188.3 450.8L184.2 451.0L180.1 453.0Z" fill="#e41a1a" stroke="#7d0f0e"/>
<path d="M171.9 457.5L176.0 455.2L171.8 455.4L167.8 457.8Z" fill="#e52519" stroke="#7e160e"/>
<path d="M180.1 454.9L184.2 452.8L180.1 453.0L176.0 455.2Z" fill="#e41b1a" stroke="#7d100e"/>
<path d="M176.0 457.2L180.1 454.9L176.0 455.2L171.9 457.5Z" fill="#e52119" stroke="#7e140e"/>
</g>
<path d="M205.1 429V444" stroke="#7a1010" stroke-width="0.8"/><ellipse cx="205.1" cy="430.4" rx="2.3" ry="1.5" fill="#c81e1e"/><ellipse cx="205.1" cy="435.8" rx="2.3" ry="2.6" fill="#b01818"/>
<ellipse cx="154" cy="440.5" rx="2.2" ry="1.2" fill="#c01515"/>
<radialGradient id="g1" gradientUnits="userSpaceOnUse" cx="0" cy="0" r="1" fx="0" fy="0" gradientTransform="matrix(258.934 0.000 -0.000 110.613 580.94 98.60)">
<stop offset="0.000" stop-color="#e73218"/>
<stop offset="0.025" stop-color="#e73218"/>
<stop offset="0.050" stop-color="#e73318"/>
<stop offset="0.075" stop-color="#e73518"/>
<stop offset="0.100" stop-color="#e83718"/>
<stop offset="0.125" stop-color="#e83a17"/>
<stop offset="0.150" stop-color="#e93e17"/>
<stop offset="0.175" stop-color="#e94217"/>
<stop offset="0.200" stop-color="#ea4716"/>
<stop offset="0.225" stop-color="#eb4c16"/>
<stop offset="0.250" stop-color="#ec5215"/>
<stop offset="0.275" stop-color="#ed5915"/>
<stop offset="0.300" stop-color="#ee6114"/>
<stop offset="0.325" stop-color="#ef6a14"/>
<stop offset="0.350" stop-color="#f07313"/>
<stop offset="0.375" stop-color="#f27e13"/>
<stop offset="0.400" stop-color="#f38912"/>
<stop offset="0.425" stop-color="#f49612"/>
<stop offset="0.450" stop-color="#f5a910"/>
<stop offset="0.475" stop-color="#f6bc0f"/>
<stop offset="0.500" stop-color="#f7ce0e"/>
<stop offset="0.525" stop-color="#f6dc0e"/>
<stop offset="0.550" stop-color="#f6eb0e"/>
<stop offset="0.575" stop-color="#e8e716"/>
<stop offset="0.600" stop-color="#d9e21e"/>
<stop offset="0.625" stop-color="#c9dc28"/>
<stop offset="0.650" stop-color="#bdd82a"/>
<stop offset="0.675" stop-color="#b1d42c"/>
<stop offset="0.700" stop-color="#a5cf2f"/>
<stop offset="0.725" stop-color="#98cb31"/>
<stop offset="0.750" stop-color="#8bc634"/>
<stop offset="0.775" stop-color="#7dc136"/>
<stop offset="0.800" stop-color="#78c039"/>
<stop offset="0.825" stop-color="#74bf3c"/>
<stop offset="0.850" stop-color="#71bf3f"/>
<stop offset="0.875" stop-color="#6ebf42"/>
<stop offset="0.900" stop-color="#6abe45"/>
<stop offset="0.925" stop-color="#68bf52"/>
<stop offset="0.950" stop-color="#67c065"/>
<stop offset="0.975" stop-color="#66c179"/>
<stop offset="1.000" stop-color="#65c28d"/>
</radialGradient>
<clipPath id="c1"><rect x="431.3" y="11" width="249.40000000000003" height="146"/></clipPath>
<rect x="431.3" y="11" width="249.40000000000003" height="146" fill="url(#g1)"/>
<g clip-path="url(#c1)" fill="none" stroke-width="0.9">
<path d="M465.0 11.0L462.5 11.6L458.3 12.7L456.2 13.2L452.1 14.4L450.0 15.0L445.8 16.2L443.8 16.8L439.6 18.1L437.5 18.8L433.5 20.1L431.3 20.9L431.3 20.9" stroke="#1e874b"/>
<path d="M431.3 156.7L432.0 157.0" stroke="#1e874b"/>
<path d="M680.7 23.5L676.5 22.5L674.1 22.0L670.3 21.1L666.2 20.3L664.1 19.9L659.9 19.1L655.8 18.4L653.7 18.0L649.5 17.4L645.4 16.7L643.3 16.4L639.1 15.9L635.0 15.4L630.8 14.9L628.5 14.6L624.6 14.3L620.4 13.9L616.3 13.6L612.1 13.3L608.0 13.0L604.7 12.8L601.7 12.7L597.6 12.5L593.4 12.4L589.3 12.3L585.1 12.2L580.9 12.2L576.8 12.2L572.6 12.3L568.5 12.4L564.3 12.5L560.2 12.7L557.2 12.8L553.9 13.0L549.8 13.3L545.6 13.6L541.5 13.9L537.3 14.3L533.4 14.6L531.1 14.9L526.9 15.4L522.7 15.9L518.6 16.4L516.5 16.7L512.4 17.4L508.2 18.0L506.1 18.4L502.0 19.1L497.8 19.9L495.7 20.3L491.6 21.1L487.7 22.0L485.3 22.5L481.2 23.5L479.1 24.0L474.9 25.0L472.9 25.6L468.7 26.8L466.4 27.4L462.5 28.6L460.4 29.3L456.2 30.6L454.2 31.3L450.0 32.8L447.9 33.6L444.8 34.7L441.7 36.0L439.6 36.8L436.0 38.4L433.4 39.6L431.3 40.5L431.3 40.5" stroke="#1e874b"/>
<path d="M668.1 157.0L670.3 156.4L674.4 155.2L676.5 154.5L680.2 153.4L680.7 153.2" stroke="#3c6e28"/>
<path d="M431.3 125.2L433.4 127.3L435.5 129.1L437.5 130.9L439.6 132.5L441.7 134.1L443.8 135.5L445.9 136.9L448.9 138.8L452.0 140.6L454.2 141.8L456.2 142.8L459.0 144.2L462.5 145.9L464.6 146.8L467.0 147.9L470.8 149.4L472.9 150.2L476.4 151.5L479.1 152.5L481.7 153.4L485.3 154.5L487.4 155.2L491.6 156.4L493.8 157.0L493.8 157.0" stroke="#3c6e28"/>
<path d="M680.7 44.0L678.6 43.3L674.5 42.0L672.4 41.4L668.2 40.2L666.2 39.7L662.0 38.6L659.9 38.1L655.8 37.2L652.9 36.5L649.5 35.9L645.4 35.1L643.3 34.7L639.1 34.0L635.0 33.3L632.2 32.9L628.7 32.4L624.6 31.9L620.4 31.4L616.9 31.1L614.2 30.8L610.0 30.5L605.9 30.2L601.7 29.9L597.6 29.7L593.4 29.6L589.3 29.4L585.1 29.4L580.9 29.3L576.8 29.4L572.6 29.4L568.5 29.6L564.3 29.7L560.2 29.9L556.0 30.2L551.8 30.5L547.7 30.8L545.0 31.1L541.5 31.4L537.3 31.9L533.1 32.4L529.7 32.9L526.9 33.3L522.7 34.0L518.6 34.7L516.5 35.1L512.4 35.9L509.0 36.5L506.1 37.2L502.0 38.1L499.9 38.6L495.7 39.7L493.7 40.2L489.5 41.4L487.4 42.0L483.3 43.3L481.2 44.0L477.0 45.4L474.9 46.2L471.5 47.5L468.7 48.6L466.6 49.5L462.9 51.1L460.4 52.3L458.3 53.3L455.4 54.8L452.1 56.6L450.0 57.8L447.9 59.0L445.8 60.3L443.2 62.1L440.6 63.9L438.2 65.8L436.0 67.6L433.9 69.4L432.0 71.2L431.3 72.0" stroke="#3c6e28"/>
<path d="M680.7 80.9L678.6 78.9L676.5 77.1L674.5 75.5L672.4 74.0L670.3 72.6L668.0 71.2L664.7 69.4L662.0 68.1L659.9 67.1L656.9 65.8L653.7 64.5L651.6 63.7L647.4 62.2L645.4 61.5L641.2 60.3L639.1 59.7L635.0 58.6L632.9 58.1L628.7 57.2L625.9 56.6L622.5 56.0L618.4 55.3L615.1 54.8L612.1 54.4L608.0 53.9L603.8 53.5L599.6 53.1L597.5 53.0L593.4 52.7L589.3 52.6L585.1 52.5L580.9 52.4L576.8 52.5L572.6 52.6L568.5 52.7L564.4 53.0L562.2 53.1L558.1 53.5L553.9 53.9L549.8 54.4L546.8 54.8L543.5 55.3L539.4 56.0L535.9 56.6L533.1 57.2L529.0 58.1L526.9 58.6L522.7 59.7L520.7 60.3L516.5 61.5L514.4 62.2L510.3 63.7L508.2 64.5L505.0 65.8L502.0 67.1L499.9 68.1L497.2 69.4L493.9 71.2L491.6 72.6L489.5 74.0L487.4 75.5L485.3 77.1L483.3 78.9L481.2 80.9L479.1 83.2L477.1 85.8L476.0 87.6L474.9 89.6L473.6 93.1L472.9 96.8L472.9 98.6L472.9 100.4L473.6 104.1L474.9 107.6L476.0 109.5L477.1 111.4L479.1 114.0L481.2 116.3L483.3 118.3L485.3 120.1L487.4 121.7L489.5 123.2L491.6 124.6L493.9 126.0L497.2 127.8L499.9 129.1L502.0 130.1L505.0 131.5L508.2 132.7L510.3 133.5L514.4 135.0L516.5 135.7L520.7 136.9L522.7 137.5L526.9 138.6L529.0 139.1L533.1 140.0L535.9 140.6L539.4 141.2L543.5 141.9L546.8 142.4L549.8 142.8L553.9 143.3L558.1 143.7L562.2 144.1L564.4 144.2L568.5 144.5L572.6 144.6L576.8 144.7L580.9 144.8L585.1 144.7L589.3 144.6L593.4 144.5L597.5 144.2L599.6 144.1L603.8 143.7L608.0 143.3L612.1 142.8L615.1 142.4L618.3 141.9L622.5 141.2L625.9 140.6L628.7 140.0L632.9 139.1L635.0 138.6L639.1 137.5L641.2 136.9L645.4 135.7L647.4 135.0L651.6 133.5L653.7 132.7L656.9 131.5L659.9 130.1L662.0 129.1L664.7 127.8L668.0 126.0L670.3 124.6L672.4 123.2L674.5 121.7L676.5 120.1L678.6 118.3L680.7 116.3L680.7 116.3" stroke="#3a2410"/>
</g>
<rect x="431.3" y="11" width="249.40000000000003" height="146" fill="none" stroke="#555" stroke-width="0.7"/>
<path d="M431.3 10.5V157H681.2" fill="none" stroke="#222" stroke-width="1.3"/>
<path d="M431.3 157v3" stroke="#222" stroke-width="1"/>
<text x="431.3" y="168.3" font-size="6.4" font-weight="bold" fill="#333" text-anchor="middle" font-family="Liberation Sans, sans-serif">3</text>
<path d="M481.2 157v3" stroke="#222" stroke-width="1"/>
<text x="481.2" y="168.3" font-size="6.4" font-weight="bold" fill="#333" text-anchor="middle" font-family="Liberation Sans, sans-serif">3.2</text>
<path d="M531.1 157v3" stroke="#222" stroke-width="1"/>
<text x="531.1" y="168.3" font-size="6.4" font-weight="bold" fill="#333" text-anchor="middle" font-family="Liberation Sans, sans-serif">3.4</text>
<path d="M580.9 157v3" stroke="#222" stroke-width="1"/>
<text x="580.9" y="168.3" font-size="6.4" font-weight="bold" fill="#333" text-anchor="middle" font-family="Liberation Sans, sans-serif">3.6</text>
<path d="M630.8 157v3" stroke="#222" stroke-width="1"/>
<text x="630.8" y="168.3" font-size="6.4" font-weight="bold" fill="#333" text-anchor="middle" font-family="Liberation Sans, sans-serif">3.8</text>
<path d="M680.7 157v3" stroke="#222" stroke-width="1"/>
<text x="680.7" y="168.3" font-size="6.4" font-weight="bold" fill="#333" text-anchor="middle" font-family="Liberation Sans, sans-serif">4</text>
<path d="M431.3 157.0h-6" stroke="#222" stroke-width="1"/>
<text x="423.3" y="159.2" font-size="6.4" font-weight="bold" fill="#333" text-anchor="end" font-family="Liberation Sans, sans-serif">2.0</text>
<path d="M431.3 127.8h-6" stroke="#222" stroke-width="1"/>
<text x="423.3" y="130.0" font-size="6.4" font-weight="bold" fill="#333" text-anchor="end" font-family="Liberation Sans, sans-serif">2.2</text>
<path d="M431.3 98.6h-6" stroke="#222" stroke-width="1"/>
<text x="423.3" y="100.8" font-size="6.4" font-weight="bold" fill="#333" text-anchor="end" font-family="Liberation Sans, sans-serif">2.4</text>
<path d="M431.3 69.4h-6" stroke="#222" stroke-width="1"/>
<text x="423.3" y="71.6" font-size="6.4" font-weight="bold" fill="#333" text-anchor="end" font-family="Liberation Sans, sans-serif">2.6</text>
<path d="M431.3 40.2h-6" stroke="#222" stroke-width="1"/>
<text x="423.3" y="42.4" font-size="6.4" font-weight="bold" fill="#333" text-anchor="end" font-family="Liberation Sans, sans-serif">2.8</text>
<path d="M431.3 11.0h-6" stroke="#222" stroke-width="1"/>
<text x="423.3" y="13.2" font-size="6.4" font-weight="bold" fill="#333" text-anchor="end" font-family="Liberation Sans, sans-serif">3.0</text>
<text x="554.0" y="179.3" font-size="7.6" fill="#333" text-anchor="middle" font-family="Liberation Sans, sans-serif">A: pH</text>
<text transform="translate(387.8 84.0) rotate(-90)" font-size="7.6" fill="#333" text-anchor="middle" font-family="Liberation Sans, sans-serif">B:OR</text>
<text x="554.0" y="6.8" font-size="7.6" fill="#333" letter-spacing="0.6" text-anchor="middle" font-family="Liberation Sans, sans-serif">R1</text>
<rect x="447.6" y="13.8" width="9.7" height="3.8" rx="1" fill="#fff" stroke="#777" stroke-width="0.4"/>
<text x="452.5" y="16.9" font-size="3.5" fill="#555" text-anchor="middle" font-family="Liberation Sans, sans-serif">1.5</text>
<rect x="544.5" y="12.3" width="5.5" height="3.8" rx="1" fill="#fff" stroke="#777" stroke-width="0.4"/>
<text x="547.3" y="15.4" font-size="3.5" fill="#555" text-anchor="middle" font-family="Liberation Sans, sans-serif">2</text>
<rect x="532.4" y="30.0" width="9.7" height="3.8" rx="1" fill="#fff" stroke="#777" stroke-width="0.4"/>
<text x="537.3" y="33.1" font-size="3.5" fill="#555" text-anchor="middle" font-family="Liberation Sans, sans-serif">2.5</text>
<rect x="470.2" y="93.8" width="5.5" height="3.8" rx="1" fill="#fff" stroke="#777" stroke-width="0.4"/>
<text x="472.9" y="96.9" font-size="3.5" fill="#555" text-anchor="middle" font-family="Liberation Sans, sans-serif">3</text>
<rect x="455.1" y="139.3" width="9.7" height="3.8" rx="1" fill="#fff" stroke="#777" stroke-width="0.4"/>
<text x="460.0" y="142.4" font-size="3.5" fill="#555" text-anchor="middle" font-family="Liberation Sans, sans-serif">2.5</text>
<rect x="432.3" y="151.9" width="5.5" height="3.8" rx="1" fill="#fff" stroke="#777" stroke-width="0.4"/>
<text x="435.0" y="155.0" font-size="3.5" fill="#555" text-anchor="middle" font-family="Liberation Sans, sans-serif">2</text>
<rect x="665.9" y="150.4" width="9.7" height="3.8" rx="1" fill="#fff" stroke="#777" stroke-width="0.4"/>
<text x="670.7" y="153.5" font-size="3.5" fill="#555" text-anchor="middle" font-family="Liberation Sans, sans-serif">2.5</text>
<ellipse cx="556.0" cy="108.8" rx="2.3" ry="1.5" fill="#7a0f0f"/>
<ellipse cx="556.0" cy="47.9" rx="2.6" ry="1.7" fill="#7a0f0f"/>
<ellipse cx="549.8" cy="47.9" rx="0.8" ry="0.5" fill="#7a0f0f"/>
<radialGradient id="g2" gradientUnits="userSpaceOnUse" cx="0" cy="0" r="1" fx="0" fy="0" gradientTransform="matrix(238.199 0.000 23.763 319.515 595.20 451.31)">
<stop offset="0.000" stop-color="#e3191a"/>
<stop offset="0.025" stop-color="#e3191a"/>
<stop offset="0.050" stop-color="#e3191a"/>
<stop offset="0.075" stop-color="#e3191a"/>
<stop offset="0.100" stop-color="#e3191a"/>
<stop offset="0.125" stop-color="#e3191a"/>
<stop offset="0.150" stop-color="#e3191a"/>
<stop offset="0.175" stop-color="#e3191a"/>
<stop offset="0.200" stop-color="#e3191a"/>
<stop offset="0.225" stop-color="#e3191a"/>
<stop offset="0.250" stop-color="#e4191a"/>
<stop offset="0.275" stop-color="#e4191a"/>
<stop offset="0.300" stop-color="#e41a1a"/>
<stop offset="0.325" stop-color="#e41a1a"/>
<stop offset="0.350" stop-color="#e41a1a"/>
<stop offset="0.375" stop-color="#e41b1a"/>
<stop offset="0.400" stop-color="#e51e1a"/>
<stop offset="0.425" stop-color="#e52219"/>
<stop offset="0.450" stop-color="#e52519"/>
<stop offset="0.475" stop-color="#e62919"/>
<stop offset="0.500" stop-color="#e62d18"/>
<stop offset="0.525" stop-color="#e73118"/>
<stop offset="0.550" stop-color="#e83c17"/>
<stop offset="0.575" stop-color="#ea4816"/>
<stop offset="0.600" stop-color="#ed5615"/>
<stop offset="0.625" stop-color="#ef6414"/>
<stop offset="0.650" stop-color="#f17413"/>
<stop offset="0.675" stop-color="#f38512"/>
<stop offset="0.700" stop-color="#f49911"/>
<stop offset="0.725" stop-color="#f6b40f"/>
<stop offset="0.750" stop-color="#f7cd0e"/>
<stop offset="0.775" stop-color="#f6df0e"/>
<stop offset="0.800" stop-color="#f0ea11"/>
<stop offset="0.825" stop-color="#dde31c"/>
<stop offset="0.850" stop-color="#cadd27"/>
<stop offset="0.875" stop-color="#bbd72a"/>
<stop offset="0.900" stop-color="#add22d"/>
<stop offset="0.925" stop-color="#9fcd30"/>
<stop offset="0.950" stop-color="#90c833"/>
<stop offset="0.975" stop-color="#81c236"/>
<stop offset="1.000" stop-color="#78c039"/>
</radialGradient>
<clipPath id="c2"><rect x="431.3" y="206.5" width="249.40000000000003" height="145.8"/></clipPath>
<rect x="431.3" y="206.5" width="249.40000000000003" height="145.8" fill="url(#g2)"/>
<g clip-path="url(#c2)" fill="none" stroke-width="0.9">
<path d="M680.7 216.7L678.6 215.2L676.5 213.7L674.1 212.0L671.4 210.1L668.6 208.3L666.2 206.8L665.7 206.5" stroke="#3c6e28"/>
<path d="M488.3 206.5L485.7 208.3L483.3 210.1L481.2 211.6L479.1 213.2L477.0 214.9L474.9 216.6L472.9 218.4L470.8 220.2L468.7 222.1L466.6 224.0L464.6 226.0L462.5 228.1L460.4 230.2L458.7 232.0L457.0 233.8L455.3 235.7L453.7 237.5L452.1 239.4L450.0 241.9L447.9 244.4L446.2 246.6L444.8 248.4L443.5 250.2L441.7 252.7L439.6 255.6L438.3 257.5L437.1 259.4L435.5 261.8L433.5 264.8L432.4 266.6L431.3 268.4" stroke="#3c6e28"/>
<path d="M680.7 274.2L678.6 272.3L676.5 270.4L674.5 268.6L672.4 266.8L670.3 265.1L668.2 263.5L666.2 261.9L664.1 260.3L662.0 258.8L659.9 257.3L657.5 255.7L654.8 253.9L651.9 252.1L649.5 250.6L647.4 249.4L645.4 248.3L642.3 246.6L639.1 245.0L637.1 244.0L634.9 243.0L630.8 241.1L628.7 240.3L626.3 239.3L622.5 237.9L620.4 237.2L616.3 235.9L614.2 235.2L610.0 234.1L608.0 233.6L603.8 232.7L600.1 232.0L597.6 231.6L593.4 231.1L589.3 230.6L585.1 230.3L580.9 230.2L578.9 230.2L576.8 230.2L572.6 230.3L568.5 230.6L564.3 231.0L560.2 231.6L557.7 232.0L553.9 232.7L549.8 233.7L547.7 234.2L543.5 235.4L541.5 236.1L537.3 237.5L535.2 238.3L532.6 239.3L529.0 240.8L526.9 241.8L524.5 243.0L521.0 244.8L518.6 246.1L516.5 247.3L514.4 248.5L511.7 250.2L508.9 252.1L506.3 253.9L504.0 255.5L502.0 257.1L499.9 258.7L497.8 260.4L495.7 262.2L493.7 264.0L491.6 265.9L489.5 267.9L487.4 269.9L485.3 272.1L483.6 273.9L481.9 275.8L480.3 277.6L478.7 279.4L477.0 281.5L474.9 284.0L472.9 286.7L471.5 288.5L470.2 290.3L468.7 292.5L466.6 295.5L465.3 297.6L464.1 299.4L462.5 302.1L460.8 304.9L459.7 306.7L458.3 309.2L456.7 312.2L455.8 314.0L454.2 317.2L453.0 319.5L452.1 321.5L450.5 325.0L449.7 326.8L448.2 330.4L447.4 332.3L446.0 335.9L445.3 337.7L444.0 341.4L443.4 343.2L442.2 346.8L441.6 348.7L440.4 352.3L440.4 352.3" stroke="#3a2410"/>
<path d="M675.7 352.3L674.4 350.5L672.4 347.7L670.3 345.0L668.8 343.2L667.3 341.4L665.8 339.5L664.1 337.6L662.0 335.3L659.9 333.1L657.8 331.0L655.8 329.0L653.7 327.0L651.6 325.2L649.5 323.4L647.4 321.7L645.4 320.0L643.3 318.5L641.2 316.9L639.1 315.5L636.9 314.0L634.0 312.2L630.9 310.4L628.7 309.2L626.7 308.1L623.9 306.7L620.4 305.2L618.4 304.3L615.2 303.1L612.1 302.0L609.7 301.3L605.9 300.2L602.7 299.4L599.6 298.8L595.5 298.2L591.3 297.7L589.3 297.5L585.1 297.4L580.9 297.4L577.2 297.6L574.7 297.9L570.5 298.4L566.4 299.2L564.3 299.6L560.2 300.7L558.1 301.4L553.9 302.8L551.8 303.6L548.8 304.9L545.6 306.4L543.5 307.5L541.5 308.7L538.6 310.4L535.7 312.2L533.1 314.0L531.1 315.5L529.0 317.1L526.9 318.8L524.8 320.6L522.7 322.5L520.7 324.5L518.6 326.7L516.8 328.6L515.2 330.4L513.6 332.3L512.1 334.1L510.3 336.4L508.2 339.2L506.7 341.4L505.5 343.2L504.0 345.4L502.1 348.7L501.0 350.5L500.0 352.3" stroke="#3a2410"/>
</g>
<rect x="431.3" y="206.5" width="249.40000000000003" height="145.8" fill="none" stroke="#555" stroke-width="0.7"/>
<path d="M431.3 206.0V352.3H681.2" fill="none" stroke="#222" stroke-width="1.3"/>
<path d="M431.3 352.3v3" stroke="#222" stroke-width="1"/>
<text x="431.3" y="363.6" font-size="6.4" font-weight="bold" fill="#333" text-anchor="middle" font-family="Liberation Sans, sans-serif">3</text>
<path d="M481.2 352.3v3" stroke="#222" stroke-width="1"/>
<text x="481.2" y="363.6" font-size="6.4" font-weight="bold" fill="#333" text-anchor="middle" font-family="Liberation Sans, sans-serif">3.2</text>
<path d="M531.1 352.3v3" stroke="#222" stroke-width="1"/>
<text x="531.1" y="363.6" font-size="6.4" font-weight="bold" fill="#333" text-anchor="middle" font-family="Liberation Sans, sans-serif">3.4</text>
<path d="M580.9 352.3v3" stroke="#222" stroke-width="1"/>
<text x="580.9" y="363.6" font-size="6.4" font-weight="bold" fill="#333" text-anchor="middle" font-family="Liberation Sans, sans-serif">3.6</text>
<path d="M630.8 352.3v3" stroke="#222" stroke-width="1"/>
<text x="630.8" y="363.6" font-size="6.4" font-weight="bold" fill="#333" text-anchor="middle" font-family="Liberation Sans, sans-serif">3.8</text>
<path d="M680.7 352.3v3" stroke="#222" stroke-width="1"/>
<text x="680.7" y="363.6" font-size="6.4" font-weight="bold" fill="#333" text-anchor="middle" font-family="Liberation Sans, sans-serif">4</text>
<path d="M431.3 352.3h-6" stroke="#222" stroke-width="1"/>
<text x="423.3" y="354.5" font-size="6.4" font-weight="bold" fill="#333" text-anchor="end" font-family="Liberation Sans, sans-serif">0.45</text>
<path d="M431.3 323.1h-6" stroke="#222" stroke-width="1"/>
<text x="423.3" y="325.3" font-size="6.4" font-weight="bold" fill="#333" text-anchor="end" font-family="Liberation Sans, sans-serif">0.47</text>
<path d="M431.3 294.0h-6" stroke="#222" stroke-width="1"/>
<text x="423.3" y="296.2" font-size="6.4" font-weight="bold" fill="#333" text-anchor="end" font-family="Liberation Sans, sans-serif">0.49</text>
<path d="M431.3 264.8h-6" stroke="#222" stroke-width="1"/>
<text x="423.3" y="267.0" font-size="6.4" font-weight="bold" fill="#333" text-anchor="end" font-family="Liberation Sans, sans-serif">0.51</text>
<path d="M431.3 235.7h-6" stroke="#222" stroke-width="1"/>
<text x="423.3" y="237.9" font-size="6.4" font-weight="bold" fill="#333" text-anchor="end" font-family="Liberation Sans, sans-serif">0.53</text>
<path d="M431.3 206.5h-6" stroke="#222" stroke-width="1"/>
<text x="423.3" y="208.7" font-size="6.4" font-weight="bold" fill="#333" text-anchor="end" font-family="Liberation Sans, sans-serif">0.55</text>
<text x="554.0" y="374.6" font-size="7.6" fill="#333" text-anchor="middle" font-family="Liberation Sans, sans-serif">A: pH</text>
<text transform="translate(387.8 279.4) rotate(-90)" font-size="7.6" fill="#333" text-anchor="middle" font-family="Liberation Sans, sans-serif">C:FR</text>
<text x="554.0" y="202.3" font-size="7.6" fill="#333" letter-spacing="0.6" text-anchor="middle" font-family="Liberation Sans, sans-serif">R1</text>
<rect x="451.4" y="230.8" width="9.7" height="3.8" rx="1" fill="#fff" stroke="#777" stroke-width="0.4"/>
<text x="456.2" y="233.9" font-size="3.5" fill="#555" text-anchor="middle" font-family="Liberation Sans, sans-serif">2.5</text>
<rect x="519.6" y="241.1" width="5.5" height="3.8" rx="1" fill="#fff" stroke="#777" stroke-width="0.4"/>
<text x="522.3" y="244.2" font-size="3.5" fill="#555" text-anchor="middle" font-family="Liberation Sans, sans-serif">3</text>
<rect x="581.1" y="295.0" width="9.7" height="3.8" rx="1" fill="#fff" stroke="#777" stroke-width="0.4"/>
<text x="585.9" y="298.1" font-size="3.5" fill="#555" text-anchor="middle" font-family="Liberation Sans, sans-serif">3.5</text>
<rect x="667.1" y="209.0" width="9.7" height="3.8" rx="1" fill="#fff" stroke="#777" stroke-width="0.4"/>
<text x="672.0" y="212.1" font-size="3.5" fill="#555" text-anchor="middle" font-family="Liberation Sans, sans-serif">2.5</text>
<circle cx="431.3" cy="352.3" r="2" fill="#ee1111"/>
<circle cx="431.3" cy="206.5" r="2" fill="#ee1111"/>
<circle cx="680.7" cy="352.3" r="2" fill="#ee1111"/>
<circle cx="680.7" cy="206.5" r="2" fill="#ee1111"/>
<radialGradient id="g3" gradientUnits="userSpaceOnUse" cx="0" cy="0" r="1" fx="0" fy="0" gradientTransform="matrix(224.586 0.000 -198.151 569.136 396.91 863.76)">
<stop offset="0.000" stop-color="#e01418"/>
<stop offset="0.025" stop-color="#e01418"/>
<stop offset="0.050" stop-color="#e01418"/>
<stop offset="0.075" stop-color="#e01418"/>
<stop offset="0.100" stop-color="#e01418"/>
<stop offset="0.125" stop-color="#e01518"/>
<stop offset="0.150" stop-color="#e01518"/>
<stop offset="0.175" stop-color="#e11518"/>
<stop offset="0.200" stop-color="#e11518"/>
<stop offset="0.225" stop-color="#e11518"/>
<stop offset="0.250" stop-color="#e11518"/>
<stop offset="0.275" stop-color="#e11518"/>
<stop offset="0.300" stop-color="#e11619"/>
<stop offset="0.325" stop-color="#e11619"/>
<stop offset="0.350" stop-color="#e11619"/>
<stop offset="0.375" stop-color="#e21619"/>
<stop offset="0.400" stop-color="#e21719"/>
<stop offset="0.425" stop-color="#e21719"/>
<stop offset="0.450" stop-color="#e21719"/>
<stop offset="0.475" stop-color="#e31819"/>
<stop offset="0.500" stop-color="#e31819"/>
<stop offset="0.525" stop-color="#e3191a"/>
<stop offset="0.550" stop-color="#e3191a"/>
<stop offset="0.575" stop-color="#e4191a"/>
<stop offset="0.600" stop-color="#e41a1a"/>
<stop offset="0.625" stop-color="#e52019"/>
<stop offset="0.650" stop-color="#e62919"/>
<stop offset="0.675" stop-color="#e73218"/>
<stop offset="0.700" stop-color="#eb4c16"/>
<stop offset="0.725" stop-color="#ef6814"/>
<stop offset="0.750" stop-color="#f38712"/>
<stop offset="0.775" stop-color="#f6b110"/>
<stop offset="0.800" stop-color="#f7d80e"/>
<stop offset="0.825" stop-color="#e9e815"/>
<stop offset="0.850" stop-color="#c9dc27"/>
<stop offset="0.875" stop-color="#b2d42c"/>
<stop offset="0.900" stop-color="#9bcc31"/>
<stop offset="0.925" stop-color="#83c335"/>
<stop offset="0.950" stop-color="#77c03a"/>
<stop offset="0.975" stop-color="#71bf3f"/>
<stop offset="1.000" stop-color="#6bbe44"/>
</radialGradient>
<clipPath id="c3"><rect x="431.3" y="405" width="249.40000000000003" height="146"/></clipPath>
<rect x="431.3" y="405" width="249.40000000000003" height="146" fill="url(#g3)"/>
<g clip-path="url(#c3)" fill="none" stroke-width="0.9">
<path d="M675.5 551.0L675.7 547.4L675.9 543.7L676.1 540.0L676.2 536.4L676.3 532.8L676.5 529.1L676.5 525.8L676.6 523.6L676.7 520.0L676.7 516.3L676.7 512.7L676.7 509.0L676.7 505.4L676.6 501.7L676.5 498.6L676.5 496.2L676.4 492.6L676.2 488.9L676.0 485.3L675.8 481.7L675.6 478.0L675.3 474.3L675.0 470.7L674.7 467.0L674.5 464.5L674.2 461.6L673.7 457.9L673.3 454.3L672.8 450.6L672.4 447.7L672.0 445.1L671.4 441.5L670.8 437.8L670.3 435.3L669.7 432.4L669.0 428.7L668.2 425.3L667.8 423.2L666.9 419.6L666.2 416.8L665.4 414.1L664.4 410.5L663.8 408.6L662.7 405.0L662.7 405.0" stroke="#1e874b"/>
<path d="M450.6 405.0L448.7 406.8L446.9 408.6L445.1 410.5L443.3 412.3L441.5 414.1L439.6 416.1L437.5 418.2L435.5 420.4L433.4 422.6L431.3 424.9L431.3 424.9" stroke="#1e874b"/>
<path d="M651.7 551.0L651.7 547.4L651.7 543.7L651.7 540.0L651.7 536.4L651.6 532.8L651.6 530.9L651.5 527.3L651.3 523.6L651.2 520.0L651.0 516.3L650.7 512.7L650.5 509.0L650.2 505.4L649.8 501.7L649.5 498.6L649.3 496.2L648.8 492.6L648.4 488.9L647.9 485.3L647.4 482.6L647.0 479.8L646.4 476.2L645.7 472.5L645.3 470.7L644.6 467.0L643.8 463.4L643.3 461.4L642.4 457.9L641.4 454.3L640.9 452.4L639.8 448.8L639.1 446.5L638.1 443.3L637.1 440.4L636.1 437.8L635.0 435.0L633.9 432.4L632.9 430.1L631.4 426.9L630.5 425.1L628.7 421.6L627.6 419.6L626.6 417.8L624.6 414.5L623.2 412.3L621.9 410.5L620.4 408.4L618.4 405.7L617.8 405.0" stroke="#3c6e28"/>
<path d="M495.5 405.0L492.8 406.8L490.1 408.6L487.5 410.5L485.3 412.1L483.3 413.6L481.2 415.2L479.1 416.7L477.0 418.4L474.9 420.0L472.9 421.7L470.8 423.4L468.7 425.1L466.6 426.9L464.5 428.7L462.4 430.5L460.3 432.4L458.3 434.2L456.2 436.1L454.2 438.0L452.1 439.9L450.0 441.9L447.9 443.9L445.8 445.9L443.8 448.0L441.7 450.0L439.6 452.1L437.5 454.2L435.7 456.1L434.0 457.9L432.3 459.7L431.3 460.8" stroke="#3c6e28"/>
<path d="M623.1 551.0L622.9 547.4L622.6 543.7L622.4 541.9L622.0 538.2L621.6 534.6L621.2 530.9L620.7 527.3L620.4 525.4L619.8 521.8L619.2 518.1L618.5 514.5L618.2 512.7L617.4 509.0L616.5 505.4L616.1 503.5L615.1 499.9L614.2 496.5L613.6 494.4L612.4 490.8L611.8 488.9L610.5 485.3L609.8 483.5L608.3 479.8L607.5 478.0L605.9 474.4L605.0 472.5L603.8 470.2L602.0 467.0L601.0 465.2L599.6 463.1L597.6 460.0L596.1 457.9L594.7 456.1L593.2 454.3L591.3 452.1L589.3 449.9L587.2 447.9L585.1 446.0L583.0 444.3L580.9 442.8L578.9 441.4L576.1 439.7L572.6 437.9L570.5 436.9L568.4 436.0L564.3 434.6L562.2 434.1L558.1 433.2L553.9 432.6L551.6 432.4L547.7 432.2L543.5 432.3L541.5 432.5L537.3 432.9L533.1 433.6L530.2 434.2L526.9 435.0L523.3 436.0L520.7 436.8L517.8 437.8L514.4 439.1L512.4 440.0L508.8 441.5L506.1 442.7L504.0 443.7L501.3 445.1L497.9 447.0L495.7 448.2L493.7 449.4L491.5 450.6L488.6 452.4L485.7 454.3L483.3 455.9L481.2 457.3L479.1 458.8L477.0 460.3L474.9 461.8L472.7 463.4L470.4 465.2L468.0 467.0L465.7 468.9L463.5 470.7L461.3 472.5L459.1 474.3L457.0 476.2L454.9 478.0L452.8 479.8L450.8 481.6L448.8 483.5L446.9 485.3L444.9 487.1L443.0 488.9L441.1 490.8L439.3 492.6L437.4 494.4L435.5 496.4L433.4 498.5L431.3 500.7L431.3 500.7" stroke="#3a2410"/>
<path d="M584.9 551.0L583.9 547.4L583.0 544.5L582.1 541.9L580.9 538.4L580.2 536.4L578.9 533.2L577.9 530.9L576.8 528.5L575.2 525.4L574.3 523.6L572.6 520.8L571.0 518.1L569.7 516.3L568.4 514.5L566.4 511.9L564.3 509.4L562.2 507.3L560.3 505.4L558.2 503.5L556.0 501.9L553.9 500.4L551.8 499.1L549.8 497.9L546.2 496.2L543.5 495.2L541.2 494.4L537.3 493.4L533.1 492.7L531.1 492.5L526.9 492.3L522.7 492.4L520.1 492.6L516.5 493.1L512.4 493.8L509.8 494.4L506.1 495.4L503.5 496.2L499.9 497.5L497.8 498.3L494.1 499.9L491.6 501.0L489.5 502.0L486.5 503.5L483.3 505.3L481.2 506.5L479.1 507.7L476.9 509.0L474.0 510.8L471.2 512.7L468.7 514.4L466.6 515.9L464.6 517.4L462.5 518.9L460.4 520.5L458.3 522.1L456.2 523.8L454.1 525.4L452.0 527.3L449.8 529.1L447.7 530.9L445.6 532.8L443.6 534.6L441.6 536.4L439.6 538.2L437.5 540.2L435.5 542.2L433.4 544.2L431.3 546.3L431.3 546.3" stroke="#3a2410"/>
</g>
<rect x="431.3" y="405" width="249.40000000000003" height="146" fill="none" stroke="#555" stroke-width="0.7"/>
<path d="M431.3 404.5V551H681.2" fill="none" stroke="#222" stroke-width="1.3"/>
<path d="M431.3 551v3" stroke="#222" stroke-width="1"/>
<text x="431.3" y="562.3" font-size="6.4" font-weight="bold" fill="#333" text-anchor="middle" font-family="Liberation Sans, sans-serif">2.0</text>
<path d="M481.2 551v3" stroke="#222" stroke-width="1"/>
<text x="481.2" y="562.3" font-size="6.4" font-weight="bold" fill="#333" text-anchor="middle" font-family="Liberation Sans, sans-serif">2.2</text>
<path d="M531.1 551v3" stroke="#222" stroke-width="1"/>
<text x="531.1" y="562.3" font-size="6.4" font-weight="bold" fill="#333" text-anchor="middle" font-family="Liberation Sans, sans-serif">2.4</text>
<path d="M580.9 551v3" stroke="#222" stroke-width="1"/>
<text x="580.9" y="562.3" font-size="6.4" font-weight="bold" fill="#333" text-anchor="middle" font-family="Liberation Sans, sans-serif">2.6</text>
<path d="M630.8 551v3" stroke="#222" stroke-width="1"/>
<text x="630.8" y="562.3" font-size="6.4" font-weight="bold" fill="#333" text-anchor="middle" font-family="Liberation Sans, sans-serif">2.8</text>
<path d="M680.7 551v3" stroke="#222" stroke-width="1"/>
<text x="680.7" y="562.3" font-size="6.4" font-weight="bold" fill="#333" text-anchor="middle" font-family="Liberation Sans, sans-serif">3.0</text>
<path d="M431.3 551.0h-6" stroke="#222" stroke-width="1"/>
<text x="423.3" y="553.2" font-size="6.4" font-weight="bold" fill="#333" text-anchor="end" font-family="Liberation Sans, sans-serif">0.45</text>
<path d="M431.3 521.8h-6" stroke="#222" stroke-width="1"/>
<text x="423.3" y="524.0" font-size="6.4" font-weight="bold" fill="#333" text-anchor="end" font-family="Liberation Sans, sans-serif">0.47</text>
<path d="M431.3 492.6h-6" stroke="#222" stroke-width="1"/>
<text x="423.3" y="494.8" font-size="6.4" font-weight="bold" fill="#333" text-anchor="end" font-family="Liberation Sans, sans-serif">0.49</text>
<path d="M431.3 463.4h-6" stroke="#222" stroke-width="1"/>
<text x="423.3" y="465.6" font-size="6.4" font-weight="bold" fill="#333" text-anchor="end" font-family="Liberation Sans, sans-serif">0.51</text>
<path d="M431.3 434.2h-6" stroke="#222" stroke-width="1"/>
<text x="423.3" y="436.4" font-size="6.4" font-weight="bold" fill="#333" text-anchor="end" font-family="Liberation Sans, sans-serif">0.53</text>
<path d="M431.3 405.0h-6" stroke="#222" stroke-width="1"/>
<text x="423.3" y="407.2" font-size="6.4" font-weight="bold" fill="#333" text-anchor="end" font-family="Liberation Sans, sans-serif">0.55</text>
<text x="554.0" y="573.3" font-size="7.6" fill="#333" text-anchor="middle" font-family="Liberation Sans, sans-serif">B: OR</text>
<text transform="translate(387.8 478.0) rotate(-90)" font-size="7.6" fill="#333" text-anchor="middle" font-family="Liberation Sans, sans-serif">C:FR</text>
<text x="554.0" y="400.8" font-size="7.6" fill="#333" letter-spacing="0.6" text-anchor="middle" font-family="Liberation Sans, sans-serif">R1</text>
<rect x="438.5" y="412.6" width="5.5" height="3.8" rx="1" fill="#fff" stroke="#777" stroke-width="0.4"/>
<text x="441.3" y="415.7" font-size="3.5" fill="#555" text-anchor="middle" font-family="Liberation Sans, sans-serif">2</text>
<rect x="456.4" y="429.4" width="9.7" height="3.8" rx="1" fill="#fff" stroke="#777" stroke-width="0.4"/>
<text x="461.2" y="432.5" font-size="3.5" fill="#555" text-anchor="middle" font-family="Liberation Sans, sans-serif">2.5</text>
<rect x="560.7" y="429.4" width="5.5" height="3.8" rx="1" fill="#fff" stroke="#777" stroke-width="0.4"/>
<text x="563.5" y="432.5" font-size="3.5" fill="#555" text-anchor="middle" font-family="Liberation Sans, sans-serif">3</text>
<rect x="508.8" y="490.0" width="9.7" height="3.8" rx="1" fill="#fff" stroke="#777" stroke-width="0.4"/>
<text x="513.6" y="493.1" font-size="3.5" fill="#555" text-anchor="middle" font-family="Liberation Sans, sans-serif">3.5</text>
<rect x="640.9" y="469.5" width="9.7" height="3.8" rx="1" fill="#fff" stroke="#777" stroke-width="0.4"/>
<text x="645.8" y="472.6" font-size="3.5" fill="#555" text-anchor="middle" font-family="Liberation Sans, sans-serif">2.5</text>
<rect x="672.5" y="471.0" width="5.5" height="3.8" rx="1" fill="#fff" stroke="#777" stroke-width="0.4"/>
<text x="675.2" y="474.1" font-size="3.5" fill="#555" text-anchor="middle" font-family="Liberation Sans, sans-serif">2</text>
<ellipse cx="513.6" cy="478.7" rx="2.3" ry="1.5" fill="#7a0f0f"/>
<ellipse cx="618.8" cy="478.7" rx="2.6" ry="1.7" fill="#7a0f0f"/>
<ellipse cx="612.6" cy="478.7" rx="0.8" ry="0.5" fill="#7a0f0f"/>
<rect x="1.4" y="3.8" width="32.5" height="44.5" fill="#000"/>
<text x="17.599999999999998" y="37.099999999999994" font-size="31" fill="#fff" stroke="#fff" stroke-width="1.6" stroke-linejoin="round" text-anchor="middle" font-family="Liberation Sans, sans-serif">A</text>
<rect x="371.2" y="4" width="32.5" height="44.5" fill="#000"/>
<text x="387.4" y="37.3" font-size="31" fill="#fff" stroke="#fff" stroke-width="1.6" stroke-linejoin="round" text-anchor="middle" font-family="Liberation Sans, sans-serif">B</text>
<rect x="1.4" y="209.5" width="32.5" height="44.5" fill="#000"/>
<text x="17.599999999999998" y="242.8" font-size="31" fill="#fff" stroke="#fff" stroke-width="1.6" stroke-linejoin="round" text-anchor="middle" font-family="Liberation Sans, sans-serif">C</text>
<rect x="371.2" y="199.5" width="32.5" height="44.5" fill="#000"/>
<text x="387.4" y="232.8" font-size="31" fill="#fff" stroke="#fff" stroke-width="1.6" stroke-linejoin="round" text-anchor="middle" font-family="Liberation Sans, sans-serif">D</text>
<rect x="1.4" y="407.6" width="32.5" height="44.5" fill="#000"/>
<text x="17.599999999999998" y="440.90000000000003" font-size="31" fill="#fff" stroke="#fff" stroke-width="1.6" stroke-linejoin="round" text-anchor="middle" font-family="Liberation Sans, sans-serif">E</text>
<rect x="371.2" y="398.3" width="32.5" height="44.5" fill="#000"/>
<text x="387.4" y="431.6" font-size="31" fill="#fff" stroke="#fff" stroke-width="1.6" stroke-linejoin="round" text-anchor="middle" font-family="Liberation Sans, sans-serif">F</text>
</svg>
</body></html>
